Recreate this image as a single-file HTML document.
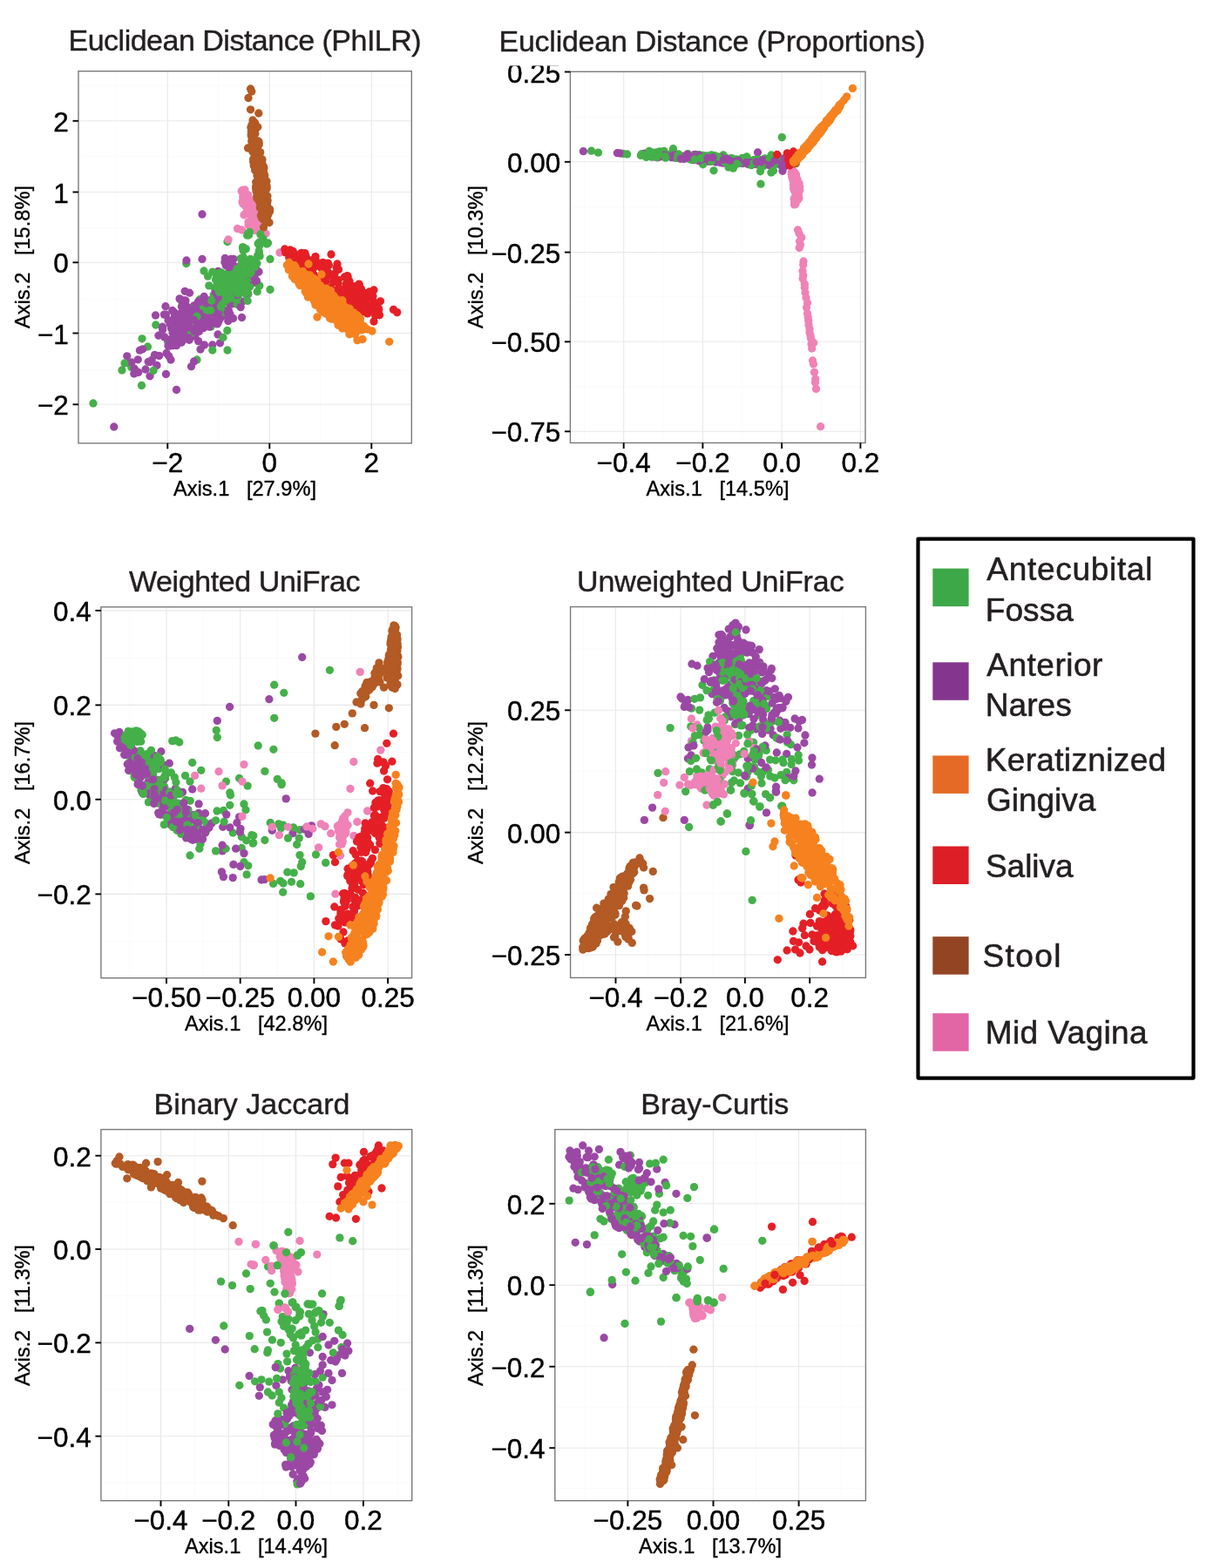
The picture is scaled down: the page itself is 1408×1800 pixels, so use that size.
<!DOCTYPE html>
<html lang="en"><head><meta charset="utf-8"><title>Ordination of beta-diversity distances</title>
<style>
html,body{margin:0;padding:0;background:#fff}
body{width:1408px;height:1800px;overflow:hidden}
svg{display:block;font-family:'Liberation Sans', sans-serif}
.tk{font-size:31.5px;fill:#000;stroke:#000;stroke-width:0.45px}
.ax{font-size:23.6px;fill:#000;stroke:#000;stroke-width:0.35px;white-space:pre}
.ti{font-size:34px;fill:#231f20;stroke:#231f20;stroke-width:0.4px}
.lg{font-size:37px;fill:#231f20;stroke:#231f20;stroke-width:0.55px}
</style></head><body>
<svg width="1408" height="1800" viewBox="0 0 1408 1800">
<rect width="1408" height="1800" fill="#fff"/>
<g class="panel">
<clipPath id="c0"><rect x="90" y="81.7" width="382.3" height="427.1"/></clipPath>
<g stroke="#fafafa" stroke-width="1" clip-path="url(#c0)">
<line x1="133.8" y1="81.7" x2="133.8" y2="508.8"/>
<line x1="250.8" y1="81.7" x2="250.8" y2="508.8"/>
<line x1="367.8" y1="81.7" x2="367.8" y2="508.8"/>
<line x1="90" y1="98" x2="472.3" y2="98"/>
<line x1="90" y1="179.7" x2="472.3" y2="179.7"/>
<line x1="90" y1="261.4" x2="472.3" y2="261.4"/>
<line x1="90" y1="343.1" x2="472.3" y2="343.1"/>
<line x1="90" y1="424.8" x2="472.3" y2="424.8"/>
<line x1="90" y1="506.4" x2="472.3" y2="506.4"/>
</g>
<g stroke="#e8e8e8" stroke-width="1.1" clip-path="url(#c0)">
<line x1="192.3" y1="81.7" x2="192.3" y2="508.8"/>
<line x1="309.3" y1="81.7" x2="309.3" y2="508.8"/>
<line x1="426.3" y1="81.7" x2="426.3" y2="508.8"/>
<line x1="90" y1="138.8" x2="472.3" y2="138.8"/>
<line x1="90" y1="220.5" x2="472.3" y2="220.5"/>
<line x1="90" y1="301.3" x2="472.3" y2="301.3"/>
<line x1="90" y1="382.5" x2="472.3" y2="382.5"/>
<line x1="90" y1="464.3" x2="472.3" y2="464.3"/>
</g>
<g clip-path="url(#c0)">
<g fill="#45B049"><circle cx="261" cy="277.5" r="4.65"/></g>
<g fill="#EF82B7"><circle cx="286.5" cy="231.7" r="4.65"/><circle cx="282.4" cy="244.2" r="4.65"/><circle cx="278.3" cy="218.4" r="4.65"/><circle cx="290" cy="232.6" r="4.65"/><circle cx="282.3" cy="224.3" r="4.65"/><circle cx="280.9" cy="221.8" r="4.65"/><circle cx="281.3" cy="221.8" r="4.65"/><circle cx="292.1" cy="242.8" r="4.65"/><circle cx="297.7" cy="262.3" r="4.65"/><circle cx="293.7" cy="261.2" r="4.65"/><circle cx="295" cy="263.5" r="4.65"/><circle cx="281.2" cy="225.2" r="4.65"/><circle cx="295.4" cy="260.4" r="4.65"/><circle cx="290.4" cy="247.6" r="4.65"/><circle cx="281.5" cy="236.5" r="4.65"/><circle cx="298" cy="257.6" r="4.65"/><circle cx="289.2" cy="251.9" r="4.65"/><circle cx="285.2" cy="258.5" r="4.65"/><circle cx="286" cy="243.1" r="4.65"/><circle cx="285" cy="254.8" r="4.65"/><circle cx="294.5" cy="258.3" r="4.65"/><circle cx="287.3" cy="231.9" r="4.65"/><circle cx="289.2" cy="242.4" r="4.65"/><circle cx="288.4" cy="245.4" r="4.65"/><circle cx="280.1" cy="222.1" r="4.65"/><circle cx="292.3" cy="264.5" r="4.65"/><circle cx="291.1" cy="234.1" r="4.65"/><circle cx="290" cy="256.2" r="4.65"/><circle cx="284" cy="236.3" r="4.65"/><circle cx="282.1" cy="225.7" r="4.65"/><circle cx="284.7" cy="223.8" r="4.65"/><circle cx="287.4" cy="232.4" r="4.65"/><circle cx="296.8" cy="246.1" r="4.65"/><circle cx="280.4" cy="230.8" r="4.65"/><circle cx="280" cy="246.8" r="4.65"/><circle cx="291.8" cy="259.7" r="4.65"/><circle cx="285.4" cy="245.5" r="4.65"/><circle cx="278.9" cy="234" r="4.65"/><circle cx="291" cy="250.5" r="4.65"/><circle cx="288.3" cy="233.3" r="4.65"/><circle cx="295.4" cy="257.6" r="4.65"/><circle cx="286.3" cy="228.6" r="4.65"/><circle cx="282.7" cy="229.3" r="4.65"/><circle cx="297.2" cy="247" r="4.65"/><circle cx="286.7" cy="230.5" r="4.65"/><circle cx="291.6" cy="248.3" r="4.65"/><circle cx="289.5" cy="263.8" r="4.65"/><circle cx="286.9" cy="229.4" r="4.65"/><circle cx="290.1" cy="255.5" r="4.65"/><circle cx="295.3" cy="255.3" r="4.65"/><circle cx="295.7" cy="263.8" r="4.65"/><circle cx="277.2" cy="219.4" r="4.65"/><circle cx="294.6" cy="263.4" r="4.65"/><circle cx="296.3" cy="255" r="4.65"/><circle cx="278.8" cy="226.5" r="4.65"/><circle cx="296.5" cy="248.7" r="4.65"/><circle cx="286.9" cy="232.3" r="4.65"/><circle cx="297.2" cy="255.2" r="4.65"/><circle cx="278" cy="231.8" r="4.65"/><circle cx="293.3" cy="250.3" r="4.65"/><circle cx="272.5" cy="262.5" r="4.65"/><circle cx="277.5" cy="264" r="4.65"/><circle cx="262" cy="275" r="4.65"/><circle cx="321" cy="290" r="4.65"/><circle cx="281" cy="218" r="4.65"/><circle cx="279" cy="224" r="4.65"/><circle cx="302" cy="270" r="4.65"/><circle cx="305" cy="268" r="4.65"/></g>
<g fill="#B35A25"><circle cx="287.5" cy="102" r="4.65"/><circle cx="288.8" cy="105" r="4.65"/><circle cx="285" cy="112.5" r="4.65"/><circle cx="287.5" cy="125.8" r="4.65"/><circle cx="296.8" cy="130" r="4.65"/><circle cx="290" cy="138" r="4.65"/><circle cx="295.8" cy="145.8" r="4.65"/><circle cx="309" cy="255.5" r="4.65"/><circle cx="302.5" cy="261" r="4.65"/><circle cx="284.5" cy="170" r="4.65"/><circle cx="294.1" cy="187.2" r="4.65"/><circle cx="290.7" cy="143" r="4.65"/><circle cx="302.8" cy="198.5" r="4.65"/><circle cx="291.3" cy="166.1" r="4.65"/><circle cx="299.2" cy="188.1" r="4.65"/><circle cx="291.3" cy="164.1" r="4.65"/><circle cx="306.6" cy="249.1" r="4.65"/><circle cx="299.9" cy="195.8" r="4.65"/><circle cx="295" cy="188.8" r="4.65"/><circle cx="298.7" cy="174.8" r="4.65"/><circle cx="296.5" cy="202" r="4.65"/><circle cx="292.7" cy="195.5" r="4.65"/><circle cx="296.7" cy="164.5" r="4.65"/><circle cx="299.4" cy="247.4" r="4.65"/><circle cx="302.3" cy="231.4" r="4.65"/><circle cx="307.1" cy="230.2" r="4.65"/><circle cx="296" cy="226.5" r="4.65"/><circle cx="301.3" cy="243.6" r="4.65"/><circle cx="303.1" cy="203.8" r="4.65"/><circle cx="306.2" cy="215.9" r="4.65"/><circle cx="305" cy="253.9" r="4.65"/><circle cx="304.9" cy="233.8" r="4.65"/><circle cx="295" cy="175.5" r="4.65"/><circle cx="302.9" cy="200.9" r="4.65"/><circle cx="291.5" cy="163.1" r="4.65"/><circle cx="294" cy="175.2" r="4.65"/><circle cx="296.5" cy="211.4" r="4.65"/><circle cx="299.2" cy="186.9" r="4.65"/><circle cx="291.2" cy="189.8" r="4.65"/><circle cx="301.8" cy="190.3" r="4.65"/><circle cx="297.4" cy="222.4" r="4.65"/><circle cx="297.8" cy="231.9" r="4.65"/><circle cx="295.6" cy="192.7" r="4.65"/><circle cx="306.4" cy="235.9" r="4.65"/><circle cx="297.2" cy="165.9" r="4.65"/><circle cx="300.3" cy="218" r="4.65"/><circle cx="288.5" cy="170.2" r="4.65"/><circle cx="298.2" cy="238.3" r="4.65"/><circle cx="300.8" cy="246.9" r="4.65"/><circle cx="294.7" cy="218.3" r="4.65"/><circle cx="305.5" cy="249.1" r="4.65"/><circle cx="288.7" cy="162" r="4.65"/><circle cx="305.7" cy="246.2" r="4.65"/><circle cx="290" cy="161.2" r="4.65"/><circle cx="292.6" cy="141" r="4.65"/><circle cx="304.1" cy="214.6" r="4.65"/><circle cx="295.1" cy="188.7" r="4.65"/><circle cx="293" cy="192.7" r="4.65"/><circle cx="302" cy="251.3" r="4.65"/><circle cx="306" cy="236" r="4.65"/><circle cx="291" cy="171.5" r="4.65"/><circle cx="294.8" cy="225" r="4.65"/><circle cx="294.5" cy="164.8" r="4.65"/><circle cx="305.9" cy="208" r="4.65"/><circle cx="297" cy="186" r="4.65"/><circle cx="301.7" cy="238.9" r="4.65"/><circle cx="297.3" cy="179.7" r="4.65"/><circle cx="300.9" cy="222.1" r="4.65"/><circle cx="300.3" cy="249.9" r="4.65"/><circle cx="294.3" cy="179.3" r="4.65"/><circle cx="294.8" cy="175" r="4.65"/><circle cx="294.5" cy="197" r="4.65"/><circle cx="300.7" cy="240.4" r="4.65"/><circle cx="301.5" cy="216" r="4.65"/><circle cx="296.4" cy="216.4" r="4.65"/><circle cx="302.5" cy="240.5" r="4.65"/><circle cx="290.8" cy="182.3" r="4.65"/><circle cx="298.7" cy="203.8" r="4.65"/><circle cx="295" cy="201.6" r="4.65"/><circle cx="301" cy="183" r="4.65"/><circle cx="302.7" cy="223.5" r="4.65"/><circle cx="304.1" cy="214.6" r="4.65"/><circle cx="297.9" cy="231" r="4.65"/><circle cx="296.2" cy="209.6" r="4.65"/><circle cx="290" cy="168.5" r="4.65"/><circle cx="295.7" cy="190.4" r="4.65"/><circle cx="295.2" cy="170.6" r="4.65"/><circle cx="290.2" cy="174.7" r="4.65"/><circle cx="292.7" cy="153.2" r="4.65"/><circle cx="300.9" cy="193.4" r="4.65"/><circle cx="296.5" cy="211.5" r="4.65"/><circle cx="303.7" cy="205.9" r="4.65"/><circle cx="290.8" cy="169.6" r="4.65"/><circle cx="299.3" cy="192.6" r="4.65"/><circle cx="296.1" cy="162.5" r="4.65"/><circle cx="288.5" cy="156.5" r="4.65"/><circle cx="289.1" cy="156" r="4.65"/><circle cx="302.3" cy="252" r="4.65"/><circle cx="294.2" cy="168.7" r="4.65"/><circle cx="302.9" cy="208.9" r="4.65"/><circle cx="306.6" cy="233.7" r="4.65"/><circle cx="293.7" cy="209" r="4.65"/><circle cx="300.4" cy="245.9" r="4.65"/><circle cx="290.7" cy="185.4" r="4.65"/><circle cx="301.9" cy="196.3" r="4.65"/><circle cx="299.3" cy="225.6" r="4.65"/><circle cx="290.8" cy="144.4" r="4.65"/><circle cx="309.5" cy="242.3" r="4.65"/><circle cx="306.9" cy="225.1" r="4.65"/><circle cx="289.6" cy="155.8" r="4.65"/><circle cx="302.5" cy="220.9" r="4.65"/><circle cx="304.9" cy="223.7" r="4.65"/><circle cx="292.6" cy="153.8" r="4.65"/><circle cx="305.9" cy="213.2" r="4.65"/><circle cx="291.2" cy="186" r="4.65"/><circle cx="293.7" cy="192" r="4.65"/><circle cx="294.1" cy="219.7" r="4.65"/><circle cx="290" cy="173.8" r="4.65"/><circle cx="287.9" cy="146.2" r="4.65"/><circle cx="293.1" cy="146.8" r="4.65"/><circle cx="302.7" cy="191.8" r="4.65"/><circle cx="303.7" cy="201.5" r="4.65"/><circle cx="288.9" cy="143.5" r="4.65"/><circle cx="305" cy="242" r="4.65"/><circle cx="298.2" cy="188.6" r="4.65"/><circle cx="309.1" cy="243.4" r="4.65"/><circle cx="297.8" cy="218.4" r="4.65"/><circle cx="304" cy="222" r="4.65"/><circle cx="296.1" cy="162" r="4.65"/><circle cx="292.5" cy="190" r="4.65"/><circle cx="301" cy="207.6" r="4.65"/><circle cx="296.7" cy="193.8" r="4.65"/><circle cx="295.6" cy="173.1" r="4.65"/><circle cx="288.2" cy="154.9" r="4.65"/><circle cx="305.1" cy="253.8" r="4.65"/><circle cx="298.7" cy="225.2" r="4.65"/><circle cx="300.7" cy="232.5" r="4.65"/><circle cx="300.3" cy="187.6" r="4.65"/><circle cx="304.2" cy="213.5" r="4.65"/><circle cx="301.8" cy="192.4" r="4.65"/><circle cx="302.1" cy="206.2" r="4.65"/><circle cx="305.6" cy="212.4" r="4.65"/><circle cx="298.9" cy="238.5" r="4.65"/><circle cx="288.4" cy="150.3" r="4.65"/><circle cx="302.1" cy="221.5" r="4.65"/><circle cx="295.9" cy="214.2" r="4.65"/><circle cx="299" cy="230.6" r="4.65"/><circle cx="304.3" cy="235.1" r="4.65"/><circle cx="309.5" cy="240.1" r="4.65"/><circle cx="305.5" cy="233.8" r="4.65"/><circle cx="300.6" cy="199.8" r="4.65"/><circle cx="302.5" cy="236" r="4.65"/><circle cx="293.8" cy="214.4" r="4.65"/><circle cx="298.9" cy="190.4" r="4.65"/><circle cx="293.6" cy="215.6" r="4.65"/><circle cx="294.7" cy="169.6" r="4.65"/><circle cx="295.6" cy="198.8" r="4.65"/><circle cx="305.7" cy="243.3" r="4.65"/><circle cx="297.4" cy="220.4" r="4.65"/><circle cx="304.2" cy="207.7" r="4.65"/><circle cx="299.5" cy="184.8" r="4.65"/><circle cx="300.1" cy="196" r="4.65"/><circle cx="302.3" cy="248.1" r="4.65"/><circle cx="299.7" cy="210.8" r="4.65"/><circle cx="305.5" cy="217.2" r="4.65"/><circle cx="307.3" cy="247.3" r="4.65"/><circle cx="298.2" cy="224.2" r="4.65"/><circle cx="295" cy="227.8" r="4.65"/><circle cx="293.9" cy="214.2" r="4.65"/><circle cx="305.5" cy="246.1" r="4.65"/><circle cx="301.3" cy="202.6" r="4.65"/><circle cx="296.9" cy="220.4" r="4.65"/><circle cx="296.1" cy="202.5" r="4.65"/><circle cx="300.6" cy="187" r="4.65"/><circle cx="296.3" cy="227.9" r="4.65"/><circle cx="289.1" cy="165.9" r="4.65"/><circle cx="300.7" cy="248.5" r="4.65"/><circle cx="300.9" cy="205.1" r="4.65"/><circle cx="294" cy="217.3" r="4.65"/><circle cx="293.1" cy="189" r="4.65"/><circle cx="299.4" cy="230" r="4.65"/><circle cx="293.8" cy="178.4" r="4.65"/><circle cx="299.9" cy="224.2" r="4.65"/><circle cx="290.7" cy="163.5" r="4.65"/><circle cx="295.2" cy="180.3" r="4.65"/><circle cx="291.8" cy="190.9" r="4.65"/><circle cx="302.2" cy="213" r="4.65"/><circle cx="295" cy="216.9" r="4.65"/><circle cx="300.4" cy="186.6" r="4.65"/><circle cx="291.8" cy="160.2" r="4.65"/><circle cx="303.6" cy="213.6" r="4.65"/><circle cx="297" cy="162.9" r="4.65"/><circle cx="299.8" cy="189.9" r="4.65"/><circle cx="300" cy="224.8" r="4.65"/><circle cx="302.7" cy="199.9" r="4.65"/><circle cx="302.8" cy="193.3" r="4.65"/><circle cx="292.3" cy="150.2" r="4.65"/><circle cx="298.2" cy="175.6" r="4.65"/><circle cx="301" cy="197.8" r="4.65"/><circle cx="301.3" cy="206.5" r="4.65"/><circle cx="303.5" cy="249" r="4.65"/><circle cx="304.5" cy="236.9" r="4.65"/><circle cx="299.3" cy="215.6" r="4.65"/><circle cx="297.6" cy="210.1" r="4.65"/><circle cx="302.4" cy="200.8" r="4.65"/><circle cx="294.9" cy="163.4" r="4.65"/><circle cx="297.3" cy="188.1" r="4.65"/><circle cx="292" cy="162.5" r="4.65"/><circle cx="298.4" cy="221.4" r="4.65"/><circle cx="288.4" cy="152.7" r="4.65"/></g>
<g fill="#45B049"><circle cx="290.3" cy="305.8" r="4.65"/></g>
<g fill="#9B48A4"><circle cx="279.9" cy="312" r="4.65"/><circle cx="235.1" cy="374.5" r="4.65"/><circle cx="217.5" cy="336.2" r="4.65"/></g>
<g fill="#45B049"><circle cx="267.4" cy="325.4" r="4.65"/></g>
<g fill="#9B48A4"><circle cx="198.6" cy="396.6" r="4.65"/></g>
<g fill="#45B049"><circle cx="287.1" cy="307.5" r="4.65"/><circle cx="261.4" cy="335.8" r="4.65"/></g>
<g fill="#9B48A4"><circle cx="234.9" cy="351.7" r="4.65"/></g>
<g fill="#45B049"><circle cx="248.6" cy="334" r="4.65"/><circle cx="209.5" cy="377.4" r="4.65"/><circle cx="269.1" cy="321" r="4.65"/></g>
<g fill="#9B48A4"><circle cx="267.7" cy="304.7" r="4.65"/><circle cx="241.4" cy="344.6" r="4.65"/><circle cx="225.7" cy="364.6" r="4.65"/></g>
<g fill="#45B049"><circle cx="238.3" cy="350.6" r="4.65"/></g>
<g fill="#9B48A4"><circle cx="263" cy="327.2" r="4.65"/><circle cx="208.7" cy="359.7" r="4.65"/></g>
<g fill="#45B049"><circle cx="267.6" cy="339.5" r="4.65"/></g>
<g fill="#9B48A4"><circle cx="238.9" cy="352" r="4.65"/></g>
<g fill="#45B049"><circle cx="268.7" cy="316.3" r="4.65"/></g>
<g fill="#9B48A4"><circle cx="186.6" cy="378.5" r="4.65"/><circle cx="229.4" cy="376.2" r="4.65"/></g>
<g fill="#45B049"><circle cx="233" cy="346.9" r="4.65"/><circle cx="272.9" cy="323.2" r="4.65"/></g>
<g fill="#9B48A4"><circle cx="229" cy="366.3" r="4.65"/></g>
<g fill="#45B049"><circle cx="216" cy="373.8" r="4.65"/><circle cx="264.7" cy="319.8" r="4.65"/></g>
<g fill="#9B48A4"><circle cx="251.7" cy="346.2" r="4.65"/><circle cx="234.5" cy="396" r="4.65"/><circle cx="229.5" cy="362.5" r="4.65"/></g>
<g fill="#45B049"><circle cx="260.8" cy="379.5" r="4.65"/><circle cx="290.6" cy="310.9" r="4.65"/></g>
<g fill="#9B48A4"><circle cx="266.2" cy="302.7" r="4.65"/><circle cx="236.9" cy="345.1" r="4.65"/></g>
<g fill="#45B049"><circle cx="268.6" cy="327.6" r="4.65"/></g>
<g fill="#9B48A4"><circle cx="147.9" cy="416.9" r="4.65"/></g>
<g fill="#45B049"><circle cx="293" cy="324.1" r="4.65"/></g>
<g fill="#9B48A4"><circle cx="224.1" cy="364.4" r="4.65"/></g>
<g fill="#45B049"><circle cx="247.3" cy="341.6" r="4.65"/><circle cx="275.2" cy="323.7" r="4.65"/><circle cx="291.9" cy="307" r="4.65"/><circle cx="277.2" cy="304.5" r="4.65"/><circle cx="277.7" cy="327.8" r="4.65"/><circle cx="202.2" cy="366.1" r="4.65"/></g>
<g fill="#9B48A4"><circle cx="263.1" cy="348.4" r="4.65"/><circle cx="190.4" cy="361.1" r="4.65"/><circle cx="188.4" cy="361.1" r="4.65"/></g>
<g fill="#45B049"><circle cx="192.5" cy="392" r="4.65"/></g>
<g fill="#9B48A4"><circle cx="233.6" cy="364.2" r="4.65"/></g>
<g fill="#45B049"><circle cx="255.6" cy="344" r="4.65"/></g>
<g fill="#9B48A4"><circle cx="212.3" cy="384.9" r="4.65"/><circle cx="280.3" cy="327.9" r="4.65"/><circle cx="208" cy="383.4" r="4.65"/></g>
<g fill="#45B049"><circle cx="281.6" cy="329.9" r="4.65"/><circle cx="269.4" cy="314.8" r="4.65"/><circle cx="275.2" cy="324.5" r="4.65"/></g>
<g fill="#9B48A4"><circle cx="252.5" cy="393.8" r="4.65"/><circle cx="239.3" cy="352.7" r="4.65"/><circle cx="153.8" cy="429" r="4.65"/><circle cx="249.4" cy="330.2" r="4.65"/></g>
<g fill="#45B049"><circle cx="200.5" cy="386.7" r="4.65"/></g>
<g fill="#9B48A4"><circle cx="256.1" cy="335.8" r="4.65"/></g>
<g fill="#45B049"><circle cx="258.8" cy="335.7" r="4.65"/><circle cx="255.1" cy="346.6" r="4.65"/><circle cx="272.4" cy="335.5" r="4.65"/><circle cx="270.5" cy="332.5" r="4.65"/></g>
<g fill="#9B48A4"><circle cx="209.8" cy="380.6" r="4.65"/><circle cx="247" cy="345.6" r="4.65"/></g>
<g fill="#45B049"><circle cx="248.6" cy="328.1" r="4.65"/></g>
<g fill="#9B48A4"><circle cx="223.9" cy="386.1" r="4.65"/><circle cx="268.3" cy="327.4" r="4.65"/><circle cx="223" cy="379.4" r="4.65"/></g>
<g fill="#45B049"><circle cx="290.3" cy="300.8" r="4.65"/><circle cx="281.2" cy="305.3" r="4.65"/></g>
<g fill="#9B48A4"><circle cx="267.5" cy="365.5" r="4.65"/></g>
<g fill="#45B049"><circle cx="275" cy="315.2" r="4.65"/></g>
<g fill="#9B48A4"><circle cx="238.2" cy="364.4" r="4.65"/><circle cx="210.8" cy="351.8" r="4.65"/></g>
<g fill="#45B049"><circle cx="286.6" cy="316.5" r="4.65"/><circle cx="229.3" cy="343.7" r="4.65"/></g>
<g fill="#9B48A4"><circle cx="196.4" cy="392.9" r="4.65"/><circle cx="243.8" cy="396" r="4.65"/></g>
<g fill="#45B049"><circle cx="265.4" cy="324.1" r="4.65"/><circle cx="230.9" cy="354.3" r="4.65"/><circle cx="279.8" cy="318.4" r="4.65"/><circle cx="283" cy="327.5" r="4.65"/></g>
<g fill="#9B48A4"><circle cx="235.1" cy="369.9" r="4.65"/><circle cx="217.2" cy="390.3" r="4.65"/><circle cx="232.2" cy="358.2" r="4.65"/><circle cx="269.6" cy="340.7" r="4.65"/><circle cx="212.7" cy="382.1" r="4.65"/><circle cx="249.2" cy="371.9" r="4.65"/><circle cx="210.3" cy="366.7" r="4.65"/><circle cx="206.4" cy="372.3" r="4.65"/><circle cx="236.8" cy="362.7" r="4.65"/><circle cx="226.9" cy="371.9" r="4.65"/><circle cx="208.8" cy="376.7" r="4.65"/></g>
<g fill="#45B049"><circle cx="218.6" cy="375.4" r="4.65"/><circle cx="259.8" cy="322.5" r="4.65"/></g>
<g fill="#9B48A4"><circle cx="209.1" cy="372.9" r="4.65"/><circle cx="222.5" cy="351" r="4.65"/><circle cx="227.3" cy="361.6" r="4.65"/></g>
<g fill="#45B049"><circle cx="284.4" cy="299.5" r="4.65"/></g>
<g fill="#9B48A4"><circle cx="232" cy="297.5" r="4.65"/></g>
<g fill="#45B049"><circle cx="279.1" cy="319.8" r="4.65"/></g>
<g fill="#9B48A4"><circle cx="196.7" cy="373.2" r="4.65"/><circle cx="268.9" cy="312.3" r="4.65"/><circle cx="250.8" cy="340.5" r="4.65"/><circle cx="210.8" cy="357.1" r="4.65"/><circle cx="232.3" cy="348.2" r="4.65"/></g>
<g fill="#45B049"><circle cx="284.4" cy="322.3" r="4.65"/><circle cx="213.8" cy="302.5" r="4.65"/></g>
<g fill="#9B48A4"><circle cx="262.3" cy="356.1" r="4.65"/><circle cx="221.1" cy="385.5" r="4.65"/></g>
<g fill="#45B049"><circle cx="273.2" cy="309.1" r="4.65"/></g>
<g fill="#9B48A4"><circle cx="233.4" cy="376.6" r="4.65"/></g>
<g fill="#45B049"><circle cx="278.5" cy="310.5" r="4.65"/><circle cx="284.2" cy="308.5" r="4.65"/></g>
<g fill="#9B48A4"><circle cx="239.4" cy="347.1" r="4.65"/></g>
<g fill="#45B049"><circle cx="307.5" cy="279" r="4.65"/><circle cx="278.2" cy="310.5" r="4.65"/></g>
<g fill="#9B48A4"><circle cx="258.8" cy="326.6" r="4.65"/></g>
<g fill="#45B049"><circle cx="169.5" cy="398" r="4.65"/><circle cx="261.9" cy="334.5" r="4.65"/><circle cx="270.8" cy="317.7" r="4.65"/></g>
<g fill="#9B48A4"><circle cx="209.3" cy="358.1" r="4.65"/><circle cx="232" cy="246" r="4.65"/><circle cx="158.8" cy="427.5" r="4.65"/></g>
<g fill="#45B049"><circle cx="211.7" cy="374.3" r="4.65"/><circle cx="246.8" cy="332.3" r="4.65"/><circle cx="250.2" cy="347.1" r="4.65"/></g>
<g fill="#9B48A4"><circle cx="230" cy="401" r="4.65"/><circle cx="229.2" cy="370.4" r="4.65"/><circle cx="235.2" cy="373.7" r="4.65"/></g>
<g fill="#45B049"><circle cx="259.3" cy="340.6" r="4.65"/><circle cx="273.1" cy="343.2" r="4.65"/></g>
<g fill="#9B48A4"><circle cx="211.3" cy="377.1" r="4.65"/><circle cx="268" cy="297.3" r="4.65"/></g>
<g fill="#45B049"><circle cx="279.1" cy="305" r="4.65"/><circle cx="178.8" cy="373" r="4.65"/></g>
<g fill="#9B48A4"><circle cx="277.3" cy="333.8" r="4.65"/><circle cx="257.8" cy="356.6" r="4.65"/></g>
<g fill="#45B049"><circle cx="212.9" cy="385.3" r="4.65"/></g>
<g fill="#9B48A4"><circle cx="233.7" cy="356.4" r="4.65"/><circle cx="213.4" cy="350.8" r="4.65"/><circle cx="202.8" cy="375.7" r="4.65"/></g>
<g fill="#45B049"><circle cx="259.7" cy="315" r="4.65"/><circle cx="234" cy="311" r="4.65"/></g>
<g fill="#9B48A4"><circle cx="177.5" cy="407.5" r="4.65"/></g>
<g fill="#45B049"><circle cx="237.6" cy="348.6" r="4.65"/></g>
<g fill="#9B48A4"><circle cx="227.7" cy="370.3" r="4.65"/><circle cx="216.5" cy="366.7" r="4.65"/></g>
<g fill="#45B049"><circle cx="245.2" cy="338.3" r="4.65"/></g>
<g fill="#9B48A4"><circle cx="249.1" cy="351.6" r="4.65"/><circle cx="271.9" cy="306.8" r="4.65"/><circle cx="263.1" cy="307.9" r="4.65"/></g>
<g fill="#45B049"><circle cx="107" cy="463" r="4.65"/></g>
<g fill="#9B48A4"><circle cx="224.8" cy="350.7" r="4.65"/></g>
<g fill="#45B049"><circle cx="276.2" cy="304.8" r="4.65"/><circle cx="270.2" cy="333.2" r="4.65"/></g>
<g fill="#9B48A4"><circle cx="158.3" cy="412.8" r="4.65"/><circle cx="284.7" cy="337.7" r="4.65"/><circle cx="290.9" cy="323.4" r="4.65"/><circle cx="247.1" cy="335.7" r="4.65"/><circle cx="197.8" cy="372" r="4.65"/></g>
<g fill="#45B049"><circle cx="287.4" cy="297.5" r="4.65"/></g>
<g fill="#9B48A4"><circle cx="216.2" cy="380.9" r="4.65"/></g>
<g fill="#45B049"><circle cx="258" cy="334.2" r="4.65"/></g>
<g fill="#9B48A4"><circle cx="174.2" cy="413.3" r="4.65"/><circle cx="212.9" cy="345.1" r="4.65"/><circle cx="251" cy="368.2" r="4.65"/><circle cx="194.7" cy="397.2" r="4.65"/></g>
<g fill="#45B049"><circle cx="297.8" cy="328" r="4.65"/></g>
<g fill="#9B48A4"><circle cx="250.4" cy="311.4" r="4.65"/></g>
<g fill="#45B049"><circle cx="295.2" cy="334.8" r="4.65"/><circle cx="310" cy="297.5" r="4.65"/><circle cx="284.6" cy="337.3" r="4.65"/></g>
<g fill="#9B48A4"><circle cx="251.5" cy="340.8" r="4.65"/></g>
<g fill="#45B049"><circle cx="219.6" cy="382.1" r="4.65"/></g>
<g fill="#9B48A4"><circle cx="226.8" cy="365" r="4.65"/></g>
<g fill="#45B049"><circle cx="271.6" cy="338" r="4.65"/><circle cx="260.9" cy="320" r="4.65"/><circle cx="279.6" cy="324.4" r="4.65"/></g>
<g fill="#9B48A4"><circle cx="203.4" cy="383.8" r="4.65"/></g>
<g fill="#45B049"><circle cx="285.7" cy="316.1" r="4.65"/></g>
<g fill="#9B48A4"><circle cx="246.4" cy="369.9" r="4.65"/></g>
<g fill="#45B049"><circle cx="250.2" cy="357.1" r="4.65"/></g>
<g fill="#9B48A4"><circle cx="223.3" cy="358.2" r="4.65"/><circle cx="223" cy="380.2" r="4.65"/></g>
<g fill="#45B049"><circle cx="274.1" cy="317.9" r="4.65"/></g>
<g fill="#9B48A4"><circle cx="180" cy="419.5" r="4.65"/></g>
<g fill="#45B049"><circle cx="271.7" cy="329.2" r="4.65"/></g>
<g fill="#9B48A4"><circle cx="211.4" cy="359.4" r="4.65"/></g>
<g fill="#45B049"><circle cx="282.4" cy="326.4" r="4.65"/><circle cx="276.4" cy="335.7" r="4.65"/></g>
<g fill="#9B48A4"><circle cx="228.8" cy="349.3" r="4.65"/></g>
<g fill="#45B049"><circle cx="140" cy="425" r="4.65"/><circle cx="276.6" cy="325.9" r="4.65"/></g>
<g fill="#9B48A4"><circle cx="238.4" cy="345.8" r="4.65"/><circle cx="256.1" cy="362.2" r="4.65"/></g>
<g fill="#45B049"><circle cx="250.7" cy="324.2" r="4.65"/><circle cx="279.2" cy="326.7" r="4.65"/><circle cx="228.3" cy="357.9" r="4.65"/><circle cx="280.4" cy="310.4" r="4.65"/></g>
<g fill="#9B48A4"><circle cx="182.6" cy="408.4" r="4.65"/></g>
<g fill="#45B049"><circle cx="150.8" cy="421.8" r="4.65"/></g>
<g fill="#9B48A4"><circle cx="130.8" cy="490" r="4.65"/><circle cx="163.8" cy="400.8" r="4.65"/><circle cx="292.5" cy="324.3" r="4.65"/></g>
<g fill="#45B049"><circle cx="268.7" cy="320.4" r="4.65"/></g>
<g fill="#9B48A4"><circle cx="170.2" cy="415.3" r="4.65"/><circle cx="244.3" cy="358.4" r="4.65"/><circle cx="216.6" cy="375.5" r="4.65"/><circle cx="278.9" cy="303.9" r="4.65"/><circle cx="252.1" cy="350.8" r="4.65"/><circle cx="226.4" cy="349.2" r="4.65"/><circle cx="242.7" cy="368.2" r="4.65"/></g>
<g fill="#45B049"><circle cx="287.7" cy="309.2" r="4.65"/></g>
<g fill="#9B48A4"><circle cx="279.4" cy="330.7" r="4.65"/><circle cx="151" cy="416" r="4.65"/><circle cx="275.5" cy="331.7" r="4.65"/></g>
<g fill="#45B049"><circle cx="270.4" cy="334.8" r="4.65"/></g>
<g fill="#9B48A4"><circle cx="193.1" cy="367.7" r="4.65"/><circle cx="245.2" cy="359" r="4.65"/><circle cx="210.8" cy="352.4" r="4.65"/><circle cx="234" cy="348.3" r="4.65"/></g>
<g fill="#45B049"><circle cx="275.5" cy="308.3" r="4.65"/></g>
<g fill="#9B48A4"><circle cx="172" cy="431.8" r="4.65"/><circle cx="200.5" cy="361.9" r="4.65"/><circle cx="209.1" cy="379.5" r="4.65"/><circle cx="227.8" cy="346.3" r="4.65"/></g>
<g fill="#45B049"><circle cx="275.2" cy="316.6" r="4.65"/></g>
<g fill="#9B48A4"><circle cx="287.1" cy="304.4" r="4.65"/><circle cx="268.6" cy="343.4" r="4.65"/><circle cx="267.1" cy="348.8" r="4.65"/></g>
<g fill="#45B049"><circle cx="275.3" cy="328.1" r="4.65"/></g>
<g fill="#9B48A4"><circle cx="208.2" cy="393.1" r="4.65"/></g>
<g fill="#45B049"><circle cx="265.2" cy="325.1" r="4.65"/><circle cx="255.3" cy="349.2" r="4.65"/><circle cx="288.9" cy="300.1" r="4.65"/></g>
<g fill="#9B48A4"><circle cx="214.3" cy="356.8" r="4.65"/></g>
<g fill="#45B049"><circle cx="257.8" cy="341.6" r="4.65"/><circle cx="264.2" cy="311.7" r="4.65"/><circle cx="268.3" cy="315.8" r="4.65"/></g>
<g fill="#9B48A4"><circle cx="212.3" cy="354.4" r="4.65"/></g>
<g fill="#45B049"><circle cx="266.5" cy="312.9" r="4.65"/></g>
<g fill="#9B48A4"><circle cx="206.1" cy="342.9" r="4.65"/></g>
<g fill="#45B049"><circle cx="275.9" cy="329.3" r="4.65"/><circle cx="275.6" cy="319.1" r="4.65"/></g>
<g fill="#9B48A4"><circle cx="212.2" cy="334.3" r="4.65"/></g>
<g fill="#45B049"><circle cx="273.1" cy="334.1" r="4.65"/></g>
<g fill="#9B48A4"><circle cx="259.3" cy="304.8" r="4.65"/></g>
<g fill="#45B049"><circle cx="273.2" cy="337" r="4.65"/></g>
<g fill="#9B48A4"><circle cx="199" cy="389.7" r="4.65"/></g>
<g fill="#45B049"><circle cx="279.9" cy="323.9" r="4.65"/></g>
<g fill="#9B48A4"><circle cx="235.7" cy="362.8" r="4.65"/><circle cx="225.3" cy="350.6" r="4.65"/><circle cx="257.9" cy="301" r="4.65"/></g>
<g fill="#45B049"><circle cx="203.2" cy="390.2" r="4.65"/><circle cx="279.2" cy="295.1" r="4.65"/><circle cx="297.4" cy="328.3" r="4.65"/><circle cx="278" cy="317.2" r="4.65"/><circle cx="263.1" cy="319.2" r="4.65"/><circle cx="262.8" cy="326.9" r="4.65"/><circle cx="253" cy="329.9" r="4.65"/><circle cx="211" cy="369.5" r="4.65"/></g>
<g fill="#9B48A4"><circle cx="213.7" cy="376.5" r="4.65"/><circle cx="258.3" cy="296.5" r="4.65"/></g>
<g fill="#45B049"><circle cx="257" cy="347.2" r="4.65"/><circle cx="274.5" cy="317.1" r="4.65"/></g>
<g fill="#9B48A4"><circle cx="196" cy="413" r="4.65"/></g>
<g fill="#45B049"><circle cx="264.7" cy="338.2" r="4.65"/><circle cx="268.9" cy="328.1" r="4.65"/></g>
<g fill="#9B48A4"><circle cx="186.5" cy="375.2" r="4.65"/><circle cx="207" cy="343.8" r="4.65"/><circle cx="204.8" cy="391.7" r="4.65"/></g>
<g fill="#45B049"><circle cx="270.6" cy="343.2" r="4.65"/></g>
<g fill="#9B48A4"><circle cx="265" cy="297.5" r="4.65"/><circle cx="254.2" cy="363.2" r="4.65"/><circle cx="214" cy="299" r="4.65"/><circle cx="211.8" cy="344.8" r="4.65"/><circle cx="201.6" cy="380.1" r="4.65"/></g>
<g fill="#45B049"><circle cx="294.9" cy="302.2" r="4.65"/></g>
<g fill="#9B48A4"><circle cx="228.5" cy="380.4" r="4.65"/></g>
<g fill="#45B049"><circle cx="251.7" cy="328.4" r="4.65"/></g>
<g fill="#9B48A4"><circle cx="190.5" cy="429.5" r="4.65"/><circle cx="277.7" cy="346.4" r="4.65"/></g>
<g fill="#45B049"><circle cx="162.5" cy="442.5" r="4.65"/></g>
<g fill="#9B48A4"><circle cx="260.5" cy="341.8" r="4.65"/></g>
<g fill="#45B049"><circle cx="254.5" cy="331.5" r="4.65"/></g>
<g fill="#9B48A4"><circle cx="277.5" cy="364.5" r="4.65"/><circle cx="202.5" cy="396.7" r="4.65"/></g>
<g fill="#45B049"><circle cx="278.4" cy="330" r="4.65"/></g>
<g fill="#9B48A4"><circle cx="248.7" cy="357.7" r="4.65"/></g>
<g fill="#45B049"><circle cx="259.9" cy="321.6" r="4.65"/></g>
<g fill="#9B48A4"><circle cx="200.1" cy="359" r="4.65"/></g>
<g fill="#45B049"><circle cx="248.3" cy="329.7" r="4.65"/></g>
<g fill="#9B48A4"><circle cx="220" cy="362.9" r="4.65"/></g>
<g fill="#45B049"><circle cx="272.2" cy="349.5" r="4.65"/></g>
<g fill="#9B48A4"><circle cx="245.2" cy="349.2" r="4.65"/><circle cx="209" cy="350.4" r="4.65"/><circle cx="200.3" cy="366.4" r="4.65"/></g>
<g fill="#45B049"><circle cx="226" cy="413" r="4.65"/></g>
<g fill="#9B48A4"><circle cx="222.5" cy="415" r="4.65"/></g>
<g fill="#45B049"><circle cx="242" cy="375" r="4.65"/></g>
<g fill="#9B48A4"><circle cx="193" cy="396.9" r="4.65"/><circle cx="263.9" cy="360.4" r="4.65"/><circle cx="225.7" cy="362.3" r="4.65"/></g>
<g fill="#45B049"><circle cx="284.9" cy="317.2" r="4.65"/><circle cx="286.6" cy="329.3" r="4.65"/></g>
<g fill="#9B48A4"><circle cx="212.6" cy="369.8" r="4.65"/></g>
<g fill="#45B049"><circle cx="256" cy="358.8" r="4.65"/><circle cx="268.6" cy="335.2" r="4.65"/></g>
<g fill="#9B48A4"><circle cx="203" cy="381.2" r="4.65"/><circle cx="260" cy="300.4" r="4.65"/></g>
<g fill="#45B049"><circle cx="266.4" cy="330.5" r="4.65"/><circle cx="248.4" cy="318.2" r="4.65"/><circle cx="289.4" cy="306.3" r="4.65"/><circle cx="278.1" cy="308.5" r="4.65"/><circle cx="259.5" cy="336" r="4.65"/><circle cx="273.5" cy="320.2" r="4.65"/></g>
<g fill="#9B48A4"><circle cx="231.5" cy="349.1" r="4.65"/></g>
<g fill="#45B049"><circle cx="256.4" cy="344.4" r="4.65"/><circle cx="238.8" cy="365.5" r="4.65"/></g>
<g fill="#9B48A4"><circle cx="219.4" cy="365.3" r="4.65"/></g>
<g fill="#45B049"><circle cx="293.7" cy="308.4" r="4.65"/></g>
<g fill="#9B48A4"><circle cx="240.2" cy="375.2" r="4.65"/><circle cx="145.8" cy="408.8" r="4.65"/><circle cx="250.1" cy="341.8" r="4.65"/></g>
<g fill="#45B049"><circle cx="277.2" cy="330" r="4.65"/></g>
<g fill="#9B48A4"><circle cx="211.1" cy="369.3" r="4.65"/><circle cx="232.3" cy="344.9" r="4.65"/><circle cx="275.9" cy="329.2" r="4.65"/><circle cx="225.4" cy="357.3" r="4.65"/></g>
<g fill="#45B049"><circle cx="284.3" cy="336.2" r="4.65"/><circle cx="239.9" cy="327.9" r="4.65"/><circle cx="260" cy="335.7" r="4.65"/></g>
<g fill="#9B48A4"><circle cx="294.4" cy="322.3" r="4.65"/></g>
<g fill="#45B049"><circle cx="277" cy="329.2" r="4.65"/></g>
<g fill="#9B48A4"><circle cx="276.2" cy="352.6" r="4.65"/></g>
<g fill="#45B049"><circle cx="275" cy="307.9" r="4.65"/><circle cx="281" cy="324.5" r="4.65"/><circle cx="280.4" cy="322.7" r="4.65"/><circle cx="288.8" cy="318.1" r="4.65"/><circle cx="265.3" cy="321.4" r="4.65"/></g>
<g fill="#9B48A4"><circle cx="287" cy="314.3" r="4.65"/></g>
<g fill="#45B049"><circle cx="268.3" cy="335.9" r="4.65"/><circle cx="255" cy="333" r="4.65"/></g>
<g fill="#9B48A4"><circle cx="202.5" cy="447.5" r="4.65"/></g>
<g fill="#45B049"><circle cx="256.1" cy="334.9" r="4.65"/><circle cx="257.2" cy="330.9" r="4.65"/></g>
<g fill="#9B48A4"><circle cx="198.1" cy="382" r="4.65"/></g>
<g fill="#45B049"><circle cx="276.1" cy="296.8" r="4.65"/><circle cx="255.4" cy="332.3" r="4.65"/></g>
<g fill="#9B48A4"><circle cx="268.8" cy="306.4" r="4.65"/></g>
<g fill="#45B049"><circle cx="238.5" cy="317.1" r="4.65"/><circle cx="220" cy="354.3" r="4.65"/><circle cx="277.2" cy="312.8" r="4.65"/><circle cx="262.1" cy="327.6" r="4.65"/><circle cx="255" cy="317.6" r="4.65"/></g>
<g fill="#9B48A4"><circle cx="202.5" cy="366" r="4.65"/></g>
<g fill="#45B049"><circle cx="310" cy="332.5" r="4.65"/><circle cx="265.7" cy="336.4" r="4.65"/><circle cx="271.4" cy="309" r="4.65"/></g>
<g fill="#9B48A4"><circle cx="197.8" cy="356.4" r="4.65"/></g>
<g fill="#45B049"><circle cx="261.1" cy="343.9" r="4.65"/></g>
<g fill="#9B48A4"><circle cx="233.1" cy="357.6" r="4.65"/></g>
<g fill="#45B049"><circle cx="273.2" cy="322.3" r="4.65"/></g>
<g fill="#9B48A4"><circle cx="154.3" cy="423.2" r="4.65"/></g>
<g fill="#45B049"><circle cx="251.4" cy="335.3" r="4.65"/><circle cx="286.6" cy="309.8" r="4.65"/><circle cx="295.4" cy="312.4" r="4.65"/></g>
<g fill="#9B48A4"><circle cx="238.7" cy="362" r="4.65"/></g>
<g fill="#45B049"><circle cx="251.1" cy="322" r="4.65"/><circle cx="253.2" cy="333.2" r="4.65"/></g>
<g fill="#9B48A4"><circle cx="199.7" cy="365.2" r="4.65"/><circle cx="244.3" cy="357" r="4.65"/><circle cx="193.8" cy="408.8" r="4.65"/></g>
<g fill="#45B049"><circle cx="273.1" cy="341.1" r="4.65"/></g>
<g fill="#9B48A4"><circle cx="182" cy="385.2" r="4.65"/><circle cx="210.6" cy="347.8" r="4.65"/></g>
<g fill="#45B049"><circle cx="282.3" cy="338.1" r="4.65"/></g>
<g fill="#9B48A4"><circle cx="241" cy="368.3" r="4.65"/></g>
<g fill="#45B049"><circle cx="273.8" cy="319.4" r="4.65"/><circle cx="269.1" cy="334.4" r="4.65"/></g>
<g fill="#9B48A4"><circle cx="297" cy="312" r="4.65"/></g>
<g fill="#45B049"><circle cx="279.3" cy="307.3" r="4.65"/></g>
<g fill="#9B48A4"><circle cx="230.5" cy="356.2" r="4.65"/><circle cx="291.7" cy="319.4" r="4.65"/></g>
<g fill="#45B049"><circle cx="266.6" cy="326.6" r="4.65"/><circle cx="281" cy="327" r="4.65"/><circle cx="237.4" cy="356.5" r="4.65"/></g>
<g fill="#9B48A4"><circle cx="210.7" cy="374.2" r="4.65"/><circle cx="234.1" cy="364.2" r="4.65"/><circle cx="216.7" cy="387.8" r="4.65"/></g>
<g fill="#45B049"><circle cx="233.1" cy="351.4" r="4.65"/></g>
<g fill="#9B48A4"><circle cx="261" cy="359" r="4.65"/><circle cx="252.5" cy="365.8" r="4.65"/></g>
<g fill="#45B049"><circle cx="277.9" cy="299.9" r="4.65"/></g>
<g fill="#9B48A4"><circle cx="271.9" cy="338.5" r="4.65"/><circle cx="201.1" cy="359.6" r="4.65"/><circle cx="247.4" cy="361.5" r="4.65"/><circle cx="205.5" cy="366.8" r="4.65"/></g>
<g fill="#45B049"><circle cx="271.3" cy="319.2" r="4.65"/></g>
<g fill="#9B48A4"><circle cx="206.1" cy="371.7" r="4.65"/><circle cx="204.4" cy="384.1" r="4.65"/></g>
<g fill="#45B049"><circle cx="285.9" cy="318.9" r="4.65"/><circle cx="275.7" cy="307" r="4.65"/></g>
<g fill="#9B48A4"><circle cx="277.7" cy="319.3" r="4.65"/><circle cx="261.8" cy="368.4" r="4.65"/><circle cx="250.4" cy="359.2" r="4.65"/></g>
<g fill="#45B049"><circle cx="267.8" cy="319.6" r="4.65"/></g>
<g fill="#9B48A4"><circle cx="250" cy="384" r="4.65"/><circle cx="227.6" cy="391.6" r="4.65"/><circle cx="167" cy="424" r="4.65"/></g>
<g fill="#45B049"><circle cx="243.9" cy="312.1" r="4.65"/></g>
<g fill="#9B48A4"><circle cx="195.2" cy="372.2" r="4.65"/><circle cx="211.6" cy="375" r="4.65"/><circle cx="203.9" cy="376.4" r="4.65"/></g>
<g fill="#45B049"><circle cx="256" cy="387.5" r="4.65"/></g>
<g fill="#9B48A4"><circle cx="282.4" cy="336.5" r="4.65"/><circle cx="292.1" cy="319.1" r="4.65"/></g>
<g fill="#45B049"><circle cx="268.7" cy="327.6" r="4.65"/></g>
<g fill="#9B48A4"><circle cx="193.9" cy="389.8" r="4.65"/><circle cx="191" cy="405.5" r="4.65"/><circle cx="286.5" cy="314.6" r="4.65"/></g>
<g fill="#45B049"><circle cx="163" cy="388.8" r="4.65"/></g>
<g fill="#9B48A4"><circle cx="215.6" cy="353.1" r="4.65"/><circle cx="219.6" cy="360" r="4.65"/></g>
<g fill="#45B049"><circle cx="268.5" cy="330.7" r="4.65"/></g>
<g fill="#9B48A4"><circle cx="190" cy="351.7" r="4.65"/><circle cx="188.7" cy="386.9" r="4.65"/></g>
<g fill="#45B049"><circle cx="287" cy="298.1" r="4.65"/><circle cx="248.1" cy="314.3" r="4.65"/></g>
<g fill="#9B48A4"><circle cx="222.5" cy="354.9" r="4.65"/><circle cx="227.6" cy="380.1" r="4.65"/></g>
<g fill="#45B049"><circle cx="284.1" cy="345.4" r="4.65"/><circle cx="176" cy="425.5" r="4.65"/></g>
<g fill="#9B48A4"><circle cx="244.2" cy="370.5" r="4.65"/></g>
<g fill="#45B049"><circle cx="255.4" cy="333.8" r="4.65"/><circle cx="284.4" cy="300.9" r="4.65"/><circle cx="272.9" cy="323.2" r="4.65"/></g>
<g fill="#9B48A4"><circle cx="241.2" cy="346.5" r="4.65"/></g>
<g fill="#45B049"><circle cx="274.4" cy="326.9" r="4.65"/></g>
<g fill="#9B48A4"><circle cx="196.5" cy="376.7" r="4.65"/><circle cx="244.5" cy="352.7" r="4.65"/></g>
<g fill="#45B049"><circle cx="253.5" cy="352.1" r="4.65"/></g>
<g fill="#9B48A4"><circle cx="227.7" cy="372.2" r="4.65"/><circle cx="236.7" cy="348" r="4.65"/></g>
<g fill="#45B049"><circle cx="259.9" cy="333.9" r="4.65"/></g>
<g fill="#9B48A4"><circle cx="213.8" cy="373.6" r="4.65"/><circle cx="178.5" cy="362" r="4.65"/></g>
<g fill="#45B049"><circle cx="261" cy="402" r="4.65"/><circle cx="264.6" cy="342" r="4.65"/></g>
<g fill="#9B48A4"><circle cx="216.1" cy="372.8" r="4.65"/><circle cx="172.5" cy="415.5" r="4.65"/></g>
<g fill="#45B049"><circle cx="254.8" cy="322.5" r="4.65"/></g>
<g fill="#9B48A4"><circle cx="214.4" cy="375.5" r="4.65"/><circle cx="225.4" cy="375.7" r="4.65"/></g>
<g fill="#45B049"><circle cx="292.3" cy="306.2" r="4.65"/></g>
<g fill="#9B48A4"><circle cx="227.7" cy="346" r="4.65"/></g>
<g fill="#45B049"><circle cx="269.8" cy="330.8" r="4.65"/></g>
<g fill="#9B48A4"><circle cx="211.6" cy="377.2" r="4.65"/><circle cx="226.5" cy="365.8" r="4.65"/><circle cx="214.9" cy="362.4" r="4.65"/><circle cx="213.9" cy="373.8" r="4.65"/></g>
<g fill="#45B049"><circle cx="260.8" cy="316.1" r="4.65"/><circle cx="241.8" cy="356.2" r="4.65"/><circle cx="254" cy="312.8" r="4.65"/></g>
<g fill="#9B48A4"><circle cx="250.2" cy="370.6" r="4.65"/></g>
<g fill="#45B049"><circle cx="282" cy="311.9" r="4.65"/><circle cx="276.9" cy="321" r="4.65"/><circle cx="242.7" cy="345.3" r="4.65"/></g>
<g fill="#9B48A4"><circle cx="234.2" cy="340.5" r="4.65"/><circle cx="199.6" cy="391.5" r="4.65"/></g>
<g fill="#45B049"><circle cx="226" cy="363.2" r="4.65"/></g>
<g fill="#9B48A4"><circle cx="219.5" cy="420.8" r="4.65"/></g>
<g fill="#45B049"><circle cx="267" cy="322.1" r="4.65"/><circle cx="270.1" cy="318.7" r="4.65"/><circle cx="280.8" cy="314.8" r="4.65"/><circle cx="256.5" cy="325.5" r="4.65"/><circle cx="272.6" cy="336.8" r="4.65"/><circle cx="267.8" cy="325.2" r="4.65"/></g>
<g fill="#9B48A4"><circle cx="263" cy="306.7" r="4.65"/></g>
<g fill="#45B049"><circle cx="283.8" cy="334.9" r="4.65"/></g>
<g fill="#9B48A4"><circle cx="208.5" cy="352.2" r="4.65"/><circle cx="215.3" cy="367.4" r="4.65"/><circle cx="246.3" cy="370" r="4.65"/></g>
<g fill="#45B049"><circle cx="271" cy="312.6" r="4.65"/></g>
<g fill="#9B48A4"><circle cx="205" cy="384.5" r="4.65"/></g>
<g fill="#45B049"><circle cx="279.7" cy="325" r="4.65"/><circle cx="265.9" cy="319.7" r="4.65"/><circle cx="143" cy="417" r="4.65"/><circle cx="281.1" cy="336.5" r="4.65"/></g>
<g fill="#9B48A4"><circle cx="212.5" cy="365.2" r="4.65"/></g>
<g fill="#45B049"><circle cx="280" cy="327.4" r="4.65"/></g>
<g fill="#9B48A4"><circle cx="228.8" cy="346.7" r="4.65"/><circle cx="222.7" cy="367.5" r="4.65"/><circle cx="160.4" cy="402.2" r="4.65"/></g>
<g fill="#45B049"><circle cx="279.7" cy="324" r="4.65"/></g>
<g fill="#9B48A4"><circle cx="233.5" cy="369.2" r="4.65"/></g>
<g fill="#45B049"><circle cx="287" cy="314.3" r="4.65"/><circle cx="262.7" cy="336.3" r="4.65"/></g>
<g fill="#9B48A4"><circle cx="206.1" cy="380.5" r="4.65"/></g>
<g fill="#45B049"><circle cx="273.6" cy="316.6" r="4.65"/></g>
<g fill="#9B48A4"><circle cx="209.3" cy="391.2" r="4.65"/></g>
<g fill="#45B049"><circle cx="247.5" cy="321" r="4.65"/></g>
<g fill="#9B48A4"><circle cx="208.8" cy="383.4" r="4.65"/></g>
<g fill="#45B049"><circle cx="243.8" cy="402" r="4.65"/><circle cx="284.8" cy="267.8" r="4.65"/><circle cx="278.7" cy="283.6" r="4.65"/><circle cx="285.6" cy="269.8" r="4.65"/><circle cx="279.2" cy="285.8" r="4.65"/><circle cx="283.7" cy="270.2" r="4.65"/><circle cx="279.1" cy="287.6" r="4.65"/><circle cx="278.6" cy="284.5" r="4.65"/><circle cx="286.3" cy="266.4" r="4.65"/><circle cx="282.3" cy="285.8" r="4.65"/><circle cx="297.3" cy="290.6" r="4.65"/><circle cx="298.1" cy="293.9" r="4.65"/><circle cx="298.8" cy="269" r="4.65"/><circle cx="296.1" cy="279.7" r="4.65"/><circle cx="295.5" cy="293.7" r="4.65"/><circle cx="297.3" cy="290.6" r="4.65"/><circle cx="297.7" cy="278.8" r="4.65"/><circle cx="297.2" cy="288.1" r="4.65"/><circle cx="297.7" cy="282" r="4.65"/><circle cx="297.4" cy="278.2" r="4.65"/><circle cx="302" cy="274" r="4.65"/><circle cx="306" cy="280" r="4.65"/></g>
<g fill="#E51F26"><circle cx="354.8" cy="312.5" r="4.65"/><circle cx="402" cy="338.7" r="4.65"/><circle cx="365.8" cy="323.2" r="4.65"/><circle cx="400" cy="342.3" r="4.65"/><circle cx="332.9" cy="287" r="4.65"/><circle cx="338.1" cy="298.2" r="4.65"/><circle cx="343.5" cy="298.3" r="4.65"/><circle cx="343.8" cy="306" r="4.65"/><circle cx="378" cy="314.3" r="4.65"/><circle cx="358.2" cy="310.5" r="4.65"/><circle cx="388.5" cy="309.4" r="4.65"/><circle cx="430.7" cy="362.3" r="4.65"/><circle cx="416.4" cy="354.6" r="4.65"/><circle cx="345.6" cy="303.5" r="4.65"/><circle cx="372.5" cy="309.7" r="4.65"/><circle cx="399.1" cy="317.7" r="4.65"/><circle cx="361.9" cy="304.8" r="4.65"/><circle cx="397.2" cy="338.9" r="4.65"/><circle cx="430.7" cy="352.3" r="4.65"/><circle cx="327.7" cy="289.9" r="4.65"/><circle cx="381.4" cy="333.7" r="4.65"/><circle cx="429" cy="346.7" r="4.65"/><circle cx="383.9" cy="314.4" r="4.65"/><circle cx="398.3" cy="335.2" r="4.65"/><circle cx="364.4" cy="319.5" r="4.65"/><circle cx="404.8" cy="344" r="4.65"/><circle cx="369.7" cy="316.7" r="4.65"/><circle cx="401.9" cy="331.7" r="4.65"/><circle cx="409.6" cy="346.7" r="4.65"/><circle cx="414.2" cy="355" r="4.65"/><circle cx="414.2" cy="338.7" r="4.65"/><circle cx="371.3" cy="321.2" r="4.65"/><circle cx="395.4" cy="318" r="4.65"/><circle cx="385.8" cy="337.1" r="4.65"/><circle cx="368.3" cy="307.2" r="4.65"/><circle cx="429.4" cy="349.9" r="4.65"/><circle cx="393.6" cy="340.2" r="4.65"/><circle cx="408.5" cy="342" r="4.65"/><circle cx="421.6" cy="356.2" r="4.65"/><circle cx="412.9" cy="346.2" r="4.65"/><circle cx="362" cy="294.6" r="4.65"/><circle cx="345.8" cy="290.5" r="4.65"/><circle cx="431.6" cy="349.3" r="4.65"/><circle cx="349.9" cy="290.6" r="4.65"/><circle cx="371.3" cy="321.4" r="4.65"/><circle cx="346.4" cy="305.3" r="4.65"/><circle cx="360.2" cy="315.5" r="4.65"/><circle cx="370.6" cy="311.9" r="4.65"/><circle cx="408.2" cy="349.2" r="4.65"/><circle cx="434.8" cy="354.9" r="4.65"/><circle cx="371.8" cy="323.6" r="4.65"/><circle cx="331.8" cy="295.7" r="4.65"/><circle cx="433.5" cy="355.5" r="4.65"/><circle cx="418.5" cy="354.7" r="4.65"/><circle cx="399.2" cy="327.1" r="4.65"/><circle cx="399.1" cy="337" r="4.65"/><circle cx="362.5" cy="299.6" r="4.65"/><circle cx="419.9" cy="351.5" r="4.65"/><circle cx="375.6" cy="303.6" r="4.65"/><circle cx="414.4" cy="331.5" r="4.65"/><circle cx="336.2" cy="288.5" r="4.65"/><circle cx="372.8" cy="308.4" r="4.65"/><circle cx="424.9" cy="341.8" r="4.65"/><circle cx="405.4" cy="329" r="4.65"/><circle cx="358.8" cy="309.3" r="4.65"/><circle cx="418.3" cy="336.5" r="4.65"/><circle cx="367.9" cy="317.1" r="4.65"/><circle cx="372.3" cy="325.6" r="4.65"/><circle cx="433" cy="351.3" r="4.65"/><circle cx="417.8" cy="351.6" r="4.65"/><circle cx="388.3" cy="338.4" r="4.65"/><circle cx="419.9" cy="356.3" r="4.65"/><circle cx="359.6" cy="317.4" r="4.65"/><circle cx="412.1" cy="328.2" r="4.65"/><circle cx="417.3" cy="345" r="4.65"/><circle cx="356.1" cy="305.8" r="4.65"/><circle cx="417.8" cy="354" r="4.65"/><circle cx="394.4" cy="331.8" r="4.65"/><circle cx="342.8" cy="305" r="4.65"/><circle cx="378.9" cy="330.3" r="4.65"/><circle cx="430.2" cy="355.3" r="4.65"/><circle cx="371.5" cy="320.7" r="4.65"/><circle cx="370.5" cy="301.4" r="4.65"/><circle cx="360.1" cy="300.9" r="4.65"/><circle cx="429.8" cy="353.6" r="4.65"/><circle cx="374.2" cy="303.6" r="4.65"/><circle cx="386.8" cy="333.1" r="4.65"/><circle cx="386.2" cy="307.3" r="4.65"/><circle cx="398.9" cy="332" r="4.65"/><circle cx="359.1" cy="308.1" r="4.65"/><circle cx="406.7" cy="328.9" r="4.65"/><circle cx="360.6" cy="306.5" r="4.65"/><circle cx="343.5" cy="298.7" r="4.65"/><circle cx="373.9" cy="303.9" r="4.65"/><circle cx="344" cy="294.5" r="4.65"/><circle cx="400.3" cy="326.9" r="4.65"/><circle cx="387" cy="323" r="4.65"/><circle cx="344.2" cy="299.9" r="4.65"/><circle cx="397.1" cy="345.3" r="4.65"/><circle cx="374.1" cy="319.1" r="4.65"/><circle cx="372.3" cy="305.7" r="4.65"/><circle cx="340.2" cy="298.1" r="4.65"/><circle cx="360.9" cy="298" r="4.65"/><circle cx="356.3" cy="301.1" r="4.65"/><circle cx="339.9" cy="292.6" r="4.65"/><circle cx="342.7" cy="296.6" r="4.65"/><circle cx="412" cy="326.1" r="4.65"/><circle cx="334.3" cy="298.3" r="4.65"/><circle cx="402.7" cy="330.8" r="4.65"/><circle cx="379.7" cy="315.9" r="4.65"/><circle cx="401" cy="322.8" r="4.65"/><circle cx="398.7" cy="324.4" r="4.65"/><circle cx="372.6" cy="316.6" r="4.65"/><circle cx="371.5" cy="304.2" r="4.65"/><circle cx="414.9" cy="335.4" r="4.65"/><circle cx="356.5" cy="307.3" r="4.65"/><circle cx="382.6" cy="323.8" r="4.65"/><circle cx="390.9" cy="332.5" r="4.65"/><circle cx="425" cy="351.1" r="4.65"/><circle cx="415.6" cy="337.8" r="4.65"/><circle cx="408.5" cy="341.2" r="4.65"/><circle cx="348.8" cy="305.7" r="4.65"/><circle cx="373.6" cy="308.5" r="4.65"/><circle cx="340.9" cy="300.3" r="4.65"/><circle cx="420" cy="344.2" r="4.65"/><circle cx="388.2" cy="321.3" r="4.65"/><circle cx="393.8" cy="334.8" r="4.65"/><circle cx="415.4" cy="350.2" r="4.65"/><circle cx="346.3" cy="300.2" r="4.65"/><circle cx="333.6" cy="289.2" r="4.65"/><circle cx="397.1" cy="326" r="4.65"/><circle cx="426.7" cy="355.9" r="4.65"/><circle cx="408.5" cy="352.7" r="4.65"/><circle cx="370.1" cy="321.1" r="4.65"/><circle cx="338.7" cy="299.2" r="4.65"/><circle cx="342" cy="293.8" r="4.65"/><circle cx="403.5" cy="334.7" r="4.65"/><circle cx="370.7" cy="303" r="4.65"/><circle cx="391.9" cy="341.1" r="4.65"/><circle cx="430.4" cy="357.3" r="4.65"/><circle cx="339.2" cy="295.2" r="4.65"/><circle cx="388" cy="325.3" r="4.65"/><circle cx="421.8" cy="359.9" r="4.65"/><circle cx="406.4" cy="339.1" r="4.65"/><circle cx="398.5" cy="316.6" r="4.65"/><circle cx="426" cy="354.1" r="4.65"/><circle cx="379.3" cy="316.3" r="4.65"/><circle cx="357.5" cy="298.9" r="4.65"/><circle cx="403" cy="331.9" r="4.65"/><circle cx="376.3" cy="302.1" r="4.65"/><circle cx="369.8" cy="305.5" r="4.65"/><circle cx="352" cy="297.1" r="4.65"/><circle cx="350.2" cy="305.8" r="4.65"/><circle cx="431.2" cy="361" r="4.65"/><circle cx="382.2" cy="332.9" r="4.65"/><circle cx="385.6" cy="322.2" r="4.65"/><circle cx="339.8" cy="300.5" r="4.65"/><circle cx="343.7" cy="303.6" r="4.65"/><circle cx="353.6" cy="302.1" r="4.65"/><circle cx="403.6" cy="348.6" r="4.65"/><circle cx="408.7" cy="336.1" r="4.65"/><circle cx="434.3" cy="358.9" r="4.65"/><circle cx="418" cy="357.9" r="4.65"/><circle cx="411.7" cy="350.3" r="4.65"/><circle cx="377.3" cy="304.3" r="4.65"/><circle cx="418.1" cy="350" r="4.65"/><circle cx="339.3" cy="294.9" r="4.65"/><circle cx="374.1" cy="322.7" r="4.65"/><circle cx="395.9" cy="342.8" r="4.65"/><circle cx="375.7" cy="311.4" r="4.65"/><circle cx="326.8" cy="286" r="4.65"/><circle cx="336" cy="290" r="4.65"/><circle cx="351" cy="294" r="4.65"/><circle cx="380" cy="292" r="4.65"/><circle cx="387" cy="303" r="4.65"/><circle cx="412" cy="326.7" r="4.65"/><circle cx="429" cy="333" r="4.65"/><circle cx="436.5" cy="345.8" r="4.65"/><circle cx="435.5" cy="361.8" r="4.65"/><circle cx="429" cy="369" r="4.65"/><circle cx="451.5" cy="355.4" r="4.65"/><circle cx="455.7" cy="358.6" r="4.65"/><circle cx="428" cy="340" r="4.65"/><circle cx="431" cy="352" r="4.65"/><circle cx="424" cy="335" r="4.65"/></g>
<g fill="#F6821F"><circle cx="392.8" cy="344.7" r="4.65"/><circle cx="351.8" cy="332.7" r="4.65"/><circle cx="385" cy="362.5" r="4.65"/><circle cx="407.2" cy="369" r="4.65"/><circle cx="407.9" cy="364.3" r="4.65"/><circle cx="377.1" cy="358.1" r="4.65"/><circle cx="377" cy="355.1" r="4.65"/><circle cx="353.4" cy="341" r="4.65"/><circle cx="368.1" cy="339.5" r="4.65"/><circle cx="372.8" cy="335.7" r="4.65"/><circle cx="379.5" cy="333.6" r="4.65"/><circle cx="352.4" cy="337.5" r="4.65"/><circle cx="363.5" cy="330.8" r="4.65"/><circle cx="409.6" cy="365.1" r="4.65"/><circle cx="406.9" cy="361.7" r="4.65"/><circle cx="417.6" cy="374.5" r="4.65"/><circle cx="354.1" cy="317.9" r="4.65"/><circle cx="380.6" cy="358.3" r="4.65"/><circle cx="390.1" cy="356.5" r="4.65"/><circle cx="372.1" cy="342.3" r="4.65"/><circle cx="396.2" cy="375" r="4.65"/><circle cx="370.2" cy="358.2" r="4.65"/><circle cx="339.7" cy="316.9" r="4.65"/><circle cx="385.3" cy="358.9" r="4.65"/><circle cx="344" cy="326.7" r="4.65"/><circle cx="364.7" cy="346.3" r="4.65"/><circle cx="366.1" cy="338.9" r="4.65"/><circle cx="398.7" cy="361.6" r="4.65"/><circle cx="398.5" cy="376.8" r="4.65"/><circle cx="392.8" cy="377" r="4.65"/><circle cx="367.7" cy="331.4" r="4.65"/><circle cx="369.8" cy="341.6" r="4.65"/><circle cx="386.9" cy="351.1" r="4.65"/><circle cx="392.4" cy="355.2" r="4.65"/><circle cx="348.1" cy="325.4" r="4.65"/><circle cx="362.2" cy="324.5" r="4.65"/><circle cx="367.3" cy="331.5" r="4.65"/><circle cx="380.7" cy="353" r="4.65"/><circle cx="374.7" cy="331.2" r="4.65"/><circle cx="378.1" cy="357.1" r="4.65"/><circle cx="402.4" cy="382.1" r="4.65"/><circle cx="367.6" cy="346.4" r="4.65"/><circle cx="389.8" cy="365.4" r="4.65"/><circle cx="350.7" cy="324.1" r="4.65"/><circle cx="397.9" cy="356.9" r="4.65"/><circle cx="362.3" cy="322.7" r="4.65"/><circle cx="339.5" cy="309.8" r="4.65"/><circle cx="386.2" cy="352.8" r="4.65"/><circle cx="380.9" cy="357.1" r="4.65"/><circle cx="341.3" cy="310.8" r="4.65"/><circle cx="413.6" cy="378.1" r="4.65"/><circle cx="357.5" cy="327.6" r="4.65"/><circle cx="350.2" cy="334.5" r="4.65"/><circle cx="415.7" cy="378.6" r="4.65"/><circle cx="404.7" cy="377.5" r="4.65"/><circle cx="359.3" cy="319.1" r="4.65"/><circle cx="414.2" cy="374.2" r="4.65"/><circle cx="351.6" cy="336.5" r="4.65"/><circle cx="331.3" cy="309.7" r="4.65"/><circle cx="362.1" cy="339.5" r="4.65"/><circle cx="358.2" cy="328.2" r="4.65"/><circle cx="411.9" cy="375.9" r="4.65"/><circle cx="350" cy="315" r="4.65"/><circle cx="360.5" cy="345.4" r="4.65"/><circle cx="387.8" cy="344.6" r="4.65"/><circle cx="390" cy="361.5" r="4.65"/><circle cx="362" cy="350" r="4.65"/><circle cx="350.8" cy="333.7" r="4.65"/><circle cx="342.2" cy="319.1" r="4.65"/><circle cx="407.5" cy="383.6" r="4.65"/><circle cx="343.9" cy="324.6" r="4.65"/><circle cx="367.4" cy="330.4" r="4.65"/><circle cx="336.2" cy="304.9" r="4.65"/><circle cx="385.3" cy="361.2" r="4.65"/><circle cx="382.8" cy="339.3" r="4.65"/><circle cx="399.1" cy="353.9" r="4.65"/><circle cx="335.4" cy="317" r="4.65"/><circle cx="370.8" cy="343.9" r="4.65"/><circle cx="355.3" cy="340.8" r="4.65"/><circle cx="400.3" cy="378.8" r="4.65"/><circle cx="346.4" cy="315.8" r="4.65"/><circle cx="378.4" cy="364.9" r="4.65"/><circle cx="340.3" cy="311.9" r="4.65"/><circle cx="396.7" cy="368.3" r="4.65"/><circle cx="389.2" cy="360.7" r="4.65"/><circle cx="337.7" cy="306.8" r="4.65"/><circle cx="378.7" cy="350.6" r="4.65"/><circle cx="347.9" cy="315.2" r="4.65"/><circle cx="384.6" cy="354.9" r="4.65"/><circle cx="389.8" cy="347" r="4.65"/><circle cx="414.5" cy="378.7" r="4.65"/><circle cx="363.3" cy="347.2" r="4.65"/><circle cx="347.7" cy="326.7" r="4.65"/><circle cx="354.3" cy="328.6" r="4.65"/><circle cx="387.1" cy="365.3" r="4.65"/><circle cx="369.3" cy="346.5" r="4.65"/><circle cx="380.5" cy="356" r="4.65"/><circle cx="363.9" cy="328.1" r="4.65"/><circle cx="371.1" cy="345.9" r="4.65"/><circle cx="390.4" cy="365.2" r="4.65"/><circle cx="365.6" cy="342.6" r="4.65"/><circle cx="377.1" cy="357.6" r="4.65"/><circle cx="363.7" cy="339.6" r="4.65"/><circle cx="395.2" cy="351.9" r="4.65"/><circle cx="376.6" cy="346.9" r="4.65"/><circle cx="375" cy="353.5" r="4.65"/><circle cx="340.6" cy="317.1" r="4.65"/><circle cx="331.8" cy="301.2" r="4.65"/><circle cx="347.5" cy="311.4" r="4.65"/><circle cx="404.9" cy="376.4" r="4.65"/><circle cx="381" cy="348.1" r="4.65"/><circle cx="371.1" cy="342.4" r="4.65"/><circle cx="349.1" cy="314.1" r="4.65"/><circle cx="401.3" cy="354.4" r="4.65"/><circle cx="385.8" cy="355.8" r="4.65"/><circle cx="376.3" cy="352.4" r="4.65"/><circle cx="397.1" cy="353.7" r="4.65"/><circle cx="413.9" cy="372.1" r="4.65"/><circle cx="344.3" cy="327.8" r="4.65"/><circle cx="378.8" cy="337" r="4.65"/><circle cx="406.4" cy="380" r="4.65"/><circle cx="360.8" cy="322" r="4.65"/><circle cx="402.2" cy="373.5" r="4.65"/><circle cx="348.1" cy="318.1" r="4.65"/><circle cx="399.1" cy="354.8" r="4.65"/><circle cx="384.4" cy="362.9" r="4.65"/><circle cx="367.9" cy="354.9" r="4.65"/><circle cx="385.9" cy="348.4" r="4.65"/><circle cx="362.3" cy="349.9" r="4.65"/><circle cx="376.8" cy="357.3" r="4.65"/><circle cx="381.5" cy="360.1" r="4.65"/><circle cx="387" cy="367.2" r="4.65"/><circle cx="403.9" cy="368.7" r="4.65"/><circle cx="385.4" cy="367.5" r="4.65"/><circle cx="396.8" cy="360.4" r="4.65"/><circle cx="355.9" cy="338.3" r="4.65"/><circle cx="371.2" cy="355.4" r="4.65"/><circle cx="383.2" cy="365.4" r="4.65"/><circle cx="401.3" cy="362.1" r="4.65"/><circle cx="389.1" cy="371.2" r="4.65"/><circle cx="405.4" cy="380" r="4.65"/><circle cx="392.9" cy="375.2" r="4.65"/><circle cx="398" cy="364.2" r="4.65"/><circle cx="398.5" cy="357.7" r="4.65"/><circle cx="346.4" cy="321.4" r="4.65"/><circle cx="402.2" cy="370.8" r="4.65"/><circle cx="395.6" cy="370" r="4.65"/><circle cx="383" cy="365.7" r="4.65"/><circle cx="338.1" cy="320.5" r="4.65"/><circle cx="344.9" cy="313.4" r="4.65"/><circle cx="380.4" cy="349.1" r="4.65"/><circle cx="412" cy="379.2" r="4.65"/><circle cx="372.6" cy="331.3" r="4.65"/><circle cx="349.5" cy="328.1" r="4.65"/><circle cx="335.9" cy="314.2" r="4.65"/><circle cx="335.1" cy="307" r="4.65"/><circle cx="374.4" cy="359.1" r="4.65"/><circle cx="397.4" cy="374.7" r="4.65"/><circle cx="354.1" cy="324.6" r="4.65"/><circle cx="409.7" cy="362" r="4.65"/><circle cx="361.6" cy="335" r="4.65"/><circle cx="354.4" cy="334" r="4.65"/><circle cx="381.8" cy="352.8" r="4.65"/><circle cx="402.6" cy="380.9" r="4.65"/><circle cx="400.6" cy="362.3" r="4.65"/><circle cx="367.8" cy="328" r="4.65"/><circle cx="396.7" cy="360.2" r="4.65"/><circle cx="374.8" cy="352.5" r="4.65"/><circle cx="359.7" cy="339.5" r="4.65"/><circle cx="398.1" cy="361.5" r="4.65"/><circle cx="373.5" cy="338.8" r="4.65"/><circle cx="414.8" cy="373" r="4.65"/><circle cx="376.8" cy="344.9" r="4.65"/><circle cx="369.8" cy="351.3" r="4.65"/><circle cx="362.9" cy="339.5" r="4.65"/><circle cx="384.4" cy="345.1" r="4.65"/><circle cx="388.1" cy="373.3" r="4.65"/><circle cx="355.3" cy="321.8" r="4.65"/><circle cx="405.8" cy="358.9" r="4.65"/><circle cx="364.1" cy="322.9" r="4.65"/><circle cx="358.3" cy="322.5" r="4.65"/><circle cx="367.6" cy="333.5" r="4.65"/><circle cx="366.2" cy="351.8" r="4.65"/><circle cx="359.5" cy="319.9" r="4.65"/><circle cx="389.5" cy="358.1" r="4.65"/><circle cx="330.8" cy="304.6" r="4.65"/><circle cx="369.6" cy="338.7" r="4.65"/><circle cx="412.5" cy="376.5" r="4.65"/><circle cx="393.3" cy="348.6" r="4.65"/><circle cx="380.3" cy="366.2" r="4.65"/><circle cx="364.1" cy="329.3" r="4.65"/><circle cx="346.6" cy="318.3" r="4.65"/><circle cx="386" cy="343.2" r="4.65"/><circle cx="356.4" cy="322.9" r="4.65"/><circle cx="362.8" cy="326.1" r="4.65"/><circle cx="410.4" cy="376.7" r="4.65"/><circle cx="375.9" cy="333.8" r="4.65"/><circle cx="380" cy="344.6" r="4.65"/><circle cx="396.5" cy="376.2" r="4.65"/><circle cx="370.5" cy="344.9" r="4.65"/><circle cx="397.8" cy="367.7" r="4.65"/><circle cx="405.5" cy="360.7" r="4.65"/><circle cx="403.3" cy="376.9" r="4.65"/><circle cx="346.2" cy="321.9" r="4.65"/><circle cx="409.3" cy="364.1" r="4.65"/><circle cx="377.5" cy="344.5" r="4.65"/><circle cx="380.2" cy="348.8" r="4.65"/><circle cx="389.3" cy="362.3" r="4.65"/><circle cx="385.8" cy="367.3" r="4.65"/><circle cx="367.4" cy="354.9" r="4.65"/><circle cx="340.2" cy="316.3" r="4.65"/><circle cx="335.4" cy="307.4" r="4.65"/><circle cx="385" cy="351.3" r="4.65"/><circle cx="410.4" cy="370.1" r="4.65"/><circle cx="410.4" cy="372.3" r="4.65"/><circle cx="351.6" cy="315.9" r="4.65"/><circle cx="342.9" cy="325.3" r="4.65"/><circle cx="359.8" cy="329.9" r="4.65"/><circle cx="337.2" cy="308.4" r="4.65"/><circle cx="390.5" cy="368" r="4.65"/><circle cx="379.7" cy="361.1" r="4.65"/><circle cx="404.4" cy="359.2" r="4.65"/><circle cx="376.3" cy="342.6" r="4.65"/><circle cx="404" cy="369.1" r="4.65"/><circle cx="378.4" cy="344.7" r="4.65"/><circle cx="338" cy="304.7" r="4.65"/><circle cx="334.2" cy="304.2" r="4.65"/><circle cx="375.5" cy="350.6" r="4.65"/><circle cx="384.1" cy="358.9" r="4.65"/><circle cx="375.5" cy="357.4" r="4.65"/><circle cx="339.5" cy="307.6" r="4.65"/><circle cx="340.9" cy="320.4" r="4.65"/><circle cx="394.1" cy="370.9" r="4.65"/><circle cx="374.8" cy="359.4" r="4.65"/><circle cx="413.5" cy="366.1" r="4.65"/><circle cx="392.8" cy="365.2" r="4.65"/><circle cx="413.3" cy="365.8" r="4.65"/><circle cx="355.5" cy="315.9" r="4.65"/><circle cx="399.2" cy="378.6" r="4.65"/><circle cx="349.7" cy="315.7" r="4.65"/><circle cx="346.2" cy="317.8" r="4.65"/><circle cx="368.3" cy="346.5" r="4.65"/><circle cx="375.5" cy="360.1" r="4.65"/><circle cx="367.6" cy="338.9" r="4.65"/><circle cx="374.2" cy="360.2" r="4.65"/><circle cx="363" cy="321.4" r="4.65"/><circle cx="336.7" cy="307.4" r="4.65"/><circle cx="329.4" cy="304.4" r="4.65"/><circle cx="377.3" cy="347.8" r="4.65"/><circle cx="362.7" cy="342.5" r="4.65"/><circle cx="386.4" cy="354.6" r="4.65"/><circle cx="379.3" cy="341.2" r="4.65"/><circle cx="332" cy="303.7" r="4.65"/><circle cx="363.3" cy="327.7" r="4.65"/><circle cx="355.8" cy="337.6" r="4.65"/><circle cx="348.4" cy="320.3" r="4.65"/><circle cx="353.5" cy="315.8" r="4.65"/><circle cx="348" cy="323.3" r="4.65"/><circle cx="410.3" cy="374.4" r="4.65"/><circle cx="354.3" cy="331.3" r="4.65"/><circle cx="372.4" cy="332.3" r="4.65"/><circle cx="360.1" cy="335.3" r="4.65"/><circle cx="412.4" cy="368.3" r="4.65"/><circle cx="364" cy="330.4" r="4.65"/><circle cx="340.7" cy="313.6" r="4.65"/><circle cx="402.1" cy="361.3" r="4.65"/><circle cx="348.9" cy="318" r="4.65"/><circle cx="348" cy="319" r="4.65"/><circle cx="361" cy="329.8" r="4.65"/><circle cx="370.3" cy="342.1" r="4.65"/><circle cx="364" cy="364" r="4.65"/><circle cx="446.7" cy="392.3" r="4.65"/><circle cx="427" cy="380" r="4.65"/><circle cx="421.6" cy="378" r="4.65"/><circle cx="416" cy="389.5" r="4.65"/><circle cx="410" cy="390.6" r="4.65"/><circle cx="401" cy="383.8" r="4.65"/><circle cx="369" cy="315" r="4.65"/><circle cx="354" cy="303" r="4.65"/></g>
</g>
<rect x="90" y="81.7" width="382.3" height="427.1" fill="none" stroke="#7a7a7a" stroke-width="1.4"/>
<g stroke="#000" stroke-width="1.9">
<line x1="192.3" y1="508.8" x2="192.3" y2="515.3"/>
<line x1="309.3" y1="508.8" x2="309.3" y2="515.3"/>
<line x1="426.3" y1="508.8" x2="426.3" y2="515.3"/>
<line x1="83.5" y1="138.8" x2="90" y2="138.8"/>
<line x1="83.5" y1="220.5" x2="90" y2="220.5"/>
<line x1="83.5" y1="301.3" x2="90" y2="301.3"/>
<line x1="83.5" y1="382.5" x2="90" y2="382.5"/>
<line x1="83.5" y1="464.3" x2="90" y2="464.3"/>
</g>
<g class="tk" text-anchor="middle">
<text x="192.3" y="542.2">−2</text>
<text x="309.3" y="542.2">0</text>
<text x="426.3" y="542.2">2</text>
</g>
<g class="tk" text-anchor="end">
<text x="78.8" y="150.8">2</text>
<text x="78.8" y="232.5">1</text>
<text x="78.8" y="313.3">0</text>
<text x="78.8" y="394.5">−1</text>
<text x="78.8" y="476.3">−2</text>
</g>
<text class="ax" text-anchor="middle" x="281" y="569.3" xml:space="preserve">Axis.1   [27.9%]</text>
<text class="ax" text-anchor="middle" transform="translate(34 295) rotate(-90)" xml:space="preserve">Axis.2   [15.8%]</text>
<text class="ti" x="78.5" y="58.4" style="letter-spacing:-0.5px">Euclidean Distance (PhILR)</text>
</g>
<g class="panel">
<clipPath id="ytc"><rect x="540" y="75.6" width="120" height="460"/></clipPath>
<clipPath id="c1"><rect x="654.4" y="82.3" width="338.6" height="426.1"/></clipPath>
<g stroke="#fafafa" stroke-width="1" clip-path="url(#c1)">
<line x1="670.4" y1="82.3" x2="670.4" y2="508.4"/>
<line x1="761.1" y1="82.3" x2="761.1" y2="508.4"/>
<line x1="851.8" y1="82.3" x2="851.8" y2="508.4"/>
<line x1="942.4" y1="82.3" x2="942.4" y2="508.4"/>
<line x1="654.4" y1="134.2" x2="993" y2="134.2"/>
<line x1="654.4" y1="237.5" x2="993" y2="237.5"/>
<line x1="654.4" y1="340.8" x2="993" y2="340.8"/>
<line x1="654.4" y1="444.1" x2="993" y2="444.1"/>
</g>
<g stroke="#e8e8e8" stroke-width="1.1" clip-path="url(#c1)">
<line x1="715.7" y1="82.3" x2="715.7" y2="508.4"/>
<line x1="806.4" y1="82.3" x2="806.4" y2="508.4"/>
<line x1="897.1" y1="82.3" x2="897.1" y2="508.4"/>
<line x1="987.4" y1="82.3" x2="987.4" y2="508.4"/>
<line x1="654.4" y1="82.5" x2="993" y2="82.5"/>
<line x1="654.4" y1="185.8" x2="993" y2="185.8"/>
<line x1="654.4" y1="289.6" x2="993" y2="289.6"/>
<line x1="654.4" y1="392.3" x2="993" y2="392.3"/>
<line x1="654.4" y1="495.3" x2="993" y2="495.3"/>
</g>
<g clip-path="url(#c1)">
<g fill="#B35A25"><circle cx="913.2" cy="187.7" r="4.65"/><circle cx="909.3" cy="189.3" r="4.65"/><circle cx="910.2" cy="186.2" r="4.65"/><circle cx="907.7" cy="187.5" r="4.65"/><circle cx="906.4" cy="187.3" r="4.65"/><circle cx="907.5" cy="188.4" r="4.65"/><circle cx="906.7" cy="189.8" r="4.65"/><circle cx="907.4" cy="183.8" r="4.65"/><circle cx="910.9" cy="188.2" r="4.65"/><circle cx="907" cy="189.5" r="4.65"/><circle cx="909" cy="189.1" r="4.65"/><circle cx="906.8" cy="189.4" r="4.65"/></g>
<g fill="#EF82B7"><circle cx="913.8" cy="215" r="4.65"/><circle cx="915" cy="205.7" r="4.65"/><circle cx="917" cy="215.5" r="4.65"/><circle cx="911.5" cy="234.9" r="4.65"/><circle cx="912.6" cy="229.3" r="4.65"/><circle cx="910.4" cy="211.9" r="4.65"/><circle cx="911.2" cy="214.9" r="4.65"/><circle cx="911.6" cy="231.9" r="4.65"/><circle cx="915.5" cy="221.9" r="4.65"/><circle cx="916.2" cy="218.1" r="4.65"/><circle cx="912.9" cy="234.3" r="4.65"/><circle cx="916.2" cy="223.1" r="4.65"/><circle cx="917.7" cy="214.7" r="4.65"/><circle cx="917.8" cy="218.4" r="4.65"/><circle cx="911.6" cy="219.2" r="4.65"/><circle cx="908.5" cy="199" r="4.65"/><circle cx="915" cy="213" r="4.65"/><circle cx="908.9" cy="203.5" r="4.65"/><circle cx="913.1" cy="202.9" r="4.65"/><circle cx="913" cy="217.8" r="4.65"/><circle cx="913.9" cy="207.3" r="4.65"/><circle cx="915.2" cy="225" r="4.65"/><circle cx="910.5" cy="203.9" r="4.65"/><circle cx="914.3" cy="208" r="4.65"/><circle cx="910.3" cy="197.1" r="4.65"/><circle cx="913.6" cy="208.5" r="4.65"/><circle cx="913.6" cy="200.9" r="4.65"/><circle cx="909.4" cy="197.8" r="4.65"/><circle cx="910.6" cy="216.6" r="4.65"/><circle cx="912.7" cy="210.6" r="4.65"/><circle cx="915.7" cy="225.7" r="4.65"/><circle cx="917" cy="210.6" r="4.65"/><circle cx="914.5" cy="206.8" r="4.65"/><circle cx="911.3" cy="197.4" r="4.65"/><circle cx="912.4" cy="210.9" r="4.65"/><circle cx="911.6" cy="203.3" r="4.65"/><circle cx="914.3" cy="216.6" r="4.65"/><circle cx="908.5" cy="200.3" r="4.65"/><circle cx="913" cy="220.4" r="4.65"/><circle cx="911.8" cy="202.6" r="4.65"/><circle cx="912.8" cy="211" r="4.65"/><circle cx="908.3" cy="199.5" r="4.65"/><circle cx="911.3" cy="203.7" r="4.65"/><circle cx="914.2" cy="210.5" r="4.65"/><circle cx="908.4" cy="197.7" r="4.65"/><circle cx="916.9" cy="227.6" r="4.65"/><circle cx="914.1" cy="225.3" r="4.65"/><circle cx="915.1" cy="210.2" r="4.65"/><circle cx="915.8" cy="226.1" r="4.65"/><circle cx="911.7" cy="208.8" r="4.65"/><circle cx="911.1" cy="228.4" r="4.65"/><circle cx="912.8" cy="199.5" r="4.65"/><circle cx="915.3" cy="229.4" r="4.65"/><circle cx="914" cy="224.2" r="4.65"/><circle cx="911.7" cy="203.6" r="4.65"/><circle cx="914.7" cy="219.1" r="4.65"/><circle cx="916.4" cy="225.5" r="4.65"/><circle cx="909.9" cy="206.8" r="4.65"/><circle cx="911.5" cy="201" r="4.65"/><circle cx="914.2" cy="227.2" r="4.65"/><circle cx="912.8" cy="230.9" r="4.65"/><circle cx="913.3" cy="226.2" r="4.65"/><circle cx="914" cy="212.3" r="4.65"/><circle cx="912.1" cy="226.5" r="4.65"/><circle cx="911.6" cy="205.6" r="4.65"/><circle cx="915.5" cy="264" r="4.65"/><circle cx="917" cy="268" r="4.65"/><circle cx="919.7" cy="272.6" r="4.65"/><circle cx="917.5" cy="277" r="4.65"/><circle cx="918.5" cy="281" r="4.65"/><circle cx="917.2" cy="284.5" r="4.65"/><circle cx="922" cy="300" r="4.65"/><circle cx="921.7" cy="304" r="4.65"/><circle cx="921" cy="311" r="4.65"/><circle cx="921.7" cy="316" r="4.65"/><circle cx="921.2" cy="320" r="4.65"/><circle cx="923.3" cy="326" r="4.65"/><circle cx="923.3" cy="330" r="4.65"/><circle cx="924" cy="336" r="4.65"/><circle cx="925" cy="341.8" r="4.65"/><circle cx="926.5" cy="347.7" r="4.65"/><circle cx="925.5" cy="353" r="4.65"/><circle cx="926.5" cy="359.7" r="4.65"/><circle cx="927.2" cy="364" r="4.65"/><circle cx="927.7" cy="368" r="4.65"/><circle cx="928" cy="373" r="4.65"/><circle cx="929" cy="377.5" r="4.65"/><circle cx="929" cy="381.5" r="4.65"/><circle cx="930" cy="385" r="4.65"/><circle cx="930.5" cy="388.5" r="4.65"/><circle cx="933.7" cy="393.5" r="4.65"/><circle cx="931" cy="395" r="4.65"/><circle cx="931.7" cy="400" r="4.65"/><circle cx="932.5" cy="414" r="4.65"/><circle cx="933.5" cy="418" r="4.65"/><circle cx="934.5" cy="427.3" r="4.65"/><circle cx="935.7" cy="435" r="4.65"/><circle cx="935.5" cy="439" r="4.65"/><circle cx="936.5" cy="446.4" r="4.65"/><circle cx="941.6" cy="489.7" r="4.65"/></g>
<g fill="#45B049"><circle cx="859.3" cy="185.2" r="4.65"/></g>
<g fill="#9B48A4"><circle cx="819.8" cy="182" r="4.65"/><circle cx="742.7" cy="176.4" r="4.65"/></g>
<g fill="#45B049"><circle cx="817.4" cy="183.9" r="4.65"/></g>
<g fill="#9B48A4"><circle cx="807.2" cy="178.6" r="4.65"/><circle cx="761.4" cy="177.6" r="4.65"/></g>
<g fill="#45B049"><circle cx="771.1" cy="175.5" r="4.65"/></g>
<g fill="#9B48A4"><circle cx="798" cy="177.4" r="4.65"/><circle cx="749.5" cy="180" r="4.65"/><circle cx="819.3" cy="185.2" r="4.65"/><circle cx="832.1" cy="182.7" r="4.65"/></g>
<g fill="#45B049"><circle cx="856.8" cy="183" r="4.65"/><circle cx="857" cy="180" r="4.65"/><circle cx="686.5" cy="175.2" r="4.65"/><circle cx="889.3" cy="182.7" r="4.65"/></g>
<g fill="#9B48A4"><circle cx="838.6" cy="182" r="4.65"/><circle cx="871.4" cy="183.9" r="4.65"/><circle cx="845.8" cy="184.6" r="4.65"/><circle cx="669.4" cy="173.7" r="4.65"/></g>
<g fill="#45B049"><circle cx="873" cy="211.2" r="4.65"/></g>
<g fill="#9B48A4"><circle cx="851.1" cy="183" r="4.65"/></g>
<g fill="#45B049"><circle cx="875.4" cy="189.9" r="4.65"/><circle cx="830" cy="178" r="4.65"/><circle cx="820.2" cy="181.9" r="4.65"/></g>
<g fill="#9B48A4"><circle cx="833.1" cy="184.2" r="4.65"/><circle cx="801.2" cy="182.9" r="4.65"/><circle cx="871.5" cy="184" r="4.65"/><circle cx="789.4" cy="181.6" r="4.65"/></g>
<g fill="#45B049"><circle cx="902.6" cy="187.3" r="4.65"/><circle cx="754.4" cy="180.6" r="4.65"/><circle cx="898.7" cy="190" r="4.65"/><circle cx="884.6" cy="189.1" r="4.65"/></g>
<g fill="#9B48A4"><circle cx="894.6" cy="187.4" r="4.65"/></g>
<g fill="#45B049"><circle cx="890.2" cy="186.7" r="4.65"/></g>
<g fill="#9B48A4"><circle cx="775.4" cy="179.3" r="4.65"/></g>
<g fill="#45B049"><circle cx="789.4" cy="176.7" r="4.65"/><circle cx="886.9" cy="184.9" r="4.65"/><circle cx="898.7" cy="182.4" r="4.65"/></g>
<g fill="#9B48A4"><circle cx="765.6" cy="178" r="4.65"/></g>
<g fill="#45B049"><circle cx="820.5" cy="180.2" r="4.65"/></g>
<g fill="#9B48A4"><circle cx="796.6" cy="177.7" r="4.65"/></g>
<g fill="#45B049"><circle cx="819.5" cy="184.2" r="4.65"/></g>
<g fill="#9B48A4"><circle cx="757.9" cy="176.7" r="4.65"/><circle cx="842.1" cy="186.7" r="4.65"/></g>
<g fill="#45B049"><circle cx="815.9" cy="180.1" r="4.65"/></g>
<g fill="#9B48A4"><circle cx="883.4" cy="185.5" r="4.65"/></g>
<g fill="#45B049"><circle cx="876.8" cy="187.5" r="4.65"/></g>
<g fill="#9B48A4"><circle cx="899" cy="189.7" r="4.65"/></g>
<g fill="#45B049"><circle cx="751.2" cy="177.8" r="4.65"/></g>
<g fill="#9B48A4"><circle cx="858.6" cy="186.6" r="4.65"/><circle cx="810.6" cy="180.5" r="4.65"/></g>
<g fill="#45B049"><circle cx="898" cy="190.7" r="4.65"/><circle cx="746.9" cy="179.8" r="4.65"/><circle cx="887.2" cy="180.3" r="4.65"/></g>
<g fill="#9B48A4"><circle cx="758.9" cy="178.1" r="4.65"/><circle cx="774.6" cy="176.9" r="4.65"/><circle cx="823.4" cy="181.5" r="4.65"/></g>
<g fill="#45B049"><circle cx="876.2" cy="190.4" r="4.65"/><circle cx="823.9" cy="180.1" r="4.65"/></g>
<g fill="#9B48A4"><circle cx="749" cy="178.9" r="4.65"/></g>
<g fill="#45B049"><circle cx="792.9" cy="179.5" r="4.65"/><circle cx="879.8" cy="183.1" r="4.65"/></g>
<g fill="#9B48A4"><circle cx="806.6" cy="180.3" r="4.65"/><circle cx="788.3" cy="179.5" r="4.65"/><circle cx="881.3" cy="187.4" r="4.65"/><circle cx="812.7" cy="182" r="4.65"/></g>
<g fill="#45B049"><circle cx="832.8" cy="181.1" r="4.65"/></g>
<g fill="#9B48A4"><circle cx="757.7" cy="179.9" r="4.65"/></g>
<g fill="#45B049"><circle cx="775.6" cy="178.9" r="4.65"/></g>
<g fill="#9B48A4"><circle cx="902.2" cy="189.9" r="4.65"/><circle cx="883.9" cy="185.7" r="4.65"/></g>
<g fill="#45B049"><circle cx="815.9" cy="179.8" r="4.65"/></g>
<g fill="#9B48A4"><circle cx="819.9" cy="179.9" r="4.65"/><circle cx="775.5" cy="178.9" r="4.65"/><circle cx="898" cy="196.3" r="4.65"/></g>
<g fill="#45B049"><circle cx="852.9" cy="186.3" r="4.65"/><circle cx="904.8" cy="188.2" r="4.65"/></g>
<g fill="#9B48A4"><circle cx="770.5" cy="180.6" r="4.65"/><circle cx="897.9" cy="188.3" r="4.65"/></g>
<g fill="#45B049"><circle cx="845" cy="183" r="4.65"/><circle cx="744.1" cy="179" r="4.65"/></g>
<g fill="#9B48A4"><circle cx="747.6" cy="179" r="4.65"/><circle cx="827.2" cy="180.5" r="4.65"/><circle cx="891.9" cy="185.3" r="4.65"/></g>
<g fill="#45B049"><circle cx="889.1" cy="186.8" r="4.65"/><circle cx="772.5" cy="170.7" r="4.65"/><circle cx="792" cy="180.6" r="4.65"/><circle cx="902.4" cy="188.5" r="4.65"/><circle cx="809.1" cy="182.6" r="4.65"/></g>
<g fill="#9B48A4"><circle cx="844.8" cy="186.1" r="4.65"/><circle cx="830.8" cy="186.1" r="4.65"/></g>
<g fill="#45B049"><circle cx="771.2" cy="177" r="4.65"/><circle cx="787.9" cy="179.3" r="4.65"/><circle cx="746.7" cy="179.6" r="4.65"/></g>
<g fill="#9B48A4"><circle cx="759.9" cy="177.7" r="4.65"/></g>
<g fill="#45B049"><circle cx="882.1" cy="188.3" r="4.65"/><circle cx="892.2" cy="186.7" r="4.65"/></g>
<g fill="#9B48A4"><circle cx="852" cy="187.6" r="4.65"/></g>
<g fill="#45B049"><circle cx="773.3" cy="176.9" r="4.65"/><circle cx="889.2" cy="183.1" r="4.65"/></g>
<g fill="#9B48A4"><circle cx="872.9" cy="184.2" r="4.65"/></g>
<g fill="#45B049"><circle cx="833.9" cy="185.1" r="4.65"/><circle cx="894.4" cy="186.6" r="4.65"/><circle cx="775.1" cy="181.4" r="4.65"/></g>
<g fill="#9B48A4"><circle cx="896.8" cy="187.7" r="4.65"/><circle cx="812.7" cy="181.9" r="4.65"/></g>
<g fill="#45B049"><circle cx="839.8" cy="181.7" r="4.65"/></g>
<g fill="#9B48A4"><circle cx="821.2" cy="185" r="4.65"/></g>
<g fill="#45B049"><circle cx="778.6" cy="177" r="4.65"/><circle cx="850" cy="187.2" r="4.65"/><circle cx="816.4" cy="178" r="4.65"/></g>
<g fill="#9B48A4"><circle cx="754.3" cy="180.6" r="4.65"/></g>
<g fill="#45B049"><circle cx="858.3" cy="188.5" r="4.65"/><circle cx="900.6" cy="182.5" r="4.65"/></g>
<g fill="#9B48A4"><circle cx="803.6" cy="179.1" r="4.65"/><circle cx="832.8" cy="185.2" r="4.65"/></g>
<g fill="#45B049"><circle cx="882.8" cy="185.3" r="4.65"/></g>
<g fill="#9B48A4"><circle cx="858.5" cy="188.2" r="4.65"/><circle cx="896.4" cy="188.1" r="4.65"/></g>
<g fill="#45B049"><circle cx="881.6" cy="183.4" r="4.65"/></g>
<g fill="#9B48A4"><circle cx="818.6" cy="183.2" r="4.65"/></g>
<g fill="#45B049"><circle cx="899.3" cy="183.5" r="4.65"/></g>
<g fill="#9B48A4"><circle cx="847.2" cy="187.4" r="4.65"/><circle cx="708.4" cy="175.7" r="4.65"/></g>
<g fill="#45B049"><circle cx="762" cy="173.5" r="4.65"/></g>
<g fill="#9B48A4"><circle cx="879.9" cy="185.7" r="4.65"/></g>
<g fill="#45B049"><circle cx="894.2" cy="184.5" r="4.65"/></g>
<g fill="#9B48A4"><circle cx="821.7" cy="186.1" r="4.65"/><circle cx="855.2" cy="183.7" r="4.65"/></g>
<g fill="#45B049"><circle cx="891" cy="188" r="4.65"/><circle cx="890.9" cy="187.1" r="4.65"/></g>
<g fill="#9B48A4"><circle cx="811.3" cy="185.2" r="4.65"/></g>
<g fill="#45B049"><circle cx="865.7" cy="183.4" r="4.65"/><circle cx="890.1" cy="185.1" r="4.65"/><circle cx="800.2" cy="182" r="4.65"/><circle cx="779.5" cy="178.8" r="4.65"/></g>
<g fill="#9B48A4"><circle cx="882" cy="189.3" r="4.65"/></g>
<g fill="#45B049"><circle cx="744.9" cy="176.3" r="4.65"/></g>
<g fill="#9B48A4"><circle cx="788.6" cy="178.9" r="4.65"/><circle cx="776.5" cy="178.6" r="4.65"/><circle cx="741" cy="179" r="4.65"/></g>
<g fill="#45B049"><circle cx="757" cy="174" r="4.65"/></g>
<g fill="#9B48A4"><circle cx="808.8" cy="180.8" r="4.65"/></g>
<g fill="#45B049"><circle cx="856.7" cy="181.4" r="4.65"/><circle cx="877.7" cy="181.8" r="4.65"/></g>
<g fill="#9B48A4"><circle cx="792.1" cy="180.6" r="4.65"/></g>
<g fill="#45B049"><circle cx="852.7" cy="181.3" r="4.65"/><circle cx="744.8" cy="174.8" r="4.65"/></g>
<g fill="#9B48A4"><circle cx="736.9" cy="176.9" r="4.65"/></g>
<g fill="#45B049"><circle cx="735.4" cy="178.4" r="4.65"/><circle cx="741.6" cy="180.4" r="4.65"/></g>
<g fill="#9B48A4"><circle cx="755" cy="175.8" r="4.65"/></g>
<g fill="#45B049"><circle cx="813.9" cy="182.3" r="4.65"/></g>
<g fill="#9B48A4"><circle cx="880.2" cy="186.6" r="4.65"/></g>
<g fill="#45B049"><circle cx="880" cy="186.8" r="4.65"/></g>
<g fill="#9B48A4"><circle cx="795.8" cy="183.6" r="4.65"/></g>
<g fill="#45B049"><circle cx="820.3" cy="178.7" r="4.65"/><circle cx="858.8" cy="185.5" r="4.65"/></g>
<g fill="#9B48A4"><circle cx="854.8" cy="186.8" r="4.65"/></g>
<g fill="#45B049"><circle cx="884" cy="187.8" r="4.65"/></g>
<g fill="#9B48A4"><circle cx="864.5" cy="184.3" r="4.65"/></g>
<g fill="#45B049"><circle cx="898.8" cy="190.1" r="4.65"/><circle cx="777.9" cy="180.8" r="4.65"/><circle cx="888.9" cy="185.9" r="4.65"/></g>
<g fill="#9B48A4"><circle cx="897.7" cy="186.7" r="4.65"/></g>
<g fill="#45B049"><circle cx="896.3" cy="183.5" r="4.65"/></g>
<g fill="#9B48A4"><circle cx="825.9" cy="183.9" r="4.65"/></g>
<g fill="#45B049"><circle cx="831.2" cy="185.3" r="4.65"/><circle cx="833" cy="182.3" r="4.65"/><circle cx="892.1" cy="185.6" r="4.65"/><circle cx="751.6" cy="178.5" r="4.65"/><circle cx="793.2" cy="182.8" r="4.65"/></g>
<g fill="#9B48A4"><circle cx="884.9" cy="187.8" r="4.65"/></g>
<g fill="#45B049"><circle cx="777.4" cy="179.1" r="4.65"/></g>
<g fill="#9B48A4"><circle cx="774.4" cy="177.9" r="4.65"/></g>
<g fill="#45B049"><circle cx="882.8" cy="183.6" r="4.65"/><circle cx="742.4" cy="179.2" r="4.65"/><circle cx="780.5" cy="179" r="4.65"/></g>
<g fill="#9B48A4"><circle cx="770" cy="179.5" r="4.65"/></g>
<g fill="#45B049"><circle cx="678.6" cy="173.2" r="4.65"/><circle cx="749" cy="175.1" r="4.65"/><circle cx="857" cy="181.8" r="4.65"/></g>
<g fill="#9B48A4"><circle cx="829.1" cy="187" r="4.65"/></g>
<g fill="#45B049"><circle cx="890.9" cy="184.6" r="4.65"/><circle cx="892.5" cy="179.1" r="4.65"/><circle cx="806.3" cy="178.5" r="4.65"/><circle cx="887.9" cy="184.2" r="4.65"/></g>
<g fill="#9B48A4"><circle cx="888.1" cy="184.7" r="4.65"/></g>
<g fill="#45B049"><circle cx="757.1" cy="175.9" r="4.65"/></g>
<g fill="#9B48A4"><circle cx="870.8" cy="185.8" r="4.65"/></g>
<g fill="#45B049"><circle cx="802.3" cy="177.6" r="4.65"/><circle cx="884.9" cy="198" r="4.65"/><circle cx="889.5" cy="183.6" r="4.65"/></g>
<g fill="#9B48A4"><circle cx="841.7" cy="186.5" r="4.65"/></g>
<g fill="#45B049"><circle cx="855.9" cy="183.5" r="4.65"/></g>
<g fill="#9B48A4"><circle cx="826.9" cy="186.6" r="4.65"/></g>
<g fill="#45B049"><circle cx="865.9" cy="183.6" r="4.65"/></g>
<g fill="#9B48A4"><circle cx="802.6" cy="181.4" r="4.65"/><circle cx="847.3" cy="184.1" r="4.65"/><circle cx="877.2" cy="183.7" r="4.65"/></g>
<g fill="#45B049"><circle cx="751.7" cy="178" r="4.65"/><circle cx="841.6" cy="184.9" r="4.65"/><circle cx="894.8" cy="183.2" r="4.65"/><circle cx="836" cy="192" r="4.65"/><circle cx="892.5" cy="187.9" r="4.65"/></g>
<g fill="#9B48A4"><circle cx="788.6" cy="177.2" r="4.65"/><circle cx="771.2" cy="180.5" r="4.65"/><circle cx="755.4" cy="177.2" r="4.65"/></g>
<g fill="#45B049"><circle cx="806.6" cy="188.8" r="4.65"/></g>
<g fill="#9B48A4"><circle cx="750.7" cy="177.4" r="4.65"/></g>
<g fill="#45B049"><circle cx="862.1" cy="189.7" r="4.65"/></g>
<g fill="#9B48A4"><circle cx="740.1" cy="176.1" r="4.65"/><circle cx="806.9" cy="182.7" r="4.65"/><circle cx="814.3" cy="185.3" r="4.65"/><circle cx="830.5" cy="186.9" r="4.65"/></g>
<g fill="#45B049"><circle cx="763.7" cy="181.2" r="4.65"/><circle cx="777.9" cy="178.6" r="4.65"/></g>
<g fill="#9B48A4"><circle cx="884.3" cy="188.1" r="4.65"/></g>
<g fill="#45B049"><circle cx="904.2" cy="188.4" r="4.65"/><circle cx="780.4" cy="182" r="4.65"/><circle cx="902.3" cy="182.8" r="4.65"/><circle cx="860.4" cy="186.8" r="4.65"/><circle cx="779.8" cy="181.3" r="4.65"/><circle cx="788.9" cy="181.6" r="4.65"/><circle cx="886.8" cy="189.9" r="4.65"/><circle cx="832" cy="186.1" r="4.65"/><circle cx="889" cy="188.7" r="4.65"/><circle cx="792.6" cy="183.2" r="4.65"/><circle cx="753.1" cy="176.3" r="4.65"/><circle cx="736.2" cy="177" r="4.65"/><circle cx="838.4" cy="182.9" r="4.65"/><circle cx="891.5" cy="186.5" r="4.65"/></g>
<g fill="#9B48A4"><circle cx="802.2" cy="178.4" r="4.65"/><circle cx="837.1" cy="184.2" r="4.65"/><circle cx="762.4" cy="178.1" r="4.65"/></g>
<g fill="#45B049"><circle cx="869.9" cy="189.2" r="4.65"/><circle cx="871.5" cy="188.1" r="4.65"/></g>
<g fill="#9B48A4"><circle cx="802" cy="184.7" r="4.65"/><circle cx="869.5" cy="175" r="4.65"/></g>
<g fill="#45B049"><circle cx="715" cy="176.5" r="4.65"/><circle cx="804.4" cy="181.5" r="4.65"/></g>
<g fill="#9B48A4"><circle cx="898.6" cy="186.8" r="4.65"/><circle cx="899.4" cy="191.7" r="4.65"/><circle cx="843.4" cy="186" r="4.65"/><circle cx="845.7" cy="185.1" r="4.65"/></g>
<g fill="#45B049"><circle cx="824.2" cy="180.2" r="4.65"/><circle cx="816" cy="185.3" r="4.65"/></g>
<g fill="#9B48A4"><circle cx="860.6" cy="187.5" r="4.65"/><circle cx="748.8" cy="179.1" r="4.65"/></g>
<g fill="#45B049"><circle cx="892.5" cy="184.6" r="4.65"/><circle cx="895.6" cy="185.9" r="4.65"/><circle cx="851.4" cy="181.7" r="4.65"/></g>
<g fill="#9B48A4"><circle cx="750.4" cy="179.3" r="4.65"/></g>
<g fill="#45B049"><circle cx="777.6" cy="181.4" r="4.65"/><circle cx="874.3" cy="183.9" r="4.65"/><circle cx="753.6" cy="180.5" r="4.65"/></g>
<g fill="#9B48A4"><circle cx="893.9" cy="186.5" r="4.65"/></g>
<g fill="#45B049"><circle cx="856.7" cy="185.6" r="4.65"/><circle cx="883.3" cy="181.8" r="4.65"/></g>
<g fill="#9B48A4"><circle cx="783.8" cy="179.5" r="4.65"/><circle cx="866" cy="188.5" r="4.65"/></g>
<g fill="#45B049"><circle cx="848.2" cy="184" r="4.65"/></g>
<g fill="#9B48A4"><circle cx="787.2" cy="181.1" r="4.65"/><circle cx="711.5" cy="176" r="4.65"/></g>
<g fill="#45B049"><circle cx="811.4" cy="178.8" r="4.65"/><circle cx="815.4" cy="182.6" r="4.65"/><circle cx="899.4" cy="182.1" r="4.65"/><circle cx="869.8" cy="183.2" r="4.65"/><circle cx="756" cy="176.3" r="4.65"/></g>
<g fill="#9B48A4"><circle cx="793.4" cy="180.5" r="4.65"/><circle cx="896.8" cy="190.4" r="4.65"/><circle cx="860.5" cy="186.7" r="4.65"/></g>
<g fill="#45B049"><circle cx="779.1" cy="177.9" r="4.65"/><circle cx="819" cy="195.8" r="4.65"/><circle cx="742.3" cy="177.8" r="4.65"/><circle cx="851.5" cy="184.9" r="4.65"/><circle cx="862.1" cy="188.6" r="4.65"/><circle cx="888.3" cy="187.9" r="4.65"/></g>
<g fill="#9B48A4"><circle cx="856.2" cy="186.7" r="4.65"/></g>
<g fill="#45B049"><circle cx="867.1" cy="186.9" r="4.65"/></g>
<g fill="#9B48A4"><circle cx="794.7" cy="180.9" r="4.65"/><circle cx="781.2" cy="182.2" r="4.65"/></g>
<g fill="#45B049"><circle cx="887.8" cy="188.2" r="4.65"/><circle cx="892.5" cy="178.7" r="4.65"/></g>
<g fill="#9B48A4"><circle cx="868.2" cy="186" r="4.65"/></g>
<g fill="#45B049"><circle cx="872.5" cy="196.8" r="4.65"/><circle cx="897.3" cy="157.6" r="4.65"/><circle cx="902.6" cy="187.8" r="4.65"/></g>
<g fill="#9B48A4"><circle cx="818" cy="180.7" r="4.65"/><circle cx="873.8" cy="185.8" r="4.65"/></g>
<g fill="#45B049"><circle cx="885" cy="178" r="4.65"/><circle cx="747.5" cy="179.9" r="4.65"/></g>
<g fill="#9B48A4"><circle cx="833.9" cy="182.4" r="4.65"/><circle cx="844.4" cy="188.2" r="4.65"/></g>
<g fill="#45B049"><circle cx="797.2" cy="183" r="4.65"/></g>
<g fill="#9B48A4"><circle cx="889.1" cy="184.4" r="4.65"/><circle cx="883.4" cy="189.7" r="4.65"/><circle cx="830.5" cy="183.2" r="4.65"/><circle cx="900.2" cy="190.1" r="4.65"/></g>
<g fill="#45B049"><circle cx="742.6" cy="179.1" r="4.65"/><circle cx="763.4" cy="179.6" r="4.65"/><circle cx="841.4" cy="193.1" r="4.65"/></g>
<g fill="#9B48A4"><circle cx="874.3" cy="184.2" r="4.65"/><circle cx="847.7" cy="184.7" r="4.65"/><circle cx="900" cy="182" r="4.65"/><circle cx="811.9" cy="181.3" r="4.65"/><circle cx="785.1" cy="182.4" r="4.65"/></g>
<g fill="#45B049"><circle cx="719.6" cy="177" r="4.65"/><circle cx="887.5" cy="196" r="4.65"/><circle cx="745" cy="173.5" r="4.65"/><circle cx="845.7" cy="188.2" r="4.65"/><circle cx="753.2" cy="174.9" r="4.65"/></g>
<g fill="#E51F26"><circle cx="907.5" cy="179.7" r="4.65"/><circle cx="904.9" cy="184.1" r="4.65"/><circle cx="912" cy="183.6" r="4.65"/><circle cx="909.1" cy="184.5" r="4.65"/><circle cx="907.5" cy="180.3" r="4.65"/><circle cx="908.1" cy="183.9" r="4.65"/><circle cx="910" cy="183.7" r="4.65"/><circle cx="911" cy="185.4" r="4.65"/><circle cx="909.1" cy="185.6" r="4.65"/><circle cx="905.8" cy="185" r="4.65"/><circle cx="909.6" cy="179.4" r="4.65"/><circle cx="908.7" cy="184.5" r="4.65"/><circle cx="906.7" cy="182" r="4.65"/><circle cx="908.3" cy="181.1" r="4.65"/><circle cx="907.8" cy="180.6" r="4.65"/><circle cx="908.3" cy="184.7" r="4.65"/><circle cx="908.6" cy="179.7" r="4.65"/><circle cx="904.9" cy="181.6" r="4.65"/><circle cx="911" cy="183.6" r="4.65"/><circle cx="907.8" cy="184.8" r="4.65"/><circle cx="909.2" cy="181.2" r="4.65"/><circle cx="906.7" cy="184.6" r="4.65"/><circle cx="909.6" cy="184.8" r="4.65"/><circle cx="910.9" cy="183.1" r="4.65"/><circle cx="903.3" cy="175.8" r="4.65"/><circle cx="910.5" cy="174" r="4.65"/><circle cx="891.7" cy="177.5" r="4.65"/><circle cx="906" cy="190" r="4.65"/><circle cx="915" cy="177" r="4.65"/></g>
<g fill="#F6821F"><circle cx="954.9" cy="133" r="4.65"/><circle cx="948.8" cy="139.9" r="4.65"/><circle cx="936" cy="157.9" r="4.65"/><circle cx="915.7" cy="182.3" r="4.65"/><circle cx="953.1" cy="134.6" r="4.65"/><circle cx="949.5" cy="140" r="4.65"/><circle cx="951" cy="139.1" r="4.65"/><circle cx="939.4" cy="152.1" r="4.65"/><circle cx="917.9" cy="176.7" r="4.65"/><circle cx="915.4" cy="182.8" r="4.65"/><circle cx="922.3" cy="170.2" r="4.65"/><circle cx="932" cy="160.3" r="4.65"/><circle cx="912.4" cy="185.4" r="4.65"/><circle cx="910.3" cy="184.7" r="4.65"/><circle cx="950.5" cy="137.5" r="4.65"/><circle cx="917.2" cy="179.4" r="4.65"/><circle cx="956.2" cy="130.9" r="4.65"/><circle cx="935.6" cy="157.1" r="4.65"/><circle cx="917.5" cy="177.9" r="4.65"/><circle cx="936.5" cy="153.3" r="4.65"/><circle cx="925.8" cy="167.5" r="4.65"/><circle cx="953.3" cy="135.1" r="4.65"/><circle cx="924.4" cy="169.6" r="4.65"/><circle cx="936.4" cy="156.6" r="4.65"/><circle cx="929.4" cy="163.6" r="4.65"/><circle cx="913.4" cy="181" r="4.65"/><circle cx="944.2" cy="145.1" r="4.65"/><circle cx="933.8" cy="157" r="4.65"/><circle cx="921.1" cy="175.1" r="4.65"/><circle cx="953.2" cy="134" r="4.65"/><circle cx="918.6" cy="175.1" r="4.65"/><circle cx="937.3" cy="157.1" r="4.65"/><circle cx="940.2" cy="152.3" r="4.65"/><circle cx="952.1" cy="138.5" r="4.65"/><circle cx="931.2" cy="161.3" r="4.65"/><circle cx="956" cy="131.5" r="4.65"/><circle cx="938.2" cy="152.7" r="4.65"/><circle cx="948.3" cy="141.3" r="4.65"/><circle cx="925" cy="168.5" r="4.65"/><circle cx="926.8" cy="167.4" r="4.65"/><circle cx="940.9" cy="150.1" r="4.65"/><circle cx="944.7" cy="144.3" r="4.65"/><circle cx="920.8" cy="176" r="4.65"/><circle cx="948.1" cy="142" r="4.65"/><circle cx="960" cy="126.3" r="4.65"/><circle cx="963.4" cy="122.8" r="4.65"/><circle cx="912.1" cy="184.6" r="4.65"/><circle cx="931.2" cy="162.9" r="4.65"/><circle cx="953.8" cy="135.4" r="4.65"/><circle cx="937.7" cy="155.9" r="4.65"/><circle cx="928.8" cy="165.7" r="4.65"/><circle cx="956.1" cy="131.3" r="4.65"/><circle cx="943.3" cy="145.6" r="4.65"/><circle cx="941.1" cy="149.8" r="4.65"/><circle cx="926.3" cy="170.7" r="4.65"/><circle cx="926.4" cy="166.8" r="4.65"/><circle cx="914.5" cy="182.2" r="4.65"/><circle cx="940.2" cy="152" r="4.65"/><circle cx="941.6" cy="148.8" r="4.65"/><circle cx="945.2" cy="143.8" r="4.65"/><circle cx="925.1" cy="168.7" r="4.65"/><circle cx="931.5" cy="163.6" r="4.65"/><circle cx="936.2" cy="154.1" r="4.65"/><circle cx="949.8" cy="138.7" r="4.65"/><circle cx="933.2" cy="163.2" r="4.65"/><circle cx="947.7" cy="141.9" r="4.65"/><circle cx="938.2" cy="152.2" r="4.65"/><circle cx="920.4" cy="177.9" r="4.65"/><circle cx="941.8" cy="150.2" r="4.65"/><circle cx="943.1" cy="149.9" r="4.65"/><circle cx="933.1" cy="159.8" r="4.65"/><circle cx="940.1" cy="153.9" r="4.65"/><circle cx="931.5" cy="163.3" r="4.65"/><circle cx="929.2" cy="167.5" r="4.65"/><circle cx="942.4" cy="149.4" r="4.65"/><circle cx="928.5" cy="163.7" r="4.65"/><circle cx="933.9" cy="161.5" r="4.65"/><circle cx="962.6" cy="123.4" r="4.65"/><circle cx="912.5" cy="185.5" r="4.65"/><circle cx="919.1" cy="176" r="4.65"/><circle cx="931" cy="165.3" r="4.65"/><circle cx="949.5" cy="138" r="4.65"/><circle cx="948.9" cy="140.2" r="4.65"/><circle cx="939.6" cy="149.8" r="4.65"/><circle cx="960.3" cy="127" r="4.65"/><circle cx="958.1" cy="127.8" r="4.65"/><circle cx="926.1" cy="169.7" r="4.65"/><circle cx="944.4" cy="145.4" r="4.65"/><circle cx="933.6" cy="160.7" r="4.65"/><circle cx="951.7" cy="137" r="4.65"/><circle cx="936" cy="157.8" r="4.65"/><circle cx="953.9" cy="133.6" r="4.65"/><circle cx="934.1" cy="157" r="4.65"/><circle cx="923.9" cy="170.8" r="4.65"/><circle cx="958.7" cy="126.4" r="4.65"/><circle cx="940.9" cy="152.8" r="4.65"/><circle cx="936.6" cy="158.6" r="4.65"/><circle cx="954.1" cy="132.2" r="4.65"/><circle cx="928.6" cy="166.3" r="4.65"/><circle cx="924.3" cy="169.4" r="4.65"/><circle cx="929.4" cy="162.9" r="4.65"/><circle cx="961.7" cy="123.2" r="4.65"/><circle cx="941.5" cy="151.9" r="4.65"/><circle cx="913.6" cy="182.7" r="4.65"/><circle cx="961.7" cy="125.3" r="4.65"/><circle cx="925.6" cy="167.2" r="4.65"/><circle cx="935" cy="157.5" r="4.65"/><circle cx="914.3" cy="182.6" r="4.65"/><circle cx="916.6" cy="177.1" r="4.65"/><circle cx="937.3" cy="152.1" r="4.65"/><circle cx="915.8" cy="178" r="4.65"/><circle cx="932.5" cy="162.3" r="4.65"/><circle cx="923.4" cy="170.5" r="4.65"/><circle cx="930.7" cy="161.5" r="4.65"/><circle cx="941.3" cy="147.6" r="4.65"/><circle cx="946.2" cy="142.3" r="4.65"/><circle cx="929.8" cy="162.4" r="4.65"/><circle cx="942.4" cy="145.9" r="4.65"/><circle cx="919.8" cy="177.2" r="4.65"/><circle cx="915" cy="183.3" r="4.65"/><circle cx="918.1" cy="176.4" r="4.65"/><circle cx="921.5" cy="174.1" r="4.65"/><circle cx="940" cy="149.2" r="4.65"/><circle cx="932.4" cy="160.4" r="4.65"/><circle cx="944.2" cy="147.9" r="4.65"/><circle cx="960.9" cy="126.1" r="4.65"/><circle cx="915.5" cy="181.2" r="4.65"/><circle cx="943.4" cy="145" r="4.65"/><circle cx="925.1" cy="167.6" r="4.65"/><circle cx="928" cy="165.8" r="4.65"/><circle cx="930.4" cy="162.8" r="4.65"/><circle cx="963" cy="120.9" r="4.65"/><circle cx="948.3" cy="138.5" r="4.65"/><circle cx="930.6" cy="164.4" r="4.65"/><circle cx="945.3" cy="144.4" r="4.65"/><circle cx="961.3" cy="126.1" r="4.65"/><circle cx="957.8" cy="128.1" r="4.65"/><circle cx="928.9" cy="163.8" r="4.65"/><circle cx="915.3" cy="182.6" r="4.65"/><circle cx="958" cy="128.3" r="4.65"/><circle cx="937.9" cy="152.8" r="4.65"/><circle cx="961.2" cy="126" r="4.65"/><circle cx="926.8" cy="170" r="4.65"/><circle cx="960.2" cy="127.1" r="4.65"/><circle cx="930.5" cy="163.4" r="4.65"/><circle cx="941" cy="148.5" r="4.65"/><circle cx="953.7" cy="133.4" r="4.65"/><circle cx="919.7" cy="175.6" r="4.65"/><circle cx="950.7" cy="136.4" r="4.65"/><circle cx="942" cy="149.7" r="4.65"/><circle cx="924" cy="173.3" r="4.65"/><circle cx="931.7" cy="159.1" r="4.65"/><circle cx="948.9" cy="140.8" r="4.65"/><circle cx="926" cy="170.7" r="4.65"/><circle cx="929.5" cy="162.7" r="4.65"/><circle cx="956" cy="130.1" r="4.65"/><circle cx="963.8" cy="122" r="4.65"/><circle cx="950.2" cy="140" r="4.65"/><circle cx="958.1" cy="129.5" r="4.65"/><circle cx="927.6" cy="165.1" r="4.65"/><circle cx="939.6" cy="148.9" r="4.65"/><circle cx="945.5" cy="146.6" r="4.65"/><circle cx="950.1" cy="137.5" r="4.65"/><circle cx="918.3" cy="175.9" r="4.65"/><circle cx="951.2" cy="137.6" r="4.65"/><circle cx="961.1" cy="126.2" r="4.65"/><circle cx="919.8" cy="177" r="4.65"/><circle cx="929.6" cy="165.1" r="4.65"/><circle cx="917" cy="180" r="4.65"/><circle cx="949.6" cy="141.1" r="4.65"/><circle cx="924.7" cy="171.9" r="4.65"/><circle cx="962.2" cy="124" r="4.65"/><circle cx="927.5" cy="165.4" r="4.65"/><circle cx="923.1" cy="169.6" r="4.65"/><circle cx="918.6" cy="177.1" r="4.65"/><circle cx="920.7" cy="177.5" r="4.65"/><circle cx="919.1" cy="178.8" r="4.65"/><circle cx="927.6" cy="167.1" r="4.65"/><circle cx="926.6" cy="171.1" r="4.65"/><circle cx="937.2" cy="154.4" r="4.65"/><circle cx="952.8" cy="133.5" r="4.65"/><circle cx="943.1" cy="145.5" r="4.65"/><circle cx="922.4" cy="171.5" r="4.65"/><circle cx="928.7" cy="166.2" r="4.65"/><circle cx="938.2" cy="151.9" r="4.65"/><circle cx="917.4" cy="177.5" r="4.65"/><circle cx="941.2" cy="148.6" r="4.65"/><circle cx="924.9" cy="170.6" r="4.65"/><circle cx="934.3" cy="158.2" r="4.65"/><circle cx="951.8" cy="135.3" r="4.65"/><circle cx="957" cy="130" r="4.65"/><circle cx="914.6" cy="182.3" r="4.65"/><circle cx="913.3" cy="182.4" r="4.65"/><circle cx="946.1" cy="144.8" r="4.65"/><circle cx="935" cy="155.3" r="4.65"/><circle cx="933.6" cy="157" r="4.65"/><circle cx="914.4" cy="183.4" r="4.65"/><circle cx="934.3" cy="159.6" r="4.65"/><circle cx="918.8" cy="179.6" r="4.65"/><circle cx="935" cy="155.3" r="4.65"/><circle cx="978.4" cy="101.4" r="4.65"/><circle cx="971.6" cy="110.9" r="4.65"/><circle cx="968.5" cy="115" r="4.65"/><circle cx="965" cy="119" r="4.65"/><circle cx="913" cy="184" r="4.65"/><circle cx="911" cy="186.5" r="4.65"/></g>
</g>
<rect x="654.4" y="82.3" width="338.6" height="426.1" fill="none" stroke="#7a7a7a" stroke-width="1.4"/>
<g stroke="#000" stroke-width="1.9">
<line x1="715.7" y1="508.4" x2="715.7" y2="514.9"/>
<line x1="806.4" y1="508.4" x2="806.4" y2="514.9"/>
<line x1="897.1" y1="508.4" x2="897.1" y2="514.9"/>
<line x1="987.4" y1="508.4" x2="987.4" y2="514.9"/>
<line x1="647.9" y1="82.5" x2="654.4" y2="82.5"/>
<line x1="647.9" y1="185.8" x2="654.4" y2="185.8"/>
<line x1="647.9" y1="289.6" x2="654.4" y2="289.6"/>
<line x1="647.9" y1="392.3" x2="654.4" y2="392.3"/>
<line x1="647.9" y1="495.3" x2="654.4" y2="495.3"/>
</g>
<g class="tk" text-anchor="middle">
<text x="715.7" y="541.8">−0.4</text>
<text x="806.4" y="541.8">−0.2</text>
<text x="897.1" y="541.8">0.0</text>
<text x="987.4" y="541.8">0.2</text>
</g>
<g class="tk" text-anchor="end" clip-path="url(#ytc)">
<text x="643.2" y="94.5">0.25</text>
<text x="643.2" y="197.8">0.00</text>
<text x="643.2" y="301.6">−0.25</text>
<text x="643.2" y="404.3">−0.50</text>
<text x="643.2" y="507.3">−0.75</text>
</g>
<text class="ax" text-anchor="middle" x="823.5" y="568.9" xml:space="preserve">Axis.1   [14.5%]</text>
<text class="ax" text-anchor="middle" transform="translate(554 295) rotate(-90)" xml:space="preserve">Axis.2   [10.3%]</text>
<text class="ti" x="572.5" y="58.5" style="letter-spacing:-0.25px">Euclidean Distance (Proportions)</text>
</g>
<g class="panel">
<clipPath id="c2"><rect x="115.9" y="696.8" width="356.7" height="425.9"/></clipPath>
<g stroke="#fafafa" stroke-width="1" clip-path="url(#c2)">
<line x1="148.7" y1="696.8" x2="148.7" y2="1122.7"/>
<line x1="233.3" y1="696.8" x2="233.3" y2="1122.7"/>
<line x1="318" y1="696.8" x2="318" y2="1122.7"/>
<line x1="402.7" y1="696.8" x2="402.7" y2="1122.7"/>
<line x1="115.9" y1="755.1" x2="472.6" y2="755.1"/>
<line x1="115.9" y1="863.6" x2="472.6" y2="863.6"/>
<line x1="115.9" y1="972.1" x2="472.6" y2="972.1"/>
<line x1="115.9" y1="1080.7" x2="472.6" y2="1080.7"/>
</g>
<g stroke="#e8e8e8" stroke-width="1.1" clip-path="url(#c2)">
<line x1="191" y1="696.8" x2="191" y2="1122.7"/>
<line x1="275.7" y1="696.8" x2="275.7" y2="1122.7"/>
<line x1="360.4" y1="696.8" x2="360.4" y2="1122.7"/>
<line x1="445.1" y1="696.8" x2="445.1" y2="1122.7"/>
<line x1="115.9" y1="700.9" x2="472.6" y2="700.9"/>
<line x1="115.9" y1="809.4" x2="472.6" y2="809.4"/>
<line x1="115.9" y1="917.7" x2="472.6" y2="917.7"/>
<line x1="115.9" y1="1026.4" x2="472.6" y2="1026.4"/>
</g>
<g clip-path="url(#c2)">
<g fill="#9B48A4"><circle cx="357.5" cy="947.9" r="4.65"/><circle cx="190.9" cy="913.1" r="4.65"/><circle cx="188.4" cy="918.4" r="4.65"/><circle cx="197.9" cy="916.7" r="4.65"/></g>
<g fill="#45B049"><circle cx="202.7" cy="952.1" r="4.65"/><circle cx="362.5" cy="981" r="4.65"/></g>
<g fill="#9B48A4"><circle cx="193.3" cy="917.9" r="4.65"/><circle cx="184" cy="934.8" r="4.65"/><circle cx="137" cy="840.5" r="4.65"/><circle cx="155.4" cy="866.5" r="4.65"/></g>
<g fill="#45B049"><circle cx="161.9" cy="906.9" r="4.65"/></g>
<g fill="#9B48A4"><circle cx="255.1" cy="976.9" r="4.65"/></g>
<g fill="#45B049"><circle cx="188.8" cy="903.6" r="4.65"/><circle cx="154.4" cy="892.4" r="4.65"/><circle cx="201.7" cy="942.3" r="4.65"/></g>
<g fill="#9B48A4"><circle cx="155.5" cy="883.3" r="4.65"/><circle cx="212.1" cy="930.1" r="4.65"/></g>
<g fill="#45B049"><circle cx="212.6" cy="890.4" r="4.65"/><circle cx="321.7" cy="1011.3" r="4.65"/><circle cx="205.1" cy="940.6" r="4.65"/></g>
<g fill="#9B48A4"><circle cx="156.7" cy="885.6" r="4.65"/></g>
<g fill="#45B049"><circle cx="206.2" cy="925.7" r="4.65"/><circle cx="284.8" cy="993.8" r="4.65"/><circle cx="218" cy="897.1" r="4.65"/><circle cx="310.2" cy="944.5" r="4.65"/><circle cx="196.5" cy="927" r="4.65"/><circle cx="280" cy="989.7" r="4.65"/></g>
<g fill="#9B48A4"><circle cx="225.6" cy="945.8" r="4.65"/><circle cx="201.9" cy="948.3" r="4.65"/><circle cx="204.7" cy="941.4" r="4.65"/></g>
<g fill="#45B049"><circle cx="249" cy="931" r="4.65"/></g>
<g fill="#9B48A4"><circle cx="161.9" cy="890.2" r="4.65"/></g>
<g fill="#45B049"><circle cx="200.8" cy="929.1" r="4.65"/></g>
<g fill="#9B48A4"><circle cx="254.4" cy="1000.9" r="4.65"/></g>
<g fill="#45B049"><circle cx="344.7" cy="1014.7" r="4.65"/></g>
<g fill="#9B48A4"><circle cx="147.1" cy="857" r="4.65"/><circle cx="212.8" cy="936.4" r="4.65"/><circle cx="174.7" cy="868.6" r="4.65"/></g>
<g fill="#45B049"><circle cx="329.8" cy="1001.2" r="4.65"/></g>
<g fill="#9B48A4"><circle cx="217.7" cy="936" r="4.65"/><circle cx="210.4" cy="944" r="4.65"/><circle cx="159" cy="877.1" r="4.65"/><circle cx="196.8" cy="931.5" r="4.65"/><circle cx="197.2" cy="945.9" r="4.65"/></g>
<g fill="#45B049"><circle cx="196.6" cy="925.1" r="4.65"/></g>
<g fill="#9B48A4"><circle cx="147.9" cy="856.4" r="4.65"/></g>
<g fill="#45B049"><circle cx="208.8" cy="923.2" r="4.65"/><circle cx="216" cy="929.6" r="4.65"/></g>
<g fill="#9B48A4"><circle cx="186.5" cy="920.5" r="4.65"/><circle cx="220.7" cy="906" r="4.65"/></g>
<g fill="#45B049"><circle cx="157.1" cy="889.4" r="4.65"/><circle cx="177.3" cy="908.1" r="4.65"/></g>
<g fill="#9B48A4"><circle cx="201" cy="944" r="4.65"/><circle cx="167.6" cy="910.5" r="4.65"/><circle cx="158.5" cy="898.4" r="4.65"/><circle cx="199.6" cy="935.5" r="4.65"/><circle cx="215.4" cy="933.5" r="4.65"/><circle cx="225.3" cy="958.3" r="4.65"/><circle cx="187.7" cy="906.4" r="4.65"/></g>
<g fill="#45B049"><circle cx="161" cy="861.9" r="4.65"/><circle cx="323.1" cy="898.9" r="4.65"/><circle cx="264.5" cy="912.8" r="4.65"/><circle cx="183" cy="882.4" r="4.65"/></g>
<g fill="#9B48A4"><circle cx="152.6" cy="880.2" r="4.65"/></g>
<g fill="#45B049"><circle cx="324.7" cy="1024.2" r="4.65"/></g>
<g fill="#9B48A4"><circle cx="227" cy="946.4" r="4.65"/><circle cx="187.5" cy="912.1" r="4.65"/><circle cx="224.1" cy="952.5" r="4.65"/><circle cx="213.7" cy="961.9" r="4.65"/></g>
<g fill="#45B049"><circle cx="171.6" cy="873.7" r="4.65"/><circle cx="194" cy="923.8" r="4.65"/><circle cx="277.3" cy="960.7" r="4.65"/><circle cx="157.2" cy="867.4" r="4.65"/></g>
<g fill="#9B48A4"><circle cx="151.2" cy="864.8" r="4.65"/></g>
<g fill="#45B049"><circle cx="343.3" cy="962.1" r="4.65"/></g>
<g fill="#9B48A4"><circle cx="156.4" cy="869.6" r="4.65"/><circle cx="143.8" cy="856.6" r="4.65"/></g>
<g fill="#45B049"><circle cx="222.7" cy="950.3" r="4.65"/><circle cx="194.9" cy="908.9" r="4.65"/><circle cx="346.7" cy="989.7" r="4.65"/><circle cx="172.7" cy="919.6" r="4.65"/></g>
<g fill="#9B48A4"><circle cx="201.2" cy="905.6" r="4.65"/><circle cx="183.5" cy="917.2" r="4.65"/><circle cx="145.4" cy="866.7" r="4.65"/><circle cx="169.9" cy="897.8" r="4.65"/><circle cx="218.7" cy="936.4" r="4.65"/><circle cx="215.1" cy="948.8" r="4.65"/></g>
<g fill="#45B049"><circle cx="249.3" cy="846.5" r="4.65"/></g>
<g fill="#9B48A4"><circle cx="312.3" cy="953.3" r="4.65"/></g>
<g fill="#45B049"><circle cx="288.8" cy="958.7" r="4.65"/><circle cx="204.4" cy="922.1" r="4.65"/></g>
<g fill="#9B48A4"><circle cx="187.2" cy="925.1" r="4.65"/></g>
<g fill="#45B049"><circle cx="230.8" cy="884.3" r="4.65"/></g>
<g fill="#9B48A4"><circle cx="219.9" cy="958.1" r="4.65"/><circle cx="177" cy="913" r="4.65"/><circle cx="198.3" cy="922.6" r="4.65"/><circle cx="192.8" cy="911" r="4.65"/><circle cx="160.9" cy="885.1" r="4.65"/><circle cx="147.7" cy="884.5" r="4.65"/><circle cx="156.5" cy="890.5" r="4.65"/><circle cx="212.4" cy="944" r="4.65"/></g>
<g fill="#45B049"><circle cx="215.4" cy="948.2" r="4.65"/></g>
<g fill="#9B48A4"><circle cx="219.7" cy="957.4" r="4.65"/><circle cx="164.6" cy="911" r="4.65"/></g>
<g fill="#45B049"><circle cx="220.7" cy="875.5" r="4.65"/><circle cx="168.9" cy="874.6" r="4.65"/><circle cx="185.4" cy="935.2" r="4.65"/></g>
<g fill="#9B48A4"><circle cx="194.3" cy="876.2" r="4.65"/></g>
<g fill="#45B049"><circle cx="189.6" cy="889.7" r="4.65"/><circle cx="192.5" cy="912.7" r="4.65"/><circle cx="203.7" cy="907.5" r="4.65"/></g>
<g fill="#9B48A4"><circle cx="335.9" cy="956.7" r="4.65"/></g>
<g fill="#45B049"><circle cx="207.8" cy="957.4" r="4.65"/></g>
<g fill="#9B48A4"><circle cx="144.3" cy="861.8" r="4.65"/><circle cx="354.1" cy="957.4" r="4.65"/><circle cx="275.7" cy="994.5" r="4.65"/></g>
<g fill="#45B049"><circle cx="303.9" cy="964.5" r="4.65"/></g>
<g fill="#9B48A4"><circle cx="200.3" cy="942.5" r="4.65"/><circle cx="177" cy="916.9" r="4.65"/><circle cx="163.2" cy="874.6" r="4.65"/><circle cx="189" cy="922" r="4.65"/><circle cx="198.4" cy="946.5" r="4.65"/></g>
<g fill="#45B049"><circle cx="211" cy="947.6" r="4.65"/></g>
<g fill="#9B48A4"><circle cx="168.4" cy="881.9" r="4.65"/></g>
<g fill="#45B049"><circle cx="166.7" cy="889.7" r="4.65"/></g>
<g fill="#9B48A4"><circle cx="172.4" cy="912.4" r="4.65"/></g>
<g fill="#45B049"><circle cx="256.4" cy="930.4" r="4.65"/><circle cx="218.2" cy="919.3" r="4.65"/></g>
<g fill="#9B48A4"><circle cx="161.9" cy="900.6" r="4.65"/></g>
<g fill="#45B049"><circle cx="178.9" cy="878.9" r="4.65"/></g>
<g fill="#9B48A4"><circle cx="194.5" cy="925.2" r="4.65"/></g>
<g fill="#45B049"><circle cx="203" cy="934.6" r="4.65"/><circle cx="192.3" cy="919.7" r="4.65"/></g>
<g fill="#9B48A4"><circle cx="204.9" cy="952.4" r="4.65"/></g>
<g fill="#45B049"><circle cx="318.3" cy="894.4" r="4.65"/><circle cx="203.1" cy="953.3" r="4.65"/><circle cx="224.2" cy="962.9" r="4.65"/><circle cx="193.9" cy="925.3" r="4.65"/></g>
<g fill="#9B48A4"><circle cx="214" cy="938.6" r="4.65"/></g>
<g fill="#45B049"><circle cx="206.7" cy="954.4" r="4.65"/></g>
<g fill="#9B48A4"><circle cx="157.3" cy="888.3" r="4.65"/></g>
<g fill="#45B049"><circle cx="195.1" cy="941.9" r="4.65"/></g>
<g fill="#9B48A4"><circle cx="181.9" cy="895.5" r="4.65"/><circle cx="193.2" cy="917.8" r="4.65"/><circle cx="194.3" cy="921.7" r="4.65"/><circle cx="145.1" cy="857.3" r="4.65"/></g>
<g fill="#45B049"><circle cx="164.1" cy="866.1" r="4.65"/></g>
<g fill="#9B48A4"><circle cx="206.6" cy="911.1" r="4.65"/></g>
<g fill="#45B049"><circle cx="169.4" cy="869.5" r="4.65"/></g>
<g fill="#9B48A4"><circle cx="205.6" cy="938.3" r="4.65"/></g>
<g fill="#45B049"><circle cx="154.1" cy="891.2" r="4.65"/></g>
<g fill="#9B48A4"><circle cx="171.3" cy="884.8" r="4.65"/><circle cx="225.5" cy="951.1" r="4.65"/></g>
<g fill="#45B049"><circle cx="218.7" cy="939.2" r="4.65"/></g>
<g fill="#9B48A4"><circle cx="158.9" cy="885.3" r="4.65"/><circle cx="255.7" cy="949.3" r="4.65"/></g>
<g fill="#45B049"><circle cx="207" cy="938.8" r="4.65"/></g>
<g fill="#9B48A4"><circle cx="146.3" cy="863.2" r="4.65"/></g>
<g fill="#45B049"><circle cx="296.2" cy="856" r="4.65"/></g>
<g fill="#9B48A4"><circle cx="232.1" cy="962.1" r="4.65"/></g>
<g fill="#45B049"><circle cx="154.1" cy="888.2" r="4.65"/></g>
<g fill="#9B48A4"><circle cx="155.5" cy="883" r="4.65"/></g>
<g fill="#45B049"><circle cx="259.5" cy="897.1" r="4.65"/></g>
<g fill="#9B48A4"><circle cx="181.9" cy="922" r="4.65"/></g>
<g fill="#45B049"><circle cx="232.5" cy="940.2" r="4.65"/></g>
<g fill="#9B48A4"><circle cx="187.6" cy="878.2" r="4.65"/><circle cx="158.1" cy="900.5" r="4.65"/></g>
<g fill="#45B049"><circle cx="228" cy="943.3" r="4.65"/><circle cx="283.1" cy="1003.9" r="4.65"/><circle cx="197.7" cy="850.6" r="4.65"/><circle cx="185.6" cy="881" r="4.65"/></g>
<g fill="#9B48A4"><circle cx="256.4" cy="1006.6" r="4.65"/></g>
<g fill="#45B049"><circle cx="149.5" cy="873.6" r="4.65"/><circle cx="190.2" cy="918.7" r="4.65"/></g>
<g fill="#9B48A4"><circle cx="141.3" cy="853.9" r="4.65"/></g>
<g fill="#45B049"><circle cx="201.3" cy="912" r="4.65"/><circle cx="277.3" cy="973.5" r="4.65"/></g>
<g fill="#9B48A4"><circle cx="224.8" cy="961.8" r="4.65"/></g>
<g fill="#45B049"><circle cx="314.7" cy="824.3" r="4.65"/></g>
<g fill="#9B48A4"><circle cx="197.9" cy="928.4" r="4.65"/><circle cx="158.9" cy="899.5" r="4.65"/><circle cx="214.6" cy="929.2" r="4.65"/><circle cx="136.7" cy="847.1" r="4.65"/></g>
<g fill="#45B049"><circle cx="174.4" cy="876.9" r="4.65"/><circle cx="267.2" cy="956" r="4.65"/></g>
<g fill="#9B48A4"><circle cx="176.1" cy="903.9" r="4.65"/><circle cx="195.1" cy="926.1" r="4.65"/><circle cx="177.1" cy="867.4" r="4.65"/><circle cx="207" cy="942.9" r="4.65"/></g>
<g fill="#45B049"><circle cx="180.5" cy="882.8" r="4.65"/><circle cx="323.1" cy="900.7" r="4.65"/><circle cx="213.2" cy="918.4" r="4.65"/><circle cx="226.5" cy="958.7" r="4.65"/></g>
<g fill="#9B48A4"><circle cx="222.6" cy="935.4" r="4.65"/></g>
<g fill="#45B049"><circle cx="225.3" cy="952.2" r="4.65"/></g>
<g fill="#9B48A4"><circle cx="263.8" cy="949.9" r="4.65"/><circle cx="193" cy="920.4" r="4.65"/></g>
<g fill="#45B049"><circle cx="230" cy="968.9" r="4.65"/><circle cx="178.4" cy="895.8" r="4.65"/></g>
<g fill="#9B48A4"><circle cx="192.7" cy="920.6" r="4.65"/></g>
<g fill="#45B049"><circle cx="204.1" cy="941.8" r="4.65"/><circle cx="189.7" cy="890.8" r="4.65"/><circle cx="173.4" cy="861.4" r="4.65"/></g>
<g fill="#9B48A4"><circle cx="172.2" cy="913.2" r="4.65"/></g>
<g fill="#45B049"><circle cx="215.2" cy="931.2" r="4.65"/></g>
<g fill="#9B48A4"><circle cx="235.5" cy="933.7" r="4.65"/></g>
<g fill="#45B049"><circle cx="214.5" cy="930.7" r="4.65"/></g>
<g fill="#9B48A4"><circle cx="186.3" cy="914.5" r="4.65"/><circle cx="174.5" cy="907" r="4.65"/><circle cx="218" cy="957.9" r="4.65"/><circle cx="184.3" cy="911.8" r="4.65"/></g>
<g fill="#45B049"><circle cx="325.1" cy="1014" r="4.65"/><circle cx="290.2" cy="968.1" r="4.65"/></g>
<g fill="#9B48A4"><circle cx="215.8" cy="957.1" r="4.65"/><circle cx="191.8" cy="916.4" r="4.65"/></g>
<g fill="#45B049"><circle cx="168" cy="901.9" r="4.65"/></g>
<g fill="#9B48A4"><circle cx="188.2" cy="918.3" r="4.65"/></g>
<g fill="#45B049"><circle cx="325.8" cy="795.3" r="4.65"/><circle cx="202.7" cy="907.7" r="4.65"/></g>
<g fill="#9B48A4"><circle cx="280" cy="979.6" r="4.65"/><circle cx="212.2" cy="933.7" r="4.65"/><circle cx="151.5" cy="872.8" r="4.65"/><circle cx="180.1" cy="880.1" r="4.65"/><circle cx="187.2" cy="878.7" r="4.65"/></g>
<g fill="#45B049"><circle cx="199.2" cy="915.1" r="4.65"/><circle cx="181.8" cy="921.1" r="4.65"/></g>
<g fill="#9B48A4"><circle cx="209.2" cy="949.8" r="4.65"/><circle cx="184.9" cy="862.7" r="4.65"/><circle cx="152.8" cy="878.4" r="4.65"/><circle cx="175" cy="891" r="4.65"/></g>
<g fill="#45B049"><circle cx="228.8" cy="974.2" r="4.65"/><circle cx="205.8" cy="852" r="4.65"/><circle cx="201.9" cy="898.1" r="4.65"/><circle cx="211" cy="928.9" r="4.65"/><circle cx="322.4" cy="950.6" r="4.65"/></g>
<g fill="#9B48A4"><circle cx="199" cy="949.4" r="4.65"/></g>
<g fill="#45B049"><circle cx="165.3" cy="879" r="4.65"/><circle cx="182.7" cy="909.5" r="4.65"/><circle cx="263.8" cy="924.3" r="4.65"/><circle cx="345.3" cy="994.5" r="4.65"/><circle cx="290.7" cy="959.4" r="4.65"/></g>
<g fill="#9B48A4"><circle cx="134.6" cy="851.1" r="4.65"/><circle cx="228" cy="933.4" r="4.65"/><circle cx="199.4" cy="929.5" r="4.65"/><circle cx="186.2" cy="903.3" r="4.65"/></g>
<g fill="#45B049"><circle cx="259.1" cy="974.2" r="4.65"/></g>
<g fill="#9B48A4"><circle cx="131.6" cy="841.8" r="4.65"/></g>
<g fill="#45B049"><circle cx="336.6" cy="949.9" r="4.65"/><circle cx="257.1" cy="943.2" r="4.65"/></g>
<g fill="#9B48A4"><circle cx="166.9" cy="883.8" r="4.65"/></g>
<g fill="#45B049"><circle cx="313.9" cy="860.3" r="4.65"/></g>
<g fill="#9B48A4"><circle cx="259.8" cy="935.1" r="4.65"/><circle cx="209.5" cy="909.4" r="4.65"/></g>
<g fill="#45B049"><circle cx="187.1" cy="898.7" r="4.65"/><circle cx="215.7" cy="938.7" r="4.65"/><circle cx="174.8" cy="903.2" r="4.65"/></g>
<g fill="#9B48A4"><circle cx="263.6" cy="811.5" r="4.65"/><circle cx="218.8" cy="960.3" r="4.65"/><circle cx="216.5" cy="959" r="4.65"/></g>
<g fill="#45B049"><circle cx="340.6" cy="969.5" r="4.65"/><circle cx="189.7" cy="893.8" r="4.65"/></g>
<g fill="#9B48A4"><circle cx="163.3" cy="909.9" r="4.65"/></g>
<g fill="#45B049"><circle cx="230.6" cy="960.7" r="4.65"/><circle cx="181.3" cy="868.6" r="4.65"/></g>
<g fill="#9B48A4"><circle cx="221.2" cy="964.3" r="4.65"/></g>
<g fill="#45B049"><circle cx="206" cy="911.1" r="4.65"/></g>
<g fill="#9B48A4"><circle cx="267.2" cy="1007.6" r="4.65"/><circle cx="195" cy="935.6" r="4.65"/><circle cx="206.5" cy="952.9" r="4.65"/><circle cx="275.3" cy="955.3" r="4.65"/></g>
<g fill="#45B049"><circle cx="201.4" cy="931.3" r="4.65"/></g>
<g fill="#9B48A4"><circle cx="188.6" cy="934.9" r="4.65"/><circle cx="300" cy="1010" r="4.65"/></g>
<g fill="#45B049"><circle cx="220.6" cy="959.7" r="4.65"/></g>
<g fill="#9B48A4"><circle cx="195.8" cy="946.8" r="4.65"/><circle cx="303.5" cy="1009.6" r="4.65"/><circle cx="174.8" cy="912" r="4.65"/><circle cx="267.9" cy="992.4" r="4.65"/><circle cx="207.3" cy="933.5" r="4.65"/></g>
<g fill="#45B049"><circle cx="179.5" cy="881" r="4.65"/></g>
<g fill="#9B48A4"><circle cx="162.4" cy="880.3" r="4.65"/></g>
<g fill="#45B049"><circle cx="217.3" cy="938" r="4.65"/><circle cx="378.4" cy="769.3" r="4.65"/></g>
<g fill="#9B48A4"><circle cx="151.5" cy="867.8" r="4.65"/><circle cx="215.9" cy="940.4" r="4.65"/></g>
<g fill="#45B049"><circle cx="182.5" cy="903.8" r="4.65"/></g>
<g fill="#9B48A4"><circle cx="222.8" cy="941.4" r="4.65"/><circle cx="216.3" cy="942.7" r="4.65"/><circle cx="186.3" cy="915.4" r="4.65"/><circle cx="276" cy="951.3" r="4.65"/></g>
<g fill="#45B049"><circle cx="184.4" cy="874.9" r="4.65"/></g>
<g fill="#9B48A4"><circle cx="209.1" cy="946.2" r="4.65"/></g>
<g fill="#45B049"><circle cx="184.2" cy="872.2" r="4.65"/><circle cx="180.4" cy="921.9" r="4.65"/></g>
<g fill="#9B48A4"><circle cx="147.4" cy="877.4" r="4.65"/><circle cx="134.2" cy="843.7" r="4.65"/><circle cx="188.1" cy="921.4" r="4.65"/></g>
<g fill="#45B049"><circle cx="169" cy="865.5" r="4.65"/><circle cx="182.3" cy="902.7" r="4.65"/></g>
<g fill="#9B48A4"><circle cx="228.1" cy="922.9" r="4.65"/><circle cx="155.8" cy="889.5" r="4.65"/><circle cx="182.1" cy="914.1" r="4.65"/><circle cx="220.4" cy="954.2" r="4.65"/></g>
<g fill="#45B049"><circle cx="170.4" cy="920.9" r="4.65"/><circle cx="178" cy="874.9" r="4.65"/><circle cx="236.8" cy="945.2" r="4.65"/></g>
<g fill="#9B48A4"><circle cx="196.8" cy="941.5" r="4.65"/><circle cx="188.3" cy="894.3" r="4.65"/></g>
<g fill="#45B049"><circle cx="175.8" cy="889.7" r="4.65"/></g>
<g fill="#9B48A4"><circle cx="219" cy="963.1" r="4.65"/></g>
<g fill="#45B049"><circle cx="237.4" cy="952.4" r="4.65"/><circle cx="215.2" cy="938.6" r="4.65"/><circle cx="164.4" cy="911.4" r="4.65"/></g>
<g fill="#9B48A4"><circle cx="200.3" cy="946.9" r="4.65"/><circle cx="308.9" cy="802.7" r="4.65"/><circle cx="189.1" cy="911.8" r="4.65"/></g>
<g fill="#45B049"><circle cx="198.5" cy="913.2" r="4.65"/></g>
<g fill="#9B48A4"><circle cx="220.3" cy="952.8" r="4.65"/></g>
<g fill="#45B049"><circle cx="189.1" cy="919.1" r="4.65"/></g>
<g fill="#9B48A4"><circle cx="227.2" cy="944.8" r="4.65"/></g>
<g fill="#45B049"><circle cx="344" cy="952.6" r="4.65"/></g>
<g fill="#9B48A4"><circle cx="147.9" cy="853.8" r="4.65"/><circle cx="198.4" cy="947.5" r="4.65"/></g>
<g fill="#45B049"><circle cx="227.9" cy="953.2" r="4.65"/><circle cx="236" cy="952.7" r="4.65"/></g>
<g fill="#9B48A4"><circle cx="150.6" cy="857.1" r="4.65"/></g>
<g fill="#45B049"><circle cx="210.5" cy="927.3" r="4.65"/></g>
<g fill="#9B48A4"><circle cx="216.4" cy="942.9" r="4.65"/></g>
<g fill="#45B049"><circle cx="176.2" cy="911.4" r="4.65"/></g>
<g fill="#9B48A4"><circle cx="225.4" cy="963" r="4.65"/></g>
<g fill="#45B049"><circle cx="330.5" cy="962.1" r="4.65"/><circle cx="248.3" cy="838.4" r="4.65"/></g>
<g fill="#9B48A4"><circle cx="213.1" cy="941.5" r="4.65"/><circle cx="177.2" cy="905.9" r="4.65"/><circle cx="187" cy="930.3" r="4.65"/><circle cx="197.4" cy="910.2" r="4.65"/><circle cx="162.5" cy="888.9" r="4.65"/><circle cx="176.6" cy="922.5" r="4.65"/></g>
<g fill="#45B049"><circle cx="206.2" cy="941.3" r="4.65"/><circle cx="198.5" cy="949.4" r="4.65"/></g>
<g fill="#9B48A4"><circle cx="153.9" cy="884.3" r="4.65"/></g>
<g fill="#45B049"><circle cx="319.7" cy="945.9" r="4.65"/><circle cx="180" cy="869.5" r="4.65"/></g>
<g fill="#9B48A4"><circle cx="328.2" cy="916.9" r="4.65"/></g>
<g fill="#45B049"><circle cx="164.2" cy="909.6" r="4.65"/><circle cx="194.6" cy="909.8" r="4.65"/></g>
<g fill="#9B48A4"><circle cx="222.5" cy="936.4" r="4.65"/></g>
<g fill="#45B049"><circle cx="334.5" cy="1012.3" r="4.65"/><circle cx="373.7" cy="990.4" r="4.65"/><circle cx="325.1" cy="947.2" r="4.65"/></g>
<g fill="#9B48A4"><circle cx="163.4" cy="902" r="4.65"/><circle cx="184.3" cy="912.9" r="4.65"/><circle cx="213.1" cy="928.8" r="4.65"/></g>
<g fill="#45B049"><circle cx="344" cy="981.6" r="4.65"/><circle cx="218" cy="982" r="4.65"/><circle cx="313.6" cy="1014.4" r="4.65"/><circle cx="188.3" cy="946.6" r="4.65"/><circle cx="337.2" cy="1001.9" r="4.65"/><circle cx="179" cy="911.8" r="4.65"/><circle cx="280" cy="923" r="4.65"/></g>
<g fill="#9B48A4"><circle cx="243" cy="945" r="4.65"/><circle cx="162.7" cy="878.3" r="4.65"/><circle cx="168.3" cy="883.8" r="4.65"/><circle cx="181.7" cy="933.1" r="4.65"/></g>
<g fill="#45B049"><circle cx="200.4" cy="892.4" r="4.65"/></g>
<g fill="#9B48A4"><circle cx="156.7" cy="877" r="4.65"/><circle cx="186.6" cy="929" r="4.65"/></g>
<g fill="#45B049"><circle cx="155.4" cy="869.3" r="4.65"/><circle cx="224" cy="936" r="4.65"/></g>
<g fill="#9B48A4"><circle cx="346.7" cy="754.5" r="4.65"/></g>
<g fill="#45B049"><circle cx="187.9" cy="892.9" r="4.65"/><circle cx="167.4" cy="882.8" r="4.65"/><circle cx="201.8" cy="850" r="4.65"/><circle cx="191.4" cy="938.5" r="4.65"/><circle cx="200.2" cy="922.3" r="4.65"/></g>
<g fill="#9B48A4"><circle cx="271.9" cy="944.5" r="4.65"/><circle cx="210.6" cy="940.3" r="4.65"/></g>
<g fill="#45B049"><circle cx="290.7" cy="967.5" r="4.65"/></g>
<g fill="#9B48A4"><circle cx="182.8" cy="934.9" r="4.65"/><circle cx="202" cy="943.3" r="4.65"/></g>
<g fill="#45B049"><circle cx="282.7" cy="964.8" r="4.65"/></g>
<g fill="#9B48A4"><circle cx="240" cy="950" r="4.65"/><circle cx="156.7" cy="886" r="4.65"/><circle cx="249.3" cy="827.4" r="4.65"/><circle cx="214.6" cy="961" r="4.65"/><circle cx="146.3" cy="877.2" r="4.65"/><circle cx="153.5" cy="861.6" r="4.65"/><circle cx="232.5" cy="952.5" r="4.65"/></g>
<g fill="#45B049"><circle cx="263.8" cy="910" r="4.65"/><circle cx="206.7" cy="934.4" r="4.65"/></g>
<g fill="#9B48A4"><circle cx="349.4" cy="952" r="4.65"/><circle cx="196.2" cy="913.1" r="4.65"/></g>
<g fill="#45B049"><circle cx="356.4" cy="1028.9" r="4.65"/></g>
<g fill="#9B48A4"><circle cx="232.4" cy="963.5" r="4.65"/><circle cx="222.2" cy="952.6" r="4.65"/><circle cx="188.1" cy="923.5" r="4.65"/></g>
<g fill="#45B049"><circle cx="314.7" cy="786.2" r="4.65"/><circle cx="195.6" cy="922.1" r="4.65"/><circle cx="182.7" cy="896" r="4.65"/></g>
<g fill="#9B48A4"><circle cx="204.9" cy="944" r="4.65"/></g>
<g fill="#45B049"><circle cx="282" cy="929.7" r="4.65"/></g>
<g fill="#9B48A4"><circle cx="175.7" cy="894.8" r="4.65"/><circle cx="176.9" cy="911.6" r="4.65"/><circle cx="157.2" cy="887" r="4.65"/><circle cx="167.2" cy="882.9" r="4.65"/><circle cx="210.8" cy="921.9" r="4.65"/></g>
<g fill="#45B049"><circle cx="247.6" cy="941.8" r="4.65"/><circle cx="197.6" cy="929.3" r="4.65"/><circle cx="215" cy="946.9" r="4.65"/></g>
<g fill="#9B48A4"><circle cx="274.6" cy="937.8" r="4.65"/><circle cx="137.5" cy="858.8" r="4.65"/><circle cx="221.4" cy="955.8" r="4.65"/><circle cx="203.1" cy="929.5" r="4.65"/><circle cx="270.6" cy="974.2" r="4.65"/></g>
<g fill="#45B049"><circle cx="274.6" cy="893.5" r="4.65"/><circle cx="196.4" cy="887" r="4.65"/></g>
<g fill="#9B48A4"><circle cx="214.9" cy="952.3" r="4.65"/></g>
<g fill="#45B049"><circle cx="284.1" cy="902.1" r="4.65"/><circle cx="202.2" cy="911" r="4.65"/></g>
<g fill="#9B48A4"><circle cx="199.9" cy="932.6" r="4.65"/></g>
<g fill="#45B049"><circle cx="247.6" cy="976.9" r="4.65"/><circle cx="303.9" cy="885.4" r="4.65"/></g>
<g fill="#9B48A4"><circle cx="235.7" cy="956" r="4.65"/><circle cx="161.5" cy="892.1" r="4.65"/><circle cx="255.1" cy="970.2" r="4.65"/></g>
<g fill="#45B049"><circle cx="189.3" cy="918.9" r="4.65"/></g>
<g fill="#9B48A4"><circle cx="168.6" cy="888.8" r="4.65"/><circle cx="157.9" cy="870.7" r="4.65"/><circle cx="226.3" cy="957.3" r="4.65"/><circle cx="142.7" cy="866.5" r="4.65"/><circle cx="213.4" cy="932.7" r="4.65"/></g>
<g fill="#45B049"><circle cx="175.4" cy="881.8" r="4.65"/></g>
<g fill="#9B48A4"><circle cx="181.1" cy="916.5" r="4.65"/></g>
<g fill="#45B049"><circle cx="189.3" cy="883" r="4.65"/><circle cx="160.8" cy="841.3" r="4.65"/><circle cx="152.7" cy="846.5" r="4.65"/><circle cx="157.6" cy="851.4" r="4.65"/><circle cx="162.6" cy="843.8" r="4.65"/><circle cx="154.9" cy="847.7" r="4.65"/><circle cx="149.4" cy="841.9" r="4.65"/><circle cx="154.2" cy="850" r="4.65"/><circle cx="146.6" cy="851.5" r="4.65"/><circle cx="163.2" cy="843.5" r="4.65"/><circle cx="147.6" cy="843.8" r="4.65"/><circle cx="143.3" cy="849.1" r="4.65"/><circle cx="156.5" cy="847" r="4.65"/><circle cx="150.3" cy="846.7" r="4.65"/><circle cx="143.2" cy="846.2" r="4.65"/><circle cx="152.1" cy="849.9" r="4.65"/><circle cx="158.6" cy="839.6" r="4.65"/><circle cx="159" cy="850.1" r="4.65"/><circle cx="147.2" cy="839.5" r="4.65"/><circle cx="144.7" cy="843.8" r="4.65"/><circle cx="152.2" cy="839.8" r="4.65"/><circle cx="161.7" cy="851.2" r="4.65"/><circle cx="149.9" cy="846" r="4.65"/><circle cx="149.8" cy="855.6" r="4.65"/><circle cx="161.1" cy="850.8" r="4.65"/><circle cx="158.8" cy="845.8" r="4.65"/><circle cx="157.7" cy="844.1" r="4.65"/><circle cx="153.9" cy="845.3" r="4.65"/><circle cx="152.9" cy="849.3" r="4.65"/><circle cx="162.2" cy="843.3" r="4.65"/><circle cx="156.2" cy="839" r="4.65"/></g>
<g fill="#EF82B7"><circle cx="393" cy="942.2" r="4.65"/><circle cx="390.1" cy="962" r="4.65"/><circle cx="393.2" cy="966.3" r="4.65"/><circle cx="390.4" cy="949.7" r="4.65"/><circle cx="390" cy="960.7" r="4.65"/><circle cx="394.2" cy="957" r="4.65"/><circle cx="394" cy="957.3" r="4.65"/><circle cx="391.7" cy="958.3" r="4.65"/><circle cx="396.3" cy="949.2" r="4.65"/><circle cx="395.7" cy="936.8" r="4.65"/><circle cx="392.5" cy="950.4" r="4.65"/><circle cx="392.5" cy="943.5" r="4.65"/><circle cx="396.8" cy="954.4" r="4.65"/><circle cx="387.3" cy="948.6" r="4.65"/><circle cx="392.7" cy="965.7" r="4.65"/><circle cx="388" cy="948.5" r="4.65"/><circle cx="393.6" cy="939.6" r="4.65"/><circle cx="399" cy="932.8" r="4.65"/><circle cx="396.7" cy="956.6" r="4.65"/><circle cx="394.8" cy="939.7" r="4.65"/><circle cx="391.4" cy="953.6" r="4.65"/><circle cx="395.7" cy="942.2" r="4.65"/><circle cx="399.1" cy="947.2" r="4.65"/><circle cx="392.1" cy="969.2" r="4.65"/><circle cx="396.7" cy="947.2" r="4.65"/><circle cx="393.1" cy="961.5" r="4.65"/><circle cx="394.9" cy="955.5" r="4.65"/><circle cx="394.1" cy="958.9" r="4.65"/><circle cx="394.9" cy="954.7" r="4.65"/><circle cx="391.5" cy="960" r="4.65"/><circle cx="396.4" cy="945.8" r="4.65"/><circle cx="393.2" cy="946.7" r="4.65"/><circle cx="389.1" cy="953.3" r="4.65"/><circle cx="389.6" cy="969.2" r="4.65"/><circle cx="390.6" cy="951.8" r="4.65"/><circle cx="393" cy="952.8" r="4.65"/><circle cx="393.7" cy="949.1" r="4.65"/><circle cx="393.6" cy="947" r="4.65"/><circle cx="390.2" cy="952" r="4.65"/><circle cx="394.2" cy="956.9" r="4.65"/><circle cx="394.3" cy="943.9" r="4.65"/><circle cx="389.1" cy="950.5" r="4.65"/><circle cx="396.6" cy="951.6" r="4.65"/><circle cx="391.7" cy="945.5" r="4.65"/><circle cx="389.3" cy="947.1" r="4.65"/><circle cx="389.7" cy="960.9" r="4.65"/><circle cx="391.1" cy="956.5" r="4.65"/><circle cx="388.5" cy="954" r="4.65"/><circle cx="390" cy="955.4" r="4.65"/><circle cx="392.3" cy="951.9" r="4.65"/><circle cx="280" cy="877.6" r="4.65"/><circle cx="251" cy="885.7" r="4.65"/><circle cx="223.6" cy="890.4" r="4.65"/><circle cx="230.8" cy="905.2" r="4.65"/><circle cx="255.1" cy="901.9" r="4.65"/><circle cx="278" cy="897.1" r="4.65"/><circle cx="413.2" cy="771.4" r="4.65"/><circle cx="436.8" cy="861.1" r="4.65"/><circle cx="405.8" cy="874.5" r="4.65"/><circle cx="402" cy="905.5" r="4.65"/><circle cx="409.8" cy="943.5" r="4.65"/><circle cx="368.3" cy="945.9" r="4.65"/><circle cx="373" cy="948.6" r="4.65"/><circle cx="379.7" cy="956.7" r="4.65"/><circle cx="406" cy="959.4" r="4.65"/><circle cx="365.6" cy="972.9" r="4.65"/><circle cx="390.5" cy="982.3" r="4.65"/><circle cx="384.9" cy="1026.2" r="4.65"/><circle cx="358.8" cy="951.3" r="4.65"/><circle cx="330.5" cy="949.3" r="4.65"/><circle cx="320.4" cy="958.7" r="4.65"/><circle cx="312.3" cy="949.3" r="4.65"/><circle cx="421.6" cy="931" r="4.65"/><circle cx="278" cy="937.1" r="4.65"/><circle cx="352" cy="949" r="4.65"/></g>
<g fill="#B35A25"><circle cx="445.8" cy="778.3" r="4.65"/><circle cx="446.4" cy="751.9" r="4.65"/><circle cx="448.3" cy="772" r="4.65"/><circle cx="452.3" cy="750.1" r="4.65"/><circle cx="450.4" cy="789.3" r="4.65"/><circle cx="454.3" cy="753.5" r="4.65"/><circle cx="444.8" cy="763.9" r="4.65"/><circle cx="455" cy="759.2" r="4.65"/><circle cx="455" cy="760" r="4.65"/><circle cx="451.7" cy="744.6" r="4.65"/><circle cx="447.6" cy="772.6" r="4.65"/><circle cx="450.9" cy="750.1" r="4.65"/><circle cx="449.7" cy="732.4" r="4.65"/><circle cx="453.7" cy="771.1" r="4.65"/><circle cx="449.1" cy="776.9" r="4.65"/><circle cx="456" cy="767.5" r="4.65"/><circle cx="448.8" cy="785.1" r="4.65"/><circle cx="451.9" cy="768.2" r="4.65"/><circle cx="454.1" cy="776" r="4.65"/><circle cx="445.5" cy="769.6" r="4.65"/><circle cx="448.2" cy="739.7" r="4.65"/><circle cx="450.6" cy="724.1" r="4.65"/><circle cx="449.7" cy="788.6" r="4.65"/><circle cx="455.4" cy="752.4" r="4.65"/><circle cx="449.8" cy="784.3" r="4.65"/><circle cx="454.6" cy="760.9" r="4.65"/><circle cx="445.7" cy="764.4" r="4.65"/><circle cx="452.5" cy="753.7" r="4.65"/><circle cx="450.6" cy="751" r="4.65"/><circle cx="448.5" cy="773" r="4.65"/><circle cx="456.1" cy="760" r="4.65"/><circle cx="451.2" cy="735.8" r="4.65"/><circle cx="456" cy="742.4" r="4.65"/><circle cx="450.2" cy="747.8" r="4.65"/><circle cx="455.6" cy="732.2" r="4.65"/><circle cx="455.7" cy="755.4" r="4.65"/><circle cx="455.9" cy="761" r="4.65"/><circle cx="449.2" cy="739.3" r="4.65"/><circle cx="455.6" cy="728.8" r="4.65"/><circle cx="454.3" cy="758.4" r="4.65"/><circle cx="447.2" cy="752.8" r="4.65"/><circle cx="449.8" cy="730.9" r="4.65"/><circle cx="451.2" cy="767.7" r="4.65"/><circle cx="454.8" cy="768.9" r="4.65"/><circle cx="454.8" cy="744.2" r="4.65"/><circle cx="451.7" cy="780.9" r="4.65"/><circle cx="448" cy="749.5" r="4.65"/><circle cx="448.8" cy="775.4" r="4.65"/><circle cx="451.2" cy="774" r="4.65"/><circle cx="446.2" cy="765.6" r="4.65"/><circle cx="456" cy="762.7" r="4.65"/><circle cx="453" cy="761.4" r="4.65"/><circle cx="445.4" cy="762.8" r="4.65"/><circle cx="449.9" cy="760.9" r="4.65"/><circle cx="453.3" cy="718.7" r="4.65"/><circle cx="451" cy="742.2" r="4.65"/><circle cx="448.6" cy="745.8" r="4.65"/><circle cx="447.7" cy="757.7" r="4.65"/><circle cx="452.2" cy="760" r="4.65"/><circle cx="452.3" cy="736.7" r="4.65"/><circle cx="449.8" cy="731" r="4.65"/><circle cx="453.9" cy="774.2" r="4.65"/><circle cx="448.3" cy="739.3" r="4.65"/><circle cx="444.9" cy="770.1" r="4.65"/><circle cx="451.7" cy="738.7" r="4.65"/><circle cx="450.5" cy="735" r="4.65"/><circle cx="450.6" cy="761.1" r="4.65"/><circle cx="446.4" cy="752.7" r="4.65"/><circle cx="453.8" cy="741.5" r="4.65"/><circle cx="452.8" cy="743.4" r="4.65"/><circle cx="449.3" cy="772.8" r="4.65"/><circle cx="448" cy="762.1" r="4.65"/><circle cx="449.5" cy="733.6" r="4.65"/><circle cx="455.1" cy="786" r="4.65"/><circle cx="452" cy="777.3" r="4.65"/><circle cx="451.7" cy="761.1" r="4.65"/><circle cx="450.4" cy="722.9" r="4.65"/><circle cx="455.6" cy="759" r="4.65"/><circle cx="445.3" cy="762.8" r="4.65"/><circle cx="452.4" cy="770.9" r="4.65"/><circle cx="453.6" cy="723.4" r="4.65"/><circle cx="450" cy="724.4" r="4.65"/><circle cx="451.9" cy="717.9" r="4.65"/><circle cx="456.7" cy="753.4" r="4.65"/><circle cx="448.4" cy="764.2" r="4.65"/><circle cx="455.8" cy="733.8" r="4.65"/><circle cx="448.2" cy="769.3" r="4.65"/><circle cx="454.2" cy="761" r="4.65"/><circle cx="451.3" cy="727.2" r="4.65"/><circle cx="454.8" cy="762" r="4.65"/><circle cx="447.9" cy="785.6" r="4.65"/><circle cx="446.3" cy="768.2" r="4.65"/><circle cx="451.7" cy="754.4" r="4.65"/><circle cx="455.8" cy="747.3" r="4.65"/><circle cx="453.8" cy="742.5" r="4.65"/><circle cx="447.6" cy="768" r="4.65"/><circle cx="446.2" cy="774.1" r="4.65"/><circle cx="448.7" cy="737.6" r="4.65"/><circle cx="450.4" cy="738.3" r="4.65"/><circle cx="453.5" cy="730.7" r="4.65"/><circle cx="453.3" cy="784.2" r="4.65"/><circle cx="449.7" cy="746.8" r="4.65"/><circle cx="454.1" cy="769.3" r="4.65"/><circle cx="445.3" cy="758.8" r="4.65"/><circle cx="450.8" cy="773.1" r="4.65"/><circle cx="456" cy="738.4" r="4.65"/><circle cx="452.2" cy="765" r="4.65"/><circle cx="448.2" cy="736.9" r="4.65"/><circle cx="450.3" cy="764.7" r="4.65"/><circle cx="448.4" cy="780" r="4.65"/><circle cx="455.4" cy="768.8" r="4.65"/><circle cx="450.6" cy="760.6" r="4.65"/><circle cx="454.7" cy="750.4" r="4.65"/><circle cx="455.5" cy="760.1" r="4.65"/><circle cx="450.8" cy="759.4" r="4.65"/><circle cx="449.1" cy="731.4" r="4.65"/><circle cx="446" cy="755.7" r="4.65"/><circle cx="450" cy="741.6" r="4.65"/><circle cx="456" cy="740.9" r="4.65"/><circle cx="454.1" cy="720.2" r="4.65"/><circle cx="456.7" cy="775.7" r="4.65"/><circle cx="450.1" cy="756.1" r="4.65"/><circle cx="448" cy="757.7" r="4.65"/><circle cx="454.9" cy="773.3" r="4.65"/><circle cx="453.6" cy="750.2" r="4.65"/><circle cx="455.4" cy="745.8" r="4.65"/><circle cx="453.5" cy="782" r="4.65"/><circle cx="452.8" cy="755.4" r="4.65"/><circle cx="455.9" cy="734.7" r="4.65"/><circle cx="453.3" cy="720.6" r="4.65"/><circle cx="452.4" cy="759.5" r="4.65"/><circle cx="446.9" cy="758.9" r="4.65"/><circle cx="455.3" cy="747.2" r="4.65"/><circle cx="454" cy="755.2" r="4.65"/><circle cx="456" cy="785.9" r="4.65"/><circle cx="448" cy="751.1" r="4.65"/><circle cx="455.6" cy="747.5" r="4.65"/><circle cx="449.1" cy="768" r="4.65"/><circle cx="454.7" cy="774.8" r="4.65"/><circle cx="453.3" cy="758.5" r="4.65"/><circle cx="450" cy="778.4" r="4.65"/><circle cx="452.6" cy="777.7" r="4.65"/><circle cx="449.9" cy="743.1" r="4.65"/><circle cx="456.7" cy="754.6" r="4.65"/><circle cx="450.4" cy="772.7" r="4.65"/><circle cx="447.5" cy="763.3" r="4.65"/><circle cx="456.3" cy="743.4" r="4.65"/><circle cx="449.2" cy="733.9" r="4.65"/><circle cx="445.8" cy="765.2" r="4.65"/><circle cx="448.9" cy="736.5" r="4.65"/><circle cx="448" cy="752.7" r="4.65"/><circle cx="446.3" cy="773.6" r="4.65"/><circle cx="444.7" cy="760.3" r="4.65"/><circle cx="452.6" cy="739.3" r="4.65"/><circle cx="445.5" cy="767.4" r="4.65"/><circle cx="454.3" cy="752.8" r="4.65"/><circle cx="453.9" cy="763.1" r="4.65"/><circle cx="448.8" cy="745.2" r="4.65"/><circle cx="451.1" cy="782.3" r="4.65"/><circle cx="449.9" cy="757.5" r="4.65"/><circle cx="453.5" cy="737.2" r="4.65"/><circle cx="449.6" cy="787.6" r="4.65"/><circle cx="451.2" cy="779.8" r="4.65"/><circle cx="452.1" cy="752.6" r="4.65"/><circle cx="453.7" cy="744.4" r="4.65"/><circle cx="455.2" cy="770.2" r="4.65"/><circle cx="450.8" cy="757.2" r="4.65"/><circle cx="454.4" cy="735.3" r="4.65"/><circle cx="452.4" cy="766.4" r="4.65"/><circle cx="454.9" cy="739.8" r="4.65"/><circle cx="432.2" cy="772.2" r="4.65"/><circle cx="416" cy="797.4" r="4.65"/><circle cx="421.1" cy="790.5" r="4.65"/><circle cx="429" cy="780.7" r="4.65"/><circle cx="413.8" cy="796.1" r="4.65"/><circle cx="430.2" cy="776.5" r="4.65"/><circle cx="416.3" cy="793.7" r="4.65"/><circle cx="418.6" cy="794.7" r="4.65"/><circle cx="430.5" cy="778.2" r="4.65"/><circle cx="419.1" cy="787.7" r="4.65"/><circle cx="424.3" cy="790.5" r="4.65"/><circle cx="415.6" cy="793.7" r="4.65"/><circle cx="439.5" cy="767.6" r="4.65"/><circle cx="435.3" cy="772.2" r="4.65"/><circle cx="427.1" cy="788.7" r="4.65"/><circle cx="422" cy="785.4" r="4.65"/><circle cx="415.9" cy="796.1" r="4.65"/><circle cx="420.3" cy="786" r="4.65"/><circle cx="431.4" cy="771.6" r="4.65"/><circle cx="427.9" cy="783.8" r="4.65"/><circle cx="434.2" cy="778.8" r="4.65"/><circle cx="423" cy="786.3" r="4.65"/><circle cx="421.6" cy="785.2" r="4.65"/><circle cx="429.9" cy="772.7" r="4.65"/><circle cx="438.1" cy="771.2" r="4.65"/><circle cx="429.7" cy="784.8" r="4.65"/><circle cx="420.9" cy="783.5" r="4.65"/><circle cx="422.7" cy="792.6" r="4.65"/><circle cx="415.5" cy="802.8" r="4.65"/><circle cx="426.1" cy="784.2" r="4.65"/><circle cx="435" cy="760.9" r="4.65"/><circle cx="424" cy="787.5" r="4.65"/><circle cx="419.2" cy="795.6" r="4.65"/><circle cx="425.8" cy="782.4" r="4.65"/><circle cx="424" cy="791.8" r="4.65"/><circle cx="435.7" cy="773.7" r="4.65"/><circle cx="421.3" cy="789.2" r="4.65"/><circle cx="432.3" cy="766.9" r="4.65"/><circle cx="425.3" cy="788.1" r="4.65"/><circle cx="419.7" cy="799.6" r="4.65"/><circle cx="440.5" cy="789.2" r="4.65"/><circle cx="453.3" cy="790.5" r="4.65"/><circle cx="429" cy="809.4" r="4.65"/><circle cx="446.3" cy="812.8" r="4.65"/><circle cx="404.3" cy="818.9" r="4.65"/><circle cx="395.3" cy="831.3" r="4.65"/><circle cx="385.8" cy="834.4" r="4.65"/><circle cx="418.5" cy="835.7" r="4.65"/><circle cx="361.9" cy="842.1" r="4.65"/><circle cx="384.2" cy="855.7" r="4.65"/><circle cx="409" cy="806" r="4.65"/><circle cx="414" cy="808" r="4.65"/><circle cx="436" cy="783" r="4.65"/><circle cx="444" cy="778" r="4.65"/></g>
<g fill="#E51F26"><circle cx="399.1" cy="997.2" r="4.65"/><circle cx="429.9" cy="948.9" r="4.65"/><circle cx="407" cy="995.4" r="4.65"/><circle cx="419.1" cy="971.5" r="4.65"/><circle cx="401.8" cy="1026.1" r="4.65"/><circle cx="445.1" cy="936.4" r="4.65"/><circle cx="412" cy="961.4" r="4.65"/><circle cx="390.9" cy="1048.4" r="4.65"/><circle cx="400.8" cy="1006.7" r="4.65"/><circle cx="406.5" cy="1002.8" r="4.65"/><circle cx="429.3" cy="927.2" r="4.65"/><circle cx="441.1" cy="911.2" r="4.65"/><circle cx="441" cy="939" r="4.65"/><circle cx="405.4" cy="1053.1" r="4.65"/><circle cx="418.3" cy="964.3" r="4.65"/><circle cx="434.8" cy="958.7" r="4.65"/><circle cx="401.8" cy="1011.3" r="4.65"/><circle cx="442.3" cy="936" r="4.65"/><circle cx="419.6" cy="978.5" r="4.65"/><circle cx="414" cy="972.7" r="4.65"/><circle cx="412.5" cy="961.2" r="4.65"/><circle cx="430.7" cy="956.7" r="4.65"/><circle cx="438.8" cy="950.8" r="4.65"/><circle cx="406.7" cy="1015.8" r="4.65"/><circle cx="406.8" cy="1033.4" r="4.65"/><circle cx="433.2" cy="953.5" r="4.65"/><circle cx="418.1" cy="999.8" r="4.65"/><circle cx="413.8" cy="960.6" r="4.65"/><circle cx="430.8" cy="939" r="4.65"/><circle cx="421.6" cy="961.6" r="4.65"/><circle cx="439.1" cy="966.3" r="4.65"/><circle cx="414.1" cy="964.8" r="4.65"/><circle cx="419.1" cy="945" r="4.65"/><circle cx="425.6" cy="988.6" r="4.65"/><circle cx="432.6" cy="938.1" r="4.65"/><circle cx="412.6" cy="1004.4" r="4.65"/><circle cx="400.6" cy="1001.2" r="4.65"/><circle cx="430.3" cy="935.2" r="4.65"/><circle cx="429.4" cy="936.4" r="4.65"/><circle cx="407.1" cy="991.4" r="4.65"/><circle cx="392.9" cy="1051.6" r="4.65"/><circle cx="437.6" cy="947" r="4.65"/><circle cx="405.1" cy="993.3" r="4.65"/><circle cx="393.6" cy="1025.8" r="4.65"/><circle cx="394.4" cy="1035" r="4.65"/><circle cx="391.2" cy="1044.8" r="4.65"/><circle cx="436.1" cy="908.6" r="4.65"/><circle cx="397.5" cy="1054.6" r="4.65"/><circle cx="393.5" cy="1056.9" r="4.65"/><circle cx="427.7" cy="953" r="4.65"/><circle cx="406.6" cy="1045.8" r="4.65"/><circle cx="391.2" cy="1053.7" r="4.65"/><circle cx="420.9" cy="1004.6" r="4.65"/><circle cx="433.9" cy="940.6" r="4.65"/><circle cx="405.1" cy="976.7" r="4.65"/><circle cx="420.5" cy="956.1" r="4.65"/><circle cx="419.9" cy="998.5" r="4.65"/><circle cx="438" cy="962.7" r="4.65"/><circle cx="445.5" cy="908.5" r="4.65"/><circle cx="437.5" cy="938.1" r="4.65"/><circle cx="430.4" cy="975.6" r="4.65"/><circle cx="415.8" cy="996.4" r="4.65"/><circle cx="418.3" cy="1011.3" r="4.65"/><circle cx="428.6" cy="951.8" r="4.65"/><circle cx="395.6" cy="1053" r="4.65"/><circle cx="446.2" cy="930.2" r="4.65"/><circle cx="435.7" cy="968.1" r="4.65"/><circle cx="389.9" cy="1054.6" r="4.65"/><circle cx="410.6" cy="988.3" r="4.65"/><circle cx="404.3" cy="1014.3" r="4.65"/><circle cx="432.3" cy="921.8" r="4.65"/><circle cx="421.4" cy="949.9" r="4.65"/><circle cx="408.4" cy="1009" r="4.65"/><circle cx="437" cy="921.5" r="4.65"/><circle cx="410.9" cy="1021.3" r="4.65"/><circle cx="418.8" cy="1006.3" r="4.65"/><circle cx="396.1" cy="1058.9" r="4.65"/><circle cx="422.3" cy="967.1" r="4.65"/><circle cx="421.7" cy="1000.7" r="4.65"/><circle cx="404" cy="994.5" r="4.65"/><circle cx="410.8" cy="988.3" r="4.65"/><circle cx="395.4" cy="1025.3" r="4.65"/><circle cx="409.3" cy="1036.4" r="4.65"/><circle cx="398.9" cy="1004.5" r="4.65"/><circle cx="415.4" cy="997.1" r="4.65"/><circle cx="420.7" cy="974.9" r="4.65"/><circle cx="411.1" cy="990.4" r="4.65"/><circle cx="446.4" cy="914" r="4.65"/><circle cx="437" cy="921.8" r="4.65"/><circle cx="433.4" cy="919.8" r="4.65"/><circle cx="446.4" cy="908.7" r="4.65"/><circle cx="433.9" cy="918.9" r="4.65"/><circle cx="435.6" cy="918.7" r="4.65"/><circle cx="428.7" cy="954.4" r="4.65"/><circle cx="424.1" cy="992.3" r="4.65"/><circle cx="444.1" cy="921.7" r="4.65"/><circle cx="418.7" cy="951.5" r="4.65"/><circle cx="420.1" cy="993.8" r="4.65"/><circle cx="420.8" cy="993" r="4.65"/><circle cx="424.6" cy="969.9" r="4.65"/><circle cx="446.7" cy="918.6" r="4.65"/><circle cx="436.4" cy="947.5" r="4.65"/><circle cx="414.1" cy="988.1" r="4.65"/><circle cx="438.3" cy="968.9" r="4.65"/><circle cx="440.6" cy="929.6" r="4.65"/><circle cx="404" cy="1019.9" r="4.65"/><circle cx="418.2" cy="996.5" r="4.65"/><circle cx="417.9" cy="998.4" r="4.65"/><circle cx="418.7" cy="1014.7" r="4.65"/><circle cx="435.9" cy="960.8" r="4.65"/><circle cx="435.1" cy="961.4" r="4.65"/><circle cx="408.2" cy="981.2" r="4.65"/><circle cx="395" cy="1031.4" r="4.65"/><circle cx="398.8" cy="1005.8" r="4.65"/><circle cx="417.9" cy="1005.8" r="4.65"/><circle cx="426.8" cy="943.8" r="4.65"/><circle cx="388.8" cy="1054.4" r="4.65"/><circle cx="437.3" cy="942.3" r="4.65"/><circle cx="404.9" cy="1040.9" r="4.65"/><circle cx="425.4" cy="990.4" r="4.65"/><circle cx="411.4" cy="1039.5" r="4.65"/><circle cx="422.4" cy="1009.1" r="4.65"/><circle cx="421.2" cy="1009.9" r="4.65"/><circle cx="427.4" cy="985.3" r="4.65"/><circle cx="414.8" cy="978.3" r="4.65"/><circle cx="421.3" cy="952.3" r="4.65"/><circle cx="402.2" cy="1027.2" r="4.65"/><circle cx="441.3" cy="950" r="4.65"/><circle cx="418.1" cy="956.4" r="4.65"/><circle cx="442" cy="932.6" r="4.65"/><circle cx="392.7" cy="1048.7" r="4.65"/><circle cx="421.5" cy="995.9" r="4.65"/><circle cx="412" cy="1000.6" r="4.65"/><circle cx="439.7" cy="923.7" r="4.65"/><circle cx="443.6" cy="905.6" r="4.65"/><circle cx="430.9" cy="921.4" r="4.65"/><circle cx="433.6" cy="952.6" r="4.65"/><circle cx="414.5" cy="966.3" r="4.65"/><circle cx="396.7" cy="1027.7" r="4.65"/><circle cx="420.8" cy="999.3" r="4.65"/><circle cx="407.6" cy="1030.1" r="4.65"/><circle cx="423.9" cy="951.8" r="4.65"/><circle cx="404.2" cy="1053.7" r="4.65"/><circle cx="413.3" cy="1033.5" r="4.65"/><circle cx="402.9" cy="996.9" r="4.65"/><circle cx="417.4" cy="1015.5" r="4.65"/><circle cx="438.5" cy="919.7" r="4.65"/><circle cx="396.3" cy="1037.5" r="4.65"/><circle cx="432.5" cy="926.2" r="4.65"/><circle cx="417.5" cy="998.5" r="4.65"/><circle cx="416.4" cy="1025.1" r="4.65"/><circle cx="422.4" cy="1005.1" r="4.65"/><circle cx="415.6" cy="988.8" r="4.65"/><circle cx="414" cy="1010.7" r="4.65"/><circle cx="446.4" cy="922.2" r="4.65"/><circle cx="443.8" cy="915.9" r="4.65"/><circle cx="395.9" cy="1040.4" r="4.65"/><circle cx="444.4" cy="925.5" r="4.65"/><circle cx="409.5" cy="966" r="4.65"/><circle cx="390.8" cy="1044.5" r="4.65"/><circle cx="419" cy="1007.9" r="4.65"/><circle cx="398" cy="1033.4" r="4.65"/><circle cx="399.3" cy="1049.1" r="4.65"/><circle cx="445.4" cy="937.4" r="4.65"/><circle cx="440.6" cy="954" r="4.65"/><circle cx="451.5" cy="842.2" r="4.65"/><circle cx="443.8" cy="853.3" r="4.65"/><circle cx="433.7" cy="871.5" r="4.65"/><circle cx="433" cy="876.2" r="4.65"/><circle cx="439.8" cy="874.9" r="4.65"/><circle cx="449.9" cy="874.2" r="4.65"/><circle cx="442.5" cy="878.9" r="4.65"/><circle cx="440.5" cy="885" r="4.65"/><circle cx="444.5" cy="894.8" r="4.65"/><circle cx="424.7" cy="899.2" r="4.65"/><circle cx="427.6" cy="908" r="4.65"/><circle cx="439.8" cy="904.6" r="4.65"/><circle cx="382.4" cy="981.6" r="4.65"/><circle cx="384.5" cy="989.7" r="4.65"/><circle cx="383.8" cy="1041" r="4.65"/><circle cx="373.9" cy="1057.6" r="4.65"/><circle cx="384.5" cy="1061.9" r="4.65"/><circle cx="395.9" cy="1082.9" r="4.65"/><circle cx="391" cy="1078" r="4.65"/><circle cx="399" cy="1080" r="4.65"/><circle cx="394" cy="1070" r="4.65"/><circle cx="388" cy="1063" r="4.65"/></g>
<g fill="#F6821F"><circle cx="444.8" cy="969.3" r="4.65"/><circle cx="447" cy="988" r="4.65"/><circle cx="456.1" cy="915.5" r="4.65"/><circle cx="416.5" cy="1087.2" r="4.65"/><circle cx="439.8" cy="980.9" r="4.65"/><circle cx="441.3" cy="1001.8" r="4.65"/><circle cx="443.5" cy="1010.7" r="4.65"/><circle cx="419.7" cy="1071.9" r="4.65"/><circle cx="441.9" cy="1001.5" r="4.65"/><circle cx="405.1" cy="1080.8" r="4.65"/><circle cx="430.1" cy="1051.1" r="4.65"/><circle cx="447.1" cy="966.5" r="4.65"/><circle cx="425.2" cy="1030.6" r="4.65"/><circle cx="407.1" cy="1081.3" r="4.65"/><circle cx="437.9" cy="1005.9" r="4.65"/><circle cx="440.7" cy="996.9" r="4.65"/><circle cx="426.8" cy="1056" r="4.65"/><circle cx="416.6" cy="1053.6" r="4.65"/><circle cx="430.5" cy="1043.5" r="4.65"/><circle cx="420.6" cy="1061.6" r="4.65"/><circle cx="412.5" cy="1064.3" r="4.65"/><circle cx="408.9" cy="1095" r="4.65"/><circle cx="413.7" cy="1088.4" r="4.65"/><circle cx="451.6" cy="946.2" r="4.65"/><circle cx="410" cy="1089.6" r="4.65"/><circle cx="429.5" cy="1048.5" r="4.65"/><circle cx="423.5" cy="1028.4" r="4.65"/><circle cx="433.7" cy="1035.9" r="4.65"/><circle cx="412.2" cy="1059.5" r="4.65"/><circle cx="444.3" cy="996" r="4.65"/><circle cx="415.7" cy="1063" r="4.65"/><circle cx="438" cy="984.8" r="4.65"/><circle cx="456.2" cy="905.3" r="4.65"/><circle cx="444" cy="997" r="4.65"/><circle cx="431.5" cy="1039.5" r="4.65"/><circle cx="415.1" cy="1067.7" r="4.65"/><circle cx="419.7" cy="1045.4" r="4.65"/><circle cx="444.1" cy="963.4" r="4.65"/><circle cx="432.4" cy="1037.1" r="4.65"/><circle cx="438.2" cy="981.6" r="4.65"/><circle cx="448.9" cy="955" r="4.65"/><circle cx="420.7" cy="1031.3" r="4.65"/><circle cx="431.9" cy="1051.9" r="4.65"/><circle cx="427.7" cy="1045.4" r="4.65"/><circle cx="451.3" cy="962.9" r="4.65"/><circle cx="414.4" cy="1085.4" r="4.65"/><circle cx="452" cy="971" r="4.65"/><circle cx="450.3" cy="972.7" r="4.65"/><circle cx="418.2" cy="1073.7" r="4.65"/><circle cx="416.4" cy="1084.3" r="4.65"/><circle cx="423.4" cy="1054.9" r="4.65"/><circle cx="412.5" cy="1061.4" r="4.65"/><circle cx="457.6" cy="912" r="4.65"/><circle cx="438.4" cy="1028.9" r="4.65"/><circle cx="432.7" cy="1036.6" r="4.65"/><circle cx="410.3" cy="1066.6" r="4.65"/><circle cx="410" cy="1085.9" r="4.65"/><circle cx="413.3" cy="1057.8" r="4.65"/><circle cx="444.7" cy="975.5" r="4.65"/><circle cx="418.7" cy="1037.9" r="4.65"/><circle cx="421.4" cy="1072.3" r="4.65"/><circle cx="438.1" cy="1000.3" r="4.65"/><circle cx="436.2" cy="1029.6" r="4.65"/><circle cx="439.9" cy="991" r="4.65"/><circle cx="422.3" cy="1064.6" r="4.65"/><circle cx="423.3" cy="1054.5" r="4.65"/><circle cx="426.8" cy="1047.6" r="4.65"/><circle cx="404.8" cy="1091.1" r="4.65"/><circle cx="453.7" cy="915.4" r="4.65"/><circle cx="415.2" cy="1079.6" r="4.65"/><circle cx="446.9" cy="970.6" r="4.65"/><circle cx="403.4" cy="1076.2" r="4.65"/><circle cx="437" cy="1016.1" r="4.65"/><circle cx="417" cy="1071.2" r="4.65"/><circle cx="433.9" cy="1018.3" r="4.65"/><circle cx="408.8" cy="1062.6" r="4.65"/><circle cx="418.4" cy="1066.5" r="4.65"/><circle cx="428.7" cy="1010.8" r="4.65"/><circle cx="419.5" cy="1043.3" r="4.65"/><circle cx="447.5" cy="985.3" r="4.65"/><circle cx="443.6" cy="990.8" r="4.65"/><circle cx="397.5" cy="1097.6" r="4.65"/><circle cx="401.6" cy="1092.3" r="4.65"/><circle cx="443.8" cy="990.5" r="4.65"/><circle cx="427.9" cy="1022.5" r="4.65"/><circle cx="411.1" cy="1088" r="4.65"/><circle cx="449.8" cy="968.8" r="4.65"/><circle cx="428.2" cy="1052.9" r="4.65"/><circle cx="447.8" cy="953.4" r="4.65"/><circle cx="418.8" cy="1066" r="4.65"/><circle cx="402.2" cy="1104.2" r="4.65"/><circle cx="444.8" cy="976.1" r="4.65"/><circle cx="420.4" cy="1044.9" r="4.65"/><circle cx="453.1" cy="917.4" r="4.65"/><circle cx="451.4" cy="973.7" r="4.65"/><circle cx="449.5" cy="945.8" r="4.65"/><circle cx="438.2" cy="987.8" r="4.65"/><circle cx="425" cy="1019.7" r="4.65"/><circle cx="429.9" cy="1054.2" r="4.65"/><circle cx="411.7" cy="1096.3" r="4.65"/><circle cx="436.9" cy="1010.4" r="4.65"/><circle cx="454.5" cy="904.6" r="4.65"/><circle cx="432.6" cy="1001.3" r="4.65"/><circle cx="440.9" cy="1009.2" r="4.65"/><circle cx="418.2" cy="1065.9" r="4.65"/><circle cx="424" cy="1053.8" r="4.65"/><circle cx="451" cy="978.5" r="4.65"/><circle cx="454.4" cy="912.7" r="4.65"/><circle cx="439.3" cy="992.4" r="4.65"/><circle cx="406.9" cy="1084.4" r="4.65"/><circle cx="453.9" cy="935.7" r="4.65"/><circle cx="411.9" cy="1084.7" r="4.65"/><circle cx="441.9" cy="976.2" r="4.65"/><circle cx="442.4" cy="988.6" r="4.65"/><circle cx="457.5" cy="920.6" r="4.65"/><circle cx="432.9" cy="1031.5" r="4.65"/><circle cx="419.6" cy="1067.2" r="4.65"/><circle cx="428.5" cy="1046.3" r="4.65"/><circle cx="422.7" cy="1035.3" r="4.65"/><circle cx="456.2" cy="900.7" r="4.65"/><circle cx="455.7" cy="902.8" r="4.65"/><circle cx="434.7" cy="1037" r="4.65"/><circle cx="403.8" cy="1078.2" r="4.65"/><circle cx="455.8" cy="918.9" r="4.65"/><circle cx="405.9" cy="1087.4" r="4.65"/><circle cx="442.9" cy="964.2" r="4.65"/><circle cx="457.6" cy="911.9" r="4.65"/><circle cx="431.8" cy="1037.4" r="4.65"/><circle cx="444.6" cy="957.3" r="4.65"/><circle cx="402.1" cy="1084.7" r="4.65"/><circle cx="447.4" cy="989" r="4.65"/><circle cx="405.3" cy="1091" r="4.65"/><circle cx="402.7" cy="1094.8" r="4.65"/><circle cx="437.2" cy="1003" r="4.65"/><circle cx="443" cy="967.1" r="4.65"/><circle cx="421.2" cy="1031.1" r="4.65"/><circle cx="430.9" cy="1041.5" r="4.65"/><circle cx="439.5" cy="1026.8" r="4.65"/><circle cx="409" cy="1077.7" r="4.65"/><circle cx="439.5" cy="1021.6" r="4.65"/><circle cx="400" cy="1101.2" r="4.65"/><circle cx="443.8" cy="985.2" r="4.65"/><circle cx="454.2" cy="920.3" r="4.65"/><circle cx="433.3" cy="995" r="4.65"/><circle cx="422.2" cy="1032.4" r="4.65"/><circle cx="414.3" cy="1090.5" r="4.65"/><circle cx="442.6" cy="1001.5" r="4.65"/><circle cx="411.8" cy="1052.8" r="4.65"/><circle cx="426" cy="1055.3" r="4.65"/><circle cx="417.5" cy="1040.3" r="4.65"/><circle cx="432" cy="1017.4" r="4.65"/><circle cx="433" cy="1033.6" r="4.65"/><circle cx="431.8" cy="1037.6" r="4.65"/><circle cx="448.3" cy="976.2" r="4.65"/><circle cx="439.8" cy="1019.2" r="4.65"/><circle cx="428.6" cy="1018.5" r="4.65"/><circle cx="442.8" cy="974.9" r="4.65"/><circle cx="449.8" cy="954.4" r="4.65"/><circle cx="441.9" cy="985.3" r="4.65"/><circle cx="408.6" cy="1073.1" r="4.65"/><circle cx="417.8" cy="1040.6" r="4.65"/><circle cx="435" cy="1035.1" r="4.65"/><circle cx="414.1" cy="1054.1" r="4.65"/><circle cx="404" cy="1076.5" r="4.65"/><circle cx="424.5" cy="1044.6" r="4.65"/><circle cx="419.8" cy="1042.8" r="4.65"/><circle cx="421" cy="1072.1" r="4.65"/><circle cx="442.2" cy="974.2" r="4.65"/><circle cx="440.5" cy="1007.7" r="4.65"/><circle cx="404.4" cy="1086.2" r="4.65"/><circle cx="406.3" cy="1085.4" r="4.65"/><circle cx="420.3" cy="1033.7" r="4.65"/><circle cx="424" cy="1069.9" r="4.65"/><circle cx="454.6" cy="944.7" r="4.65"/><circle cx="453.2" cy="929" r="4.65"/><circle cx="426.5" cy="1034.7" r="4.65"/><circle cx="424.8" cy="1054.1" r="4.65"/><circle cx="426.4" cy="1015.6" r="4.65"/><circle cx="423.3" cy="1046.5" r="4.65"/><circle cx="427.4" cy="1057.7" r="4.65"/><circle cx="450.6" cy="932.8" r="4.65"/><circle cx="426.9" cy="1020.1" r="4.65"/><circle cx="409.5" cy="1087.8" r="4.65"/><circle cx="452.3" cy="920.6" r="4.65"/><circle cx="409.8" cy="1058.8" r="4.65"/><circle cx="420.3" cy="1060" r="4.65"/><circle cx="428.5" cy="1042.6" r="4.65"/><circle cx="451" cy="934.6" r="4.65"/><circle cx="441.2" cy="982.5" r="4.65"/><circle cx="438.2" cy="992.5" r="4.65"/><circle cx="407.9" cy="1067" r="4.65"/><circle cx="434.7" cy="1009.2" r="4.65"/><circle cx="442.9" cy="978" r="4.65"/><circle cx="421.4" cy="1054.2" r="4.65"/><circle cx="427.1" cy="1039.5" r="4.65"/><circle cx="406.9" cy="1085" r="4.65"/><circle cx="423.3" cy="1067.2" r="4.65"/><circle cx="441.9" cy="974" r="4.65"/><circle cx="433.1" cy="1027.4" r="4.65"/><circle cx="429.3" cy="1054.5" r="4.65"/><circle cx="406.2" cy="1090" r="4.65"/><circle cx="448.7" cy="956.9" r="4.65"/><circle cx="435.8" cy="1004.4" r="4.65"/><circle cx="413.9" cy="1066" r="4.65"/><circle cx="434.4" cy="1014.5" r="4.65"/><circle cx="432" cy="1033.4" r="4.65"/><circle cx="441" cy="990.2" r="4.65"/><circle cx="432.7" cy="1044.9" r="4.65"/><circle cx="400.3" cy="1093.5" r="4.65"/><circle cx="430.6" cy="1050.6" r="4.65"/><circle cx="442.1" cy="983.4" r="4.65"/><circle cx="448.3" cy="950" r="4.65"/><circle cx="438.1" cy="995.6" r="4.65"/><circle cx="449.2" cy="941" r="4.65"/><circle cx="429.1" cy="1060.2" r="4.65"/><circle cx="426.3" cy="1028.8" r="4.65"/><circle cx="407.9" cy="1094.6" r="4.65"/><circle cx="438.5" cy="990.5" r="4.65"/><circle cx="437.8" cy="1016" r="4.65"/><circle cx="406.7" cy="1071.2" r="4.65"/><circle cx="435.1" cy="1013.8" r="4.65"/><circle cx="418.8" cy="1045.3" r="4.65"/><circle cx="435.4" cy="1019.1" r="4.65"/><circle cx="396.6" cy="1093.2" r="4.65"/><circle cx="399.4" cy="1094.7" r="4.65"/><circle cx="452.8" cy="958.8" r="4.65"/><circle cx="451.7" cy="945.4" r="4.65"/><circle cx="453.7" cy="953.8" r="4.65"/><circle cx="443" cy="991.1" r="4.65"/><circle cx="419.5" cy="1069.7" r="4.65"/><circle cx="446.6" cy="983.6" r="4.65"/><circle cx="416.5" cy="1081.3" r="4.65"/><circle cx="433.9" cy="1036.6" r="4.65"/><circle cx="418.7" cy="1047" r="4.65"/><circle cx="435" cy="992.6" r="4.65"/><circle cx="408" cy="1087.9" r="4.65"/><circle cx="425.6" cy="1061.7" r="4.65"/><circle cx="445.9" cy="973.2" r="4.65"/><circle cx="412.1" cy="1079.7" r="4.65"/><circle cx="439.7" cy="1017.9" r="4.65"/><circle cx="427.8" cy="1066.3" r="4.65"/><circle cx="403.1" cy="1088" r="4.65"/><circle cx="450.8" cy="944.3" r="4.65"/><circle cx="455" cy="929.8" r="4.65"/><circle cx="408.4" cy="1099.3" r="4.65"/><circle cx="431.1" cy="1005.6" r="4.65"/><circle cx="437.3" cy="1016.7" r="4.65"/><circle cx="440.5" cy="1013" r="4.65"/><circle cx="436.9" cy="1027.6" r="4.65"/><circle cx="449.7" cy="937.8" r="4.65"/><circle cx="443.1" cy="982" r="4.65"/><circle cx="417" cy="1085.3" r="4.65"/><circle cx="416.6" cy="1049.4" r="4.65"/><circle cx="422.6" cy="1036.1" r="4.65"/><circle cx="423.9" cy="1057.1" r="4.65"/><circle cx="458.1" cy="904" r="4.65"/><circle cx="450.6" cy="941.1" r="4.65"/><circle cx="450.4" cy="950.8" r="4.65"/><circle cx="446.4" cy="963.1" r="4.65"/><circle cx="431.2" cy="1045.5" r="4.65"/><circle cx="437" cy="1003.5" r="4.65"/><circle cx="408.5" cy="1092.9" r="4.65"/><circle cx="433.4" cy="1043.8" r="4.65"/><circle cx="399.5" cy="1089.3" r="4.65"/><circle cx="407.3" cy="1096.7" r="4.65"/><circle cx="428" cy="1016.3" r="4.65"/><circle cx="442.3" cy="978.2" r="4.65"/><circle cx="445.3" cy="999.7" r="4.65"/><circle cx="447.8" cy="948.3" r="4.65"/><circle cx="455.8" cy="925.9" r="4.65"/><circle cx="454.2" cy="889.4" r="4.65"/><circle cx="454.2" cy="899.2" r="4.65"/><circle cx="377" cy="1074.8" r="4.65"/><circle cx="388.5" cy="1075.4" r="4.65"/><circle cx="369.6" cy="1093" r="4.65"/><circle cx="382.4" cy="1104" r="4.65"/><circle cx="310.2" cy="1008" r="4.65"/><circle cx="388.5" cy="978.3" r="4.65"/><circle cx="405.4" cy="993.1" r="4.65"/><circle cx="420.9" cy="1012" r="4.65"/><circle cx="402" cy="1062" r="4.65"/><circle cx="424" cy="1018" r="4.65"/><circle cx="419" cy="1006" r="4.65"/></g>
</g>
<rect x="115.9" y="696.8" width="356.7" height="425.9" fill="none" stroke="#7a7a7a" stroke-width="1.4"/>
<g stroke="#000" stroke-width="1.9">
<line x1="191" y1="1122.7" x2="191" y2="1129.2"/>
<line x1="275.7" y1="1122.7" x2="275.7" y2="1129.2"/>
<line x1="360.4" y1="1122.7" x2="360.4" y2="1129.2"/>
<line x1="445.1" y1="1122.7" x2="445.1" y2="1129.2"/>
<line x1="109.4" y1="700.9" x2="115.9" y2="700.9"/>
<line x1="109.4" y1="809.4" x2="115.9" y2="809.4"/>
<line x1="109.4" y1="917.7" x2="115.9" y2="917.7"/>
<line x1="109.4" y1="1026.4" x2="115.9" y2="1026.4"/>
</g>
<g class="tk" text-anchor="middle">
<text x="191" y="1156.1">−0.50</text>
<text x="275.7" y="1156.1">−0.25</text>
<text x="360.4" y="1156.1">0.00</text>
<text x="445.1" y="1156.1">0.25</text>
</g>
<g class="tk" text-anchor="end">
<text x="104.7" y="712.9">0.4</text>
<text x="104.7" y="821.4">0.2</text>
<text x="104.7" y="929.7">0.0</text>
<text x="104.7" y="1038.4">−0.2</text>
</g>
<text class="ax" text-anchor="middle" x="294" y="1183.2" xml:space="preserve">Axis.1   [42.8%]</text>
<text class="ax" text-anchor="middle" transform="translate(34 910) rotate(-90)" xml:space="preserve">Axis.2   [16.7%]</text>
<text class="ti" x="148" y="679" style="letter-spacing:-0.4px">Weighted UniFrac</text>
</g>
<g class="panel">
<clipPath id="c3"><rect x="654.6" y="696.6" width="338.8" height="425.8"/></clipPath>
<g stroke="#fafafa" stroke-width="1" clip-path="url(#c3)">
<line x1="669.2" y1="696.6" x2="669.2" y2="1122.4"/>
<line x1="743.8" y1="696.6" x2="743.8" y2="1122.4"/>
<line x1="818.4" y1="696.6" x2="818.4" y2="1122.4"/>
<line x1="893" y1="696.6" x2="893" y2="1122.4"/>
<line x1="967.6" y1="696.6" x2="967.6" y2="1122.4"/>
<line x1="654.6" y1="745.1" x2="993.4" y2="745.1"/>
<line x1="654.6" y1="885.4" x2="993.4" y2="885.4"/>
<line x1="654.6" y1="1025.8" x2="993.4" y2="1025.8"/>
</g>
<g stroke="#e8e8e8" stroke-width="1.1" clip-path="url(#c3)">
<line x1="706.5" y1="696.6" x2="706.5" y2="1122.4"/>
<line x1="781.1" y1="696.6" x2="781.1" y2="1122.4"/>
<line x1="854.9" y1="696.6" x2="854.9" y2="1122.4"/>
<line x1="929.2" y1="696.6" x2="929.2" y2="1122.4"/>
<line x1="654.6" y1="815.3" x2="993.4" y2="815.3"/>
<line x1="654.6" y1="955.6" x2="993.4" y2="955.6"/>
<line x1="654.6" y1="1096" x2="993.4" y2="1096"/>
</g>
<g clip-path="url(#c3)">
<g fill="#B35A25"><circle cx="671.7" cy="1076.9" r="4.65"/><circle cx="680" cy="1065.7" r="4.65"/><circle cx="683.3" cy="1055.6" r="4.65"/><circle cx="691.4" cy="1071.1" r="4.65"/><circle cx="716.4" cy="1017.9" r="4.65"/><circle cx="704" cy="1043.7" r="4.65"/><circle cx="681.7" cy="1057.6" r="4.65"/><circle cx="719.8" cy="1002.7" r="4.65"/><circle cx="720.7" cy="1003.6" r="4.65"/><circle cx="702.6" cy="1032.4" r="4.65"/><circle cx="715" cy="1020.9" r="4.65"/><circle cx="691.1" cy="1052.6" r="4.65"/><circle cx="722.1" cy="997.4" r="4.65"/><circle cx="707.5" cy="1039.9" r="4.65"/><circle cx="687.1" cy="1049.5" r="4.65"/><circle cx="679.4" cy="1079.5" r="4.65"/><circle cx="678.4" cy="1076.3" r="4.65"/><circle cx="680.5" cy="1086.6" r="4.65"/><circle cx="678.7" cy="1087.3" r="4.65"/><circle cx="706.6" cy="1022.9" r="4.65"/><circle cx="697.4" cy="1068.1" r="4.65"/><circle cx="680.9" cy="1062.1" r="4.65"/><circle cx="698.5" cy="1032.1" r="4.65"/><circle cx="723" cy="994.5" r="4.65"/><circle cx="670.3" cy="1088.3" r="4.65"/><circle cx="687.5" cy="1066.4" r="4.65"/><circle cx="704.9" cy="1032.3" r="4.65"/><circle cx="675" cy="1088.7" r="4.65"/><circle cx="715.3" cy="1009.7" r="4.65"/><circle cx="682.6" cy="1082.5" r="4.65"/><circle cx="686.7" cy="1074.5" r="4.65"/><circle cx="695.2" cy="1068.1" r="4.65"/><circle cx="723.7" cy="1003.2" r="4.65"/><circle cx="709.6" cy="1033.4" r="4.65"/><circle cx="696.7" cy="1069.5" r="4.65"/><circle cx="694.2" cy="1039.4" r="4.65"/><circle cx="725.8" cy="992.5" r="4.65"/><circle cx="713.6" cy="1034.4" r="4.65"/><circle cx="685.2" cy="1070.1" r="4.65"/><circle cx="713" cy="1016" r="4.65"/><circle cx="721" cy="1005.7" r="4.65"/><circle cx="671.5" cy="1084" r="4.65"/><circle cx="711.8" cy="1034.8" r="4.65"/><circle cx="712.4" cy="1018.6" r="4.65"/><circle cx="703.8" cy="1036.7" r="4.65"/><circle cx="724.6" cy="1000.6" r="4.65"/><circle cx="721.9" cy="1012.7" r="4.65"/><circle cx="695.7" cy="1039.5" r="4.65"/><circle cx="703.1" cy="1050.7" r="4.65"/><circle cx="679.5" cy="1063.5" r="4.65"/><circle cx="698.8" cy="1062.9" r="4.65"/><circle cx="700.9" cy="1044.3" r="4.65"/><circle cx="688.8" cy="1045.8" r="4.65"/><circle cx="689.7" cy="1071.8" r="4.65"/><circle cx="728" cy="994.5" r="4.65"/><circle cx="706" cy="1050.1" r="4.65"/><circle cx="700.2" cy="1048.1" r="4.65"/><circle cx="686.3" cy="1061.4" r="4.65"/><circle cx="695.8" cy="1037.6" r="4.65"/><circle cx="713.3" cy="1016.7" r="4.65"/><circle cx="698.2" cy="1032.4" r="4.65"/><circle cx="701.8" cy="1047" r="4.65"/><circle cx="682.1" cy="1054.2" r="4.65"/><circle cx="724.1" cy="999.2" r="4.65"/><circle cx="714.5" cy="1022.8" r="4.65"/><circle cx="714.2" cy="1029.4" r="4.65"/><circle cx="700.8" cy="1046.6" r="4.65"/><circle cx="717.3" cy="1005.6" r="4.65"/><circle cx="697" cy="1045.2" r="4.65"/><circle cx="710.2" cy="1012.5" r="4.65"/><circle cx="683.2" cy="1074.7" r="4.65"/><circle cx="693.4" cy="1041.6" r="4.65"/><circle cx="694" cy="1071.9" r="4.65"/><circle cx="700.2" cy="1034.7" r="4.65"/><circle cx="690.9" cy="1070.7" r="4.65"/><circle cx="684.1" cy="1082.9" r="4.65"/><circle cx="685.3" cy="1069.9" r="4.65"/><circle cx="722.3" cy="996.5" r="4.65"/><circle cx="670.5" cy="1077.8" r="4.65"/><circle cx="693.8" cy="1071.3" r="4.65"/><circle cx="715.7" cy="1030.7" r="4.65"/><circle cx="722.1" cy="1007.6" r="4.65"/><circle cx="702.2" cy="1028.5" r="4.65"/><circle cx="714.3" cy="1009.5" r="4.65"/><circle cx="717.7" cy="1016.9" r="4.65"/><circle cx="715.4" cy="1014" r="4.65"/><circle cx="679.8" cy="1086.9" r="4.65"/><circle cx="685.8" cy="1069.5" r="4.65"/><circle cx="702.1" cy="1053.6" r="4.65"/><circle cx="731.1" cy="991.7" r="4.65"/><circle cx="720.1" cy="1009.9" r="4.65"/><circle cx="720.6" cy="1017.2" r="4.65"/><circle cx="696.3" cy="1040.8" r="4.65"/><circle cx="723.6" cy="1009.8" r="4.65"/><circle cx="710.5" cy="1039.7" r="4.65"/><circle cx="723.7" cy="1004.3" r="4.65"/><circle cx="707.9" cy="1037.8" r="4.65"/><circle cx="689.6" cy="1051.3" r="4.65"/><circle cx="679.3" cy="1062.5" r="4.65"/><circle cx="726.3" cy="990.3" r="4.65"/><circle cx="714.3" cy="1006.1" r="4.65"/><circle cx="694.3" cy="1039.8" r="4.65"/><circle cx="704.1" cy="1049.7" r="4.65"/><circle cx="683.5" cy="1052.4" r="4.65"/><circle cx="705.9" cy="1048.3" r="4.65"/><circle cx="699.6" cy="1052.9" r="4.65"/><circle cx="696.5" cy="1066.4" r="4.65"/><circle cx="714.7" cy="1014.9" r="4.65"/><circle cx="712.5" cy="1025.5" r="4.65"/><circle cx="677.5" cy="1071.1" r="4.65"/><circle cx="703.4" cy="1048.5" r="4.65"/><circle cx="679.7" cy="1060.9" r="4.65"/><circle cx="692.9" cy="1072.1" r="4.65"/><circle cx="687.7" cy="1063" r="4.65"/><circle cx="726.8" cy="1000.9" r="4.65"/><circle cx="687.8" cy="1067.3" r="4.65"/><circle cx="716.2" cy="1025.6" r="4.65"/><circle cx="688" cy="1073.8" r="4.65"/><circle cx="675.1" cy="1076.9" r="4.65"/><circle cx="697.4" cy="1043" r="4.65"/><circle cx="727.7" cy="1001.3" r="4.65"/><circle cx="725.1" cy="1001.4" r="4.65"/><circle cx="707.1" cy="1022.4" r="4.65"/><circle cx="681.4" cy="1074.8" r="4.65"/><circle cx="701.2" cy="1052.3" r="4.65"/><circle cx="668.8" cy="1087.2" r="4.65"/><circle cx="700" cy="1038.1" r="4.65"/><circle cx="698.4" cy="1067.1" r="4.65"/><circle cx="679.5" cy="1084.7" r="4.65"/><circle cx="706.5" cy="1019.2" r="4.65"/><circle cx="690" cy="1046.4" r="4.65"/><circle cx="692.1" cy="1055.2" r="4.65"/><circle cx="677.5" cy="1065.6" r="4.65"/><circle cx="693.9" cy="1053.5" r="4.65"/><circle cx="727.4" cy="995.7" r="4.65"/><circle cx="701" cy="1026.4" r="4.65"/><circle cx="689.4" cy="1043.6" r="4.65"/><circle cx="675.8" cy="1075.5" r="4.65"/><circle cx="705.1" cy="1041.7" r="4.65"/><circle cx="691" cy="1060.7" r="4.65"/><circle cx="686.2" cy="1054.7" r="4.65"/><circle cx="690.3" cy="1064.4" r="4.65"/><circle cx="724.8" cy="999.9" r="4.65"/><circle cx="669.2" cy="1079.8" r="4.65"/><circle cx="721.3" cy="1005.5" r="4.65"/><circle cx="694.6" cy="1068.8" r="4.65"/><circle cx="683.5" cy="1076.6" r="4.65"/><circle cx="728.8" cy="991" r="4.65"/><circle cx="673.4" cy="1082.6" r="4.65"/><circle cx="681.3" cy="1062.8" r="4.65"/><circle cx="710.5" cy="1019.5" r="4.65"/><circle cx="695.1" cy="1058.2" r="4.65"/><circle cx="708.9" cy="1029.9" r="4.65"/><circle cx="694.6" cy="1039" r="4.65"/><circle cx="681.5" cy="1067.8" r="4.65"/><circle cx="697.2" cy="1054.6" r="4.65"/><circle cx="691.1" cy="1070.2" r="4.65"/><circle cx="690" cy="1055.1" r="4.65"/><circle cx="703.1" cy="1029.8" r="4.65"/><circle cx="704.7" cy="1041.5" r="4.65"/><circle cx="689.1" cy="1050" r="4.65"/><circle cx="728.9" cy="990" r="4.65"/><circle cx="687.7" cy="1057" r="4.65"/><circle cx="678.8" cy="1072.8" r="4.65"/><circle cx="708.8" cy="1039.4" r="4.65"/><circle cx="690.8" cy="1043.5" r="4.65"/><circle cx="726.3" cy="1002.6" r="4.65"/><circle cx="670.3" cy="1082.5" r="4.65"/><circle cx="682.1" cy="1063.1" r="4.65"/><circle cx="689.3" cy="1045.6" r="4.65"/><circle cx="692.9" cy="1037.1" r="4.65"/><circle cx="726.4" cy="996.5" r="4.65"/><circle cx="726.7" cy="998" r="4.65"/><circle cx="676.8" cy="1088.2" r="4.65"/><circle cx="689.2" cy="1045.6" r="4.65"/><circle cx="678" cy="1073.6" r="4.65"/><circle cx="681.3" cy="1083.5" r="4.65"/><circle cx="682.4" cy="1083.8" r="4.65"/><circle cx="689.3" cy="1068.9" r="4.65"/><circle cx="690.2" cy="1072.9" r="4.65"/><circle cx="675.2" cy="1087.7" r="4.65"/><circle cx="682.1" cy="1064.8" r="4.65"/><circle cx="687.5" cy="1063.4" r="4.65"/><circle cx="692.8" cy="1068" r="4.65"/><circle cx="675.3" cy="1081.8" r="4.65"/><circle cx="679.7" cy="1073.1" r="4.65"/><circle cx="677.2" cy="1083" r="4.65"/><circle cx="693.2" cy="1070.1" r="4.65"/><circle cx="687" cy="1066.5" r="4.65"/><circle cx="690.5" cy="1067.8" r="4.65"/><circle cx="677.3" cy="1072.1" r="4.65"/><circle cx="685.5" cy="1079.8" r="4.65"/><circle cx="685.5" cy="1076.5" r="4.65"/><circle cx="683.8" cy="1079.2" r="4.65"/><circle cx="676.1" cy="1070.7" r="4.65"/><circle cx="683.2" cy="1064.3" r="4.65"/><circle cx="675" cy="1075.3" r="4.65"/><circle cx="671.7" cy="1086.7" r="4.65"/><circle cx="687.5" cy="1071.1" r="4.65"/><circle cx="677.5" cy="1070" r="4.65"/><circle cx="674" cy="1077.8" r="4.65"/><circle cx="670.6" cy="1081.4" r="4.65"/><circle cx="690" cy="1071.2" r="4.65"/><circle cx="687" cy="1064.3" r="4.65"/><circle cx="684.4" cy="1060.1" r="4.65"/><circle cx="671.2" cy="1083.9" r="4.65"/><circle cx="680" cy="1073.6" r="4.65"/><circle cx="694.1" cy="1067.9" r="4.65"/><circle cx="685" cy="1079.9" r="4.65"/><circle cx="686.9" cy="1067.6" r="4.65"/><circle cx="690.1" cy="1072" r="4.65"/><circle cx="674" cy="1074.4" r="4.65"/><circle cx="676.6" cy="1075.6" r="4.65"/><circle cx="691.2" cy="1068.7" r="4.65"/><circle cx="679.2" cy="1079.7" r="4.65"/><circle cx="704.4" cy="1066.7" r="4.65"/><circle cx="704.5" cy="1076" r="4.65"/><circle cx="705.7" cy="1074.8" r="4.65"/><circle cx="712.6" cy="1068" r="4.65"/><circle cx="709.9" cy="1067.5" r="4.65"/><circle cx="722.2" cy="1065.3" r="4.65"/><circle cx="708.9" cy="1081.1" r="4.65"/><circle cx="718.6" cy="1075.7" r="4.65"/><circle cx="721.8" cy="1066.5" r="4.65"/><circle cx="717.8" cy="1075.5" r="4.65"/><circle cx="713.6" cy="1066.6" r="4.65"/><circle cx="710.1" cy="1068.5" r="4.65"/><circle cx="716.2" cy="1070.8" r="4.65"/><circle cx="704.3" cy="1067.3" r="4.65"/><circle cx="704.7" cy="1063.1" r="4.65"/><circle cx="704.8" cy="1060.9" r="4.65"/><circle cx="716.9" cy="1063.6" r="4.65"/><circle cx="704.5" cy="1065.9" r="4.65"/><circle cx="718.1" cy="1060.2" r="4.65"/><circle cx="707.3" cy="1064.8" r="4.65"/><circle cx="713.3" cy="1058.7" r="4.65"/><circle cx="721" cy="1076.2" r="4.65"/><circle cx="734" cy="985" r="4.65"/><circle cx="735.5" cy="989" r="4.65"/><circle cx="749.3" cy="1000.4" r="4.65"/><circle cx="738.6" cy="1019.1" r="4.65"/><circle cx="739.1" cy="1021.9" r="4.65"/><circle cx="745.6" cy="1031.6" r="4.65"/><circle cx="729.6" cy="1039.4" r="4.65"/><circle cx="724.8" cy="1069.4" r="4.65"/><circle cx="725.3" cy="1082.4" r="4.65"/><circle cx="721.1" cy="1078.2" r="4.65"/><circle cx="717.4" cy="1052.3" r="4.65"/><circle cx="718.3" cy="1045.9" r="4.65"/><circle cx="737.7" cy="991.4" r="4.65"/><circle cx="738.6" cy="996" r="4.65"/><circle cx="711.4" cy="1008" r="4.65"/><circle cx="704" cy="1018.6" r="4.65"/><circle cx="684.6" cy="1042.2" r="4.65"/><circle cx="681.9" cy="1054.2" r="4.65"/><circle cx="761" cy="938.7" r="4.65"/><circle cx="731" cy="1040" r="4.65"/><circle cx="668.9" cy="1090.2" r="4.65"/></g>
<g fill="#9B48A4"><circle cx="860.2" cy="947.7" r="4.65"/><circle cx="857.8" cy="815.7" r="4.65"/><circle cx="839.8" cy="800.9" r="4.65"/></g>
<g fill="#EF82B7"><circle cx="825.2" cy="903.1" r="4.65"/><circle cx="821" cy="906.1" r="4.65"/></g>
<g fill="#9B48A4"><circle cx="748.6" cy="927.1" r="4.65"/><circle cx="859.8" cy="741" r="4.65"/><circle cx="812.1" cy="766.9" r="4.65"/></g>
<g fill="#45B049"><circle cx="904.8" cy="852" r="4.65"/></g>
<g fill="#EF82B7"><circle cx="828.9" cy="865.6" r="4.65"/><circle cx="831" cy="845.2" r="4.65"/></g>
<g fill="#45B049"><circle cx="840" cy="767.3" r="4.65"/><circle cx="853.1" cy="805.9" r="4.65"/></g>
<g fill="#EF82B7"><circle cx="799.8" cy="890.7" r="4.65"/></g>
<g fill="#45B049"><circle cx="856.6" cy="891.4" r="4.65"/><circle cx="833.6" cy="764.7" r="4.65"/></g>
<g fill="#EF82B7"><circle cx="803.6" cy="897.2" r="4.65"/><circle cx="816.4" cy="903.8" r="4.65"/></g>
<g fill="#9B48A4"><circle cx="851.7" cy="818.4" r="4.65"/><circle cx="841.4" cy="759.4" r="4.65"/></g>
<g fill="#45B049"><circle cx="825.9" cy="850.3" r="4.65"/></g>
<g fill="#EF82B7"><circle cx="820.9" cy="907.1" r="4.65"/></g>
<g fill="#45B049"><circle cx="823.1" cy="839.2" r="4.65"/></g>
<g fill="#9B48A4"><circle cx="823.8" cy="799.3" r="4.65"/><circle cx="866.1" cy="759.8" r="4.65"/></g>
<g fill="#45B049"><circle cx="853.9" cy="910.4" r="4.65"/><circle cx="856.8" cy="763.4" r="4.65"/></g>
<g fill="#9B48A4"><circle cx="873.5" cy="793.2" r="4.65"/><circle cx="832.3" cy="797.9" r="4.65"/></g>
<g fill="#EF82B7"><circle cx="809.8" cy="862.6" r="4.65"/></g>
<g fill="#45B049"><circle cx="848.2" cy="820.1" r="4.65"/><circle cx="916.2" cy="866.7" r="4.65"/></g>
<g fill="#EF82B7"><circle cx="800" cy="832" r="4.65"/></g>
<g fill="#9B48A4"><circle cx="871.6" cy="760.3" r="4.65"/></g>
<g fill="#45B049"><circle cx="872.1" cy="925.9" r="4.65"/></g>
<g fill="#9B48A4"><circle cx="813.5" cy="771.7" r="4.65"/></g>
<g fill="#45B049"><circle cx="864.8" cy="804.4" r="4.65"/><circle cx="852.4" cy="804.5" r="4.65"/><circle cx="844.1" cy="776.9" r="4.65"/></g>
<g fill="#EF82B7"><circle cx="824.2" cy="911.1" r="4.65"/></g>
<g fill="#45B049"><circle cx="792.8" cy="833.9" r="4.65"/></g>
<g fill="#9B48A4"><circle cx="827.7" cy="795.4" r="4.65"/><circle cx="839.6" cy="723.5" r="4.65"/><circle cx="898" cy="812.6" r="4.65"/><circle cx="822.8" cy="744.2" r="4.65"/><circle cx="856" cy="790" r="4.65"/></g>
<g fill="#45B049"><circle cx="865" cy="920" r="4.65"/><circle cx="793.5" cy="813.1" r="4.65"/><circle cx="805.3" cy="886.9" r="4.65"/></g>
<g fill="#9B48A4"><circle cx="848.6" cy="759" r="4.65"/><circle cx="825.4" cy="760.5" r="4.65"/><circle cx="789.4" cy="870.8" r="4.65"/><circle cx="839.3" cy="791.7" r="4.65"/></g>
<g fill="#45B049"><circle cx="820.2" cy="780.9" r="4.65"/></g>
<g fill="#EF82B7"><circle cx="809.2" cy="898.4" r="4.65"/><circle cx="810.2" cy="897" r="4.65"/></g>
<g fill="#45B049"><circle cx="845" cy="789.8" r="4.65"/></g>
<g fill="#EF82B7"><circle cx="809.9" cy="895.4" r="4.65"/></g>
<g fill="#45B049"><circle cx="839" cy="762.3" r="4.65"/><circle cx="851.6" cy="809" r="4.65"/></g>
<g fill="#9B48A4"><circle cx="848.7" cy="739" r="4.65"/></g>
<g fill="#45B049"><circle cx="883.6" cy="915.7" r="4.65"/></g>
<g fill="#9B48A4"><circle cx="891.3" cy="864" r="4.65"/><circle cx="794" cy="762.2" r="4.65"/></g>
<g fill="#EF82B7"><circle cx="821.7" cy="873.2" r="4.65"/></g>
<g fill="#45B049"><circle cx="829.5" cy="835.6" r="4.65"/></g>
<g fill="#EF82B7"><circle cx="830.3" cy="862.6" r="4.65"/><circle cx="822.4" cy="898.1" r="4.65"/></g>
<g fill="#9B48A4"><circle cx="895.9" cy="836.3" r="4.65"/></g>
<g fill="#EF82B7"><circle cx="808.8" cy="898" r="4.65"/></g>
<g fill="#45B049"><circle cx="840.7" cy="885.6" r="4.65"/><circle cx="836.9" cy="757.5" r="4.65"/><circle cx="840.9" cy="806.4" r="4.65"/></g>
<g fill="#EF82B7"><circle cx="793.4" cy="850.6" r="4.65"/></g>
<g fill="#45B049"><circle cx="823.5" cy="920.5" r="4.65"/><circle cx="874" cy="899.1" r="4.65"/></g>
<g fill="#9B48A4"><circle cx="838.8" cy="822.8" r="4.65"/></g>
<g fill="#EF82B7"><circle cx="816.8" cy="909.8" r="4.65"/></g>
<g fill="#45B049"><circle cx="862.9" cy="911.3" r="4.65"/><circle cx="902.7" cy="886.3" r="4.65"/></g>
<g fill="#EF82B7"><circle cx="833.3" cy="847.4" r="4.65"/></g>
<g fill="#45B049"><circle cx="827.1" cy="943" r="4.65"/></g>
<g fill="#EF82B7"><circle cx="763.7" cy="885.7" r="4.65"/><circle cx="827.5" cy="845.8" r="4.65"/></g>
<g fill="#9B48A4"><circle cx="893.4" cy="814.3" r="4.65"/></g>
<g fill="#45B049"><circle cx="849.4" cy="898.9" r="4.65"/></g>
<g fill="#EF82B7"><circle cx="813" cy="892.7" r="4.65"/></g>
<g fill="#45B049"><circle cx="859.5" cy="764" r="4.65"/></g>
<g fill="#9B48A4"><circle cx="881.9" cy="773.7" r="4.65"/></g>
<g fill="#45B049"><circle cx="865.6" cy="880.6" r="4.65"/></g>
<g fill="#EF82B7"><circle cx="821.7" cy="848.5" r="4.65"/></g>
<g fill="#45B049"><circle cx="843.9" cy="767.6" r="4.65"/><circle cx="791.4" cy="885.6" r="4.65"/><circle cx="806" cy="786.5" r="4.65"/></g>
<g fill="#EF82B7"><circle cx="780" cy="901.2" r="4.65"/></g>
<g fill="#45B049"><circle cx="818" cy="924" r="4.65"/></g>
<g fill="#EF82B7"><circle cx="817.9" cy="847.5" r="4.65"/><circle cx="819.4" cy="901.9" r="4.65"/></g>
<g fill="#45B049"><circle cx="843.5" cy="831.7" r="4.65"/></g>
<g fill="#9B48A4"><circle cx="842.5" cy="752.8" r="4.65"/></g>
<g fill="#45B049"><circle cx="819.9" cy="818.2" r="4.65"/></g>
<g fill="#EF82B7"><circle cx="836.8" cy="874.2" r="4.65"/><circle cx="821.1" cy="858.2" r="4.65"/></g>
<g fill="#9B48A4"><circle cx="850.7" cy="760.8" r="4.65"/><circle cx="844.3" cy="807.1" r="4.65"/></g>
<g fill="#45B049"><circle cx="907.5" cy="854.8" r="4.65"/></g>
<g fill="#9B48A4"><circle cx="824.9" cy="728.8" r="4.65"/></g>
<g fill="#EF82B7"><circle cx="813.3" cy="903.9" r="4.65"/></g>
<g fill="#45B049"><circle cx="802.7" cy="815.1" r="4.65"/><circle cx="845.3" cy="767.8" r="4.65"/></g>
<g fill="#EF82B7"><circle cx="835.7" cy="878.1" r="4.65"/><circle cx="829.7" cy="862.7" r="4.65"/></g>
<g fill="#9B48A4"><circle cx="912.1" cy="825" r="4.65"/></g>
<g fill="#EF82B7"><circle cx="761.7" cy="898.5" r="4.65"/></g>
<g fill="#45B049"><circle cx="842.3" cy="809.3" r="4.65"/></g>
<g fill="#9B48A4"><circle cx="739.4" cy="941.4" r="4.65"/></g>
<g fill="#45B049"><circle cx="847.4" cy="887" r="4.65"/></g>
<g fill="#9B48A4"><circle cx="940.3" cy="894.2" r="4.65"/></g>
<g fill="#45B049"><circle cx="853.7" cy="862.3" r="4.65"/></g>
<g fill="#9B48A4"><circle cx="873.5" cy="798.4" r="4.65"/><circle cx="853.2" cy="738.2" r="4.65"/></g>
<g fill="#45B049"><circle cx="849" cy="805.6" r="4.65"/><circle cx="769.1" cy="835.6" r="4.65"/></g>
<g fill="#9B48A4"><circle cx="857.2" cy="819.3" r="4.65"/></g>
<g fill="#EF82B7"><circle cx="803.2" cy="896.6" r="4.65"/></g>
<g fill="#9B48A4"><circle cx="845.7" cy="789" r="4.65"/></g>
<g fill="#EF82B7"><circle cx="829.3" cy="860.2" r="4.65"/></g>
<g fill="#9B48A4"><circle cx="816.1" cy="782.9" r="4.65"/></g>
<g fill="#EF82B7"><circle cx="828.5" cy="859.7" r="4.65"/></g>
<g fill="#45B049"><circle cx="818.3" cy="862.9" r="4.65"/><circle cx="857" cy="788.5" r="4.65"/><circle cx="851.6" cy="810.6" r="4.65"/></g>
<g fill="#9B48A4"><circle cx="847.4" cy="719.5" r="4.65"/></g>
<g fill="#EF82B7"><circle cx="824.7" cy="900.1" r="4.65"/></g>
<g fill="#9B48A4"><circle cx="815.4" cy="783.4" r="4.65"/><circle cx="826.2" cy="778.2" r="4.65"/></g>
<g fill="#45B049"><circle cx="889" cy="893" r="4.65"/></g>
<g fill="#EF82B7"><circle cx="754.7" cy="912.6" r="4.65"/></g>
<g fill="#9B48A4"><circle cx="812" cy="835" r="4.65"/><circle cx="839" cy="767.1" r="4.65"/><circle cx="901.2" cy="833.7" r="4.65"/><circle cx="786.7" cy="806" r="4.65"/><circle cx="847.2" cy="735.2" r="4.65"/></g>
<g fill="#EF82B7"><circle cx="825.7" cy="858.2" r="4.65"/></g>
<g fill="#9B48A4"><circle cx="867.3" cy="792.8" r="4.65"/></g>
<g fill="#45B049"><circle cx="808" cy="850.5" r="4.65"/></g>
<g fill="#9B48A4"><circle cx="824.1" cy="750.2" r="4.65"/><circle cx="846.7" cy="735.6" r="4.65"/></g>
<g fill="#45B049"><circle cx="850.2" cy="769.5" r="4.65"/></g>
<g fill="#9B48A4"><circle cx="789.4" cy="803.4" r="4.65"/></g>
<g fill="#45B049"><circle cx="799.5" cy="883" r="4.65"/></g>
<g fill="#9B48A4"><circle cx="845.3" cy="724.2" r="4.65"/></g>
<g fill="#EF82B7"><circle cx="810.5" cy="896.1" r="4.65"/></g>
<g fill="#9B48A4"><circle cx="791" cy="812" r="4.65"/><circle cx="844" cy="715.6" r="4.65"/><circle cx="916" cy="836" r="4.65"/><circle cx="808.3" cy="779.7" r="4.65"/></g>
<g fill="#45B049"><circle cx="866" cy="872.1" r="4.65"/><circle cx="803.5" cy="800.9" r="4.65"/><circle cx="863.2" cy="1033.4" r="4.65"/></g>
<g fill="#EF82B7"><circle cx="824.9" cy="863.4" r="4.65"/><circle cx="813.6" cy="860.2" r="4.65"/></g>
<g fill="#9B48A4"><circle cx="875.6" cy="767.4" r="4.65"/></g>
<g fill="#45B049"><circle cx="841.9" cy="793.6" r="4.65"/></g>
<g fill="#EF82B7"><circle cx="844.3" cy="853.2" r="4.65"/></g>
<g fill="#9B48A4"><circle cx="832.1" cy="778.5" r="4.65"/></g>
<g fill="#45B049"><circle cx="871.7" cy="926.1" r="4.65"/></g>
<g fill="#9B48A4"><circle cx="869.3" cy="799.1" r="4.65"/><circle cx="852.7" cy="821" r="4.65"/></g>
<g fill="#45B049"><circle cx="841.5" cy="797.7" r="4.65"/><circle cx="860.6" cy="880.1" r="4.65"/></g>
<g fill="#EF82B7"><circle cx="816.5" cy="851.5" r="4.65"/></g>
<g fill="#45B049"><circle cx="839.5" cy="898.5" r="4.65"/></g>
<g fill="#9B48A4"><circle cx="904" cy="893" r="4.65"/></g>
<g fill="#45B049"><circle cx="899" cy="875.7" r="4.65"/></g>
<g fill="#EF82B7"><circle cx="825.2" cy="898.8" r="4.65"/></g>
<g fill="#45B049"><circle cx="855.1" cy="786.8" r="4.65"/><circle cx="870.2" cy="820.8" r="4.65"/></g>
<g fill="#9B48A4"><circle cx="886.6" cy="827.8" r="4.65"/><circle cx="876.7" cy="795.3" r="4.65"/><circle cx="832.4" cy="762.6" r="4.65"/></g>
<g fill="#45B049"><circle cx="828.6" cy="781.2" r="4.65"/></g>
<g fill="#9B48A4"><circle cx="847.8" cy="827.8" r="4.65"/></g>
<g fill="#45B049"><circle cx="851.4" cy="764.3" r="4.65"/></g>
<g fill="#EF82B7"><circle cx="811" cy="924.1" r="4.65"/><circle cx="836.1" cy="837" r="4.65"/></g>
<g fill="#45B049"><circle cx="879.5" cy="813.8" r="4.65"/></g>
<g fill="#9B48A4"><circle cx="875.7" cy="826.2" r="4.65"/></g>
<g fill="#45B049"><circle cx="869.8" cy="811" r="4.65"/></g>
<g fill="#EF82B7"><circle cx="816.9" cy="890.1" r="4.65"/></g>
<g fill="#9B48A4"><circle cx="849.8" cy="751.2" r="4.65"/><circle cx="835.2" cy="816.1" r="4.65"/><circle cx="821.9" cy="788.4" r="4.65"/><circle cx="817.9" cy="763.7" r="4.65"/></g>
<g fill="#45B049"><circle cx="786.7" cy="908.6" r="4.65"/></g>
<g fill="#9B48A4"><circle cx="841.8" cy="726" r="4.65"/></g>
<g fill="#EF82B7"><circle cx="817.8" cy="901.3" r="4.65"/><circle cx="830.4" cy="911.9" r="4.65"/></g>
<g fill="#9B48A4"><circle cx="844.4" cy="793.6" r="4.65"/></g>
<g fill="#45B049"><circle cx="864.6" cy="852.2" r="4.65"/><circle cx="867.3" cy="785.3" r="4.65"/></g>
<g fill="#9B48A4"><circle cx="860.2" cy="946.8" r="4.65"/><circle cx="891.2" cy="813.1" r="4.65"/></g>
<g fill="#EF82B7"><circle cx="809.9" cy="890.9" r="4.65"/></g>
<g fill="#45B049"><circle cx="847.4" cy="796.8" r="4.65"/></g>
<g fill="#9B48A4"><circle cx="827" cy="741.2" r="4.65"/><circle cx="867.3" cy="753.9" r="4.65"/></g>
<g fill="#45B049"><circle cx="830.6" cy="797.6" r="4.65"/><circle cx="842.4" cy="896" r="4.65"/></g>
<g fill="#EF82B7"><circle cx="823.7" cy="840.7" r="4.65"/></g>
<g fill="#9B48A4"><circle cx="932.1" cy="910" r="4.65"/></g>
<g fill="#45B049"><circle cx="871.1" cy="864.5" r="4.65"/></g>
<g fill="#9B48A4"><circle cx="897.8" cy="812.1" r="4.65"/><circle cx="855.6" cy="740" r="4.65"/></g>
<g fill="#EF82B7"><circle cx="842" cy="872" r="4.65"/><circle cx="829.1" cy="890.2" r="4.65"/></g>
<g fill="#45B049"><circle cx="834.6" cy="934.2" r="4.65"/></g>
<g fill="#9B48A4"><circle cx="818.1" cy="781.3" r="4.65"/><circle cx="825" cy="737.4" r="4.65"/><circle cx="889.3" cy="790.8" r="4.65"/><circle cx="840.8" cy="717.7" r="4.65"/><circle cx="818" cy="753.3" r="4.65"/></g>
<g fill="#EF82B7"><circle cx="825.8" cy="863" r="4.65"/></g>
<g fill="#45B049"><circle cx="811.2" cy="826.6" r="4.65"/></g>
<g fill="#9B48A4"><circle cx="826" cy="746.4" r="4.65"/></g>
<g fill="#EF82B7"><circle cx="819.4" cy="906.8" r="4.65"/></g>
<g fill="#9B48A4"><circle cx="859.4" cy="762.7" r="4.65"/><circle cx="931.5" cy="878" r="4.65"/></g>
<g fill="#EF82B7"><circle cx="827" cy="880.1" r="4.65"/></g>
<g fill="#45B049"><circle cx="858.1" cy="886.6" r="4.65"/></g>
<g fill="#EF82B7"><circle cx="805.5" cy="897.3" r="4.65"/></g>
<g fill="#45B049"><circle cx="841.5" cy="868" r="4.65"/></g>
<g fill="#9B48A4"><circle cx="867.5" cy="837" r="4.65"/><circle cx="924" cy="844" r="4.65"/></g>
<g fill="#45B049"><circle cx="879.6" cy="812.5" r="4.65"/><circle cx="815.4" cy="871.6" r="4.65"/></g>
<g fill="#9B48A4"><circle cx="827.6" cy="728.3" r="4.65"/></g>
<g fill="#45B049"><circle cx="843.7" cy="869" r="4.65"/><circle cx="910.8" cy="895.8" r="4.65"/><circle cx="792.8" cy="873.5" r="4.65"/><circle cx="814.3" cy="883" r="4.65"/></g>
<g fill="#EF82B7"><circle cx="792.4" cy="901.4" r="4.65"/></g>
<g fill="#9B48A4"><circle cx="838" cy="730.9" r="4.65"/></g>
<g fill="#EF82B7"><circle cx="830.7" cy="843.8" r="4.65"/></g>
<g fill="#9B48A4"><circle cx="827.5" cy="755.2" r="4.65"/></g>
<g fill="#EF82B7"><circle cx="814.2" cy="895.7" r="4.65"/></g>
<g fill="#45B049"><circle cx="814.6" cy="759.6" r="4.65"/><circle cx="859.4" cy="879.5" r="4.65"/></g>
<g fill="#9B48A4"><circle cx="832.4" cy="737" r="4.65"/></g>
<g fill="#EF82B7"><circle cx="807.1" cy="864.4" r="4.65"/><circle cx="839.4" cy="841.4" r="4.65"/></g>
<g fill="#45B049"><circle cx="802.7" cy="843.5" r="4.65"/><circle cx="869" cy="885.6" r="4.65"/></g>
<g fill="#EF82B7"><circle cx="817.4" cy="899.2" r="4.65"/></g>
<g fill="#45B049"><circle cx="849.3" cy="754.1" r="4.65"/><circle cx="867.7" cy="806.1" r="4.65"/></g>
<g fill="#9B48A4"><circle cx="856.6" cy="774.8" r="4.65"/></g>
<g fill="#EF82B7"><circle cx="804" cy="892.3" r="4.65"/></g>
<g fill="#45B049"><circle cx="851.7" cy="803.7" r="4.65"/></g>
<g fill="#9B48A4"><circle cx="920.5" cy="826.5" r="4.65"/></g>
<g fill="#45B049"><circle cx="790.7" cy="949.5" r="4.65"/><circle cx="866.4" cy="859.7" r="4.65"/><circle cx="847.1" cy="816.1" r="4.65"/></g>
<g fill="#9B48A4"><circle cx="846.3" cy="778.7" r="4.65"/><circle cx="833.6" cy="790.5" r="4.65"/><circle cx="922.9" cy="852.8" r="4.65"/><circle cx="825.2" cy="771.8" r="4.65"/></g>
<g fill="#45B049"><circle cx="825.9" cy="895.3" r="4.65"/></g>
<g fill="#9B48A4"><circle cx="837" cy="786.2" r="4.65"/></g>
<g fill="#EF82B7"><circle cx="814.2" cy="890.4" r="4.65"/></g>
<g fill="#9B48A4"><circle cx="874" cy="784.6" r="4.65"/><circle cx="853.7" cy="763.3" r="4.65"/></g>
<g fill="#EF82B7"><circle cx="839.4" cy="858.7" r="4.65"/></g>
<g fill="#45B049"><circle cx="797" cy="802.3" r="4.65"/></g>
<g fill="#9B48A4"><circle cx="839" cy="763.3" r="4.65"/></g>
<g fill="#EF82B7"><circle cx="826.1" cy="865.7" r="4.65"/></g>
<g fill="#9B48A4"><circle cx="859.8" cy="761" r="4.65"/></g>
<g fill="#45B049"><circle cx="855.9" cy="977.4" r="4.65"/></g>
<g fill="#EF82B7"><circle cx="789.5" cy="900.2" r="4.65"/></g>
<g fill="#9B48A4"><circle cx="884.1" cy="836.6" r="4.65"/></g>
<g fill="#45B049"><circle cx="861.5" cy="838.4" r="4.65"/></g>
<g fill="#EF82B7"><circle cx="809.4" cy="895.6" r="4.65"/></g>
<g fill="#9B48A4"><circle cx="866.6" cy="790.8" r="4.65"/><circle cx="867.3" cy="779.1" r="4.65"/><circle cx="910.8" cy="891" r="4.65"/></g>
<g fill="#45B049"><circle cx="818.6" cy="854.7" r="4.65"/></g>
<g fill="#EF82B7"><circle cx="831.5" cy="850.2" r="4.65"/></g>
<g fill="#45B049"><circle cx="831" cy="864.6" r="4.65"/></g>
<g fill="#EF82B7"><circle cx="816.1" cy="857.6" r="4.65"/></g>
<g fill="#9B48A4"><circle cx="840.9" cy="761.3" r="4.65"/></g>
<g fill="#45B049"><circle cx="839.6" cy="776.1" r="4.65"/><circle cx="841.1" cy="781.6" r="4.65"/><circle cx="813" cy="820.9" r="4.65"/></g>
<g fill="#EF82B7"><circle cx="828.7" cy="862.3" r="4.65"/><circle cx="835.5" cy="847.7" r="4.65"/></g>
<g fill="#45B049"><circle cx="846.8" cy="819.8" r="4.65"/><circle cx="825.8" cy="876.8" r="4.65"/></g>
<g fill="#9B48A4"><circle cx="845.1" cy="798.9" r="4.65"/></g>
<g fill="#45B049"><circle cx="879.2" cy="861.4" r="4.65"/><circle cx="841" cy="807.7" r="4.65"/></g>
<g fill="#EF82B7"><circle cx="803.8" cy="891.1" r="4.65"/></g>
<g fill="#9B48A4"><circle cx="864.3" cy="814.4" r="4.65"/></g>
<g fill="#45B049"><circle cx="831.3" cy="827.1" r="4.65"/></g>
<g fill="#9B48A4"><circle cx="812" cy="838" r="4.65"/></g>
<g fill="#45B049"><circle cx="831.8" cy="823.2" r="4.65"/></g>
<g fill="#EF82B7"><circle cx="804.6" cy="891.9" r="4.65"/></g>
<g fill="#9B48A4"><circle cx="895.6" cy="801.5" r="4.65"/><circle cx="885.9" cy="807.2" r="4.65"/></g>
<g fill="#45B049"><circle cx="818.4" cy="924.1" r="4.65"/></g>
<g fill="#9B48A4"><circle cx="857.3" cy="749.1" r="4.65"/></g>
<g fill="#EF82B7"><circle cx="808.3" cy="898.8" r="4.65"/></g>
<g fill="#45B049"><circle cx="903.2" cy="843.6" r="4.65"/></g>
<g fill="#EF82B7"><circle cx="838.2" cy="876.6" r="4.65"/></g>
<g fill="#9B48A4"><circle cx="834.4" cy="748.5" r="4.65"/><circle cx="863.9" cy="832.8" r="4.65"/><circle cx="831.1" cy="812.5" r="4.65"/></g>
<g fill="#EF82B7"><circle cx="821.8" cy="906.4" r="4.65"/></g>
<g fill="#45B049"><circle cx="802.2" cy="835.8" r="4.65"/><circle cx="838.6" cy="907" r="4.65"/><circle cx="844" cy="821.1" r="4.65"/></g>
<g fill="#EF82B7"><circle cx="825" cy="840.4" r="4.65"/><circle cx="819.1" cy="883.8" r="4.65"/><circle cx="832.1" cy="836.4" r="4.65"/></g>
<g fill="#9B48A4"><circle cx="843.6" cy="717.7" r="4.65"/></g>
<g fill="#45B049"><circle cx="837.4" cy="772.2" r="4.65"/></g>
<g fill="#9B48A4"><circle cx="832.9" cy="756.6" r="4.65"/><circle cx="846.5" cy="773.1" r="4.65"/><circle cx="828.7" cy="798.4" r="4.65"/></g>
<g fill="#EF82B7"><circle cx="829.1" cy="827.2" r="4.65"/></g>
<g fill="#45B049"><circle cx="871.7" cy="806.4" r="4.65"/><circle cx="831.2" cy="781.1" r="4.65"/></g>
<g fill="#9B48A4"><circle cx="841.3" cy="740.8" r="4.65"/></g>
<g fill="#45B049"><circle cx="825.4" cy="860.3" r="4.65"/></g>
<g fill="#9B48A4"><circle cx="874.3" cy="771.9" r="4.65"/><circle cx="793" cy="867" r="4.65"/><circle cx="917" cy="828" r="4.65"/></g>
<g fill="#45B049"><circle cx="795.2" cy="852.5" r="4.65"/></g>
<g fill="#EF82B7"><circle cx="813.4" cy="890.9" r="4.65"/><circle cx="818.7" cy="867.4" r="4.65"/></g>
<g fill="#45B049"><circle cx="849.2" cy="810.3" r="4.65"/></g>
<g fill="#EF82B7"><circle cx="809.7" cy="848.4" r="4.65"/><circle cx="833.8" cy="868.2" r="4.65"/><circle cx="821.5" cy="900.6" r="4.65"/><circle cx="824.6" cy="896.8" r="4.65"/><circle cx="813.2" cy="890.1" r="4.65"/></g>
<g fill="#9B48A4"><circle cx="890.3" cy="908.4" r="4.65"/></g>
<g fill="#45B049"><circle cx="896" cy="889.7" r="4.65"/><circle cx="831.4" cy="857.8" r="4.65"/></g>
<g fill="#EF82B7"><circle cx="817.7" cy="899.5" r="4.65"/></g>
<g fill="#9B48A4"><circle cx="785.3" cy="811.5" r="4.65"/></g>
<g fill="#45B049"><circle cx="852.6" cy="817.8" r="4.65"/></g>
<g fill="#EF82B7"><circle cx="831.4" cy="900.1" r="4.65"/></g>
<g fill="#45B049"><circle cx="823.8" cy="897.8" r="4.65"/></g>
<g fill="#EF82B7"><circle cx="840.7" cy="878.3" r="4.65"/><circle cx="832.9" cy="859.7" r="4.65"/></g>
<g fill="#45B049"><circle cx="852.5" cy="820.6" r="4.65"/><circle cx="841.1" cy="796.8" r="4.65"/><circle cx="916.5" cy="873" r="4.65"/></g>
<g fill="#9B48A4"><circle cx="796" cy="856" r="4.65"/></g>
<g fill="#45B049"><circle cx="851.9" cy="832.6" r="4.65"/></g>
<g fill="#EF82B7"><circle cx="817.9" cy="852.2" r="4.65"/></g>
<g fill="#45B049"><circle cx="841.1" cy="819.3" r="4.65"/></g>
<g fill="#9B48A4"><circle cx="855.9" cy="766.9" r="4.65"/><circle cx="894.8" cy="827.2" r="4.65"/></g>
<g fill="#EF82B7"><circle cx="835.8" cy="860.8" r="4.65"/></g>
<g fill="#9B48A4"><circle cx="890.3" cy="819.1" r="4.65"/></g>
<g fill="#45B049"><circle cx="873.4" cy="890.9" r="4.65"/></g>
<g fill="#EF82B7"><circle cx="833.4" cy="844.4" r="4.65"/></g>
<g fill="#9B48A4"><circle cx="885.8" cy="778.5" r="4.65"/></g>
<g fill="#45B049"><circle cx="847.6" cy="844.4" r="4.65"/><circle cx="881" cy="799.4" r="4.65"/></g>
<g fill="#EF82B7"><circle cx="820" cy="868.1" r="4.65"/></g>
<g fill="#9B48A4"><circle cx="881.5" cy="838.2" r="4.65"/><circle cx="822.5" cy="806.3" r="4.65"/></g>
<g fill="#45B049"><circle cx="875.7" cy="886" r="4.65"/><circle cx="874.4" cy="764.9" r="4.65"/></g>
<g fill="#9B48A4"><circle cx="858.2" cy="905.2" r="4.65"/></g>
<g fill="#45B049"><circle cx="883.8" cy="891" r="4.65"/></g>
<g fill="#9B48A4"><circle cx="840.3" cy="761" r="4.65"/><circle cx="887.2" cy="843.8" r="4.65"/></g>
<g fill="#45B049"><circle cx="846.2" cy="798.8" r="4.65"/></g>
<g fill="#EF82B7"><circle cx="812.3" cy="891.4" r="4.65"/></g>
<g fill="#9B48A4"><circle cx="838" cy="817.7" r="4.65"/><circle cx="846.9" cy="747.8" r="4.65"/><circle cx="865.3" cy="770.5" r="4.65"/><circle cx="834.7" cy="735.3" r="4.65"/><circle cx="859.7" cy="835.3" r="4.65"/><circle cx="836.7" cy="747.2" r="4.65"/></g>
<g fill="#45B049"><circle cx="841.5" cy="866.2" r="4.65"/></g>
<g fill="#EF82B7"><circle cx="865" cy="858.7" r="4.65"/></g>
<g fill="#45B049"><circle cx="829" cy="760.6" r="4.65"/></g>
<g fill="#9B48A4"><circle cx="832.4" cy="797.4" r="4.65"/></g>
<g fill="#45B049"><circle cx="862.6" cy="911.7" r="4.65"/></g>
<g fill="#9B48A4"><circle cx="816.4" cy="767" r="4.65"/></g>
<g fill="#45B049"><circle cx="826.8" cy="762.7" r="4.65"/></g>
<g fill="#EF82B7"><circle cx="810.6" cy="855.6" r="4.65"/><circle cx="821.6" cy="846.9" r="4.65"/></g>
<g fill="#9B48A4"><circle cx="894.1" cy="812.3" r="4.65"/><circle cx="817.2" cy="796.7" r="4.65"/><circle cx="843.1" cy="725.2" r="4.65"/></g>
<g fill="#EF82B7"><circle cx="823.1" cy="898.5" r="4.65"/><circle cx="828.8" cy="858.8" r="4.65"/><circle cx="825.5" cy="873.4" r="4.65"/></g>
<g fill="#9B48A4"><circle cx="893" cy="848" r="4.65"/></g>
<g fill="#45B049"><circle cx="850.9" cy="776.9" r="4.65"/></g>
<g fill="#9B48A4"><circle cx="890.6" cy="909.3" r="4.65"/></g>
<g fill="#EF82B7"><circle cx="832.4" cy="886.1" r="4.65"/><circle cx="837.9" cy="860.3" r="4.65"/></g>
<g fill="#9B48A4"><circle cx="879.5" cy="932.9" r="4.65"/></g>
<g fill="#EF82B7"><circle cx="800.5" cy="893.4" r="4.65"/></g>
<g fill="#45B049"><circle cx="903.5" cy="852.3" r="4.65"/></g>
<g fill="#9B48A4"><circle cx="824.4" cy="769" r="4.65"/></g>
<g fill="#EF82B7"><circle cx="834.3" cy="850.8" r="4.65"/></g>
<g fill="#9B48A4"><circle cx="846.5" cy="741.7" r="4.65"/></g>
<g fill="#EF82B7"><circle cx="839.3" cy="867" r="4.65"/><circle cx="859.6" cy="850.6" r="4.65"/></g>
<g fill="#45B049"><circle cx="877.5" cy="833.7" r="4.65"/></g>
<g fill="#9B48A4"><circle cx="836.7" cy="796.8" r="4.65"/></g>
<g fill="#45B049"><circle cx="826" cy="884.4" r="4.65"/><circle cx="836.5" cy="771.7" r="4.65"/></g>
<g fill="#9B48A4"><circle cx="873.5" cy="815" r="4.65"/></g>
<g fill="#EF82B7"><circle cx="804.6" cy="898.4" r="4.65"/></g>
<g fill="#9B48A4"><circle cx="821.1" cy="763" r="4.65"/><circle cx="845.3" cy="730.1" r="4.65"/></g>
<g fill="#EF82B7"><circle cx="828.8" cy="870.7" r="4.65"/></g>
<g fill="#9B48A4"><circle cx="839.9" cy="740.7" r="4.65"/><circle cx="873.3" cy="782.3" r="4.65"/></g>
<g fill="#EF82B7"><circle cx="785.3" cy="892.4" r="4.65"/></g>
<g fill="#9B48A4"><circle cx="869.9" cy="817.9" r="4.65"/><circle cx="858.2" cy="870.8" r="4.65"/></g>
<g fill="#45B049"><circle cx="828.8" cy="771.4" r="4.65"/></g>
<g fill="#9B48A4"><circle cx="902.7" cy="865.4" r="4.65"/><circle cx="810" cy="840" r="4.65"/></g>
<g fill="#EF82B7"><circle cx="822.9" cy="894" r="4.65"/><circle cx="809.7" cy="896.2" r="4.65"/></g>
<g fill="#45B049"><circle cx="837" cy="869.1" r="4.65"/></g>
<g fill="#9B48A4"><circle cx="849" cy="790" r="4.65"/></g>
<g fill="#EF82B7"><circle cx="836.3" cy="868.3" r="4.65"/></g>
<g fill="#9B48A4"><circle cx="827.2" cy="745.7" r="4.65"/><circle cx="878" cy="856" r="4.65"/></g>
<g fill="#45B049"><circle cx="849.8" cy="774.4" r="4.65"/></g>
<g fill="#EF82B7"><circle cx="837.9" cy="843.3" r="4.65"/></g>
<g fill="#45B049"><circle cx="841.5" cy="817.8" r="4.65"/><circle cx="811" cy="792.6" r="4.65"/><circle cx="809.9" cy="864.6" r="4.65"/></g>
<g fill="#9B48A4"><circle cx="864.6" cy="772.6" r="4.65"/></g>
<g fill="#45B049"><circle cx="901.1" cy="895.7" r="4.65"/><circle cx="845" cy="759.1" r="4.65"/></g>
<g fill="#9B48A4"><circle cx="785.3" cy="941.4" r="4.65"/></g>
<g fill="#45B049"><circle cx="875" cy="857.5" r="4.65"/><circle cx="854.2" cy="911" r="4.65"/></g>
<g fill="#9B48A4"><circle cx="854.8" cy="781.9" r="4.65"/><circle cx="859.3" cy="819.6" r="4.65"/><circle cx="851" cy="747" r="4.65"/></g>
<g fill="#45B049"><circle cx="857.6" cy="843.2" r="4.65"/><circle cx="755" cy="887.4" r="4.65"/></g>
<g fill="#9B48A4"><circle cx="877" cy="781.8" r="4.65"/></g>
<g fill="#EF82B7"><circle cx="763.3" cy="931.3" r="4.65"/><circle cx="828.2" cy="863.4" r="4.65"/></g>
<g fill="#9B48A4"><circle cx="884.7" cy="769.3" r="4.65"/><circle cx="901.9" cy="805.3" r="4.65"/></g>
<g fill="#45B049"><circle cx="797.4" cy="844.6" r="4.65"/></g>
<g fill="#9B48A4"><circle cx="781" cy="800" r="4.65"/></g>
<g fill="#45B049"><circle cx="824.5" cy="880.2" r="4.65"/></g>
<g fill="#EF82B7"><circle cx="829.1" cy="869.9" r="4.65"/></g>
<g fill="#9B48A4"><circle cx="844.1" cy="715.2" r="4.65"/><circle cx="831.1" cy="744.5" r="4.65"/><circle cx="844.2" cy="830.4" r="4.65"/></g>
<g fill="#EF82B7"><circle cx="826.8" cy="868.8" r="4.65"/></g>
<g fill="#9B48A4"><circle cx="824.2" cy="800.8" r="4.65"/><circle cx="855" cy="796.3" r="4.65"/><circle cx="865.1" cy="770.4" r="4.65"/><circle cx="888.4" cy="818.1" r="4.65"/><circle cx="894.1" cy="798.4" r="4.65"/></g>
<g fill="#45B049"><circle cx="827.2" cy="943" r="4.65"/><circle cx="826.5" cy="804.4" r="4.65"/></g>
<g fill="#EF82B7"><circle cx="823" cy="849.2" r="4.65"/></g>
<g fill="#9B48A4"><circle cx="841.5" cy="805.2" r="4.65"/></g>
<g fill="#EF82B7"><circle cx="826.5" cy="860.1" r="4.65"/></g>
<g fill="#9B48A4"><circle cx="836.9" cy="751.2" r="4.65"/></g>
<g fill="#45B049"><circle cx="798.7" cy="870.3" r="4.65"/></g>
<g fill="#9B48A4"><circle cx="915" cy="858" r="4.65"/><circle cx="862.2" cy="791.4" r="4.65"/></g>
<g fill="#EF82B7"><circle cx="822" cy="903.9" r="4.65"/></g>
<g fill="#45B049"><circle cx="838.5" cy="764.6" r="4.65"/></g>
<g fill="#9B48A4"><circle cx="932" cy="870" r="4.65"/></g>
<g fill="#EF82B7"><circle cx="829.2" cy="841.3" r="4.65"/><circle cx="825" cy="845.4" r="4.65"/></g>
<g fill="#45B049"><circle cx="819.2" cy="791.4" r="4.65"/></g>
<g fill="#9B48A4"><circle cx="903.4" cy="850" r="4.65"/></g>
<g fill="#EF82B7"><circle cx="825.2" cy="840.7" r="4.65"/><circle cx="819.9" cy="865.9" r="4.65"/></g>
<g fill="#9B48A4"><circle cx="876" cy="765.1" r="4.65"/></g>
<g fill="#EF82B7"><circle cx="829.5" cy="840.3" r="4.65"/></g>
<g fill="#9B48A4"><circle cx="875.4" cy="804.4" r="4.65"/><circle cx="843.4" cy="780.3" r="4.65"/></g>
<g fill="#45B049"><circle cx="859.9" cy="780.5" r="4.65"/></g>
<g fill="#EF82B7"><circle cx="804.7" cy="905.1" r="4.65"/><circle cx="819" cy="913.1" r="4.65"/></g>
<g fill="#45B049"><circle cx="891" cy="847" r="4.65"/><circle cx="850.5" cy="758.9" r="4.65"/><circle cx="898" cy="872" r="4.65"/><circle cx="879.2" cy="836.3" r="4.65"/></g>
<g fill="#9B48A4"><circle cx="836.2" cy="753.4" r="4.65"/></g>
<g fill="#45B049"><circle cx="834.3" cy="934" r="4.65"/></g>
<g fill="#9B48A4"><circle cx="871.2" cy="745.6" r="4.65"/></g>
<g fill="#EF82B7"><circle cx="804.1" cy="902.3" r="4.65"/><circle cx="803.1" cy="903" r="4.65"/></g>
<g fill="#9B48A4"><circle cx="879.5" cy="792.7" r="4.65"/></g>
<g fill="#45B049"><circle cx="855.9" cy="786.4" r="4.65"/></g>
<g fill="#EF82B7"><circle cx="829.5" cy="864.9" r="4.65"/><circle cx="819.1" cy="855.2" r="4.65"/></g>
<g fill="#9B48A4"><circle cx="860.7" cy="810.2" r="4.65"/></g>
<g fill="#45B049"><circle cx="862.3" cy="902" r="4.65"/></g>
<g fill="#9B48A4"><circle cx="860.1" cy="772.6" r="4.65"/><circle cx="904.5" cy="800.3" r="4.65"/><circle cx="852.6" cy="744.9" r="4.65"/></g>
<g fill="#45B049"><circle cx="823.8" cy="845.8" r="4.65"/></g>
<g fill="#9B48A4"><circle cx="865.3" cy="773.1" r="4.65"/><circle cx="900.7" cy="830.1" r="4.65"/></g>
<g fill="#45B049"><circle cx="889.9" cy="872.8" r="4.65"/><circle cx="854" cy="820.1" r="4.65"/></g>
<g fill="#9B48A4"><circle cx="895.3" cy="849" r="4.65"/></g>
<g fill="#45B049"><circle cx="851.9" cy="789.7" r="4.65"/></g>
<g fill="#9B48A4"><circle cx="890.6" cy="903.2" r="4.65"/></g>
<g fill="#45B049"><circle cx="823.2" cy="802.4" r="4.65"/><circle cx="870.4" cy="868" r="4.65"/></g>
<g fill="#EF82B7"><circle cx="828.3" cy="832" r="4.65"/></g>
<g fill="#45B049"><circle cx="848.8" cy="865.9" r="4.65"/><circle cx="848.7" cy="778.8" r="4.65"/></g>
<g fill="#9B48A4"><circle cx="843.9" cy="721.4" r="4.65"/></g>
<g fill="#EF82B7"><circle cx="825.2" cy="856.9" r="4.65"/></g>
<g fill="#9B48A4"><circle cx="859.3" cy="742.5" r="4.65"/><circle cx="868" cy="835.3" r="4.65"/><circle cx="800" cy="764.2" r="4.65"/><circle cx="862.5" cy="786.5" r="4.65"/></g>
<g fill="#45B049"><circle cx="839.3" cy="879.3" r="4.65"/><circle cx="881.5" cy="883.7" r="4.65"/></g>
<g fill="#EF82B7"><circle cx="798.7" cy="896.5" r="4.65"/><circle cx="839.1" cy="863.9" r="4.65"/></g>
<g fill="#9B48A4"><circle cx="837.3" cy="750.9" r="4.65"/></g>
<g fill="#EF82B7"><circle cx="826.7" cy="824.7" r="4.65"/></g>
<g fill="#9B48A4"><circle cx="829.2" cy="792.8" r="4.65"/><circle cx="863.6" cy="882.3" r="4.65"/></g>
<g fill="#EF82B7"><circle cx="828.9" cy="863.6" r="4.65"/></g>
<g fill="#9B48A4"><circle cx="851" cy="782.9" r="4.65"/></g>
<g fill="#45B049"><circle cx="858.2" cy="880.2" r="4.65"/><circle cx="883.6" cy="829.5" r="4.65"/><circle cx="839.3" cy="875.5" r="4.65"/></g>
<g fill="#9B48A4"><circle cx="866.6" cy="794.3" r="4.65"/><circle cx="816" cy="782" r="4.65"/><circle cx="888.6" cy="800.4" r="4.65"/></g>
<g fill="#45B049"><circle cx="848.6" cy="785.3" r="4.65"/></g>
<g fill="#EF82B7"><circle cx="795" cy="836" r="4.65"/><circle cx="835.3" cy="857.3" r="4.65"/></g>
<g fill="#45B049"><circle cx="816.4" cy="872.9" r="4.65"/></g>
<g fill="#EF82B7"><circle cx="821.1" cy="834.1" r="4.65"/></g>
<g fill="#9B48A4"><circle cx="822.4" cy="769.1" r="4.65"/><circle cx="869.7" cy="764.9" r="4.65"/></g>
<g fill="#EF82B7"><circle cx="800.9" cy="900.8" r="4.65"/></g>
<g fill="#9B48A4"><circle cx="835.3" cy="743.8" r="4.65"/></g>
<g fill="#45B049"><circle cx="850.4" cy="832.9" r="4.65"/><circle cx="872.7" cy="793" r="4.65"/><circle cx="823.1" cy="920.7" r="4.65"/><circle cx="878.6" cy="911.6" r="4.65"/></g>
<g fill="#9B48A4"><circle cx="883" cy="777.6" r="4.65"/></g>
<g fill="#45B049"><circle cx="809" cy="907.2" r="4.65"/></g>
<g fill="#EF82B7"><circle cx="827.6" cy="907.5" r="4.65"/></g>
<g fill="#9B48A4"><circle cx="878.6" cy="780.4" r="4.65"/><circle cx="885.3" cy="824.9" r="4.65"/></g>
<g fill="#45B049"><circle cx="864.7" cy="919.8" r="4.65"/></g>
<g fill="#EF82B7"><circle cx="793.4" cy="825" r="4.65"/><circle cx="805.2" cy="897.3" r="4.65"/></g>
<g fill="#45B049"><circle cx="871.8" cy="834" r="4.65"/></g>
<g fill="#9B48A4"><circle cx="854.8" cy="890.4" r="4.65"/><circle cx="906.8" cy="835.3" r="4.65"/><circle cx="782.6" cy="802" r="4.65"/></g>
<g fill="#45B049"><circle cx="838.6" cy="768" r="4.65"/></g>
<g fill="#9B48A4"><circle cx="875.2" cy="766.4" r="4.65"/></g>
<g fill="#45B049"><circle cx="896.7" cy="925.5" r="4.65"/></g>
<g fill="#EF82B7"><circle cx="834.7" cy="866.3" r="4.65"/></g>
<g fill="#9B48A4"><circle cx="816.7" cy="766.9" r="4.65"/><circle cx="890.6" cy="802.6" r="4.65"/><circle cx="855.8" cy="782.8" r="4.65"/></g>
<g fill="#45B049"><circle cx="855.9" cy="779" r="4.65"/></g>
<g fill="#9B48A4"><circle cx="853.3" cy="765.3" r="4.65"/></g>
<g fill="#EF82B7"><circle cx="808.5" cy="891.4" r="4.65"/><circle cx="827" cy="876.1" r="4.65"/></g>
<g fill="#9B48A4"><circle cx="843.7" cy="749.6" r="4.65"/></g>
<g fill="#EF82B7"><circle cx="817.7" cy="911.1" r="4.65"/><circle cx="815" cy="851.2" r="4.65"/></g>
<g fill="#9B48A4"><circle cx="861.9" cy="773.7" r="4.65"/><circle cx="901" cy="829.3" r="4.65"/></g>
<g fill="#EF82B7"><circle cx="807" cy="896.2" r="4.65"/></g>
<g fill="#45B049"><circle cx="849.3" cy="762.3" r="4.65"/></g>
<g fill="#9B48A4"><circle cx="824.6" cy="804.8" r="4.65"/><circle cx="821.4" cy="785" r="4.65"/></g>
<g fill="#45B049"><circle cx="813.4" cy="824.9" r="4.65"/></g>
<g fill="#EF82B7"><circle cx="830.3" cy="852.7" r="4.65"/></g>
<g fill="#45B049"><circle cx="868.1" cy="778.7" r="4.65"/></g>
<g fill="#EF82B7"><circle cx="816.9" cy="903.1" r="4.65"/></g>
<g fill="#45B049"><circle cx="908.4" cy="871.5" r="4.65"/></g>
<g fill="#EF82B7"><circle cx="803.3" cy="898.1" r="4.65"/><circle cx="814.2" cy="905.6" r="4.65"/></g>
<g fill="#9B48A4"><circle cx="900.4" cy="834.7" r="4.65"/><circle cx="873.7" cy="875.5" r="4.65"/></g>
<g fill="#45B049"><circle cx="876.8" cy="808" r="4.65"/></g>
<g fill="#9B48A4"><circle cx="863.5" cy="749.1" r="4.65"/></g>
<g fill="#EF82B7"><circle cx="854.2" cy="865.4" r="4.65"/></g>
<g fill="#9B48A4"><circle cx="875.1" cy="834.7" r="4.65"/></g>
<g fill="#EF82B7"><circle cx="796.3" cy="900.6" r="4.65"/><circle cx="824.5" cy="815.5" r="4.65"/></g>
<g fill="#9B48A4"><circle cx="829" cy="729.9" r="4.65"/><circle cx="862.5" cy="741.5" r="4.65"/></g>
<g fill="#EF82B7"><circle cx="840.6" cy="844.5" r="4.65"/></g>
<g fill="#45B049"><circle cx="846" cy="772.1" r="4.65"/><circle cx="856.8" cy="879.4" r="4.65"/></g>
<g fill="#9B48A4"><circle cx="848.3" cy="762.6" r="4.65"/></g>
<g fill="#45B049"><circle cx="858" cy="853.7" r="4.65"/></g>
<g fill="#EF82B7"><circle cx="837.2" cy="882.3" r="4.65"/><circle cx="796.8" cy="898.3" r="4.65"/></g>
<g fill="#45B049"><circle cx="897.7" cy="925.2" r="4.65"/><circle cx="844" cy="725.8" r="4.65"/></g>
<g fill="#9B48A4"><circle cx="790" cy="858" r="4.65"/></g>
<g fill="#45B049"><circle cx="838.3" cy="907" r="4.65"/></g>
<g fill="#9B48A4"><circle cx="827.4" cy="751.7" r="4.65"/><circle cx="868" cy="860" r="4.65"/><circle cx="856" cy="723" r="4.65"/></g>
<g fill="#45B049"><circle cx="822.3" cy="838.6" r="4.65"/><circle cx="865.1" cy="862.1" r="4.65"/></g>
<g fill="#EF82B7"><circle cx="822.6" cy="906" r="4.65"/><circle cx="818.2" cy="850" r="4.65"/></g>
<g fill="#9B48A4"><circle cx="869.4" cy="797.9" r="4.65"/><circle cx="912.9" cy="885" r="4.65"/></g>
<g fill="#45B049"><circle cx="908.1" cy="877.5" r="4.65"/><circle cx="861.6" cy="941.7" r="4.65"/><circle cx="883.5" cy="915.8" r="4.65"/></g>
<g fill="#9B48A4"><circle cx="836" cy="761.8" r="4.65"/><circle cx="821.3" cy="793.5" r="4.65"/></g>
<g fill="#45B049"><circle cx="863.6" cy="791" r="4.65"/></g>
<g fill="#9B48A4"><circle cx="856.4" cy="763.6" r="4.65"/><circle cx="882.8" cy="793.6" r="4.65"/><circle cx="885.4" cy="767.5" r="4.65"/><circle cx="841.5" cy="804" r="4.65"/><circle cx="875.6" cy="820.3" r="4.65"/><circle cx="861.4" cy="793.1" r="4.65"/></g>
<g fill="#45B049"><circle cx="863.6" cy="866.7" r="4.65"/><circle cx="841.3" cy="790.3" r="4.65"/></g>
<g fill="#9B48A4"><circle cx="836.2" cy="722.1" r="4.65"/><circle cx="879.1" cy="880.9" r="4.65"/></g>
<g fill="#45B049"><circle cx="893.4" cy="829" r="4.65"/></g>
<g fill="#9B48A4"><circle cx="862.3" cy="765.7" r="4.65"/></g>
<g fill="#45B049"><circle cx="883.5" cy="872.1" r="4.65"/></g>
<g fill="#9B48A4"><circle cx="885.9" cy="820.9" r="4.65"/><circle cx="865.1" cy="825.3" r="4.65"/></g>
<g fill="#EF82B7"><circle cx="819.1" cy="901.1" r="4.65"/></g>
<g fill="#9B48A4"><circle cx="874.6" cy="842.4" r="4.65"/></g>
<g fill="#E51F26"><circle cx="951.1" cy="1066.6" r="4.65"/><circle cx="967.4" cy="1084.7" r="4.65"/><circle cx="973.8" cy="1074.4" r="4.65"/><circle cx="954.6" cy="1079.6" r="4.65"/><circle cx="972.5" cy="1069.6" r="4.65"/><circle cx="947.7" cy="1071.6" r="4.65"/><circle cx="948.1" cy="1085.5" r="4.65"/><circle cx="948.9" cy="1075.1" r="4.65"/><circle cx="948.4" cy="1071.3" r="4.65"/><circle cx="946.2" cy="1076.1" r="4.65"/><circle cx="967" cy="1063.8" r="4.65"/><circle cx="946.8" cy="1070.9" r="4.65"/><circle cx="956.5" cy="1071.6" r="4.65"/><circle cx="948.8" cy="1079.1" r="4.65"/><circle cx="953.1" cy="1062.4" r="4.65"/><circle cx="960.3" cy="1076.9" r="4.65"/><circle cx="966.9" cy="1058.3" r="4.65"/><circle cx="950.9" cy="1079.2" r="4.65"/><circle cx="948.4" cy="1067.8" r="4.65"/><circle cx="969.7" cy="1076.2" r="4.65"/><circle cx="955.3" cy="1078.4" r="4.65"/><circle cx="950.3" cy="1059.9" r="4.65"/><circle cx="963.7" cy="1068.5" r="4.65"/><circle cx="956.3" cy="1061.5" r="4.65"/><circle cx="959.8" cy="1088.2" r="4.65"/><circle cx="951.3" cy="1077.6" r="4.65"/><circle cx="954.4" cy="1086.8" r="4.65"/><circle cx="957.8" cy="1081.3" r="4.65"/><circle cx="955.9" cy="1087.4" r="4.65"/><circle cx="954.4" cy="1074.3" r="4.65"/><circle cx="964.3" cy="1065.9" r="4.65"/><circle cx="948.7" cy="1084" r="4.65"/><circle cx="964.9" cy="1069.1" r="4.65"/><circle cx="943" cy="1067.9" r="4.65"/><circle cx="953.5" cy="1062.3" r="4.65"/><circle cx="966.2" cy="1068" r="4.65"/><circle cx="952.4" cy="1081" r="4.65"/><circle cx="966.9" cy="1078.6" r="4.65"/><circle cx="951.4" cy="1086.2" r="4.65"/><circle cx="964.3" cy="1086.2" r="4.65"/><circle cx="967.3" cy="1062" r="4.65"/><circle cx="952.9" cy="1066.4" r="4.65"/><circle cx="967.2" cy="1086.1" r="4.65"/><circle cx="948.7" cy="1058" r="4.65"/><circle cx="962.6" cy="1083.7" r="4.65"/><circle cx="964.5" cy="1056.9" r="4.65"/><circle cx="949.2" cy="1070.6" r="4.65"/><circle cx="958.6" cy="1073.2" r="4.65"/><circle cx="957.1" cy="1062.6" r="4.65"/><circle cx="967.1" cy="1073.5" r="4.65"/><circle cx="946" cy="1074.6" r="4.65"/><circle cx="947.7" cy="1070.6" r="4.65"/><circle cx="962" cy="1087.8" r="4.65"/><circle cx="966.7" cy="1074" r="4.65"/><circle cx="956.3" cy="1076.1" r="4.65"/><circle cx="948.3" cy="1080.7" r="4.65"/><circle cx="971" cy="1078.1" r="4.65"/><circle cx="960.9" cy="1083.4" r="4.65"/><circle cx="970.5" cy="1070.4" r="4.65"/><circle cx="952.2" cy="1081.4" r="4.65"/><circle cx="973.3" cy="1073.3" r="4.65"/><circle cx="954.4" cy="1059.3" r="4.65"/><circle cx="949.6" cy="1070.1" r="4.65"/><circle cx="973.2" cy="1069.2" r="4.65"/><circle cx="955" cy="1086.4" r="4.65"/><circle cx="952.4" cy="1054.7" r="4.65"/><circle cx="955" cy="1064.8" r="4.65"/><circle cx="945.3" cy="1071.8" r="4.65"/><circle cx="946.7" cy="1070.6" r="4.65"/><circle cx="944.9" cy="1064.8" r="4.65"/><circle cx="968.5" cy="1065.6" r="4.65"/><circle cx="966.5" cy="1056.7" r="4.65"/><circle cx="960.1" cy="1085.3" r="4.65"/><circle cx="949.2" cy="1067.5" r="4.65"/><circle cx="957.2" cy="1087.8" r="4.65"/><circle cx="960.4" cy="1059.1" r="4.65"/><circle cx="960" cy="1088.6" r="4.65"/><circle cx="955.1" cy="1074.6" r="4.65"/><circle cx="953.9" cy="1081.8" r="4.65"/><circle cx="959.9" cy="1066.9" r="4.65"/><circle cx="952.2" cy="1062.1" r="4.65"/><circle cx="958.9" cy="1086.6" r="4.65"/><circle cx="957" cy="1058.6" r="4.65"/><circle cx="958.8" cy="1078.9" r="4.65"/><circle cx="962.9" cy="1074.5" r="4.65"/><circle cx="952.3" cy="1065.5" r="4.65"/><circle cx="966.8" cy="1055.7" r="4.65"/><circle cx="967.9" cy="1083.2" r="4.65"/><circle cx="964.9" cy="1075.1" r="4.65"/><circle cx="966.1" cy="1073.6" r="4.65"/><circle cx="967.2" cy="1087.4" r="4.65"/><circle cx="953.7" cy="1066.7" r="4.65"/><circle cx="975.3" cy="1070.2" r="4.65"/><circle cx="963.7" cy="1059.5" r="4.65"/><circle cx="952.5" cy="1058.9" r="4.65"/><circle cx="954.9" cy="1068.3" r="4.65"/><circle cx="955.1" cy="1085" r="4.65"/><circle cx="947.4" cy="1079.1" r="4.65"/><circle cx="960.7" cy="1052.9" r="4.65"/><circle cx="975.6" cy="1067" r="4.65"/><circle cx="956.4" cy="1063.3" r="4.65"/><circle cx="962.2" cy="1078.4" r="4.65"/><circle cx="965.6" cy="1081.8" r="4.65"/><circle cx="952.7" cy="1057.3" r="4.65"/><circle cx="960.1" cy="1059.6" r="4.65"/><circle cx="964.7" cy="1062.7" r="4.65"/><circle cx="972.8" cy="1062.5" r="4.65"/><circle cx="962.8" cy="1062.5" r="4.65"/><circle cx="966.1" cy="1071.7" r="4.65"/><circle cx="946.7" cy="1058.7" r="4.65"/><circle cx="955.2" cy="1073.6" r="4.65"/><circle cx="972.1" cy="1065.8" r="4.65"/><circle cx="958.2" cy="1061" r="4.65"/><circle cx="961.1" cy="1074.9" r="4.65"/><circle cx="955.8" cy="1083.5" r="4.65"/><circle cx="953.2" cy="1072.3" r="4.65"/><circle cx="967.8" cy="1086.5" r="4.65"/><circle cx="959.2" cy="1058.3" r="4.65"/><circle cx="945.3" cy="1078.7" r="4.65"/><circle cx="956.2" cy="1057" r="4.65"/><circle cx="946.2" cy="1062" r="4.65"/><circle cx="960" cy="1054.7" r="4.65"/><circle cx="950.6" cy="1060.2" r="4.65"/><circle cx="965.1" cy="1066.6" r="4.65"/><circle cx="955.7" cy="1074" r="4.65"/><circle cx="947.1" cy="1084.1" r="4.65"/><circle cx="961.7" cy="1072.7" r="4.65"/><circle cx="952.6" cy="1071.8" r="4.65"/><circle cx="965.8" cy="1066.9" r="4.65"/><circle cx="962.8" cy="1056.4" r="4.65"/><circle cx="953.4" cy="1085.7" r="4.65"/><circle cx="947" cy="1073.9" r="4.65"/><circle cx="963.7" cy="1070.4" r="4.65"/><circle cx="972.2" cy="1072.9" r="4.65"/><circle cx="972.8" cy="1060.6" r="4.65"/><circle cx="953.7" cy="1075.3" r="4.65"/><circle cx="942.7" cy="1074.2" r="4.65"/><circle cx="956.9" cy="1068.3" r="4.65"/><circle cx="949.8" cy="1071.5" r="4.65"/><circle cx="962.1" cy="1053.9" r="4.65"/><circle cx="946.2" cy="1082.6" r="4.65"/><circle cx="949.2" cy="1075.2" r="4.65"/><circle cx="959.3" cy="1088.7" r="4.65"/><circle cx="957.7" cy="1066.9" r="4.65"/><circle cx="960" cy="1078.6" r="4.65"/><circle cx="974.5" cy="1068.6" r="4.65"/><circle cx="954.1" cy="1063.9" r="4.65"/><circle cx="965.9" cy="1068.3" r="4.65"/><circle cx="972.9" cy="1080.7" r="4.65"/><circle cx="942.9" cy="1076.3" r="4.65"/><circle cx="958.3" cy="1070.8" r="4.65"/><circle cx="967.5" cy="1087.3" r="4.65"/><circle cx="953.2" cy="1059.4" r="4.65"/><circle cx="961" cy="1066.6" r="4.65"/><circle cx="951.4" cy="1075.1" r="4.65"/><circle cx="960.5" cy="1070.7" r="4.65"/><circle cx="962.1" cy="1063.8" r="4.65"/><circle cx="963.3" cy="1063.3" r="4.65"/><circle cx="952.4" cy="1074.2" r="4.65"/><circle cx="956" cy="1078.6" r="4.65"/><circle cx="959.5" cy="1059.1" r="4.65"/><circle cx="954.3" cy="1075" r="4.65"/><circle cx="958.2" cy="1079.9" r="4.65"/><circle cx="951.5" cy="1056.4" r="4.65"/><circle cx="965.3" cy="1080.1" r="4.65"/><circle cx="955.2" cy="1061.6" r="4.65"/><circle cx="968.5" cy="1073.6" r="4.65"/><circle cx="953.9" cy="1067.1" r="4.65"/><circle cx="960.4" cy="1055" r="4.65"/><circle cx="958.2" cy="1065.9" r="4.65"/><circle cx="962.5" cy="1058.4" r="4.65"/><circle cx="947.1" cy="1084.5" r="4.65"/><circle cx="961.4" cy="1054.2" r="4.65"/><circle cx="964.5" cy="1078.1" r="4.65"/><circle cx="958" cy="1052.6" r="4.65"/><circle cx="950.6" cy="1081" r="4.65"/><circle cx="951.5" cy="1080.5" r="4.65"/><circle cx="959" cy="1068.1" r="4.65"/><circle cx="967.4" cy="1087.3" r="4.65"/><circle cx="956.9" cy="1089.8" r="4.65"/><circle cx="973" cy="1075.3" r="4.65"/><circle cx="967" cy="1086" r="4.65"/><circle cx="949.1" cy="1061.6" r="4.65"/><circle cx="966.5" cy="1084.9" r="4.65"/><circle cx="972.9" cy="1081.8" r="4.65"/><circle cx="951.5" cy="1072.5" r="4.65"/><circle cx="944.9" cy="1068.9" r="4.65"/><circle cx="957.2" cy="1074.7" r="4.65"/><circle cx="970.9" cy="1074.4" r="4.65"/><circle cx="950.4" cy="1057.7" r="4.65"/><circle cx="975.8" cy="1068.3" r="4.65"/><circle cx="956.8" cy="1087.1" r="4.65"/><circle cx="953" cy="1078.7" r="4.65"/><circle cx="965.6" cy="1072.3" r="4.65"/><circle cx="961" cy="1064.7" r="4.65"/><circle cx="949.5" cy="1065.8" r="4.65"/><circle cx="957.9" cy="1081.8" r="4.65"/><circle cx="965" cy="1082.5" r="4.65"/><circle cx="955.9" cy="1061.3" r="4.65"/><circle cx="946.1" cy="1075.7" r="4.65"/><circle cx="949.7" cy="1069" r="4.65"/><circle cx="958.6" cy="1039.7" r="4.65"/><circle cx="964.6" cy="1034.6" r="4.65"/><circle cx="972.3" cy="1089.8" r="4.65"/><circle cx="962.8" cy="1026.5" r="4.65"/><circle cx="958.2" cy="1063.8" r="4.65"/><circle cx="946.3" cy="1033.3" r="4.65"/><circle cx="964.2" cy="1027.6" r="4.65"/><circle cx="972.7" cy="1067.9" r="4.65"/><circle cx="948.1" cy="1067" r="4.65"/><circle cx="949.2" cy="1050.8" r="4.65"/><circle cx="946.7" cy="1087.9" r="4.65"/><circle cx="964.6" cy="1079.5" r="4.65"/><circle cx="963.6" cy="1042.7" r="4.65"/><circle cx="949" cy="1084.9" r="4.65"/><circle cx="955.5" cy="1026.4" r="4.65"/><circle cx="955.9" cy="1058.1" r="4.65"/><circle cx="951.1" cy="1029.4" r="4.65"/><circle cx="965" cy="1092.1" r="4.65"/><circle cx="961.8" cy="1090.3" r="4.65"/><circle cx="937.5" cy="1063.1" r="4.65"/><circle cx="974.1" cy="1066.3" r="4.65"/><circle cx="954" cy="1059.8" r="4.65"/><circle cx="948.9" cy="1059.4" r="4.65"/><circle cx="962.5" cy="1027.1" r="4.65"/><circle cx="959.1" cy="1049.8" r="4.65"/><circle cx="964.2" cy="1070.1" r="4.65"/><circle cx="949.2" cy="1082" r="4.65"/><circle cx="962.5" cy="1078.8" r="4.65"/><circle cx="968" cy="1049.8" r="4.65"/><circle cx="962" cy="1083.5" r="4.65"/><circle cx="963" cy="1071.8" r="4.65"/><circle cx="968.6" cy="1056.8" r="4.65"/><circle cx="941" cy="1084.4" r="4.65"/><circle cx="960" cy="1092.9" r="4.65"/><circle cx="970.4" cy="1039.9" r="4.65"/><circle cx="962.2" cy="1074.8" r="4.65"/><circle cx="938.1" cy="1079.8" r="4.65"/><circle cx="963.9" cy="1063.8" r="4.65"/><circle cx="968.9" cy="1034.7" r="4.65"/><circle cx="939.7" cy="1083.5" r="4.65"/><circle cx="959.5" cy="1029.3" r="4.65"/><circle cx="975.9" cy="1074.8" r="4.65"/><circle cx="965.2" cy="1079.7" r="4.65"/><circle cx="945.6" cy="1037.2" r="4.65"/><circle cx="958.4" cy="1087" r="4.65"/><circle cx="961.2" cy="1045.3" r="4.65"/><circle cx="959.6" cy="1083.3" r="4.65"/><circle cx="962.2" cy="1043.6" r="4.65"/><circle cx="943.1" cy="1040.4" r="4.65"/><circle cx="936.7" cy="1080.8" r="4.65"/><circle cx="956.1" cy="1090.7" r="4.65"/><circle cx="945.2" cy="1041.1" r="4.65"/><circle cx="953.7" cy="1026.3" r="4.65"/><circle cx="958.2" cy="1049.8" r="4.65"/><circle cx="953.6" cy="1087.7" r="4.65"/><circle cx="954.2" cy="1066.3" r="4.65"/><circle cx="950.5" cy="1052.2" r="4.65"/><circle cx="957.1" cy="1066.3" r="4.65"/><circle cx="953.3" cy="1075" r="4.65"/><circle cx="970.5" cy="1072.3" r="4.65"/><circle cx="955.3" cy="1037.2" r="4.65"/><circle cx="937.7" cy="1079.3" r="4.65"/><circle cx="940.5" cy="1045.2" r="4.65"/><circle cx="975.8" cy="1081.2" r="4.65"/><circle cx="950.7" cy="1029.4" r="4.65"/><circle cx="946.9" cy="1038.8" r="4.65"/><circle cx="937.6" cy="1073.8" r="4.65"/><circle cx="957.7" cy="1055.5" r="4.65"/><circle cx="946.6" cy="1060.6" r="4.65"/><circle cx="943.8" cy="1090.6" r="4.65"/><circle cx="943.6" cy="1060.9" r="4.65"/><circle cx="939.3" cy="1079.5" r="4.65"/><circle cx="974.7" cy="1056.2" r="4.65"/><circle cx="972.7" cy="1086.3" r="4.65"/><circle cx="973.7" cy="1078.9" r="4.65"/><circle cx="949.8" cy="1077.2" r="4.65"/><circle cx="945.2" cy="1073" r="4.65"/><circle cx="942.5" cy="1088.6" r="4.65"/><circle cx="958.3" cy="1092.1" r="4.65"/><circle cx="952.2" cy="1054.9" r="4.65"/><circle cx="940.2" cy="1087" r="4.65"/><circle cx="940.3" cy="1057.6" r="4.65"/><circle cx="971.7" cy="1044.5" r="4.65"/><circle cx="966.9" cy="1089.9" r="4.65"/><circle cx="943.9" cy="1058.3" r="4.65"/><circle cx="970.9" cy="1067.1" r="4.65"/><circle cx="942.6" cy="1085.5" r="4.65"/><circle cx="954.2" cy="1091.5" r="4.65"/><circle cx="962.5" cy="1050.9" r="4.65"/><circle cx="929.4" cy="1049.4" r="4.65"/><circle cx="935.5" cy="1042.7" r="4.65"/><circle cx="946" cy="1026" r="4.65"/><circle cx="952" cy="1031" r="4.65"/><circle cx="958" cy="1029" r="4.65"/><circle cx="922" cy="1060.2" r="4.65"/><circle cx="930" cy="1059.5" r="4.65"/><circle cx="909.9" cy="1069" r="4.65"/><circle cx="920.7" cy="1065.6" r="4.65"/><circle cx="923.4" cy="1073.7" r="4.65"/><circle cx="932" cy="1073" r="4.65"/><circle cx="934" cy="1080.4" r="4.65"/><circle cx="910.5" cy="1080.4" r="4.65"/><circle cx="916.6" cy="1081.8" r="4.65"/><circle cx="903.1" cy="1091" r="4.65"/><circle cx="912.6" cy="1090" r="4.65"/><circle cx="918" cy="1094" r="4.65"/><circle cx="892.3" cy="1101.8" r="4.65"/><circle cx="943.6" cy="1104" r="4.65"/><circle cx="978.7" cy="1085.8" r="4.65"/><circle cx="925" cy="1086" r="4.65"/><circle cx="929" cy="1090" r="4.65"/><circle cx="916" cy="1010" r="4.65"/><circle cx="919" cy="1013" r="4.65"/><circle cx="913" cy="982" r="4.65"/></g>
<g fill="#F6821F"><circle cx="968.1" cy="1045.3" r="4.65"/><circle cx="906.1" cy="966.6" r="4.65"/><circle cx="953" cy="1019.2" r="4.65"/><circle cx="916.9" cy="950.5" r="4.65"/><circle cx="934" cy="1001.9" r="4.65"/><circle cx="937.5" cy="988.3" r="4.65"/><circle cx="971.3" cy="1051.5" r="4.65"/><circle cx="918.8" cy="952.6" r="4.65"/><circle cx="931.5" cy="996.7" r="4.65"/><circle cx="923.8" cy="945.9" r="4.65"/><circle cx="960.8" cy="1013.8" r="4.65"/><circle cx="940.2" cy="982" r="4.65"/><circle cx="946.5" cy="999.6" r="4.65"/><circle cx="928.9" cy="988.2" r="4.65"/><circle cx="926" cy="976.1" r="4.65"/><circle cx="900.6" cy="942.8" r="4.65"/><circle cx="899.1" cy="935.5" r="4.65"/><circle cx="923.6" cy="976.8" r="4.65"/><circle cx="940" cy="1004.6" r="4.65"/><circle cx="936" cy="963.7" r="4.65"/><circle cx="941.4" cy="1017.6" r="4.65"/><circle cx="936.9" cy="979.2" r="4.65"/><circle cx="919" cy="970.7" r="4.65"/><circle cx="958" cy="1033.8" r="4.65"/><circle cx="919.3" cy="959.6" r="4.65"/><circle cx="955.5" cy="1002.6" r="4.65"/><circle cx="925.3" cy="992.5" r="4.65"/><circle cx="935.5" cy="986.8" r="4.65"/><circle cx="950.5" cy="986.9" r="4.65"/><circle cx="945.9" cy="1014.7" r="4.65"/><circle cx="934.9" cy="994.4" r="4.65"/><circle cx="914.2" cy="957.9" r="4.65"/><circle cx="925.9" cy="994.6" r="4.65"/><circle cx="943.5" cy="1010.8" r="4.65"/><circle cx="917.2" cy="951.2" r="4.65"/><circle cx="926.5" cy="958.9" r="4.65"/><circle cx="904" cy="946.6" r="4.65"/><circle cx="945.4" cy="1009" r="4.65"/><circle cx="934.6" cy="962.6" r="4.65"/><circle cx="964" cy="1015.9" r="4.65"/><circle cx="912.4" cy="942.2" r="4.65"/><circle cx="952" cy="986.4" r="4.65"/><circle cx="969.7" cy="1043.6" r="4.65"/><circle cx="941.6" cy="1005.2" r="4.65"/><circle cx="925.4" cy="979.7" r="4.65"/><circle cx="967.2" cy="1042" r="4.65"/><circle cx="942.3" cy="1010.6" r="4.65"/><circle cx="972.3" cy="1052" r="4.65"/><circle cx="928.5" cy="953.8" r="4.65"/><circle cx="934.7" cy="972" r="4.65"/><circle cx="923.9" cy="982.9" r="4.65"/><circle cx="916.3" cy="952.7" r="4.65"/><circle cx="951.2" cy="1012.3" r="4.65"/><circle cx="969.9" cy="1051.6" r="4.65"/><circle cx="923.8" cy="979.5" r="4.65"/><circle cx="933.9" cy="995.9" r="4.65"/><circle cx="961" cy="1021.3" r="4.65"/><circle cx="935.8" cy="983.1" r="4.65"/><circle cx="938.7" cy="982.3" r="4.65"/><circle cx="941.4" cy="995.1" r="4.65"/><circle cx="965" cy="1021.1" r="4.65"/><circle cx="923.3" cy="975.9" r="4.65"/><circle cx="903.2" cy="939.3" r="4.65"/><circle cx="924.3" cy="969.4" r="4.65"/><circle cx="942.8" cy="976.7" r="4.65"/><circle cx="931.9" cy="955.3" r="4.65"/><circle cx="907.6" cy="938.9" r="4.65"/><circle cx="914.8" cy="963.3" r="4.65"/><circle cx="916.8" cy="974.3" r="4.65"/><circle cx="945.3" cy="989.7" r="4.65"/><circle cx="921.6" cy="981.5" r="4.65"/><circle cx="908.6" cy="953.8" r="4.65"/><circle cx="926.9" cy="947.9" r="4.65"/><circle cx="918.4" cy="951.7" r="4.65"/><circle cx="963.3" cy="1023.4" r="4.65"/><circle cx="969.7" cy="1033.7" r="4.65"/><circle cx="955.2" cy="997" r="4.65"/><circle cx="908.7" cy="968.8" r="4.65"/><circle cx="946.7" cy="990.6" r="4.65"/><circle cx="916.6" cy="972.9" r="4.65"/><circle cx="926.8" cy="967.3" r="4.65"/><circle cx="927.3" cy="951.4" r="4.65"/><circle cx="966.7" cy="1039.1" r="4.65"/><circle cx="957.8" cy="1009" r="4.65"/><circle cx="952.9" cy="1028.3" r="4.65"/><circle cx="961" cy="1017.8" r="4.65"/><circle cx="972.4" cy="1055.8" r="4.65"/><circle cx="914.2" cy="978.9" r="4.65"/><circle cx="925.6" cy="953.6" r="4.65"/><circle cx="956.8" cy="1008.4" r="4.65"/><circle cx="942" cy="982.7" r="4.65"/><circle cx="929.6" cy="987.3" r="4.65"/><circle cx="940.7" cy="980.9" r="4.65"/><circle cx="899.5" cy="938.4" r="4.65"/><circle cx="953.5" cy="1002.3" r="4.65"/><circle cx="940.3" cy="973.6" r="4.65"/><circle cx="953.5" cy="1001.4" r="4.65"/><circle cx="950.1" cy="1006.9" r="4.65"/><circle cx="951.6" cy="1010.1" r="4.65"/><circle cx="966" cy="1029.8" r="4.65"/><circle cx="920.5" cy="990.3" r="4.65"/><circle cx="913" cy="939.2" r="4.65"/><circle cx="927.8" cy="1001.7" r="4.65"/><circle cx="921.8" cy="955.1" r="4.65"/><circle cx="936" cy="977" r="4.65"/><circle cx="906.1" cy="952.6" r="4.65"/><circle cx="949.6" cy="1003.5" r="4.65"/><circle cx="930.6" cy="1004.8" r="4.65"/><circle cx="916.8" cy="954" r="4.65"/><circle cx="969.2" cy="1031.9" r="4.65"/><circle cx="904.3" cy="937" r="4.65"/><circle cx="928.8" cy="971.7" r="4.65"/><circle cx="935.6" cy="1012" r="4.65"/><circle cx="932.1" cy="980.8" r="4.65"/><circle cx="939.3" cy="1003.3" r="4.65"/><circle cx="957.6" cy="1010.2" r="4.65"/><circle cx="955.7" cy="998.4" r="4.65"/><circle cx="907.3" cy="945.4" r="4.65"/><circle cx="930.8" cy="959.4" r="4.65"/><circle cx="902.7" cy="942.8" r="4.65"/><circle cx="953.5" cy="1030.4" r="4.65"/><circle cx="917.4" cy="985.4" r="4.65"/><circle cx="935.2" cy="996.4" r="4.65"/><circle cx="905" cy="940.1" r="4.65"/><circle cx="973.9" cy="1058" r="4.65"/><circle cx="923.7" cy="953" r="4.65"/><circle cx="929.2" cy="998.8" r="4.65"/><circle cx="922" cy="977.1" r="4.65"/><circle cx="961.2" cy="1033.8" r="4.65"/><circle cx="926.4" cy="991.5" r="4.65"/><circle cx="918.7" cy="946.1" r="4.65"/><circle cx="957" cy="1010.9" r="4.65"/><circle cx="942.2" cy="976.2" r="4.65"/><circle cx="931.6" cy="968.2" r="4.65"/><circle cx="970.6" cy="1048.1" r="4.65"/><circle cx="936.4" cy="993.7" r="4.65"/><circle cx="952.4" cy="1005.4" r="4.65"/><circle cx="920.9" cy="973.1" r="4.65"/><circle cx="938.2" cy="987.3" r="4.65"/><circle cx="922" cy="947.4" r="4.65"/><circle cx="912.7" cy="979.8" r="4.65"/><circle cx="911.7" cy="974.2" r="4.65"/><circle cx="928.5" cy="972.1" r="4.65"/><circle cx="903.6" cy="947" r="4.65"/><circle cx="912.3" cy="954.9" r="4.65"/><circle cx="912.9" cy="974.3" r="4.65"/><circle cx="956" cy="1030.2" r="4.65"/><circle cx="929.5" cy="981.4" r="4.65"/><circle cx="953.6" cy="1022.3" r="4.65"/><circle cx="940.8" cy="997.9" r="4.65"/><circle cx="906.1" cy="960.8" r="4.65"/><circle cx="907.4" cy="953.5" r="4.65"/><circle cx="912.8" cy="977.9" r="4.65"/><circle cx="933.3" cy="981" r="4.65"/><circle cx="923.2" cy="976.1" r="4.65"/><circle cx="951.9" cy="1009.2" r="4.65"/><circle cx="939.8" cy="986.7" r="4.65"/><circle cx="952.8" cy="999.2" r="4.65"/><circle cx="944.5" cy="983" r="4.65"/><circle cx="942.9" cy="990.7" r="4.65"/><circle cx="910.7" cy="972.6" r="4.65"/><circle cx="919" cy="980.4" r="4.65"/><circle cx="935.2" cy="1010.5" r="4.65"/><circle cx="951.3" cy="995.6" r="4.65"/><circle cx="928.1" cy="973.5" r="4.65"/><circle cx="909.3" cy="949" r="4.65"/><circle cx="928.8" cy="975.6" r="4.65"/><circle cx="924.6" cy="984.6" r="4.65"/><circle cx="929.2" cy="965.9" r="4.65"/><circle cx="956.5" cy="1029.8" r="4.65"/><circle cx="900.3" cy="945.2" r="4.65"/><circle cx="943.9" cy="1012.1" r="4.65"/><circle cx="929.5" cy="989.2" r="4.65"/><circle cx="935.4" cy="961.1" r="4.65"/><circle cx="929" cy="984.6" r="4.65"/><circle cx="919.4" cy="959.9" r="4.65"/><circle cx="917" cy="973.6" r="4.65"/><circle cx="957.2" cy="1008.7" r="4.65"/><circle cx="942.4" cy="1004.4" r="4.65"/><circle cx="908.4" cy="958.8" r="4.65"/><circle cx="939" cy="974.7" r="4.65"/><circle cx="968.5" cy="1041.6" r="4.65"/><circle cx="948.5" cy="983.5" r="4.65"/><circle cx="937.5" cy="995.6" r="4.65"/><circle cx="931.3" cy="956.9" r="4.65"/><circle cx="949" cy="986.3" r="4.65"/><circle cx="925.8" cy="987.7" r="4.65"/><circle cx="970.2" cy="1046.3" r="4.65"/><circle cx="903.9" cy="938.6" r="4.65"/><circle cx="927.2" cy="964.4" r="4.65"/><circle cx="971.9" cy="1043.4" r="4.65"/><circle cx="964.3" cy="1041.6" r="4.65"/><circle cx="900.4" cy="953.2" r="4.65"/><circle cx="910.6" cy="948.5" r="4.65"/><circle cx="945.9" cy="984.5" r="4.65"/><circle cx="950.7" cy="1027.3" r="4.65"/><circle cx="933.3" cy="992.3" r="4.65"/><circle cx="916.3" cy="949.3" r="4.65"/><circle cx="970.5" cy="1034.2" r="4.65"/><circle cx="910.6" cy="941" r="4.65"/><circle cx="920" cy="965.5" r="4.65"/><circle cx="919.5" cy="981.4" r="4.65"/><circle cx="972.1" cy="1055.5" r="4.65"/><circle cx="899.5" cy="933.3" r="4.65"/><circle cx="919.1" cy="947.5" r="4.65"/><circle cx="915.9" cy="973.1" r="4.65"/><circle cx="950.6" cy="1012.4" r="4.65"/><circle cx="929.9" cy="975" r="4.65"/><circle cx="940.3" cy="1012.8" r="4.65"/><circle cx="974.7" cy="1053" r="4.65"/><circle cx="901.8" cy="913.1" r="4.65"/><circle cx="899.7" cy="930" r="4.65"/><circle cx="884.9" cy="945.1" r="4.65"/><circle cx="893.9" cy="1054.4" r="4.65"/><circle cx="947.6" cy="1076.4" r="4.65"/><circle cx="937.5" cy="1030.5" r="4.65"/><circle cx="864" cy="898.2" r="4.65"/><circle cx="901.8" cy="912.9" r="4.65"/><circle cx="886.9" cy="971.8" r="4.65"/><circle cx="889" cy="966" r="4.65"/><circle cx="911.2" cy="994" r="4.65"/><circle cx="919.3" cy="1007.6" r="4.65"/><circle cx="927.4" cy="1015.7" r="4.65"/><circle cx="921" cy="1008" r="4.65"/><circle cx="945" cy="1048.7" r="4.65"/><circle cx="974" cy="1063" r="4.65"/></g>
</g>
<rect x="654.6" y="696.6" width="338.8" height="425.8" fill="none" stroke="#7a7a7a" stroke-width="1.4"/>
<g stroke="#000" stroke-width="1.9">
<line x1="706.5" y1="1122.4" x2="706.5" y2="1128.9"/>
<line x1="781.1" y1="1122.4" x2="781.1" y2="1128.9"/>
<line x1="854.9" y1="1122.4" x2="854.9" y2="1128.9"/>
<line x1="929.2" y1="1122.4" x2="929.2" y2="1128.9"/>
<line x1="648.1" y1="815.3" x2="654.6" y2="815.3"/>
<line x1="648.1" y1="955.6" x2="654.6" y2="955.6"/>
<line x1="648.1" y1="1096" x2="654.6" y2="1096"/>
</g>
<g class="tk" text-anchor="middle">
<text x="706.5" y="1155.8">−0.4</text>
<text x="781.1" y="1155.8">−0.2</text>
<text x="854.9" y="1155.8">0.0</text>
<text x="929.2" y="1155.8">0.2</text>
</g>
<g class="tk" text-anchor="end">
<text x="643.4" y="827.3">0.25</text>
<text x="643.4" y="967.6">0.00</text>
<text x="643.4" y="1108">−0.25</text>
</g>
<text class="ax" text-anchor="middle" x="823.5" y="1182.9" xml:space="preserve">Axis.1   [21.6%]</text>
<text class="ax" text-anchor="middle" transform="translate(554 910) rotate(-90)" xml:space="preserve">Axis.2   [12.2%]</text>
<text class="ti" x="662" y="679" style="letter-spacing:-0.08px">Unweighted UniFrac</text>
</g>
<g class="panel">
<clipPath id="c4"><rect x="115.9" y="1296.6" width="356.8" height="426.1"/></clipPath>
<g stroke="#fafafa" stroke-width="1" clip-path="url(#c4)">
<line x1="145.6" y1="1296.6" x2="145.6" y2="1722.7"/>
<line x1="223.4" y1="1296.6" x2="223.4" y2="1722.7"/>
<line x1="301.2" y1="1296.6" x2="301.2" y2="1722.7"/>
<line x1="379" y1="1296.6" x2="379" y2="1722.7"/>
<line x1="456.8" y1="1296.6" x2="456.8" y2="1722.7"/>
<line x1="115.9" y1="1380.4" x2="472.7" y2="1380.4"/>
<line x1="115.9" y1="1487.7" x2="472.7" y2="1487.7"/>
<line x1="115.9" y1="1595" x2="472.7" y2="1595"/>
<line x1="115.9" y1="1702.2" x2="472.7" y2="1702.2"/>
</g>
<g stroke="#e8e8e8" stroke-width="1.1" clip-path="url(#c4)">
<line x1="184.5" y1="1296.6" x2="184.5" y2="1722.7"/>
<line x1="262.3" y1="1296.6" x2="262.3" y2="1722.7"/>
<line x1="339.5" y1="1296.6" x2="339.5" y2="1722.7"/>
<line x1="416.9" y1="1296.6" x2="416.9" y2="1722.7"/>
<line x1="115.9" y1="1326.7" x2="472.7" y2="1326.7"/>
<line x1="115.9" y1="1434" x2="472.7" y2="1434"/>
<line x1="115.9" y1="1541.4" x2="472.7" y2="1541.4"/>
<line x1="115.9" y1="1648.7" x2="472.7" y2="1648.7"/>
</g>
<g clip-path="url(#c4)">
<g fill="#B35A25"><circle cx="202.9" cy="1375.7" r="4.65"/><circle cx="230.1" cy="1384.6" r="4.65"/><circle cx="234.4" cy="1384.7" r="4.65"/><circle cx="204.5" cy="1365.3" r="4.65"/><circle cx="191.2" cy="1357" r="4.65"/><circle cx="216.6" cy="1371.1" r="4.65"/><circle cx="149.3" cy="1337.9" r="4.65"/><circle cx="244.8" cy="1395.1" r="4.65"/><circle cx="201.6" cy="1374.8" r="4.65"/><circle cx="212" cy="1370.9" r="4.65"/><circle cx="176.4" cy="1348.1" r="4.65"/><circle cx="182" cy="1358.9" r="4.65"/><circle cx="177.1" cy="1353.7" r="4.65"/><circle cx="182.9" cy="1351.3" r="4.65"/><circle cx="230.3" cy="1389" r="4.65"/><circle cx="146.5" cy="1340.4" r="4.65"/><circle cx="133.1" cy="1336.1" r="4.65"/><circle cx="163.8" cy="1352.6" r="4.65"/><circle cx="176.4" cy="1357.2" r="4.65"/><circle cx="164" cy="1351.7" r="4.65"/><circle cx="150.1" cy="1339.5" r="4.65"/><circle cx="206.5" cy="1377.7" r="4.65"/><circle cx="199.4" cy="1361.8" r="4.65"/><circle cx="152.2" cy="1337.1" r="4.65"/><circle cx="240.9" cy="1389" r="4.65"/><circle cx="208.2" cy="1370.7" r="4.65"/><circle cx="149.1" cy="1340.6" r="4.65"/><circle cx="210.7" cy="1380.5" r="4.65"/><circle cx="207.4" cy="1370.4" r="4.65"/><circle cx="167.8" cy="1348.6" r="4.65"/><circle cx="238.1" cy="1391.2" r="4.65"/><circle cx="199.2" cy="1361.2" r="4.65"/><circle cx="190" cy="1362.7" r="4.65"/><circle cx="199.3" cy="1363.2" r="4.65"/><circle cx="227.3" cy="1386.8" r="4.65"/><circle cx="223.8" cy="1384.6" r="4.65"/><circle cx="185.1" cy="1358.1" r="4.65"/><circle cx="222.7" cy="1386.4" r="4.65"/><circle cx="202.4" cy="1369.1" r="4.65"/><circle cx="162.7" cy="1350.6" r="4.65"/><circle cx="206.1" cy="1372.9" r="4.65"/><circle cx="226.1" cy="1386.9" r="4.65"/><circle cx="230.5" cy="1385.5" r="4.65"/><circle cx="167.5" cy="1348.8" r="4.65"/><circle cx="207.8" cy="1366.5" r="4.65"/><circle cx="223.5" cy="1379.9" r="4.65"/><circle cx="205.1" cy="1373.5" r="4.65"/><circle cx="135.5" cy="1335.9" r="4.65"/><circle cx="166.4" cy="1343.2" r="4.65"/><circle cx="197.9" cy="1360.4" r="4.65"/><circle cx="176.9" cy="1347.9" r="4.65"/><circle cx="177.9" cy="1355.6" r="4.65"/><circle cx="169.2" cy="1348.7" r="4.65"/><circle cx="177.2" cy="1358.3" r="4.65"/><circle cx="173.6" cy="1347" r="4.65"/><circle cx="194.9" cy="1370.6" r="4.65"/><circle cx="218.8" cy="1380.3" r="4.65"/><circle cx="173.2" cy="1352.7" r="4.65"/><circle cx="231.2" cy="1386.4" r="4.65"/><circle cx="191.4" cy="1367.3" r="4.65"/><circle cx="180.6" cy="1353.2" r="4.65"/><circle cx="240.1" cy="1389.1" r="4.65"/><circle cx="239.5" cy="1390" r="4.65"/><circle cx="164" cy="1345" r="4.65"/><circle cx="227.8" cy="1384" r="4.65"/><circle cx="191.1" cy="1358.1" r="4.65"/><circle cx="156.5" cy="1343.8" r="4.65"/><circle cx="205.8" cy="1364.6" r="4.65"/><circle cx="218.4" cy="1375.5" r="4.65"/><circle cx="182.2" cy="1354.9" r="4.65"/><circle cx="224.7" cy="1378.4" r="4.65"/><circle cx="189" cy="1361.1" r="4.65"/><circle cx="146.4" cy="1340.3" r="4.65"/><circle cx="221.6" cy="1385.4" r="4.65"/><circle cx="180.3" cy="1351.8" r="4.65"/><circle cx="185.7" cy="1363.1" r="4.65"/><circle cx="197.9" cy="1369.9" r="4.65"/><circle cx="233.6" cy="1387.4" r="4.65"/><circle cx="197.1" cy="1366.5" r="4.65"/><circle cx="210.3" cy="1378.3" r="4.65"/><circle cx="223.4" cy="1383.9" r="4.65"/><circle cx="233.6" cy="1383.8" r="4.65"/><circle cx="212.9" cy="1368.8" r="4.65"/><circle cx="188.7" cy="1361.8" r="4.65"/><circle cx="176.4" cy="1347.8" r="4.65"/><circle cx="160.1" cy="1340.6" r="4.65"/><circle cx="208.5" cy="1366.3" r="4.65"/><circle cx="177.1" cy="1353.9" r="4.65"/><circle cx="236.9" cy="1390.4" r="4.65"/><circle cx="161.4" cy="1351.1" r="4.65"/><circle cx="203.2" cy="1369.7" r="4.65"/><circle cx="167.3" cy="1344.6" r="4.65"/><circle cx="159.4" cy="1341.7" r="4.65"/><circle cx="223.5" cy="1383.3" r="4.65"/><circle cx="140.6" cy="1339.4" r="4.65"/><circle cx="146.8" cy="1336.6" r="4.65"/><circle cx="243.5" cy="1390" r="4.65"/><circle cx="234.4" cy="1385.9" r="4.65"/><circle cx="157.9" cy="1342.9" r="4.65"/><circle cx="172.7" cy="1353.4" r="4.65"/><circle cx="219.9" cy="1379.1" r="4.65"/><circle cx="203.3" cy="1367.3" r="4.65"/><circle cx="134.3" cy="1332.5" r="4.65"/><circle cx="224.1" cy="1374.3" r="4.65"/><circle cx="189.2" cy="1359.5" r="4.65"/><circle cx="174.5" cy="1348.3" r="4.65"/><circle cx="180.4" cy="1351.3" r="4.65"/><circle cx="157" cy="1341.9" r="4.65"/><circle cx="158.4" cy="1349.8" r="4.65"/><circle cx="188.8" cy="1362.6" r="4.65"/><circle cx="208.9" cy="1375" r="4.65"/><circle cx="186.3" cy="1354.5" r="4.65"/><circle cx="152.8" cy="1337.7" r="4.65"/><circle cx="191.5" cy="1359.2" r="4.65"/><circle cx="175.3" cy="1355.8" r="4.65"/><circle cx="153.5" cy="1347.6" r="4.65"/><circle cx="189.4" cy="1364.4" r="4.65"/><circle cx="169" cy="1355.7" r="4.65"/><circle cx="200.9" cy="1361.1" r="4.65"/><circle cx="215.5" cy="1369" r="4.65"/><circle cx="172.4" cy="1350.3" r="4.65"/><circle cx="169.3" cy="1355.6" r="4.65"/><circle cx="160.6" cy="1346.3" r="4.65"/><circle cx="138.4" cy="1336.5" r="4.65"/><circle cx="234.8" cy="1388" r="4.65"/><circle cx="201.7" cy="1369.9" r="4.65"/><circle cx="230" cy="1384.3" r="4.65"/><circle cx="217" cy="1374.3" r="4.65"/><circle cx="147.1" cy="1338.1" r="4.65"/><circle cx="153.9" cy="1338.2" r="4.65"/><circle cx="184.8" cy="1352.4" r="4.65"/><circle cx="213.7" cy="1371.7" r="4.65"/><circle cx="173.7" cy="1349.8" r="4.65"/><circle cx="224" cy="1382.3" r="4.65"/><circle cx="184.7" cy="1364.2" r="4.65"/><circle cx="223.6" cy="1385.2" r="4.65"/><circle cx="175.1" cy="1348.7" r="4.65"/><circle cx="166.1" cy="1343.3" r="4.65"/><circle cx="225.2" cy="1375.9" r="4.65"/><circle cx="155.8" cy="1348.8" r="4.65"/><circle cx="196.6" cy="1362.9" r="4.65"/><circle cx="169.2" cy="1353.8" r="4.65"/><circle cx="215.4" cy="1371" r="4.65"/><circle cx="228.3" cy="1381.6" r="4.65"/><circle cx="239.2" cy="1389.5" r="4.65"/><circle cx="227.7" cy="1389.2" r="4.65"/><circle cx="193.6" cy="1361.9" r="4.65"/><circle cx="149.8" cy="1341.8" r="4.65"/><circle cx="210.8" cy="1368.9" r="4.65"/><circle cx="175.5" cy="1351.3" r="4.65"/><circle cx="217.8" cy="1373.8" r="4.65"/><circle cx="242.5" cy="1389.5" r="4.65"/><circle cx="223.2" cy="1376.2" r="4.65"/><circle cx="147" cy="1342.8" r="4.65"/><circle cx="170.5" cy="1351.4" r="4.65"/><circle cx="160.4" cy="1340.4" r="4.65"/><circle cx="177.4" cy="1356.7" r="4.65"/><circle cx="188.2" cy="1365.8" r="4.65"/><circle cx="202.5" cy="1373.1" r="4.65"/><circle cx="182.6" cy="1357.3" r="4.65"/><circle cx="173" cy="1350" r="4.65"/><circle cx="207.7" cy="1368.5" r="4.65"/><circle cx="237.6" cy="1385.2" r="4.65"/><circle cx="227.6" cy="1387.6" r="4.65"/><circle cx="223.5" cy="1381.3" r="4.65"/><circle cx="225.3" cy="1375.2" r="4.65"/><circle cx="172.2" cy="1356.4" r="4.65"/><circle cx="226" cy="1377.2" r="4.65"/><circle cx="203" cy="1366.8" r="4.65"/><circle cx="217.1" cy="1373.6" r="4.65"/><circle cx="132.3" cy="1335.2" r="4.65"/><circle cx="256.4" cy="1398.6" r="4.65"/><circle cx="267.2" cy="1406.7" r="4.65"/><circle cx="167.6" cy="1335.2" r="4.65"/><circle cx="181.1" cy="1333.6" r="4.65"/><circle cx="145.8" cy="1352.8" r="4.65"/><circle cx="231.9" cy="1356.1" r="4.65"/><circle cx="231" cy="1375" r="4.65"/><circle cx="232.1" cy="1377.7" r="4.65"/><circle cx="173.4" cy="1362.9" r="4.65"/><circle cx="204.5" cy="1357.5" r="4.65"/><circle cx="191.6" cy="1348.7" r="4.65"/><circle cx="137" cy="1328" r="4.65"/><circle cx="247.7" cy="1394.6" r="4.65"/><circle cx="243" cy="1391.5" r="4.65"/><circle cx="251" cy="1396" r="4.65"/></g>
<g fill="#9B48A4"><circle cx="355.2" cy="1636.1" r="4.65"/></g>
<g fill="#45B049"><circle cx="331" cy="1514.3" r="4.65"/><circle cx="370.2" cy="1581.1" r="4.65"/><circle cx="348" cy="1614.8" r="4.65"/></g>
<g fill="#9B48A4"><circle cx="334.6" cy="1612.7" r="4.65"/></g>
<g fill="#45B049"><circle cx="300.8" cy="1504.6" r="4.65"/><circle cx="320.3" cy="1610.1" r="4.65"/></g>
<g fill="#9B48A4"><circle cx="326.2" cy="1664.3" r="4.65"/></g>
<g fill="#45B049"><circle cx="378.3" cy="1518.3" r="4.65"/></g>
<g fill="#9B48A4"><circle cx="362.6" cy="1617.8" r="4.65"/><circle cx="354" cy="1668.2" r="4.65"/><circle cx="329.7" cy="1627.3" r="4.65"/></g>
<g fill="#45B049"><circle cx="349.3" cy="1636.2" r="4.65"/><circle cx="329" cy="1518.9" r="4.65"/></g>
<g fill="#9B48A4"><circle cx="340.9" cy="1664.1" r="4.65"/></g>
<g fill="#45B049"><circle cx="342.1" cy="1562" r="4.65"/><circle cx="287.2" cy="1479.6" r="4.65"/></g>
<g fill="#9B48A4"><circle cx="315.8" cy="1656.6" r="4.65"/><circle cx="341.1" cy="1676.1" r="4.65"/></g>
<g fill="#45B049"><circle cx="292.2" cy="1548.7" r="4.65"/></g>
<g fill="#9B48A4"><circle cx="338.8" cy="1570.5" r="4.65"/></g>
<g fill="#45B049"><circle cx="355.1" cy="1608.2" r="4.65"/></g>
<g fill="#9B48A4"><circle cx="332.4" cy="1580.4" r="4.65"/></g>
<g fill="#45B049"><circle cx="346.6" cy="1555.5" r="4.65"/><circle cx="341.8" cy="1550.3" r="4.65"/><circle cx="323" cy="1517" r="4.65"/></g>
<g fill="#9B48A4"><circle cx="361" cy="1655.9" r="4.65"/><circle cx="366" cy="1590" r="4.65"/><circle cx="341.8" cy="1591.2" r="4.65"/><circle cx="341.7" cy="1616.9" r="4.65"/><circle cx="318" cy="1629.8" r="4.65"/></g>
<g fill="#45B049"><circle cx="339.2" cy="1544" r="4.65"/><circle cx="346.2" cy="1578.7" r="4.65"/></g>
<g fill="#9B48A4"><circle cx="342.2" cy="1616.9" r="4.65"/><circle cx="324.2" cy="1653.8" r="4.65"/><circle cx="358.1" cy="1618.8" r="4.65"/></g>
<g fill="#45B049"><circle cx="339.2" cy="1500.8" r="4.65"/><circle cx="388.4" cy="1527.1" r="4.65"/></g>
<g fill="#9B48A4"><circle cx="381" cy="1612.8" r="4.65"/></g>
<g fill="#45B049"><circle cx="339.3" cy="1619.1" r="4.65"/></g>
<g fill="#9B48A4"><circle cx="364.5" cy="1654.8" r="4.65"/></g>
<g fill="#45B049"><circle cx="354.8" cy="1497.1" r="4.65"/></g>
<g fill="#9B48A4"><circle cx="352.2" cy="1679.1" r="4.65"/><circle cx="354.2" cy="1636" r="4.65"/></g>
<g fill="#45B049"><circle cx="354" cy="1542.6" r="4.65"/></g>
<g fill="#9B48A4"><circle cx="333.8" cy="1683.3" r="4.65"/><circle cx="332.7" cy="1619.3" r="4.65"/></g>
<g fill="#45B049"><circle cx="351" cy="1585.6" r="4.65"/></g>
<g fill="#9B48A4"><circle cx="370" cy="1598" r="4.65"/></g>
<g fill="#45B049"><circle cx="389.2" cy="1499.2" r="4.65"/></g>
<g fill="#9B48A4"><circle cx="350" cy="1602" r="4.65"/></g>
<g fill="#45B049"><circle cx="333.8" cy="1672.9" r="4.65"/><circle cx="325.7" cy="1616.2" r="4.65"/></g>
<g fill="#9B48A4"><circle cx="356.2" cy="1659.4" r="4.65"/></g>
<g fill="#45B049"><circle cx="302.7" cy="1510.2" r="4.65"/><circle cx="322" cy="1632" r="4.65"/></g>
<g fill="#9B48A4"><circle cx="316.5" cy="1647.1" r="4.65"/><circle cx="329.4" cy="1622.7" r="4.65"/></g>
<g fill="#45B049"><circle cx="312.4" cy="1538.2" r="4.65"/><circle cx="344" cy="1610.4" r="4.65"/><circle cx="341.3" cy="1441.1" r="4.65"/></g>
<g fill="#9B48A4"><circle cx="352.1" cy="1653.1" r="4.65"/><circle cx="314.4" cy="1647.5" r="4.65"/><circle cx="333.9" cy="1674.9" r="4.65"/></g>
<g fill="#45B049"><circle cx="354.1" cy="1610.1" r="4.65"/></g>
<g fill="#9B48A4"><circle cx="369.5" cy="1642.5" r="4.65"/></g>
<g fill="#45B049"><circle cx="382.3" cy="1552.8" r="4.65"/></g>
<g fill="#9B48A4"><circle cx="348.7" cy="1670.9" r="4.65"/></g>
<g fill="#45B049"><circle cx="347.7" cy="1558.9" r="4.65"/></g>
<g fill="#9B48A4"><circle cx="329.4" cy="1643" r="4.65"/></g>
<g fill="#45B049"><circle cx="328.4" cy="1656" r="4.65"/></g>
<g fill="#9B48A4"><circle cx="321" cy="1659.7" r="4.65"/></g>
<g fill="#45B049"><circle cx="335.1" cy="1525.1" r="4.65"/></g>
<g fill="#9B48A4"><circle cx="334.7" cy="1669.9" r="4.65"/></g>
<g fill="#45B049"><circle cx="346.1" cy="1563.2" r="4.65"/><circle cx="341.9" cy="1601" r="4.65"/><circle cx="350.6" cy="1527.1" r="4.65"/><circle cx="389.1" cy="1499.4" r="4.65"/></g>
<g fill="#9B48A4"><circle cx="364.2" cy="1658.6" r="4.65"/><circle cx="316.5" cy="1636.9" r="4.65"/><circle cx="315.1" cy="1650.7" r="4.65"/><circle cx="362.1" cy="1602" r="4.65"/></g>
<g fill="#45B049"><circle cx="340.5" cy="1561" r="4.65"/></g>
<g fill="#9B48A4"><circle cx="317.5" cy="1644.7" r="4.65"/><circle cx="347" cy="1696" r="4.65"/></g>
<g fill="#45B049"><circle cx="340.6" cy="1621" r="4.65"/><circle cx="330.8" cy="1414.4" r="4.65"/><circle cx="350.8" cy="1566.1" r="4.65"/></g>
<g fill="#9B48A4"><circle cx="372.9" cy="1615.5" r="4.65"/></g>
<g fill="#45B049"><circle cx="318.9" cy="1565.6" r="4.65"/><circle cx="393.1" cy="1532.5" r="4.65"/><circle cx="345.5" cy="1554.9" r="4.65"/><circle cx="343.8" cy="1510.5" r="4.65"/><circle cx="358.8" cy="1497.1" r="4.65"/></g>
<g fill="#9B48A4"><circle cx="316.9" cy="1590.5" r="4.65"/><circle cx="366.8" cy="1657.3" r="4.65"/><circle cx="356.9" cy="1642.9" r="4.65"/><circle cx="286.1" cy="1579.5" r="4.65"/><circle cx="315.5" cy="1658.1" r="4.65"/><circle cx="371" cy="1508.6" r="4.65"/><circle cx="336.5" cy="1608.8" r="4.65"/><circle cx="356" cy="1635.8" r="4.65"/><circle cx="336.2" cy="1692.4" r="4.65"/><circle cx="357.4" cy="1603.5" r="4.65"/><circle cx="326.5" cy="1636.2" r="4.65"/></g>
<g fill="#45B049"><circle cx="320.3" cy="1598" r="4.65"/></g>
<g fill="#9B48A4"><circle cx="360" cy="1657.5" r="4.65"/><circle cx="338.2" cy="1679.7" r="4.65"/></g>
<g fill="#45B049"><circle cx="327.1" cy="1485" r="4.65"/><circle cx="347.9" cy="1611.9" r="4.65"/><circle cx="298.9" cy="1505.2" r="4.65"/><circle cx="335.9" cy="1495" r="4.65"/></g>
<g fill="#9B48A4"><circle cx="335.3" cy="1584.5" r="4.65"/></g>
<g fill="#45B049"><circle cx="362.1" cy="1585.8" r="4.65"/><circle cx="344.5" cy="1506.2" r="4.65"/><circle cx="361.5" cy="1507.3" r="4.65"/><circle cx="334.5" cy="1472.9" r="4.65"/><circle cx="404.7" cy="1424.7" r="4.65"/></g>
<g fill="#9B48A4"><circle cx="349.5" cy="1646.5" r="4.65"/><circle cx="363.8" cy="1636.3" r="4.65"/></g>
<g fill="#45B049"><circle cx="320.4" cy="1496.5" r="4.65"/><circle cx="354.3" cy="1607.7" r="4.65"/></g>
<g fill="#9B48A4"><circle cx="348.5" cy="1589.7" r="4.65"/><circle cx="324.3" cy="1583.8" r="4.65"/><circle cx="342" cy="1698" r="4.65"/><circle cx="315.9" cy="1631" r="4.65"/><circle cx="350.5" cy="1612.4" r="4.65"/><circle cx="338.8" cy="1647.2" r="4.65"/><circle cx="339.2" cy="1614.2" r="4.65"/></g>
<g fill="#45B049"><circle cx="339.2" cy="1592.7" r="4.65"/></g>
<g fill="#9B48A4"><circle cx="342.1" cy="1573.7" r="4.65"/></g>
<g fill="#45B049"><circle cx="360.7" cy="1522.4" r="4.65"/></g>
<g fill="#9B48A4"><circle cx="381" cy="1584.5" r="4.65"/></g>
<g fill="#45B049"><circle cx="349.8" cy="1564.7" r="4.65"/></g>
<g fill="#9B48A4"><circle cx="317.8" cy="1655.9" r="4.65"/><circle cx="356.3" cy="1678.4" r="4.65"/><circle cx="337.9" cy="1655.4" r="4.65"/></g>
<g fill="#45B049"><circle cx="345.3" cy="1437.8" r="4.65"/></g>
<g fill="#9B48A4"><circle cx="363" cy="1652.4" r="4.65"/></g>
<g fill="#45B049"><circle cx="305.4" cy="1515" r="4.65"/><circle cx="306.8" cy="1552.8" r="4.65"/></g>
<g fill="#9B48A4"><circle cx="298.3" cy="1592.6" r="4.65"/><circle cx="338.8" cy="1609.6" r="4.65"/></g>
<g fill="#45B049"><circle cx="306.5" cy="1529.1" r="4.65"/><circle cx="320.3" cy="1496.1" r="4.65"/><circle cx="370.2" cy="1511.6" r="4.65"/></g>
<g fill="#9B48A4"><circle cx="341.8" cy="1593.3" r="4.65"/></g>
<g fill="#45B049"><circle cx="343.5" cy="1558.3" r="4.65"/></g>
<g fill="#9B48A4"><circle cx="344.6" cy="1608.2" r="4.65"/><circle cx="327.2" cy="1644.9" r="4.65"/><circle cx="331" cy="1573.7" r="4.65"/><circle cx="320.2" cy="1644.3" r="4.65"/><circle cx="375.6" cy="1595.3" r="4.65"/></g>
<g fill="#45B049"><circle cx="331.1" cy="1526.4" r="4.65"/></g>
<g fill="#9B48A4"><circle cx="354.6" cy="1624.3" r="4.65"/></g>
<g fill="#45B049"><circle cx="369.6" cy="1485" r="4.65"/></g>
<g fill="#9B48A4"><circle cx="396" cy="1556" r="4.65"/><circle cx="398.6" cy="1542" r="4.65"/><circle cx="377" cy="1544" r="4.65"/></g>
<g fill="#45B049"><circle cx="345.9" cy="1533.2" r="4.65"/></g>
<g fill="#9B48A4"><circle cx="321.2" cy="1631.9" r="4.65"/><circle cx="336.6" cy="1636.9" r="4.65"/><circle cx="340.3" cy="1584.5" r="4.65"/><circle cx="355.1" cy="1663.6" r="4.65"/><circle cx="333.7" cy="1660.8" r="4.65"/><circle cx="337" cy="1576.7" r="4.65"/><circle cx="327.7" cy="1681.4" r="4.65"/><circle cx="349.6" cy="1697.3" r="4.65"/></g>
<g fill="#45B049"><circle cx="350.1" cy="1634.7" r="4.65"/><circle cx="354.8" cy="1585.6" r="4.65"/></g>
<g fill="#9B48A4"><circle cx="217.7" cy="1525.4" r="4.65"/><circle cx="333.9" cy="1654.2" r="4.65"/></g>
<g fill="#45B049"><circle cx="336.5" cy="1535.9" r="4.65"/><circle cx="314" cy="1429.9" r="4.65"/></g>
<g fill="#9B48A4"><circle cx="367.5" cy="1573.7" r="4.65"/><circle cx="364.4" cy="1663.1" r="4.65"/><circle cx="317.2" cy="1637.7" r="4.65"/><circle cx="342.2" cy="1623.1" r="4.65"/></g>
<g fill="#45B049"><circle cx="364.8" cy="1537.2" r="4.65"/></g>
<g fill="#9B48A4"><circle cx="351.5" cy="1613.3" r="4.65"/><circle cx="317.1" cy="1649.1" r="4.65"/><circle cx="329.5" cy="1653.4" r="4.65"/></g>
<g fill="#45B049"><circle cx="300.7" cy="1504.8" r="4.65"/></g>
<g fill="#9B48A4"><circle cx="336.9" cy="1669.2" r="4.65"/></g>
<g fill="#45B049"><circle cx="340.2" cy="1610.2" r="4.65"/></g>
<g fill="#9B48A4"><circle cx="327.5" cy="1662.2" r="4.65"/></g>
<g fill="#45B049"><circle cx="345.7" cy="1557.1" r="4.65"/><circle cx="352.4" cy="1596.9" r="4.65"/><circle cx="391.2" cy="1492.4" r="4.65"/><circle cx="315" cy="1483.2" r="4.65"/><circle cx="323" cy="1604.7" r="4.65"/><circle cx="368.5" cy="1518.3" r="4.65"/><circle cx="337.6" cy="1577.7" r="4.65"/></g>
<g fill="#9B48A4"><circle cx="361.1" cy="1623.1" r="4.65"/></g>
<g fill="#45B049"><circle cx="282.5" cy="1462" r="4.65"/><circle cx="356.7" cy="1497.4" r="4.65"/><circle cx="347.6" cy="1601" r="4.65"/></g>
<g fill="#9B48A4"><circle cx="340.8" cy="1661.3" r="4.65"/></g>
<g fill="#45B049"><circle cx="325.7" cy="1522.4" r="4.65"/><circle cx="317.6" cy="1582.4" r="4.65"/></g>
<g fill="#9B48A4"><circle cx="297.3" cy="1602.3" r="4.65"/><circle cx="342.9" cy="1647.8" r="4.65"/></g>
<g fill="#45B049"><circle cx="354.3" cy="1508.4" r="4.65"/></g>
<g fill="#9B48A4"><circle cx="322.9" cy="1629.5" r="4.65"/></g>
<g fill="#45B049"><circle cx="292.6" cy="1585.8" r="4.65"/><circle cx="329" cy="1554.1" r="4.65"/></g>
<g fill="#9B48A4"><circle cx="350.9" cy="1623.3" r="4.65"/><circle cx="339.2" cy="1612.8" r="4.65"/></g>
<g fill="#45B049"><circle cx="327" cy="1634.4" r="4.65"/><circle cx="390.4" cy="1494" r="4.65"/></g>
<g fill="#9B48A4"><circle cx="358" cy="1665" r="4.65"/></g>
<g fill="#45B049"><circle cx="347.1" cy="1591.3" r="4.65"/><circle cx="346.4" cy="1575.1" r="4.65"/></g>
<g fill="#9B48A4"><circle cx="379.7" cy="1561.5" r="4.65"/></g>
<g fill="#45B049"><circle cx="329.7" cy="1562.9" r="4.65"/></g>
<g fill="#9B48A4"><circle cx="342.5" cy="1612.7" r="4.65"/></g>
<g fill="#45B049"><circle cx="365.6" cy="1504.6" r="4.65"/><circle cx="308.8" cy="1586.1" r="4.65"/></g>
<g fill="#9B48A4"><circle cx="313.2" cy="1635.1" r="4.65"/></g>
<g fill="#45B049"><circle cx="324.3" cy="1511.6" r="4.65"/></g>
<g fill="#9B48A4"><circle cx="355.4" cy="1552.8" r="4.65"/><circle cx="370.2" cy="1534.5" r="4.65"/><circle cx="336.7" cy="1619.5" r="4.65"/></g>
<g fill="#45B049"><circle cx="337.5" cy="1550.6" r="4.65"/></g>
<g fill="#9B48A4"><circle cx="354" cy="1596.8" r="4.65"/></g>
<g fill="#45B049"><circle cx="344" cy="1614.2" r="4.65"/></g>
<g fill="#9B48A4"><circle cx="344.2" cy="1688.3" r="4.65"/><circle cx="349.9" cy="1628.1" r="4.65"/><circle cx="360.3" cy="1669.6" r="4.65"/></g>
<g fill="#45B049"><circle cx="346.2" cy="1549.8" r="4.65"/></g>
<g fill="#9B48A4"><circle cx="377" cy="1576.4" r="4.65"/><circle cx="335" cy="1683.6" r="4.65"/></g>
<g fill="#45B049"><circle cx="358" cy="1515.6" r="4.65"/></g>
<g fill="#9B48A4"><circle cx="349.1" cy="1615.3" r="4.65"/><circle cx="353.2" cy="1611.7" r="4.65"/></g>
<g fill="#45B049"><circle cx="346.9" cy="1612.6" r="4.65"/></g>
<g fill="#9B48A4"><circle cx="328.2" cy="1684.1" r="4.65"/></g>
<g fill="#45B049"><circle cx="256.8" cy="1522" r="4.65"/><circle cx="340.5" cy="1581.7" r="4.65"/><circle cx="321.6" cy="1571" r="4.65"/><circle cx="362.1" cy="1506.2" r="4.65"/></g>
<g fill="#9B48A4"><circle cx="352.3" cy="1609.3" r="4.65"/><circle cx="347.7" cy="1632.4" r="4.65"/></g>
<g fill="#45B049"><circle cx="322.3" cy="1541.3" r="4.65"/></g>
<g fill="#9B48A4"><circle cx="335.1" cy="1595.3" r="4.65"/></g>
<g fill="#45B049"><circle cx="343.6" cy="1511" r="4.65"/></g>
<g fill="#9B48A4"><circle cx="334.4" cy="1638.7" r="4.65"/><circle cx="392.5" cy="1576.4" r="4.65"/></g>
<g fill="#45B049"><circle cx="253.5" cy="1471.1" r="4.65"/></g>
<g fill="#9B48A4"><circle cx="365" cy="1610" r="4.65"/><circle cx="345" cy="1638.7" r="4.65"/><circle cx="357.1" cy="1603.2" r="4.65"/><circle cx="322" cy="1654.1" r="4.65"/><circle cx="357.8" cy="1611.4" r="4.65"/><circle cx="340.9" cy="1700.6" r="4.65"/></g>
<g fill="#45B049"><circle cx="389.9" cy="1420.9" r="4.65"/><circle cx="318.9" cy="1622.9" r="4.65"/><circle cx="345.9" cy="1595.5" r="4.65"/><circle cx="344" cy="1506" r="4.65"/><circle cx="286.3" cy="1533.6" r="4.65"/></g>
<g fill="#9B48A4"><circle cx="340.1" cy="1676.9" r="4.65"/></g>
<g fill="#45B049"><circle cx="341.2" cy="1703.9" r="4.65"/><circle cx="364.8" cy="1546.7" r="4.65"/></g>
<g fill="#9B48A4"><circle cx="365.8" cy="1639.5" r="4.65"/></g>
<g fill="#45B049"><circle cx="300" cy="1583.8" r="4.65"/><circle cx="312.2" cy="1602" r="4.65"/><circle cx="307.4" cy="1598" r="4.65"/></g>
<g fill="#9B48A4"><circle cx="329.2" cy="1621.9" r="4.65"/><circle cx="355.3" cy="1602.5" r="4.65"/></g>
<g fill="#45B049"><circle cx="362.1" cy="1529.1" r="4.65"/></g>
<g fill="#9B48A4"><circle cx="339.5" cy="1638.4" r="4.65"/><circle cx="342.6" cy="1618" r="4.65"/><circle cx="354.4" cy="1650.4" r="4.65"/><circle cx="329.7" cy="1628.6" r="4.65"/><circle cx="320.6" cy="1636.6" r="4.65"/><circle cx="364.7" cy="1639.8" r="4.65"/><circle cx="368.3" cy="1636.2" r="4.65"/></g>
<g fill="#45B049"><circle cx="347.7" cy="1566.6" r="4.65"/></g>
<g fill="#9B48A4"><circle cx="346.6" cy="1602.6" r="4.65"/><circle cx="361.2" cy="1665.6" r="4.65"/><circle cx="338.8" cy="1603.5" r="4.65"/><circle cx="386.4" cy="1560.2" r="4.65"/><circle cx="258.2" cy="1549" r="4.65"/><circle cx="385" cy="1563" r="4.65"/></g>
<g fill="#45B049"><circle cx="339.2" cy="1515.6" r="4.65"/></g>
<g fill="#9B48A4"><circle cx="370.2" cy="1566.9" r="4.65"/><circle cx="348.3" cy="1694.5" r="4.65"/><circle cx="336.9" cy="1660.6" r="4.65"/></g>
<g fill="#45B049"><circle cx="341.4" cy="1638.6" r="4.65"/><circle cx="333.3" cy="1532" r="4.65"/><circle cx="340" cy="1500.5" r="4.65"/></g>
<g fill="#9B48A4"><circle cx="370.2" cy="1557.5" r="4.65"/></g>
<g fill="#45B049"><circle cx="307.5" cy="1454" r="4.65"/></g>
<g fill="#9B48A4"><circle cx="337.4" cy="1666.6" r="4.65"/></g>
<g fill="#45B049"><circle cx="310.2" cy="1473.3" r="4.65"/></g>
<g fill="#9B48A4"><circle cx="332" cy="1625.2" r="4.65"/></g>
<g fill="#45B049"><circle cx="340.1" cy="1611.5" r="4.65"/></g>
<g fill="#9B48A4"><circle cx="356.7" cy="1632.7" r="4.65"/><circle cx="337.7" cy="1581.4" r="4.65"/><circle cx="343.7" cy="1646.5" r="4.65"/></g>
<g fill="#45B049"><circle cx="339.9" cy="1572.5" r="4.65"/></g>
<g fill="#9B48A4"><circle cx="336.8" cy="1621.7" r="4.65"/><circle cx="346.9" cy="1624.5" r="4.65"/></g>
<g fill="#45B049"><circle cx="307.4" cy="1550" r="4.65"/></g>
<g fill="#9B48A4"><circle cx="344.5" cy="1703.2" r="4.65"/><circle cx="334.5" cy="1670.5" r="4.65"/></g>
<g fill="#45B049"><circle cx="391.8" cy="1546.7" r="4.65"/></g>
<g fill="#9B48A4"><circle cx="361.4" cy="1659.8" r="4.65"/><circle cx="318.2" cy="1650.3" r="4.65"/></g>
<g fill="#45B049"><circle cx="349.4" cy="1596.8" r="4.65"/><circle cx="348.6" cy="1662.1" r="4.65"/></g>
<g fill="#9B48A4"><circle cx="328.5" cy="1667.7" r="4.65"/></g>
<g fill="#45B049"><circle cx="335.1" cy="1495.4" r="4.65"/></g>
<g fill="#9B48A4"><circle cx="354.1" cy="1624" r="4.65"/><circle cx="338.9" cy="1671.7" r="4.65"/><circle cx="393" cy="1549" r="4.65"/></g>
<g fill="#45B049"><circle cx="318.3" cy="1452.6" r="4.65"/><circle cx="346" cy="1529.6" r="4.65"/></g>
<g fill="#9B48A4"><circle cx="341.2" cy="1608" r="4.65"/><circle cx="346.4" cy="1622.8" r="4.65"/></g>
<g fill="#45B049"><circle cx="339.5" cy="1594.8" r="4.65"/></g>
<g fill="#9B48A4"><circle cx="352.8" cy="1598.6" r="4.65"/></g>
<g fill="#45B049"><circle cx="342.7" cy="1531.7" r="4.65"/></g>
<g fill="#9B48A4"><circle cx="247.4" cy="1538.3" r="4.65"/></g>
<g fill="#45B049"><circle cx="274.8" cy="1590.3" r="4.65"/></g>
<g fill="#9B48A4"><circle cx="345.9" cy="1700.9" r="4.65"/></g>
<g fill="#45B049"><circle cx="328.5" cy="1437.8" r="4.65"/></g>
<g fill="#9B48A4"><circle cx="356.6" cy="1645.2" r="4.65"/><circle cx="334.2" cy="1585.3" r="4.65"/><circle cx="336.5" cy="1658.4" r="4.65"/><circle cx="399.9" cy="1550.7" r="4.65"/><circle cx="333.6" cy="1655.9" r="4.65"/><circle cx="320.3" cy="1657.2" r="4.65"/><circle cx="347.6" cy="1684.9" r="4.65"/></g>
<g fill="#45B049"><circle cx="266.5" cy="1475.6" r="4.65"/></g>
<g fill="#9B48A4"><circle cx="346.7" cy="1671.5" r="4.65"/></g>
<g fill="#45B049"><circle cx="351.8" cy="1627" r="4.65"/></g>
<g fill="#9B48A4"><circle cx="316.2" cy="1569.6" r="4.65"/><circle cx="335.9" cy="1642.3" r="4.65"/><circle cx="390.5" cy="1554.8" r="4.65"/><circle cx="361.4" cy="1577.7" r="4.65"/><circle cx="353.8" cy="1649.8" r="4.65"/></g>
<g fill="#45B049"><circle cx="358.9" cy="1538.8" r="4.65"/></g>
<g fill="#9B48A4"><circle cx="350.6" cy="1650.6" r="4.65"/></g>
<g fill="#45B049"><circle cx="366.1" cy="1504.8" r="4.65"/><circle cx="344.7" cy="1625.7" r="4.65"/></g>
<g fill="#9B48A4"><circle cx="347.8" cy="1594.5" r="4.65"/><circle cx="351.7" cy="1680.3" r="4.65"/></g>
<g fill="#45B049"><circle cx="353" cy="1497" r="4.65"/></g>
<g fill="#9B48A4"><circle cx="345.4" cy="1695.9" r="4.65"/><circle cx="340" cy="1644.6" r="4.65"/><circle cx="344.8" cy="1667.5" r="4.65"/><circle cx="364.2" cy="1628.3" r="4.65"/><circle cx="363.5" cy="1593.9" r="4.65"/></g>
<g fill="#45B049"><circle cx="367.5" cy="1614.8" r="4.65"/></g>
<g fill="#9B48A4"><circle cx="374.3" cy="1603.4" r="4.65"/><circle cx="368.9" cy="1607.4" r="4.65"/><circle cx="322.9" cy="1651.5" r="4.65"/><circle cx="383.7" cy="1539.3" r="4.65"/></g>
<g fill="#45B049"><circle cx="351.3" cy="1546.7" r="4.65"/><circle cx="352.3" cy="1603.3" r="4.65"/><circle cx="356.4" cy="1611" r="4.65"/><circle cx="345.5" cy="1580" r="4.65"/><circle cx="349.9" cy="1620.6" r="4.65"/><circle cx="345.2" cy="1552.7" r="4.65"/><circle cx="350.2" cy="1570.5" r="4.65"/><circle cx="339.3" cy="1592.9" r="4.65"/><circle cx="337.9" cy="1582.4" r="4.65"/><circle cx="356.4" cy="1586.5" r="4.65"/><circle cx="355.3" cy="1626.9" r="4.65"/><circle cx="354.3" cy="1600.4" r="4.65"/><circle cx="348.1" cy="1553.5" r="4.65"/><circle cx="348" cy="1602.4" r="4.65"/><circle cx="339.7" cy="1607.7" r="4.65"/><circle cx="336.9" cy="1603" r="4.65"/><circle cx="338" cy="1603.9" r="4.65"/><circle cx="344.4" cy="1606.5" r="4.65"/><circle cx="347.3" cy="1636.5" r="4.65"/><circle cx="346" cy="1584.3" r="4.65"/><circle cx="336.9" cy="1587.4" r="4.65"/><circle cx="358" cy="1598" r="4.65"/><circle cx="342.5" cy="1607" r="4.65"/><circle cx="343" cy="1618.9" r="4.65"/><circle cx="354.6" cy="1584.2" r="4.65"/><circle cx="349" cy="1578.4" r="4.65"/><circle cx="346.7" cy="1587" r="4.65"/><circle cx="354.8" cy="1576.1" r="4.65"/><circle cx="349.5" cy="1585.3" r="4.65"/><circle cx="346.5" cy="1587.6" r="4.65"/><circle cx="337.4" cy="1597.8" r="4.65"/><circle cx="344.8" cy="1600" r="4.65"/><circle cx="354.5" cy="1599.2" r="4.65"/><circle cx="342.3" cy="1584.2" r="4.65"/><circle cx="356.7" cy="1585.6" r="4.65"/><circle cx="343.9" cy="1613.1" r="4.65"/><circle cx="340.3" cy="1635.5" r="4.65"/><circle cx="348.8" cy="1568" r="4.65"/><circle cx="354.6" cy="1619.3" r="4.65"/><circle cx="342.6" cy="1611.4" r="4.65"/><circle cx="336.3" cy="1587.5" r="4.65"/><circle cx="344.3" cy="1615.7" r="4.65"/><circle cx="343.1" cy="1554.2" r="4.65"/><circle cx="339.9" cy="1605.1" r="4.65"/><circle cx="346.4" cy="1634" r="4.65"/><circle cx="356" cy="1598.3" r="4.65"/><circle cx="345" cy="1634.4" r="4.65"/></g>
<g fill="#9B48A4"><circle cx="351.5" cy="1659.4" r="4.65"/><circle cx="334.6" cy="1679.9" r="4.65"/><circle cx="351.9" cy="1677.6" r="4.65"/><circle cx="341.8" cy="1649.8" r="4.65"/><circle cx="352.3" cy="1653.5" r="4.65"/><circle cx="349.7" cy="1674.6" r="4.65"/><circle cx="347.5" cy="1678.8" r="4.65"/><circle cx="347.5" cy="1687.3" r="4.65"/><circle cx="337.4" cy="1676.2" r="4.65"/><circle cx="343.2" cy="1669.5" r="4.65"/><circle cx="339.5" cy="1654.1" r="4.65"/><circle cx="346.4" cy="1670.7" r="4.65"/><circle cx="356.5" cy="1670.6" r="4.65"/><circle cx="345" cy="1672.6" r="4.65"/><circle cx="348.6" cy="1661.9" r="4.65"/><circle cx="338.5" cy="1674" r="4.65"/><circle cx="341.8" cy="1645.6" r="4.65"/><circle cx="335.8" cy="1659.8" r="4.65"/><circle cx="350.2" cy="1672.9" r="4.65"/><circle cx="344.7" cy="1679.9" r="4.65"/><circle cx="340.1" cy="1659.4" r="4.65"/><circle cx="352" cy="1673.9" r="4.65"/><circle cx="342.9" cy="1683.1" r="4.65"/><circle cx="331.7" cy="1667.6" r="4.65"/><circle cx="336.4" cy="1679.5" r="4.65"/><circle cx="345.9" cy="1685.1" r="4.65"/><circle cx="340.2" cy="1673.2" r="4.65"/><circle cx="340.5" cy="1661.1" r="4.65"/><circle cx="334.5" cy="1674.1" r="4.65"/><circle cx="335.1" cy="1652.4" r="4.65"/><circle cx="357.6" cy="1665.9" r="4.65"/><circle cx="352.1" cy="1659.2" r="4.65"/><circle cx="337.8" cy="1660.2" r="4.65"/><circle cx="350.1" cy="1655.7" r="4.65"/><circle cx="351.5" cy="1683.8" r="4.65"/><circle cx="347.6" cy="1653.7" r="4.65"/><circle cx="348.1" cy="1686.1" r="4.65"/><circle cx="347.5" cy="1650.6" r="4.65"/><circle cx="336.7" cy="1671.7" r="4.65"/><circle cx="341.5" cy="1655.3" r="4.65"/><circle cx="344.8" cy="1647.2" r="4.65"/><circle cx="346.7" cy="1673.7" r="4.65"/><circle cx="339.9" cy="1669.6" r="4.65"/><circle cx="345.8" cy="1678.7" r="4.65"/><circle cx="347.1" cy="1672.1" r="4.65"/><circle cx="346.8" cy="1680.2" r="4.65"/><circle cx="355.2" cy="1680.7" r="4.65"/><circle cx="348.1" cy="1681.7" r="4.65"/><circle cx="350.6" cy="1660.6" r="4.65"/><circle cx="334.2" cy="1677.6" r="4.65"/><circle cx="350.9" cy="1664.7" r="4.65"/><circle cx="338.6" cy="1660" r="4.65"/><circle cx="357.2" cy="1664.4" r="4.65"/><circle cx="336.5" cy="1676.1" r="4.65"/><circle cx="341.8" cy="1664.9" r="4.65"/><circle cx="350.2" cy="1656" r="4.65"/><circle cx="347.6" cy="1653" r="4.65"/><circle cx="337.2" cy="1668" r="4.65"/><circle cx="343" cy="1683.4" r="4.65"/><circle cx="338.3" cy="1659.1" r="4.65"/></g>
<g fill="#45B049"><circle cx="328.4" cy="1656" r="4.65"/><circle cx="348.6" cy="1662.1" r="4.65"/><circle cx="333.8" cy="1672.9" r="4.65"/><circle cx="341" cy="1655" r="4.65"/><circle cx="344" cy="1647" r="4.65"/></g>
<g fill="#EF82B7"><circle cx="332.4" cy="1444.3" r="4.65"/><circle cx="331.8" cy="1448.7" r="4.65"/><circle cx="328.8" cy="1442.3" r="4.65"/><circle cx="330.3" cy="1448.7" r="4.65"/><circle cx="323.2" cy="1444" r="4.65"/><circle cx="325.7" cy="1459.5" r="4.65"/><circle cx="324.2" cy="1449.3" r="4.65"/><circle cx="327.1" cy="1454.8" r="4.65"/><circle cx="332.6" cy="1458.3" r="4.65"/><circle cx="324.9" cy="1439" r="4.65"/><circle cx="326.5" cy="1459.7" r="4.65"/><circle cx="332.6" cy="1484.3" r="4.65"/><circle cx="333.5" cy="1481" r="4.65"/><circle cx="335.4" cy="1473.6" r="4.65"/><circle cx="334.8" cy="1457" r="4.65"/><circle cx="326.5" cy="1437.6" r="4.65"/><circle cx="330.2" cy="1462.6" r="4.65"/><circle cx="323.8" cy="1448.1" r="4.65"/><circle cx="332.1" cy="1470.3" r="4.65"/><circle cx="331" cy="1451.9" r="4.65"/><circle cx="334.7" cy="1469.1" r="4.65"/><circle cx="333.9" cy="1471.2" r="4.65"/><circle cx="324.6" cy="1454.3" r="4.65"/><circle cx="331.6" cy="1463.9" r="4.65"/><circle cx="323.4" cy="1441.8" r="4.65"/><circle cx="331.3" cy="1479.1" r="4.65"/><circle cx="328.6" cy="1440.5" r="4.65"/><circle cx="333.8" cy="1457.3" r="4.65"/><circle cx="333.6" cy="1454.6" r="4.65"/><circle cx="325.1" cy="1453.5" r="4.65"/><circle cx="328.3" cy="1454.5" r="4.65"/><circle cx="334.6" cy="1449.1" r="4.65"/><circle cx="332.4" cy="1463.7" r="4.65"/><circle cx="335.8" cy="1447.8" r="4.65"/><circle cx="330.3" cy="1442.2" r="4.65"/><circle cx="328.9" cy="1473.6" r="4.65"/><circle cx="326.6" cy="1461.2" r="4.65"/><circle cx="329.1" cy="1461.6" r="4.65"/><circle cx="333.3" cy="1442.8" r="4.65"/><circle cx="329.8" cy="1469.9" r="4.65"/><circle cx="334.6" cy="1480.1" r="4.65"/><circle cx="329.6" cy="1476.2" r="4.65"/><circle cx="326.8" cy="1453.8" r="4.65"/><circle cx="331.4" cy="1470.2" r="4.65"/><circle cx="330.8" cy="1453" r="4.65"/><circle cx="331.6" cy="1484.6" r="4.65"/><circle cx="326.1" cy="1464.4" r="4.65"/><circle cx="326.7" cy="1443" r="4.65"/><circle cx="327" cy="1471.7" r="4.65"/><circle cx="335.7" cy="1456.4" r="4.65"/><circle cx="326.8" cy="1467.8" r="4.65"/><circle cx="333.4" cy="1455.2" r="4.65"/><circle cx="330.2" cy="1454.2" r="4.65"/><circle cx="331.2" cy="1483.2" r="4.65"/><circle cx="333.2" cy="1465.3" r="4.65"/><circle cx="334.1" cy="1465.6" r="4.65"/><circle cx="321.2" cy="1442.4" r="4.65"/><circle cx="328.8" cy="1479.9" r="4.65"/><circle cx="331.5" cy="1477.2" r="4.65"/><circle cx="326.4" cy="1437.1" r="4.65"/><circle cx="322.3" cy="1445.8" r="4.65"/><circle cx="330.6" cy="1483" r="4.65"/><circle cx="329" cy="1458.9" r="4.65"/><circle cx="333.1" cy="1470" r="4.65"/><circle cx="323.5" cy="1436.5" r="4.65"/><circle cx="337" cy="1457.1" r="4.65"/><circle cx="325.1" cy="1441.6" r="4.65"/><circle cx="324.1" cy="1453.7" r="4.65"/><circle cx="328.1" cy="1461.1" r="4.65"/><circle cx="336.1" cy="1455.6" r="4.65"/><circle cx="328.5" cy="1462.6" r="4.65"/><circle cx="328.7" cy="1464" r="4.65"/><circle cx="335.4" cy="1451.6" r="4.65"/><circle cx="332" cy="1477.1" r="4.65"/><circle cx="324.7" cy="1448.9" r="4.65"/><circle cx="335.6" cy="1452.3" r="4.65"/><circle cx="325" cy="1447.7" r="4.65"/><circle cx="331" cy="1484.3" r="4.65"/><circle cx="323.9" cy="1451.2" r="4.65"/><circle cx="322.4" cy="1449" r="4.65"/><circle cx="329.9" cy="1466.8" r="4.65"/><circle cx="334.6" cy="1470.4" r="4.65"/><circle cx="323.7" cy="1451.9" r="4.65"/><circle cx="332.7" cy="1457.3" r="4.65"/><circle cx="321.7" cy="1439.9" r="4.65"/><circle cx="274" cy="1425.4" r="4.65"/><circle cx="293.3" cy="1428.3" r="4.65"/><circle cx="288.1" cy="1451.3" r="4.65"/><circle cx="290.8" cy="1452.6" r="4.65"/><circle cx="293.4" cy="1428.3" r="4.65"/><circle cx="344" cy="1424.5" r="4.65"/><circle cx="363.8" cy="1440.1" r="4.65"/><circle cx="304.8" cy="1446.5" r="4.65"/><circle cx="291.3" cy="1451.9" r="4.65"/><circle cx="311.6" cy="1453.3" r="4.65"/><circle cx="311.6" cy="1458.7" r="4.65"/><circle cx="319" cy="1503.2" r="4.65"/><circle cx="327.8" cy="1501.9" r="4.65"/><circle cx="330.5" cy="1505.9" r="4.65"/><circle cx="318.9" cy="1503.5" r="4.65"/><circle cx="327" cy="1500.8" r="4.65"/><circle cx="317" cy="1435.7" r="4.65"/><circle cx="340" cy="1452" r="4.65"/><circle cx="342" cy="1460" r="4.65"/></g>
<g fill="#45B049"><circle cx="328.5" cy="1437.8" r="4.65"/><circle cx="345.3" cy="1437.8" r="4.65"/><circle cx="341.3" cy="1441.1" r="4.65"/><circle cx="318.3" cy="1452.6" r="4.65"/><circle cx="327.1" cy="1485" r="4.65"/><circle cx="314" cy="1429.9" r="4.65"/></g>
<g fill="#E51F26"><circle cx="419" cy="1338.4" r="4.65"/><circle cx="403.9" cy="1359.6" r="4.65"/><circle cx="441.9" cy="1323.7" r="4.65"/><circle cx="429.7" cy="1328.8" r="4.65"/><circle cx="404.6" cy="1362.5" r="4.65"/><circle cx="420.1" cy="1350.6" r="4.65"/><circle cx="393.7" cy="1371.6" r="4.65"/><circle cx="417.7" cy="1341.7" r="4.65"/><circle cx="428" cy="1326.1" r="4.65"/><circle cx="418.6" cy="1341.7" r="4.65"/><circle cx="428.4" cy="1342.8" r="4.65"/><circle cx="428.5" cy="1335.9" r="4.65"/><circle cx="437.1" cy="1323" r="4.65"/><circle cx="435.1" cy="1336.2" r="4.65"/><circle cx="423.5" cy="1345.8" r="4.65"/><circle cx="420.9" cy="1350.6" r="4.65"/><circle cx="414.8" cy="1342.8" r="4.65"/><circle cx="396" cy="1372.8" r="4.65"/><circle cx="416.8" cy="1332.8" r="4.65"/><circle cx="408.3" cy="1355.6" r="4.65"/><circle cx="423.7" cy="1344.7" r="4.65"/><circle cx="424.5" cy="1339.8" r="4.65"/><circle cx="397.4" cy="1371.5" r="4.65"/><circle cx="407.4" cy="1354.7" r="4.65"/><circle cx="417.1" cy="1339.2" r="4.65"/><circle cx="420.6" cy="1341" r="4.65"/><circle cx="430.2" cy="1330.7" r="4.65"/><circle cx="400.5" cy="1357.7" r="4.65"/><circle cx="404.4" cy="1369.9" r="4.65"/><circle cx="417.6" cy="1354.1" r="4.65"/><circle cx="398.8" cy="1366.1" r="4.65"/><circle cx="414.1" cy="1347.3" r="4.65"/><circle cx="404" cy="1352.4" r="4.65"/><circle cx="399" cy="1368.9" r="4.65"/><circle cx="431.4" cy="1323.1" r="4.65"/><circle cx="396.3" cy="1375.4" r="4.65"/><circle cx="401.8" cy="1354.1" r="4.65"/><circle cx="417.8" cy="1335.3" r="4.65"/><circle cx="418.6" cy="1342.4" r="4.65"/><circle cx="404.9" cy="1351.8" r="4.65"/><circle cx="402" cy="1364.8" r="4.65"/><circle cx="438.7" cy="1324.8" r="4.65"/><circle cx="411.5" cy="1360" r="4.65"/><circle cx="421.7" cy="1341.3" r="4.65"/><circle cx="418.3" cy="1331.4" r="4.65"/><circle cx="404.9" cy="1362.1" r="4.65"/><circle cx="418.8" cy="1345.3" r="4.65"/><circle cx="422.1" cy="1345.2" r="4.65"/><circle cx="414" cy="1336.7" r="4.65"/><circle cx="413.6" cy="1359" r="4.65"/><circle cx="406.6" cy="1367.2" r="4.65"/><circle cx="434" cy="1329.7" r="4.65"/><circle cx="429.1" cy="1337.2" r="4.65"/><circle cx="417.1" cy="1332.3" r="4.65"/><circle cx="439.6" cy="1322.2" r="4.65"/><circle cx="396.1" cy="1379.5" r="4.65"/><circle cx="422.3" cy="1344.5" r="4.65"/><circle cx="425.2" cy="1327.6" r="4.65"/><circle cx="420.3" cy="1335.5" r="4.65"/><circle cx="426.8" cy="1338.8" r="4.65"/><circle cx="438.7" cy="1329.3" r="4.65"/><circle cx="417.9" cy="1346.2" r="4.65"/><circle cx="434.1" cy="1317.6" r="4.65"/><circle cx="407.9" cy="1367.7" r="4.65"/><circle cx="429.8" cy="1340.9" r="4.65"/><circle cx="396.7" cy="1379.1" r="4.65"/><circle cx="403.7" cy="1368.7" r="4.65"/><circle cx="426.2" cy="1327.6" r="4.65"/><circle cx="432.7" cy="1321" r="4.65"/><circle cx="396.4" cy="1378.5" r="4.65"/><circle cx="416.9" cy="1350.4" r="4.65"/><circle cx="399.2" cy="1368" r="4.65"/><circle cx="427" cy="1342.2" r="4.65"/><circle cx="410.2" cy="1357.7" r="4.65"/><circle cx="416.1" cy="1353.2" r="4.65"/><circle cx="434.4" cy="1315" r="4.65"/><circle cx="417.5" cy="1322.4" r="4.65"/><circle cx="431.7" cy="1326.4" r="4.65"/><circle cx="439.8" cy="1321" r="4.65"/><circle cx="385.1" cy="1329.1" r="4.65"/><circle cx="381.8" cy="1336.6" r="4.65"/><circle cx="395.3" cy="1335.2" r="4.65"/><circle cx="400" cy="1335.2" r="4.65"/><circle cx="412.8" cy="1337.2" r="4.65"/><circle cx="391.2" cy="1351.4" r="4.65"/><circle cx="398" cy="1350" r="4.65"/><circle cx="407.4" cy="1349.4" r="4.65"/><circle cx="408.8" cy="1357.5" r="4.65"/><circle cx="387.8" cy="1361.9" r="4.65"/><circle cx="403.4" cy="1365.6" r="4.65"/><circle cx="395.3" cy="1373.7" r="4.65"/><circle cx="389.9" cy="1379.7" r="4.65"/><circle cx="438" cy="1364" r="4.65"/><circle cx="378.1" cy="1396.3" r="4.65"/><circle cx="385.5" cy="1398" r="4.65"/><circle cx="408.4" cy="1399.3" r="4.65"/><circle cx="453" cy="1316" r="4.65"/><circle cx="423" cy="1368" r="4.65"/></g>
<g fill="#F6821F"><circle cx="411.7" cy="1373.8" r="4.65"/><circle cx="433.6" cy="1345.2" r="4.65"/><circle cx="407.9" cy="1373.7" r="4.65"/><circle cx="401.1" cy="1379.8" r="4.65"/><circle cx="430.4" cy="1341.5" r="4.65"/><circle cx="398.2" cy="1381.9" r="4.65"/><circle cx="409.7" cy="1374.8" r="4.65"/><circle cx="401.4" cy="1373.7" r="4.65"/><circle cx="421.1" cy="1353.6" r="4.65"/><circle cx="414.6" cy="1367.3" r="4.65"/><circle cx="422.3" cy="1354.2" r="4.65"/><circle cx="449.8" cy="1320.6" r="4.65"/><circle cx="400.3" cy="1380.5" r="4.65"/><circle cx="404.3" cy="1371.2" r="4.65"/><circle cx="432.9" cy="1347" r="4.65"/><circle cx="414.7" cy="1365.1" r="4.65"/><circle cx="409.7" cy="1367.8" r="4.65"/><circle cx="403.3" cy="1373.5" r="4.65"/><circle cx="447.4" cy="1320.1" r="4.65"/><circle cx="445.6" cy="1328.4" r="4.65"/><circle cx="408.2" cy="1373.2" r="4.65"/><circle cx="441.3" cy="1336" r="4.65"/><circle cx="455.3" cy="1318.5" r="4.65"/><circle cx="409.9" cy="1373.9" r="4.65"/><circle cx="453.4" cy="1314.4" r="4.65"/><circle cx="434.1" cy="1337.7" r="4.65"/><circle cx="434.6" cy="1336.3" r="4.65"/><circle cx="430.4" cy="1343.2" r="4.65"/><circle cx="439" cy="1332.9" r="4.65"/><circle cx="432.5" cy="1340.4" r="4.65"/><circle cx="417.3" cy="1357.2" r="4.65"/><circle cx="448.9" cy="1325.7" r="4.65"/><circle cx="410.2" cy="1375.7" r="4.65"/><circle cx="407.7" cy="1377.8" r="4.65"/><circle cx="416.9" cy="1367.2" r="4.65"/><circle cx="430.9" cy="1349.3" r="4.65"/><circle cx="428.9" cy="1351.5" r="4.65"/><circle cx="399.2" cy="1380.1" r="4.65"/><circle cx="412" cy="1364.1" r="4.65"/><circle cx="401.5" cy="1381.2" r="4.65"/><circle cx="398.1" cy="1383.9" r="4.65"/><circle cx="402" cy="1384" r="4.65"/><circle cx="422.6" cy="1352.5" r="4.65"/><circle cx="413" cy="1359.5" r="4.65"/><circle cx="426.6" cy="1350.6" r="4.65"/><circle cx="409.6" cy="1366.3" r="4.65"/><circle cx="404.3" cy="1370.8" r="4.65"/><circle cx="452" cy="1316.4" r="4.65"/><circle cx="434.9" cy="1335.4" r="4.65"/><circle cx="414.7" cy="1356.6" r="4.65"/><circle cx="445.7" cy="1321.2" r="4.65"/><circle cx="418.5" cy="1356.4" r="4.65"/><circle cx="414" cy="1364.3" r="4.65"/><circle cx="430.6" cy="1349.2" r="4.65"/><circle cx="426.5" cy="1353" r="4.65"/><circle cx="434.2" cy="1338" r="4.65"/><circle cx="451.5" cy="1322.7" r="4.65"/><circle cx="436.9" cy="1332.2" r="4.65"/><circle cx="424.8" cy="1356.3" r="4.65"/><circle cx="417.7" cy="1363.9" r="4.65"/><circle cx="442.8" cy="1328.3" r="4.65"/><circle cx="421" cy="1348.5" r="4.65"/><circle cx="428.1" cy="1341.6" r="4.65"/><circle cx="450.8" cy="1320.8" r="4.65"/><circle cx="421.9" cy="1353.9" r="4.65"/><circle cx="425.5" cy="1344.1" r="4.65"/><circle cx="411" cy="1374.9" r="4.65"/><circle cx="395.4" cy="1381.1" r="4.65"/><circle cx="423.8" cy="1346" r="4.65"/><circle cx="428.6" cy="1340.2" r="4.65"/><circle cx="445.9" cy="1329.6" r="4.65"/><circle cx="435" cy="1339.8" r="4.65"/><circle cx="425.7" cy="1343.5" r="4.65"/><circle cx="406.7" cy="1371.2" r="4.65"/><circle cx="408.8" cy="1369.8" r="4.65"/><circle cx="424.6" cy="1348" r="4.65"/><circle cx="437" cy="1330.5" r="4.65"/><circle cx="435.9" cy="1335.4" r="4.65"/><circle cx="409.9" cy="1367.8" r="4.65"/><circle cx="436.5" cy="1336.8" r="4.65"/><circle cx="441.7" cy="1334.7" r="4.65"/><circle cx="413.4" cy="1358.5" r="4.65"/><circle cx="413" cy="1371.2" r="4.65"/><circle cx="423" cy="1351.3" r="4.65"/><circle cx="410.5" cy="1366.1" r="4.65"/><circle cx="420.9" cy="1362.8" r="4.65"/><circle cx="442.9" cy="1329.9" r="4.65"/><circle cx="404.2" cy="1372.7" r="4.65"/><circle cx="408.5" cy="1372.2" r="4.65"/><circle cx="425.6" cy="1353.4" r="4.65"/><circle cx="400.2" cy="1380" r="4.65"/><circle cx="432.2" cy="1344" r="4.65"/><circle cx="401.9" cy="1384.2" r="4.65"/><circle cx="404.8" cy="1374.7" r="4.65"/><circle cx="410.1" cy="1364.7" r="4.65"/><circle cx="437.3" cy="1335.6" r="4.65"/><circle cx="408.4" cy="1370.8" r="4.65"/><circle cx="418.4" cy="1365.1" r="4.65"/><circle cx="398.8" cy="1379.1" r="4.65"/><circle cx="453.8" cy="1319" r="4.65"/><circle cx="448.2" cy="1322.8" r="4.65"/><circle cx="410.4" cy="1372.1" r="4.65"/><circle cx="451.2" cy="1323.5" r="4.65"/><circle cx="437.2" cy="1332.8" r="4.65"/><circle cx="428.6" cy="1340.2" r="4.65"/><circle cx="436.8" cy="1332" r="4.65"/><circle cx="438.1" cy="1333.9" r="4.65"/><circle cx="415.4" cy="1355.8" r="4.65"/><circle cx="408.2" cy="1369.4" r="4.65"/><circle cx="442.1" cy="1334.8" r="4.65"/><circle cx="425.9" cy="1342.6" r="4.65"/><circle cx="428" cy="1348.7" r="4.65"/><circle cx="450.8" cy="1321" r="4.65"/><circle cx="451.1" cy="1323.9" r="4.65"/><circle cx="445.9" cy="1325.4" r="4.65"/><circle cx="397.4" cy="1380" r="4.65"/><circle cx="427.4" cy="1341.9" r="4.65"/><circle cx="426" cy="1351.4" r="4.65"/><circle cx="419.9" cy="1362.7" r="4.65"/><circle cx="406.4" cy="1369.6" r="4.65"/><circle cx="429.1" cy="1339.7" r="4.65"/><circle cx="414.4" cy="1361.2" r="4.65"/><circle cx="434.4" cy="1336" r="4.65"/><circle cx="401.7" cy="1374" r="4.65"/><circle cx="409.1" cy="1365.8" r="4.65"/><circle cx="419.6" cy="1362.5" r="4.65"/><circle cx="454" cy="1317.4" r="4.65"/><circle cx="400.7" cy="1379.1" r="4.65"/><circle cx="436.7" cy="1331.5" r="4.65"/><circle cx="425.1" cy="1354.8" r="4.65"/><circle cx="419.3" cy="1353.5" r="4.65"/><circle cx="398.6" cy="1381.6" r="4.65"/><circle cx="437.6" cy="1333.7" r="4.65"/><circle cx="454.1" cy="1317.1" r="4.65"/><circle cx="432.3" cy="1339.8" r="4.65"/><circle cx="435.8" cy="1335.4" r="4.65"/><circle cx="418.4" cy="1357.2" r="4.65"/><circle cx="419.3" cy="1359.8" r="4.65"/><circle cx="426.7" cy="1352.7" r="4.65"/><circle cx="447.3" cy="1319.7" r="4.65"/><circle cx="419.8" cy="1360.4" r="4.65"/><circle cx="404.5" cy="1382.4" r="4.65"/><circle cx="454.8" cy="1316" r="4.65"/><circle cx="425.3" cy="1349.6" r="4.65"/><circle cx="404.3" cy="1381.3" r="4.65"/><circle cx="449.9" cy="1320.1" r="4.65"/><circle cx="451" cy="1320.5" r="4.65"/><circle cx="400.9" cy="1383.6" r="4.65"/><circle cx="407.4" cy="1372.5" r="4.65"/><circle cx="442.9" cy="1325.9" r="4.65"/><circle cx="457.3" cy="1315.6" r="4.65"/><circle cx="398" cy="1343.3" r="4.65"/><circle cx="416.9" cy="1379.7" r="4.65"/><circle cx="427" cy="1383.1" r="4.65"/><circle cx="421.6" cy="1373" r="4.65"/><circle cx="391.2" cy="1387.2" r="4.65"/><circle cx="400" cy="1388" r="4.65"/><circle cx="448" cy="1315" r="4.65"/></g>
</g>
<rect x="115.9" y="1296.6" width="356.8" height="426.1" fill="none" stroke="#7a7a7a" stroke-width="1.4"/>
<g stroke="#000" stroke-width="1.9">
<line x1="184.5" y1="1722.7" x2="184.5" y2="1729.2"/>
<line x1="262.3" y1="1722.7" x2="262.3" y2="1729.2"/>
<line x1="339.5" y1="1722.7" x2="339.5" y2="1729.2"/>
<line x1="416.9" y1="1722.7" x2="416.9" y2="1729.2"/>
<line x1="109.4" y1="1326.7" x2="115.9" y2="1326.7"/>
<line x1="109.4" y1="1434" x2="115.9" y2="1434"/>
<line x1="109.4" y1="1541.4" x2="115.9" y2="1541.4"/>
<line x1="109.4" y1="1648.7" x2="115.9" y2="1648.7"/>
</g>
<g class="tk" text-anchor="middle">
<text x="184.5" y="1756.1">−0.4</text>
<text x="262.3" y="1756.1">−0.2</text>
<text x="339.5" y="1756.1">0.0</text>
<text x="416.9" y="1756.1">0.2</text>
</g>
<g class="tk" text-anchor="end">
<text x="104.7" y="1338.7">0.2</text>
<text x="104.7" y="1446">0.0</text>
<text x="104.7" y="1553.4">−0.2</text>
<text x="104.7" y="1660.7">−0.4</text>
</g>
<text class="ax" text-anchor="middle" x="294" y="1783.2" xml:space="preserve">Axis.1   [14.4%]</text>
<text class="ax" text-anchor="middle" transform="translate(34 1510) rotate(-90)" xml:space="preserve">Axis.2   [11.3%]</text>
<text class="ti" x="176.5" y="1279.3" style="letter-spacing:0px">Binary Jaccard</text>
</g>
<g class="panel">
<clipPath id="c5"><rect x="636.8" y="1296.6" width="356.6" height="426.1"/></clipPath>
<g stroke="#fafafa" stroke-width="1" clip-path="url(#c5)">
<line x1="671.3" y1="1296.6" x2="671.3" y2="1722.7"/>
<line x1="769.4" y1="1296.6" x2="769.4" y2="1722.7"/>
<line x1="867.5" y1="1296.6" x2="867.5" y2="1722.7"/>
<line x1="965.6" y1="1296.6" x2="965.6" y2="1722.7"/>
<line x1="636.8" y1="1335.1" x2="993.4" y2="1335.1"/>
<line x1="636.8" y1="1428.5" x2="993.4" y2="1428.5"/>
<line x1="636.8" y1="1521.9" x2="993.4" y2="1521.9"/>
<line x1="636.8" y1="1615.3" x2="993.4" y2="1615.3"/>
<line x1="636.8" y1="1708.7" x2="993.4" y2="1708.7"/>
</g>
<g stroke="#e8e8e8" stroke-width="1.1" clip-path="url(#c5)">
<line x1="720.4" y1="1296.6" x2="720.4" y2="1722.7"/>
<line x1="818.5" y1="1296.6" x2="818.5" y2="1722.7"/>
<line x1="916.6" y1="1296.6" x2="916.6" y2="1722.7"/>
<line x1="636.8" y1="1381.8" x2="993.4" y2="1381.8"/>
<line x1="636.8" y1="1475.2" x2="993.4" y2="1475.2"/>
<line x1="636.8" y1="1568.8" x2="993.4" y2="1568.8"/>
<line x1="636.8" y1="1662.2" x2="993.4" y2="1662.2"/>
</g>
<g clip-path="url(#c5)">
<g fill="#9B48A4"><circle cx="764.8" cy="1443.8" r="4.65"/><circle cx="774" cy="1405.7" r="4.65"/></g>
<g fill="#45B049"><circle cx="754" cy="1435.3" r="4.65"/><circle cx="727.1" cy="1386.5" r="4.65"/></g>
<g fill="#9B48A4"><circle cx="680.3" cy="1347.7" r="4.65"/><circle cx="669.3" cy="1344.5" r="4.65"/><circle cx="701.6" cy="1399.3" r="4.65"/><circle cx="660.2" cy="1426.3" r="4.65"/></g>
<g fill="#45B049"><circle cx="679.6" cy="1358.3" r="4.65"/><circle cx="697.2" cy="1354" r="4.65"/></g>
<g fill="#9B48A4"><circle cx="724.4" cy="1333.9" r="4.65"/></g>
<g fill="#45B049"><circle cx="721.8" cy="1395.1" r="4.65"/><circle cx="740.8" cy="1418.8" r="4.65"/><circle cx="731.9" cy="1423.2" r="4.65"/></g>
<g fill="#9B48A4"><circle cx="714.9" cy="1400.3" r="4.65"/></g>
<g fill="#45B049"><circle cx="758.8" cy="1442.4" r="4.65"/><circle cx="749.7" cy="1419.2" r="4.65"/></g>
<g fill="#9B48A4"><circle cx="693.1" cy="1535.7" r="4.65"/><circle cx="753.8" cy="1342" r="4.65"/></g>
<g fill="#45B049"><circle cx="782.1" cy="1462.7" r="4.65"/><circle cx="782" cy="1458" r="4.65"/></g>
<g fill="#9B48A4"><circle cx="693.9" cy="1382.4" r="4.65"/><circle cx="683.6" cy="1375.8" r="4.65"/><circle cx="691.2" cy="1374.4" r="4.65"/><circle cx="695" cy="1361.5" r="4.65"/><circle cx="710.9" cy="1405.8" r="4.65"/></g>
<g fill="#45B049"><circle cx="761.2" cy="1420.2" r="4.65"/><circle cx="683.3" cy="1356.3" r="4.65"/></g>
<g fill="#9B48A4"><circle cx="692" cy="1374.5" r="4.65"/></g>
<g fill="#45B049"><circle cx="719.4" cy="1396.8" r="4.65"/></g>
<g fill="#9B48A4"><circle cx="733.5" cy="1334.5" r="4.65"/></g>
<g fill="#45B049"><circle cx="714.2" cy="1384.1" r="4.65"/></g>
<g fill="#9B48A4"><circle cx="679.8" cy="1342.9" r="4.65"/><circle cx="720.6" cy="1383.7" r="4.65"/><circle cx="678.8" cy="1347.4" r="4.65"/></g>
<g fill="#45B049"><circle cx="788.2" cy="1473.5" r="4.65"/></g>
<g fill="#9B48A4"><circle cx="690.6" cy="1348.8" r="4.65"/><circle cx="731.9" cy="1406.8" r="4.65"/><circle cx="710.6" cy="1337.2" r="4.65"/><circle cx="692.4" cy="1347.8" r="4.65"/><circle cx="724.8" cy="1417.7" r="4.65"/></g>
<g fill="#45B049"><circle cx="728.2" cy="1408.2" r="4.65"/></g>
<g fill="#9B48A4"><circle cx="654" cy="1321" r="4.65"/></g>
<g fill="#45B049"><circle cx="761.2" cy="1391.9" r="4.65"/><circle cx="782.8" cy="1458.9" r="4.65"/><circle cx="706.3" cy="1375.1" r="4.65"/><circle cx="796.5" cy="1362.6" r="4.65"/><circle cx="735.8" cy="1395.7" r="4.65"/></g>
<g fill="#9B48A4"><circle cx="689.8" cy="1376.3" r="4.65"/><circle cx="811.1" cy="1420.9" r="4.65"/><circle cx="690.7" cy="1344.4" r="4.65"/><circle cx="706.4" cy="1385" r="4.65"/><circle cx="678.4" cy="1345.3" r="4.65"/><circle cx="699.7" cy="1355.1" r="4.65"/></g>
<g fill="#45B049"><circle cx="736.5" cy="1362.9" r="4.65"/><circle cx="745.7" cy="1335.9" r="4.65"/><circle cx="730.8" cy="1372" r="4.65"/></g>
<g fill="#9B48A4"><circle cx="663.3" cy="1339" r="4.65"/><circle cx="662.6" cy="1341.6" r="4.65"/></g>
<g fill="#45B049"><circle cx="803.3" cy="1446.5" r="4.65"/></g>
<g fill="#9B48A4"><circle cx="725.6" cy="1399" r="4.65"/><circle cx="713" cy="1369.2" r="4.65"/></g>
<g fill="#45B049"><circle cx="747" cy="1454" r="4.65"/><circle cx="713.7" cy="1439.8" r="4.65"/></g>
<g fill="#9B48A4"><circle cx="685" cy="1342.5" r="4.65"/><circle cx="734.1" cy="1425.1" r="4.65"/></g>
<g fill="#45B049"><circle cx="784.1" cy="1418.5" r="4.65"/><circle cx="779.3" cy="1452.5" r="4.65"/><circle cx="743.6" cy="1409.9" r="4.65"/><circle cx="723.9" cy="1368.5" r="4.65"/></g>
<g fill="#9B48A4"><circle cx="679.9" cy="1366.8" r="4.65"/></g>
<g fill="#45B049"><circle cx="698.1" cy="1376.9" r="4.65"/></g>
<g fill="#9B48A4"><circle cx="704" cy="1372" r="4.65"/></g>
<g fill="#45B049"><circle cx="691.1" cy="1352" r="4.65"/><circle cx="787.5" cy="1468.1" r="4.65"/><circle cx="733.7" cy="1360.2" r="4.65"/></g>
<g fill="#9B48A4"><circle cx="702.2" cy="1381.5" r="4.65"/><circle cx="663.3" cy="1365.6" r="4.65"/></g>
<g fill="#45B049"><circle cx="718.4" cy="1460.3" r="4.65"/><circle cx="709.8" cy="1389.7" r="4.65"/></g>
<g fill="#9B48A4"><circle cx="712.8" cy="1394.9" r="4.65"/></g>
<g fill="#45B049"><circle cx="709.8" cy="1403.5" r="4.65"/><circle cx="784.5" cy="1460.2" r="4.65"/></g>
<g fill="#9B48A4"><circle cx="712.4" cy="1400" r="4.65"/></g>
<g fill="#45B049"><circle cx="741.1" cy="1426.4" r="4.65"/><circle cx="812.7" cy="1492.8" r="4.65"/></g>
<g fill="#9B48A4"><circle cx="659" cy="1339.3" r="4.65"/></g>
<g fill="#45B049"><circle cx="677.5" cy="1483" r="4.65"/></g>
<g fill="#9B48A4"><circle cx="719.7" cy="1396.2" r="4.65"/></g>
<g fill="#45B049"><circle cx="682.9" cy="1351.9" r="4.65"/></g>
<g fill="#9B48A4"><circle cx="706.8" cy="1365.6" r="4.65"/></g>
<g fill="#45B049"><circle cx="768.6" cy="1404" r="4.65"/><circle cx="728.3" cy="1363.3" r="4.65"/></g>
<g fill="#9B48A4"><circle cx="740" cy="1352.4" r="4.65"/><circle cx="706.7" cy="1376.5" r="4.65"/><circle cx="671.3" cy="1362.5" r="4.65"/><circle cx="677.5" cy="1371.2" r="4.65"/><circle cx="664.8" cy="1336.7" r="4.65"/></g>
<g fill="#45B049"><circle cx="726.2" cy="1399.7" r="4.65"/><circle cx="731.1" cy="1402.7" r="4.65"/></g>
<g fill="#9B48A4"><circle cx="678.6" cy="1376.2" r="4.65"/><circle cx="720.9" cy="1408.4" r="4.65"/><circle cx="725" cy="1415.7" r="4.65"/></g>
<g fill="#45B049"><circle cx="758.5" cy="1517.1" r="4.65"/><circle cx="701.8" cy="1399.3" r="4.65"/><circle cx="745.7" cy="1422.9" r="4.65"/></g>
<g fill="#9B48A4"><circle cx="687.3" cy="1347.8" r="4.65"/></g>
<g fill="#45B049"><circle cx="723.6" cy="1408.3" r="4.65"/></g>
<g fill="#9B48A4"><circle cx="692.9" cy="1372.8" r="4.65"/></g>
<g fill="#45B049"><circle cx="697.6" cy="1356.2" r="4.65"/></g>
<g fill="#9B48A4"><circle cx="756.5" cy="1443.2" r="4.65"/><circle cx="675.5" cy="1321" r="4.65"/><circle cx="673.8" cy="1346.3" r="4.65"/><circle cx="660.8" cy="1335.6" r="4.65"/><circle cx="741.9" cy="1429.4" r="4.65"/></g>
<g fill="#45B049"><circle cx="776.1" cy="1489.7" r="4.65"/></g>
<g fill="#9B48A4"><circle cx="693.9" cy="1380.7" r="4.65"/></g>
<g fill="#45B049"><circle cx="705.6" cy="1366.3" r="4.65"/><circle cx="717.4" cy="1392.4" r="4.65"/><circle cx="698.4" cy="1331.2" r="4.65"/><circle cx="684.1" cy="1352.7" r="4.65"/><circle cx="719.3" cy="1382.7" r="4.65"/><circle cx="752.4" cy="1335.2" r="4.65"/><circle cx="731.5" cy="1412.6" r="4.65"/><circle cx="723.4" cy="1326.2" r="4.65"/></g>
<g fill="#9B48A4"><circle cx="682.8" cy="1352.5" r="4.65"/></g>
<g fill="#45B049"><circle cx="819.6" cy="1411.2" r="4.65"/><circle cx="696.6" cy="1353" r="4.65"/><circle cx="689.7" cy="1373.2" r="4.65"/><circle cx="710.3" cy="1399.9" r="4.65"/></g>
<g fill="#9B48A4"><circle cx="715.6" cy="1388.6" r="4.65"/></g>
<g fill="#45B049"><circle cx="709.9" cy="1364.1" r="4.65"/><circle cx="699.9" cy="1361.5" r="4.65"/><circle cx="719.2" cy="1412.3" r="4.65"/></g>
<g fill="#9B48A4"><circle cx="776.2" cy="1450.4" r="4.65"/></g>
<g fill="#45B049"><circle cx="705.4" cy="1368.4" r="4.65"/></g>
<g fill="#9B48A4"><circle cx="707.8" cy="1405.8" r="4.65"/></g>
<g fill="#45B049"><circle cx="691.6" cy="1373.9" r="4.65"/><circle cx="874.8" cy="1424.3" r="4.65"/></g>
<g fill="#9B48A4"><circle cx="663.1" cy="1351.1" r="4.65"/><circle cx="713.1" cy="1408.4" r="4.65"/><circle cx="682.3" cy="1377.7" r="4.65"/></g>
<g fill="#45B049"><circle cx="680.7" cy="1356.3" r="4.65"/></g>
<g fill="#9B48A4"><circle cx="732.2" cy="1423.3" r="4.65"/><circle cx="722.1" cy="1411.4" r="4.65"/><circle cx="681.6" cy="1353.2" r="4.65"/><circle cx="714.9" cy="1378.3" r="4.65"/></g>
<g fill="#45B049"><circle cx="693" cy="1402" r="4.65"/></g>
<g fill="#9B48A4"><circle cx="679.6" cy="1339.2" r="4.65"/><circle cx="683.5" cy="1352.4" r="4.65"/></g>
<g fill="#45B049"><circle cx="689.5" cy="1357.8" r="4.65"/><circle cx="720.1" cy="1383.3" r="4.65"/></g>
<g fill="#9B48A4"><circle cx="744.3" cy="1418.9" r="4.65"/><circle cx="659.7" cy="1326.5" r="4.65"/></g>
<g fill="#45B049"><circle cx="734.9" cy="1403.9" r="4.65"/></g>
<g fill="#9B48A4"><circle cx="739.9" cy="1431.5" r="4.65"/></g>
<g fill="#45B049"><circle cx="743" cy="1431.7" r="4.65"/><circle cx="736.6" cy="1396.2" r="4.65"/><circle cx="680.7" cy="1344.7" r="4.65"/></g>
<g fill="#9B48A4"><circle cx="665.3" cy="1333.6" r="4.65"/></g>
<g fill="#45B049"><circle cx="737.6" cy="1420.5" r="4.65"/></g>
<g fill="#9B48A4"><circle cx="724.1" cy="1337.9" r="4.65"/><circle cx="732.5" cy="1342.5" r="4.65"/><circle cx="699.9" cy="1378.8" r="4.65"/></g>
<g fill="#45B049"><circle cx="715" cy="1385.4" r="4.65"/></g>
<g fill="#9B48A4"><circle cx="722.4" cy="1336.6" r="4.65"/></g>
<g fill="#45B049"><circle cx="799.6" cy="1493.8" r="4.65"/></g>
<g fill="#9B48A4"><circle cx="695.4" cy="1374.3" r="4.65"/><circle cx="678.8" cy="1370.8" r="4.65"/></g>
<g fill="#45B049"><circle cx="747" cy="1407.4" r="4.65"/></g>
<g fill="#9B48A4"><circle cx="692.2" cy="1373.9" r="4.65"/></g>
<g fill="#45B049"><circle cx="743.6" cy="1372.3" r="4.65"/><circle cx="769.3" cy="1389.2" r="4.65"/><circle cx="812.5" cy="1493.1" r="4.65"/></g>
<g fill="#9B48A4"><circle cx="662.2" cy="1344" r="4.65"/><circle cx="717" cy="1380" r="4.65"/></g>
<g fill="#45B049"><circle cx="699.6" cy="1381.8" r="4.65"/><circle cx="726.8" cy="1352.5" r="4.65"/></g>
<g fill="#9B48A4"><circle cx="727.7" cy="1395.7" r="4.65"/><circle cx="749.8" cy="1429.4" r="4.65"/></g>
<g fill="#45B049"><circle cx="761.2" cy="1466.5" r="4.65"/><circle cx="819.4" cy="1411.2" r="4.65"/></g>
<g fill="#9B48A4"><circle cx="688.4" cy="1369.3" r="4.65"/><circle cx="704.8" cy="1364.4" r="4.65"/></g>
<g fill="#45B049"><circle cx="721.4" cy="1383.6" r="4.65"/><circle cx="699.6" cy="1349.4" r="4.65"/></g>
<g fill="#9B48A4"><circle cx="690.4" cy="1381.2" r="4.65"/><circle cx="671.8" cy="1358.3" r="4.65"/></g>
<g fill="#45B049"><circle cx="716.6" cy="1339.3" r="4.65"/></g>
<g fill="#9B48A4"><circle cx="712" cy="1322.4" r="4.65"/><circle cx="714.8" cy="1373.3" r="4.65"/><circle cx="658.6" cy="1323.8" r="4.65"/></g>
<g fill="#45B049"><circle cx="683.8" cy="1366.1" r="4.65"/><circle cx="686" cy="1339.7" r="4.65"/></g>
<g fill="#9B48A4"><circle cx="690.9" cy="1353.7" r="4.65"/></g>
<g fill="#45B049"><circle cx="742.3" cy="1437.8" r="4.65"/></g>
<g fill="#9B48A4"><circle cx="683" cy="1353.5" r="4.65"/><circle cx="677.3" cy="1374.5" r="4.65"/></g>
<g fill="#45B049"><circle cx="719.2" cy="1383.8" r="4.65"/><circle cx="713.4" cy="1368.8" r="4.65"/><circle cx="689.6" cy="1358.2" r="4.65"/></g>
<g fill="#9B48A4"><circle cx="763.2" cy="1357.5" r="4.65"/><circle cx="752.4" cy="1429.1" r="4.65"/><circle cx="669.2" cy="1341.9" r="4.65"/><circle cx="691.6" cy="1382.8" r="4.65"/></g>
<g fill="#45B049"><circle cx="735.2" cy="1367.1" r="4.65"/></g>
<g fill="#9B48A4"><circle cx="765.9" cy="1441.8" r="4.65"/></g>
<g fill="#45B049"><circle cx="724.9" cy="1354.4" r="4.65"/><circle cx="739" cy="1427.7" r="4.65"/></g>
<g fill="#9B48A4"><circle cx="751.1" cy="1437.1" r="4.65"/></g>
<g fill="#45B049"><circle cx="706.7" cy="1400.3" r="4.65"/><circle cx="732.8" cy="1398.4" r="4.65"/></g>
<g fill="#9B48A4"><circle cx="722.7" cy="1335.9" r="4.65"/><circle cx="728.1" cy="1417.2" r="4.65"/><circle cx="710.4" cy="1386.4" r="4.65"/><circle cx="722.4" cy="1399.3" r="4.65"/><circle cx="699.9" cy="1386.2" r="4.65"/><circle cx="716.5" cy="1378.4" r="4.65"/><circle cx="687.4" cy="1319.4" r="4.65"/><circle cx="730" cy="1416.9" r="4.65"/></g>
<g fill="#45B049"><circle cx="688.5" cy="1343.8" r="4.65"/></g>
<g fill="#9B48A4"><circle cx="742.3" cy="1346.7" r="4.65"/><circle cx="658" cy="1364.2" r="4.65"/></g>
<g fill="#45B049"><circle cx="744" cy="1461.4" r="4.65"/></g>
<g fill="#9B48A4"><circle cx="673.5" cy="1428.6" r="4.65"/><circle cx="721.9" cy="1389.8" r="4.65"/></g>
<g fill="#45B049"><circle cx="723.1" cy="1390.4" r="4.65"/></g>
<g fill="#9B48A4"><circle cx="701" cy="1361.8" r="4.65"/></g>
<g fill="#45B049"><circle cx="784.4" cy="1471.2" r="4.65"/></g>
<g fill="#9B48A4"><circle cx="705.2" cy="1385.7" r="4.65"/></g>
<g fill="#45B049"><circle cx="819.2" cy="1495.1" r="4.65"/><circle cx="747.5" cy="1433.3" r="4.65"/></g>
<g fill="#9B48A4"><circle cx="671.7" cy="1363.1" r="4.65"/></g>
<g fill="#45B049"><circle cx="725.6" cy="1356" r="4.65"/></g>
<g fill="#9B48A4"><circle cx="742.2" cy="1412.3" r="4.65"/><circle cx="749.5" cy="1427.8" r="4.65"/><circle cx="724.9" cy="1334.8" r="4.65"/></g>
<g fill="#45B049"><circle cx="677.3" cy="1483.4" r="4.65"/><circle cx="698.7" cy="1343.8" r="4.65"/><circle cx="727.1" cy="1385.3" r="4.65"/><circle cx="781.5" cy="1467.1" r="4.65"/></g>
<g fill="#9B48A4"><circle cx="776" cy="1370.3" r="4.65"/><circle cx="694.9" cy="1377.9" r="4.65"/><circle cx="675.7" cy="1368.3" r="4.65"/><circle cx="707.8" cy="1408.2" r="4.65"/><circle cx="761" cy="1447.4" r="4.65"/><circle cx="788.8" cy="1456.7" r="4.65"/><circle cx="668.7" cy="1315" r="4.65"/><circle cx="653" cy="1328" r="4.65"/><circle cx="683.2" cy="1343.9" r="4.65"/></g>
<g fill="#45B049"><circle cx="653.2" cy="1378.1" r="4.65"/><circle cx="687.8" cy="1354.1" r="4.65"/><circle cx="696.1" cy="1349" r="4.65"/></g>
<g fill="#9B48A4"><circle cx="692.6" cy="1350.6" r="4.65"/><circle cx="754.8" cy="1412.5" r="4.65"/></g>
<g fill="#45B049"><circle cx="724.1" cy="1413.8" r="4.65"/></g>
<g fill="#9B48A4"><circle cx="761.2" cy="1439.5" r="4.65"/></g>
<g fill="#45B049"><circle cx="731.1" cy="1408.9" r="4.65"/></g>
<g fill="#9B48A4"><circle cx="770.3" cy="1452.2" r="4.65"/><circle cx="733" cy="1398.8" r="4.65"/></g>
<g fill="#45B049"><circle cx="727.3" cy="1355.6" r="4.65"/><circle cx="696" cy="1343.1" r="4.65"/></g>
<g fill="#9B48A4"><circle cx="702.7" cy="1474.5" r="4.65"/></g>
<g fill="#45B049"><circle cx="682.9" cy="1347.1" r="4.65"/></g>
<g fill="#9B48A4"><circle cx="695.3" cy="1353" r="4.65"/></g>
<g fill="#45B049"><circle cx="770" cy="1449.9" r="4.65"/><circle cx="733.9" cy="1404.5" r="4.65"/><circle cx="745.9" cy="1427.3" r="4.65"/></g>
<g fill="#9B48A4"><circle cx="687.9" cy="1360" r="4.65"/></g>
<g fill="#45B049"><circle cx="742" cy="1411.2" r="4.65"/></g>
<g fill="#9B48A4"><circle cx="741.1" cy="1418.9" r="4.65"/></g>
<g fill="#45B049"><circle cx="751.7" cy="1389.2" r="4.65"/></g>
<g fill="#9B48A4"><circle cx="736.3" cy="1410.5" r="4.65"/><circle cx="722.8" cy="1333" r="4.65"/></g>
<g fill="#45B049"><circle cx="699" cy="1354.6" r="4.65"/></g>
<g fill="#9B48A4"><circle cx="761.9" cy="1404.7" r="4.65"/></g>
<g fill="#45B049"><circle cx="697.8" cy="1374.3" r="4.65"/><circle cx="750.5" cy="1440.4" r="4.65"/><circle cx="729.8" cy="1403" r="4.65"/><circle cx="717" cy="1519.5" r="4.65"/><circle cx="688.4" cy="1347.5" r="4.65"/><circle cx="818.8" cy="1495.5" r="4.65"/></g>
<g fill="#9B48A4"><circle cx="746.4" cy="1422" r="4.65"/></g>
<g fill="#45B049"><circle cx="687.3" cy="1345.6" r="4.65"/><circle cx="726" cy="1401.5" r="4.65"/><circle cx="772.4" cy="1453.1" r="4.65"/><circle cx="686.9" cy="1367.5" r="4.65"/></g>
<g fill="#9B48A4"><circle cx="677.5" cy="1363.3" r="4.65"/></g>
<g fill="#45B049"><circle cx="667.4" cy="1346" r="4.65"/></g>
<g fill="#9B48A4"><circle cx="721.4" cy="1326.9" r="4.65"/><circle cx="662.3" cy="1326.7" r="4.65"/></g>
<g fill="#45B049"><circle cx="700.6" cy="1377.6" r="4.65"/></g>
<g fill="#9B48A4"><circle cx="729.6" cy="1404.7" r="4.65"/></g>
<g fill="#45B049"><circle cx="713.7" cy="1404.8" r="4.65"/></g>
<g fill="#9B48A4"><circle cx="738.2" cy="1421.3" r="4.65"/><circle cx="735.8" cy="1407.4" r="4.65"/></g>
<g fill="#45B049"><circle cx="723.8" cy="1377.7" r="4.65"/></g>
<g fill="#9B48A4"><circle cx="690.2" cy="1379.3" r="4.65"/></g>
<g fill="#45B049"><circle cx="774" cy="1458.7" r="4.65"/></g>
<g fill="#9B48A4"><circle cx="696.5" cy="1372.9" r="4.65"/><circle cx="710.3" cy="1383.4" r="4.65"/><circle cx="720.1" cy="1394.5" r="4.65"/><circle cx="676.5" cy="1366.7" r="4.65"/></g>
<g fill="#45B049"><circle cx="740.9" cy="1357.5" r="4.65"/></g>
<g fill="#9B48A4"><circle cx="714.7" cy="1328.4" r="4.65"/><circle cx="777.5" cy="1455.4" r="4.65"/></g>
<g fill="#45B049"><circle cx="707.6" cy="1395.3" r="4.65"/></g>
<g fill="#9B48A4"><circle cx="745.4" cy="1432.9" r="4.65"/></g>
<g fill="#45B049"><circle cx="730.8" cy="1407" r="4.65"/></g>
<g fill="#9B48A4"><circle cx="764.6" cy="1459.4" r="4.65"/><circle cx="655" cy="1330.8" r="4.65"/></g>
<g fill="#45B049"><circle cx="715.1" cy="1394.3" r="4.65"/><circle cx="690.6" cy="1358" r="4.65"/></g>
<g fill="#9B48A4"><circle cx="706.5" cy="1406.9" r="4.65"/><circle cx="715.6" cy="1408.8" r="4.65"/><circle cx="673.1" cy="1328.5" r="4.65"/></g>
<g fill="#45B049"><circle cx="792.6" cy="1419.3" r="4.65"/><circle cx="711.1" cy="1402.6" r="4.65"/><circle cx="702.2" cy="1469.5" r="4.65"/></g>
<g fill="#9B48A4"><circle cx="720.6" cy="1332.9" r="4.65"/></g>
<g fill="#45B049"><circle cx="789.3" cy="1454" r="4.65"/></g>
<g fill="#9B48A4"><circle cx="715.6" cy="1329.9" r="4.65"/></g>
<g fill="#45B049"><circle cx="766" cy="1449.9" r="4.65"/></g>
<g fill="#9B48A4"><circle cx="704.8" cy="1379.9" r="4.65"/><circle cx="776.5" cy="1452.2" r="4.65"/></g>
<g fill="#45B049"><circle cx="756.5" cy="1439.8" r="4.65"/></g>
<g fill="#9B48A4"><circle cx="704.5" cy="1364.1" r="4.65"/><circle cx="723.1" cy="1396.7" r="4.65"/></g>
<g fill="#45B049"><circle cx="830.2" cy="1456.4" r="4.65"/><circle cx="749.7" cy="1402" r="4.65"/><circle cx="720.9" cy="1368.6" r="4.65"/></g>
<g fill="#9B48A4"><circle cx="739.3" cy="1352.6" r="4.65"/><circle cx="749" cy="1431.1" r="4.65"/><circle cx="686.5" cy="1352.4" r="4.65"/></g>
<g fill="#45B049"><circle cx="723.7" cy="1407.5" r="4.65"/><circle cx="706.9" cy="1385" r="4.65"/></g>
<g fill="#9B48A4"><circle cx="735" cy="1421.6" r="4.65"/></g>
<g fill="#45B049"><circle cx="682.8" cy="1342.4" r="4.65"/><circle cx="728.8" cy="1392.9" r="4.65"/><circle cx="761.2" cy="1331.2" r="4.65"/><circle cx="749.7" cy="1431" r="4.65"/></g>
<g fill="#9B48A4"><circle cx="681" cy="1336.8" r="4.65"/><circle cx="699.7" cy="1382.2" r="4.65"/><circle cx="692.9" cy="1360.8" r="4.65"/><circle cx="733.6" cy="1341.2" r="4.65"/></g>
<g fill="#45B049"><circle cx="699.1" cy="1358.5" r="4.65"/></g>
<g fill="#9B48A4"><circle cx="751.7" cy="1441.6" r="4.65"/></g>
<g fill="#45B049"><circle cx="717.6" cy="1398.8" r="4.65"/><circle cx="691.7" cy="1344.7" r="4.65"/><circle cx="722.8" cy="1389.7" r="4.65"/><circle cx="753.8" cy="1383.1" r="4.65"/><circle cx="743" cy="1426.9" r="4.65"/><circle cx="682.2" cy="1417.9" r="4.65"/></g>
<g fill="#9B48A4"><circle cx="731.9" cy="1421.7" r="4.65"/><circle cx="662" cy="1322.4" r="4.65"/></g>
<g fill="#45B049"><circle cx="753" cy="1440.9" r="4.65"/><circle cx="764.6" cy="1360.9" r="4.65"/><circle cx="756.5" cy="1370.3" r="4.65"/></g>
<g fill="#9B48A4"><circle cx="659.5" cy="1334.7" r="4.65"/></g>
<g fill="#45B049"><circle cx="729.2" cy="1396.2" r="4.65"/></g>
<g fill="#9B48A4"><circle cx="767.1" cy="1445.7" r="4.65"/><circle cx="672.4" cy="1340.9" r="4.65"/></g>
<g fill="#45B049"><circle cx="726" cy="1358.1" r="4.65"/><circle cx="727.2" cy="1391.2" r="4.65"/><circle cx="730.2" cy="1361.4" r="4.65"/><circle cx="700.7" cy="1351.2" r="4.65"/><circle cx="767.8" cy="1441.7" r="4.65"/></g>
<g fill="#9B48A4"><circle cx="723.7" cy="1416.3" r="4.65"/><circle cx="769.4" cy="1443.6" r="4.65"/><circle cx="677.3" cy="1362.6" r="4.65"/></g>
<g fill="#45B049"><circle cx="726.4" cy="1366.6" r="4.65"/></g>
<g fill="#9B48A4"><circle cx="667.7" cy="1355.1" r="4.65"/></g>
<g fill="#45B049"><circle cx="788.8" cy="1375.4" r="4.65"/><circle cx="721" cy="1394.8" r="4.65"/></g>
<g fill="#9B48A4"><circle cx="717.1" cy="1398.7" r="4.65"/></g>
<g fill="#45B049"><circle cx="677.9" cy="1357" r="4.65"/><circle cx="680.2" cy="1339.9" r="4.65"/></g>
<g fill="#9B48A4"><circle cx="713.5" cy="1372.5" r="4.65"/><circle cx="722.8" cy="1386.2" r="4.65"/></g>
<g fill="#45B049"><circle cx="723" cy="1362" r="4.65"/></g>
<g fill="#9B48A4"><circle cx="707.6" cy="1366.8" r="4.65"/></g>
<g fill="#45B049"><circle cx="778.7" cy="1453.3" r="4.65"/></g>
<g fill="#9B48A4"><circle cx="716.1" cy="1373.4" r="4.65"/><circle cx="743.8" cy="1429.3" r="4.65"/></g>
<g fill="#45B049"><circle cx="794.9" cy="1430.6" r="4.65"/><circle cx="699.9" cy="1393.1" r="4.65"/><circle cx="688.8" cy="1355.8" r="4.65"/></g>
<g fill="#9B48A4"><circle cx="755.8" cy="1364.9" r="4.65"/><circle cx="683" cy="1342.1" r="4.65"/><circle cx="699.6" cy="1391.3" r="4.65"/></g>
<g fill="#45B049"><circle cx="695.5" cy="1384.5" r="4.65"/><circle cx="724.4" cy="1353.2" r="4.65"/><circle cx="732.7" cy="1393.5" r="4.65"/></g>
<g fill="#9B48A4"><circle cx="702.1" cy="1398.7" r="4.65"/><circle cx="757.3" cy="1442.9" r="4.65"/></g>
<g fill="#45B049"><circle cx="757.8" cy="1421.6" r="4.65"/></g>
<g fill="#9B48A4"><circle cx="749.5" cy="1423.6" r="4.65"/><circle cx="747" cy="1356.8" r="4.65"/><circle cx="760.3" cy="1443.8" r="4.65"/></g>
<g fill="#45B049"><circle cx="718.7" cy="1364.3" r="4.65"/><circle cx="685.5" cy="1357" r="4.65"/></g>
<g fill="#9B48A4"><circle cx="716.4" cy="1327.3" r="4.65"/></g>
<g fill="#45B049"><circle cx="755.8" cy="1450.6" r="4.65"/><circle cx="746.6" cy="1431.8" r="4.65"/></g>
<g fill="#9B48A4"><circle cx="685.4" cy="1363.3" r="4.65"/><circle cx="811.3" cy="1421.3" r="4.65"/></g>
<g fill="#45B049"><circle cx="745" cy="1422.7" r="4.65"/></g>
<g fill="#9B48A4"><circle cx="692.7" cy="1350.7" r="4.65"/></g>
<g fill="#45B049"><circle cx="689" cy="1399.3" r="4.65"/></g>
<g fill="#9B48A4"><circle cx="705.7" cy="1404.5" r="4.65"/></g>
<g fill="#45B049"><circle cx="702.3" cy="1347.1" r="4.65"/></g>
<g fill="#9B48A4"><circle cx="691.3" cy="1387.5" r="4.65"/><circle cx="679" cy="1352.2" r="4.65"/></g>
<g fill="#45B049"><circle cx="697.1" cy="1353.1" r="4.65"/></g>
<g fill="#9B48A4"><circle cx="721.5" cy="1341" r="4.65"/><circle cx="710.5" cy="1409.7" r="4.65"/><circle cx="717.3" cy="1327.1" r="4.65"/><circle cx="674.9" cy="1328.6" r="4.65"/></g>
<g fill="#45B049"><circle cx="718.4" cy="1403.3" r="4.65"/><circle cx="712.3" cy="1376" r="4.65"/><circle cx="800.3" cy="1490.4" r="4.65"/></g>
<g fill="#9B48A4"><circle cx="772.9" cy="1455.9" r="4.65"/><circle cx="733.2" cy="1355" r="4.65"/></g>
<g fill="#45B049"><circle cx="718.2" cy="1356.7" r="4.65"/></g>
<g fill="#9B48A4"><circle cx="682.2" cy="1327.8" r="4.65"/><circle cx="671.6" cy="1345.6" r="4.65"/></g>
<g fill="#45B049"><circle cx="729.1" cy="1470.2" r="4.65"/></g>
<g fill="#9B48A4"><circle cx="723.4" cy="1407.9" r="4.65"/></g>
<g fill="#45B049"><circle cx="750.5" cy="1439.3" r="4.65"/><circle cx="776" cy="1489.7" r="4.65"/></g>
<g fill="#EF82B7"><circle cx="802.8" cy="1500" r="4.65"/><circle cx="798.5" cy="1503.4" r="4.65"/><circle cx="800.9" cy="1503.1" r="4.65"/><circle cx="797.7" cy="1507.3" r="4.65"/><circle cx="801.2" cy="1511" r="4.65"/><circle cx="796.3" cy="1500.5" r="4.65"/><circle cx="800.3" cy="1498.3" r="4.65"/><circle cx="798.6" cy="1510.2" r="4.65"/><circle cx="795" cy="1502.4" r="4.65"/><circle cx="797.3" cy="1509.5" r="4.65"/><circle cx="799.2" cy="1499.4" r="4.65"/><circle cx="802.1" cy="1510.2" r="4.65"/><circle cx="797.8" cy="1511.8" r="4.65"/><circle cx="805.9" cy="1510.3" r="4.65"/><circle cx="798.3" cy="1499.1" r="4.65"/><circle cx="797.4" cy="1513.5" r="4.65"/><circle cx="796.9" cy="1511.5" r="4.65"/><circle cx="801.6" cy="1507.9" r="4.65"/><circle cx="796.1" cy="1508" r="4.65"/><circle cx="805.7" cy="1510.8" r="4.65"/><circle cx="796.3" cy="1500.4" r="4.65"/><circle cx="798.8" cy="1498.8" r="4.65"/><circle cx="799.1" cy="1498.7" r="4.65"/><circle cx="798.7" cy="1506.6" r="4.65"/><circle cx="805.9" cy="1510.1" r="4.65"/><circle cx="799.8" cy="1513" r="4.65"/><circle cx="795.9" cy="1509.9" r="4.65"/><circle cx="796.3" cy="1502.8" r="4.65"/><circle cx="795.4" cy="1501.1" r="4.65"/><circle cx="803.5" cy="1507.4" r="4.65"/><circle cx="796.7" cy="1507.3" r="4.65"/><circle cx="800" cy="1500.7" r="4.65"/><circle cx="795.9" cy="1507.1" r="4.65"/><circle cx="795.6" cy="1505.6" r="4.65"/><circle cx="801.9" cy="1502.1" r="4.65"/><circle cx="798.1" cy="1508.9" r="4.65"/><circle cx="802.9" cy="1510.4" r="4.65"/><circle cx="796.4" cy="1505" r="4.65"/><circle cx="797.1" cy="1509.4" r="4.65"/><circle cx="798.9" cy="1498.2" r="4.65"/><circle cx="798.8" cy="1498.8" r="4.65"/><circle cx="796.7" cy="1510.4" r="4.65"/><circle cx="801.8" cy="1507.7" r="4.65"/><circle cx="798.7" cy="1507.6" r="4.65"/><circle cx="796.9" cy="1500.3" r="4.65"/><circle cx="791.5" cy="1495.1" r="4.65"/><circle cx="790.9" cy="1495.5" r="4.65"/><circle cx="794" cy="1498" r="4.65"/><circle cx="815.2" cy="1503.6" r="4.65"/><circle cx="811" cy="1502" r="4.65"/><circle cx="828.7" cy="1489.4" r="4.65"/><circle cx="815.4" cy="1503.6" r="4.65"/></g>
<g fill="#45B049"><circle cx="800.1" cy="1491.5" r="4.65"/><circle cx="800.3" cy="1494" r="4.65"/><circle cx="812.5" cy="1492.8" r="4.65"/><circle cx="819.2" cy="1495.5" r="4.65"/></g>
<g fill="#B35A25"><circle cx="779.4" cy="1623.6" r="4.65"/><circle cx="777.1" cy="1640.5" r="4.65"/><circle cx="786.3" cy="1589.7" r="4.65"/><circle cx="782.1" cy="1612.1" r="4.65"/><circle cx="765.7" cy="1672.9" r="4.65"/><circle cx="764.7" cy="1682.5" r="4.65"/><circle cx="771.3" cy="1663.4" r="4.65"/><circle cx="782.4" cy="1614.5" r="4.65"/><circle cx="764.1" cy="1677" r="4.65"/><circle cx="761.7" cy="1696.6" r="4.65"/><circle cx="773.2" cy="1649.5" r="4.65"/><circle cx="767.4" cy="1681.5" r="4.65"/><circle cx="772" cy="1648.2" r="4.65"/><circle cx="773.3" cy="1647.3" r="4.65"/><circle cx="784.7" cy="1592.6" r="4.65"/><circle cx="792.6" cy="1571.8" r="4.65"/><circle cx="780.7" cy="1627.9" r="4.65"/><circle cx="769.6" cy="1667.2" r="4.65"/><circle cx="769.9" cy="1651.1" r="4.65"/><circle cx="765.2" cy="1688.6" r="4.65"/><circle cx="773.2" cy="1639.4" r="4.65"/><circle cx="761.5" cy="1694.4" r="4.65"/><circle cx="788.1" cy="1574.3" r="4.65"/><circle cx="758.5" cy="1693.6" r="4.65"/><circle cx="763.2" cy="1683.7" r="4.65"/><circle cx="786.5" cy="1602.5" r="4.65"/><circle cx="780.5" cy="1624.9" r="4.65"/><circle cx="778.7" cy="1616.6" r="4.65"/><circle cx="764.2" cy="1690.8" r="4.65"/><circle cx="783.8" cy="1614" r="4.65"/><circle cx="776.6" cy="1624.7" r="4.65"/><circle cx="781.9" cy="1606.8" r="4.65"/><circle cx="775.3" cy="1649.4" r="4.65"/><circle cx="774.2" cy="1657.1" r="4.65"/><circle cx="780.5" cy="1615.6" r="4.65"/><circle cx="760.9" cy="1685.5" r="4.65"/><circle cx="777.2" cy="1640.8" r="4.65"/><circle cx="787.5" cy="1581.3" r="4.65"/><circle cx="779.5" cy="1630.1" r="4.65"/><circle cx="782.5" cy="1598.3" r="4.65"/><circle cx="770" cy="1666.1" r="4.65"/><circle cx="771.7" cy="1649.2" r="4.65"/><circle cx="774.8" cy="1639.6" r="4.65"/><circle cx="764.3" cy="1677" r="4.65"/><circle cx="760.6" cy="1700" r="4.65"/><circle cx="765.8" cy="1665.2" r="4.65"/><circle cx="775.9" cy="1638.4" r="4.65"/><circle cx="764.8" cy="1674.3" r="4.65"/><circle cx="776.2" cy="1643.2" r="4.65"/><circle cx="772.7" cy="1659.8" r="4.65"/><circle cx="786.3" cy="1585.8" r="4.65"/><circle cx="771.4" cy="1667.2" r="4.65"/><circle cx="783.5" cy="1606.1" r="4.65"/><circle cx="761.1" cy="1686.6" r="4.65"/><circle cx="787.9" cy="1576.2" r="4.65"/><circle cx="772.6" cy="1644.7" r="4.65"/><circle cx="770.1" cy="1650.2" r="4.65"/><circle cx="782.9" cy="1618.1" r="4.65"/><circle cx="768.9" cy="1667.3" r="4.65"/><circle cx="765.9" cy="1666" r="4.65"/><circle cx="765.6" cy="1669.7" r="4.65"/><circle cx="789.4" cy="1578.3" r="4.65"/><circle cx="775.5" cy="1635.1" r="4.65"/><circle cx="770.5" cy="1656.4" r="4.65"/><circle cx="787.4" cy="1586.8" r="4.65"/><circle cx="768.8" cy="1665.2" r="4.65"/><circle cx="777.1" cy="1640.4" r="4.65"/><circle cx="774.2" cy="1637.7" r="4.65"/><circle cx="782.5" cy="1610.9" r="4.65"/><circle cx="773.9" cy="1645" r="4.65"/><circle cx="764.8" cy="1682.8" r="4.65"/><circle cx="769.2" cy="1670.3" r="4.65"/><circle cx="781" cy="1608.4" r="4.65"/><circle cx="774.2" cy="1640.5" r="4.65"/><circle cx="772.4" cy="1654.7" r="4.65"/><circle cx="768.6" cy="1676.2" r="4.65"/><circle cx="761.3" cy="1697" r="4.65"/><circle cx="786.3" cy="1589.3" r="4.65"/><circle cx="781.9" cy="1616.6" r="4.65"/><circle cx="770" cy="1653.9" r="4.65"/><circle cx="762.6" cy="1695.4" r="4.65"/><circle cx="783.1" cy="1601.6" r="4.65"/><circle cx="775.4" cy="1633.5" r="4.65"/><circle cx="772.7" cy="1653" r="4.65"/><circle cx="789.6" cy="1574.2" r="4.65"/><circle cx="781" cy="1628.2" r="4.65"/><circle cx="777.5" cy="1627.6" r="4.65"/><circle cx="768.2" cy="1674" r="4.65"/><circle cx="783.8" cy="1603.8" r="4.65"/><circle cx="788.1" cy="1581.6" r="4.65"/><circle cx="774.9" cy="1641" r="4.65"/><circle cx="769" cy="1661.4" r="4.65"/><circle cx="783.7" cy="1603.2" r="4.65"/><circle cx="786.8" cy="1592.4" r="4.65"/><circle cx="776.6" cy="1645.4" r="4.65"/><circle cx="781" cy="1619.4" r="4.65"/><circle cx="760.2" cy="1692.7" r="4.65"/><circle cx="788.8" cy="1580.9" r="4.65"/><circle cx="789.5" cy="1583.9" r="4.65"/><circle cx="782.7" cy="1604.8" r="4.65"/><circle cx="761.4" cy="1686.7" r="4.65"/><circle cx="773.4" cy="1648" r="4.65"/><circle cx="773.8" cy="1636.2" r="4.65"/><circle cx="773.8" cy="1647.5" r="4.65"/><circle cx="775.8" cy="1630.1" r="4.65"/><circle cx="782.5" cy="1622" r="4.65"/><circle cx="785.1" cy="1598.1" r="4.65"/><circle cx="784.4" cy="1590.9" r="4.65"/><circle cx="790.6" cy="1574.3" r="4.65"/><circle cx="783.4" cy="1596.9" r="4.65"/><circle cx="790.7" cy="1575.7" r="4.65"/><circle cx="772.4" cy="1642.1" r="4.65"/><circle cx="760.5" cy="1689.8" r="4.65"/><circle cx="774.3" cy="1637" r="4.65"/><circle cx="778.8" cy="1631.5" r="4.65"/><circle cx="762.8" cy="1689.5" r="4.65"/><circle cx="778" cy="1628.9" r="4.65"/><circle cx="766" cy="1670.5" r="4.65"/><circle cx="790.3" cy="1575.2" r="4.65"/><circle cx="778.2" cy="1623.1" r="4.65"/><circle cx="777.8" cy="1641.6" r="4.65"/><circle cx="778.9" cy="1636.1" r="4.65"/><circle cx="791.3" cy="1572.1" r="4.65"/><circle cx="776" cy="1633.1" r="4.65"/><circle cx="783.9" cy="1594.6" r="4.65"/><circle cx="782.1" cy="1614.6" r="4.65"/><circle cx="760.1" cy="1693" r="4.65"/><circle cx="767.3" cy="1682.4" r="4.65"/><circle cx="780.9" cy="1614.5" r="4.65"/><circle cx="778" cy="1620.4" r="4.65"/><circle cx="787.4" cy="1583.1" r="4.65"/><circle cx="780.7" cy="1616.8" r="4.65"/><circle cx="785.3" cy="1588.7" r="4.65"/><circle cx="773.7" cy="1657.7" r="4.65"/><circle cx="778.3" cy="1625.6" r="4.65"/><circle cx="778.1" cy="1621.6" r="4.65"/><circle cx="760.9" cy="1694.1" r="4.65"/><circle cx="788.6" cy="1579.6" r="4.65"/><circle cx="775.3" cy="1649.4" r="4.65"/><circle cx="763.9" cy="1679.3" r="4.65"/><circle cx="783.3" cy="1613.6" r="4.65"/><circle cx="764.8" cy="1682.3" r="4.65"/><circle cx="778.8" cy="1623.3" r="4.65"/><circle cx="773.5" cy="1654.6" r="4.65"/><circle cx="768.8" cy="1676.5" r="4.65"/><circle cx="757.6" cy="1698.7" r="4.65"/><circle cx="782" cy="1624.3" r="4.65"/><circle cx="760.9" cy="1685.3" r="4.65"/><circle cx="777.8" cy="1627" r="4.65"/><circle cx="764.4" cy="1686.6" r="4.65"/><circle cx="778.3" cy="1628.9" r="4.65"/><circle cx="784.2" cy="1611" r="4.65"/><circle cx="777.9" cy="1624.2" r="4.65"/><circle cx="780.1" cy="1627.3" r="4.65"/><circle cx="787.1" cy="1590.8" r="4.65"/><circle cx="783.5" cy="1609.8" r="4.65"/><circle cx="775.5" cy="1629.2" r="4.65"/><circle cx="779.9" cy="1620.6" r="4.65"/><circle cx="785.5" cy="1593.4" r="4.65"/><circle cx="778" cy="1638.6" r="4.65"/><circle cx="775.7" cy="1626.4" r="4.65"/><circle cx="785.3" cy="1599.7" r="4.65"/><circle cx="759.9" cy="1697.1" r="4.65"/><circle cx="776.3" cy="1645.2" r="4.65"/><circle cx="772.2" cy="1639.8" r="4.65"/><circle cx="787.8" cy="1575.3" r="4.65"/><circle cx="767.2" cy="1672.7" r="4.65"/><circle cx="771.7" cy="1653.7" r="4.65"/><circle cx="778.1" cy="1627.3" r="4.65"/><circle cx="781.5" cy="1619.1" r="4.65"/><circle cx="786.2" cy="1586.8" r="4.65"/><circle cx="791.8" cy="1573.7" r="4.65"/><circle cx="775.5" cy="1650.7" r="4.65"/><circle cx="771" cy="1667.3" r="4.65"/><circle cx="761.9" cy="1690.1" r="4.65"/><circle cx="779" cy="1615.5" r="4.65"/><circle cx="786.1" cy="1583.5" r="4.65"/><circle cx="766.1" cy="1674.3" r="4.65"/><circle cx="772.3" cy="1653.2" r="4.65"/><circle cx="768.6" cy="1657.1" r="4.65"/><circle cx="781.6" cy="1614.8" r="4.65"/><circle cx="788.6" cy="1577" r="4.65"/><circle cx="773.3" cy="1652.2" r="4.65"/><circle cx="771.2" cy="1651.6" r="4.65"/><circle cx="769" cy="1671" r="4.65"/><circle cx="783.4" cy="1595.4" r="4.65"/><circle cx="764.3" cy="1682.3" r="4.65"/><circle cx="767.8" cy="1671.9" r="4.65"/><circle cx="771.5" cy="1662.8" r="4.65"/><circle cx="765.2" cy="1670.1" r="4.65"/><circle cx="774.1" cy="1646.2" r="4.65"/><circle cx="766.8" cy="1677.4" r="4.65"/><circle cx="761.9" cy="1699" r="4.65"/><circle cx="774.9" cy="1648.9" r="4.65"/><circle cx="783.3" cy="1616.8" r="4.65"/><circle cx="785.6" cy="1590.7" r="4.65"/><circle cx="759.1" cy="1693.3" r="4.65"/><circle cx="778.6" cy="1617.9" r="4.65"/><circle cx="778.2" cy="1632.3" r="4.65"/><circle cx="769.8" cy="1658.2" r="4.65"/><circle cx="769.5" cy="1663.3" r="4.65"/><circle cx="781.4" cy="1624.4" r="4.65"/><circle cx="787.1" cy="1587.1" r="4.65"/><circle cx="790.8" cy="1573.6" r="4.65"/><circle cx="771.9" cy="1662.1" r="4.65"/><circle cx="784.2" cy="1611.5" r="4.65"/><circle cx="770.3" cy="1655.7" r="4.65"/><circle cx="784.3" cy="1610.4" r="4.65"/><circle cx="777.8" cy="1634.5" r="4.65"/><circle cx="773.2" cy="1641.3" r="4.65"/><circle cx="774.4" cy="1637.9" r="4.65"/><circle cx="762.1" cy="1687" r="4.65"/><circle cx="765.3" cy="1674.1" r="4.65"/><circle cx="763.9" cy="1689.2" r="4.65"/><circle cx="791.2" cy="1574.6" r="4.65"/><circle cx="757.7" cy="1697.6" r="4.65"/><circle cx="769.3" cy="1666.4" r="4.65"/><circle cx="790.6" cy="1578.6" r="4.65"/><circle cx="779.7" cy="1612.8" r="4.65"/><circle cx="777.1" cy="1631.4" r="4.65"/><circle cx="775.1" cy="1643.7" r="4.65"/><circle cx="777.9" cy="1620.5" r="4.65"/><circle cx="768.4" cy="1660.9" r="4.65"/><circle cx="776.4" cy="1644.9" r="4.65"/><circle cx="757.2" cy="1698.4" r="4.65"/><circle cx="789.2" cy="1572.7" r="4.65"/><circle cx="764.6" cy="1677.7" r="4.65"/><circle cx="776.8" cy="1626.6" r="4.65"/><circle cx="790.1" cy="1574.9" r="4.65"/><circle cx="768.1" cy="1655.6" r="4.65"/><circle cx="795.9" cy="1549.2" r="4.65"/><circle cx="794.3" cy="1567" r="4.65"/><circle cx="797.4" cy="1624.8" r="4.65"/><circle cx="783.8" cy="1652.7" r="4.65"/><circle cx="777.4" cy="1662.2" r="4.65"/><circle cx="770.7" cy="1681.8" r="4.65"/><circle cx="782.1" cy="1637.9" r="4.65"/><circle cx="757.5" cy="1703.5" r="4.65"/><circle cx="758.5" cy="1701" r="4.65"/></g>
<g fill="#E51F26"><circle cx="882.7" cy="1473.5" r="4.65"/><circle cx="883.3" cy="1467.5" r="4.65"/><circle cx="920.7" cy="1450.4" r="4.65"/><circle cx="901" cy="1455.2" r="4.65"/><circle cx="898.6" cy="1463.5" r="4.65"/><circle cx="951.7" cy="1434" r="4.65"/><circle cx="956.2" cy="1431.3" r="4.65"/><circle cx="962.5" cy="1423.2" r="4.65"/><circle cx="961" cy="1425.2" r="4.65"/><circle cx="877.4" cy="1471.5" r="4.65"/><circle cx="896" cy="1462.3" r="4.65"/><circle cx="891.3" cy="1467.2" r="4.65"/><circle cx="888.8" cy="1462.7" r="4.65"/><circle cx="901" cy="1454.6" r="4.65"/><circle cx="965.2" cy="1419.5" r="4.65"/><circle cx="926.9" cy="1445" r="4.65"/><circle cx="901.3" cy="1461.2" r="4.65"/><circle cx="909.7" cy="1454.6" r="4.65"/><circle cx="918.8" cy="1446.9" r="4.65"/><circle cx="873.5" cy="1472.1" r="4.65"/><circle cx="964.8" cy="1420.1" r="4.65"/><circle cx="925.1" cy="1450.9" r="4.65"/><circle cx="924.5" cy="1450.6" r="4.65"/><circle cx="959.8" cy="1429.1" r="4.65"/><circle cx="881.1" cy="1473.9" r="4.65"/><circle cx="886.1" cy="1468.7" r="4.65"/><circle cx="966.3" cy="1419.8" r="4.65"/><circle cx="915.4" cy="1446.6" r="4.65"/><circle cx="910.5" cy="1457.8" r="4.65"/><circle cx="931.5" cy="1436.3" r="4.65"/><circle cx="924.1" cy="1449.5" r="4.65"/><circle cx="907" cy="1455.5" r="4.65"/><circle cx="881.8" cy="1474.1" r="4.65"/><circle cx="901.4" cy="1455.7" r="4.65"/><circle cx="953.4" cy="1424.7" r="4.65"/><circle cx="929" cy="1442.9" r="4.65"/><circle cx="881.2" cy="1473" r="4.65"/><circle cx="939" cy="1432.5" r="4.65"/><circle cx="886.8" cy="1464.2" r="4.65"/><circle cx="871.6" cy="1475.3" r="4.65"/><circle cx="874.7" cy="1475.1" r="4.65"/><circle cx="950.6" cy="1430.7" r="4.65"/><circle cx="900.8" cy="1455.4" r="4.65"/><circle cx="953.1" cy="1425.9" r="4.65"/><circle cx="938.2" cy="1441" r="4.65"/><circle cx="896.3" cy="1459.4" r="4.65"/><circle cx="907.5" cy="1451.5" r="4.65"/><circle cx="889.4" cy="1467" r="4.65"/><circle cx="882.9" cy="1466.3" r="4.65"/><circle cx="916.5" cy="1455.4" r="4.65"/><circle cx="958.2" cy="1429.8" r="4.65"/><circle cx="887.4" cy="1470.7" r="4.65"/><circle cx="878.7" cy="1473.6" r="4.65"/><circle cx="902.7" cy="1460.2" r="4.65"/><circle cx="951.9" cy="1430.8" r="4.65"/><circle cx="901" cy="1454.5" r="4.65"/><circle cx="914.2" cy="1454.1" r="4.65"/><circle cx="901" cy="1455.3" r="4.65"/><circle cx="943.9" cy="1437.1" r="4.65"/><circle cx="906" cy="1460.1" r="4.65"/><circle cx="901.7" cy="1463.2" r="4.65"/><circle cx="952.1" cy="1426.5" r="4.65"/><circle cx="895.7" cy="1463.9" r="4.65"/><circle cx="916.7" cy="1452.1" r="4.65"/><circle cx="921.9" cy="1450.2" r="4.65"/><circle cx="913.9" cy="1451.8" r="4.65"/><circle cx="936.6" cy="1438.8" r="4.65"/><circle cx="895.8" cy="1458.8" r="4.65"/><circle cx="896.6" cy="1457.4" r="4.65"/><circle cx="927" cy="1443" r="4.65"/><circle cx="909" cy="1460" r="4.65"/><circle cx="905.4" cy="1457.2" r="4.65"/><circle cx="935.5" cy="1440.5" r="4.65"/><circle cx="931" cy="1441.8" r="4.65"/><circle cx="872.4" cy="1478.3" r="4.65"/><circle cx="885.6" cy="1408.1" r="4.65"/><circle cx="932.5" cy="1402.7" r="4.65"/><circle cx="977.3" cy="1420.2" r="4.65"/><circle cx="918" cy="1463.8" r="4.65"/><circle cx="923.1" cy="1470.5" r="4.65"/><circle cx="909.6" cy="1472.3" r="4.65"/><circle cx="898.4" cy="1480.4" r="4.65"/><circle cx="874.8" cy="1472.6" r="4.65"/><circle cx="878.8" cy="1473.2" r="4.65"/><circle cx="888.9" cy="1463.1" r="4.65"/><circle cx="962" cy="1421" r="4.65"/><circle cx="966" cy="1420.5" r="4.65"/></g>
<g fill="#F6821F"><circle cx="945.3" cy="1437.4" r="4.65"/><circle cx="903.7" cy="1457.8" r="4.65"/><circle cx="906.6" cy="1458.5" r="4.65"/><circle cx="901.9" cy="1458.8" r="4.65"/><circle cx="900.9" cy="1455" r="4.65"/><circle cx="944.7" cy="1436.9" r="4.65"/><circle cx="894.2" cy="1461.2" r="4.65"/></g>
<g fill="#E51F26"><circle cx="892.1" cy="1464.3" r="4.65"/><circle cx="907.6" cy="1451" r="4.65"/></g>
<g fill="#F6821F"><circle cx="914.1" cy="1451.5" r="4.65"/><circle cx="934.8" cy="1441.4" r="4.65"/></g>
<g fill="#E51F26"><circle cx="903.9" cy="1460.4" r="4.65"/></g>
<g fill="#F6821F"><circle cx="939.1" cy="1442.6" r="4.65"/><circle cx="866" cy="1476.2" r="4.65"/><circle cx="956.8" cy="1428.5" r="4.65"/><circle cx="922.2" cy="1450.1" r="4.65"/><circle cx="959.5" cy="1428.5" r="4.65"/><circle cx="968.4" cy="1423.3" r="4.65"/></g>
<g fill="#E51F26"><circle cx="931.6" cy="1443" r="4.65"/><circle cx="876.3" cy="1473.4" r="4.65"/></g>
<g fill="#F6821F"><circle cx="874.2" cy="1473.5" r="4.65"/><circle cx="883.2" cy="1464.6" r="4.65"/><circle cx="962.7" cy="1429.4" r="4.65"/><circle cx="938.8" cy="1441.2" r="4.65"/><circle cx="908.5" cy="1457.2" r="4.65"/><circle cx="925.1" cy="1445.8" r="4.65"/></g>
<g fill="#E51F26"><circle cx="893.9" cy="1463.7" r="4.65"/></g>
<g fill="#F6821F"><circle cx="915" cy="1447.1" r="4.65"/><circle cx="953.3" cy="1432.4" r="4.65"/><circle cx="880.1" cy="1466.6" r="4.65"/><circle cx="942.2" cy="1439.3" r="4.65"/><circle cx="921.9" cy="1449" r="4.65"/><circle cx="937.1" cy="1443.7" r="4.65"/><circle cx="950.6" cy="1431.7" r="4.65"/><circle cx="936.9" cy="1441.8" r="4.65"/><circle cx="899.6" cy="1455.8" r="4.65"/><circle cx="948.5" cy="1431.6" r="4.65"/></g>
<g fill="#E51F26"><circle cx="875" cy="1471.9" r="4.65"/></g>
<g fill="#F6821F"><circle cx="876.4" cy="1470.6" r="4.65"/><circle cx="876.5" cy="1470.9" r="4.65"/></g>
<g fill="#E51F26"><circle cx="927.3" cy="1444.2" r="4.65"/></g>
<g fill="#F6821F"><circle cx="951.2" cy="1435.9" r="4.65"/><circle cx="901" cy="1456.1" r="4.65"/><circle cx="905.1" cy="1453.5" r="4.65"/><circle cx="930.7" cy="1444.2" r="4.65"/><circle cx="953.6" cy="1430" r="4.65"/><circle cx="896.5" cy="1459.2" r="4.65"/><circle cx="891" cy="1460.1" r="4.65"/><circle cx="908.3" cy="1458.4" r="4.65"/><circle cx="927.6" cy="1446.1" r="4.65"/><circle cx="913.2" cy="1449.4" r="4.65"/><circle cx="889" cy="1465" r="4.65"/><circle cx="960.7" cy="1427.7" r="4.65"/><circle cx="934.3" cy="1444" r="4.65"/></g>
<g fill="#E51F26"><circle cx="874.9" cy="1475.5" r="4.65"/></g>
<g fill="#F6821F"><circle cx="961.3" cy="1428.9" r="4.65"/><circle cx="945.1" cy="1433.9" r="4.65"/></g>
<g fill="#E51F26"><circle cx="899.1" cy="1464.5" r="4.65"/></g>
<g fill="#F6821F"><circle cx="904" cy="1456.7" r="4.65"/><circle cx="917.5" cy="1447" r="4.65"/><circle cx="922.2" cy="1450.5" r="4.65"/><circle cx="944.8" cy="1432.3" r="4.65"/><circle cx="877.2" cy="1467.8" r="4.65"/><circle cx="913.7" cy="1454" r="4.65"/><circle cx="901.2" cy="1456.7" r="4.65"/><circle cx="935.7" cy="1440.4" r="4.65"/><circle cx="967.3" cy="1426.6" r="4.65"/><circle cx="887.2" cy="1466.5" r="4.65"/></g>
<g fill="#E51F26"><circle cx="928.8" cy="1445.4" r="4.65"/></g>
<g fill="#F6821F"><circle cx="951.6" cy="1431.4" r="4.65"/><circle cx="923.6" cy="1450.1" r="4.65"/><circle cx="915.4" cy="1453.5" r="4.65"/><circle cx="888.1" cy="1468.4" r="4.65"/><circle cx="939.3" cy="1440.3" r="4.65"/><circle cx="903.2" cy="1460.3" r="4.65"/><circle cx="969.2" cy="1424" r="4.65"/><circle cx="903.8" cy="1456.2" r="4.65"/><circle cx="942.4" cy="1437.2" r="4.65"/><circle cx="904.5" cy="1460.3" r="4.65"/><circle cx="912.3" cy="1456.4" r="4.65"/><circle cx="932.1" cy="1425.3" r="4.65"/></g>
<g fill="#E51F26"><circle cx="933" cy="1439.9" r="4.65"/><circle cx="946" cy="1428.3" r="4.65"/></g>
<g fill="#F6821F"><circle cx="960.1" cy="1426.4" r="4.65"/><circle cx="901.7" cy="1455.1" r="4.65"/></g>
<g fill="#E51F26"><circle cx="911.4" cy="1450.7" r="4.65"/><circle cx="899.8" cy="1463.7" r="4.65"/><circle cx="888.7" cy="1463" r="4.65"/></g>
<g fill="#F6821F"><circle cx="899.2" cy="1461.6" r="4.65"/><circle cx="950.3" cy="1432.2" r="4.65"/></g>
<g fill="#E51F26"><circle cx="879.1" cy="1471.6" r="4.65"/></g>
<g fill="#F6821F"><circle cx="886.4" cy="1468.4" r="4.65"/><circle cx="884.5" cy="1465.7" r="4.65"/><circle cx="966.4" cy="1425.5" r="4.65"/><circle cx="906.3" cy="1459.4" r="4.65"/><circle cx="884.3" cy="1466.2" r="4.65"/><circle cx="899.3" cy="1457" r="4.65"/><circle cx="876.6" cy="1473" r="4.65"/><circle cx="873.8" cy="1472.4" r="4.65"/><circle cx="939.8" cy="1438.9" r="4.65"/><circle cx="894.3" cy="1460.4" r="4.65"/><circle cx="882.2" cy="1466.8" r="4.65"/><circle cx="899.1" cy="1460.7" r="4.65"/></g>
<g fill="#E51F26"><circle cx="890.1" cy="1464.4" r="4.65"/><circle cx="952.1" cy="1429.8" r="4.65"/></g>
<g fill="#F6821F"><circle cx="879.9" cy="1471.5" r="4.65"/><circle cx="916.5" cy="1452.6" r="4.65"/><circle cx="947.7" cy="1437.9" r="4.65"/><circle cx="889.4" cy="1461.5" r="4.65"/><circle cx="887.9" cy="1463.5" r="4.65"/><circle cx="904.1" cy="1455" r="4.65"/><circle cx="967.2" cy="1423.5" r="4.65"/></g>
<g fill="#E51F26"><circle cx="892.5" cy="1462.5" r="4.65"/></g>
<g fill="#F6821F"><circle cx="908.8" cy="1452.8" r="4.65"/><circle cx="889.5" cy="1464.2" r="4.65"/><circle cx="958.2" cy="1430.7" r="4.65"/></g>
<g fill="#E51F26"><circle cx="947.7" cy="1433.3" r="4.65"/></g>
<g fill="#F6821F"><circle cx="907" cy="1459.1" r="4.65"/><circle cx="923.5" cy="1451" r="4.65"/><circle cx="888.8" cy="1460.8" r="4.65"/><circle cx="896.5" cy="1458.4" r="4.65"/><circle cx="948.4" cy="1433.6" r="4.65"/><circle cx="898.3" cy="1460.9" r="4.65"/><circle cx="925.4" cy="1445.5" r="4.65"/><circle cx="918.6" cy="1451.5" r="4.65"/><circle cx="927.9" cy="1443" r="4.65"/><circle cx="932.4" cy="1441.3" r="4.65"/><circle cx="950.2" cy="1431.1" r="4.65"/><circle cx="951.1" cy="1431.4" r="4.65"/><circle cx="944.7" cy="1438.7" r="4.65"/><circle cx="913.8" cy="1448.4" r="4.65"/><circle cx="876.6" cy="1472.5" r="4.65"/><circle cx="908.9" cy="1456.9" r="4.65"/></g>
<g fill="#E51F26"><circle cx="955.1" cy="1427.7" r="4.65"/></g>
<g fill="#F6821F"><circle cx="925.5" cy="1443.2" r="4.65"/></g>
<g fill="#E51F26"><circle cx="888.9" cy="1463.5" r="4.65"/><circle cx="878" cy="1473.5" r="4.65"/><circle cx="940" cy="1432" r="4.65"/></g>
<g fill="#F6821F"><circle cx="866" cy="1476.2" r="4.65"/><circle cx="932.1" cy="1425.3" r="4.65"/></g>
</g>
<rect x="636.8" y="1296.6" width="356.6" height="426.1" fill="none" stroke="#7a7a7a" stroke-width="1.4"/>
<g stroke="#000" stroke-width="1.9">
<line x1="720.4" y1="1722.7" x2="720.4" y2="1729.2"/>
<line x1="818.5" y1="1722.7" x2="818.5" y2="1729.2"/>
<line x1="916.6" y1="1722.7" x2="916.6" y2="1729.2"/>
<line x1="630.3" y1="1381.8" x2="636.8" y2="1381.8"/>
<line x1="630.3" y1="1475.2" x2="636.8" y2="1475.2"/>
<line x1="630.3" y1="1568.8" x2="636.8" y2="1568.8"/>
<line x1="630.3" y1="1662.2" x2="636.8" y2="1662.2"/>
</g>
<g class="tk" text-anchor="middle">
<text x="720.4" y="1756.1">−0.25</text>
<text x="818.5" y="1756.1">0.00</text>
<text x="916.6" y="1756.1">0.25</text>
</g>
<g class="tk" text-anchor="end">
<text x="625.6" y="1393.8">0.2</text>
<text x="625.6" y="1487.2">0.0</text>
<text x="625.6" y="1580.8">−0.2</text>
<text x="625.6" y="1674.2">−0.4</text>
</g>
<text class="ax" text-anchor="middle" x="815" y="1783.2" xml:space="preserve">Axis.1   [13.7%]</text>
<text class="ax" text-anchor="middle" transform="translate(554 1510) rotate(-90)" xml:space="preserve">Axis.2   [11.3%]</text>
<text class="ti" x="735.3" y="1279.3" style="letter-spacing:0px">Bray-Curtis</text>
</g>
<g class="legend">
<rect x="1053.5" y="618.6" width="316" height="619" fill="#fff" stroke="#000" stroke-width="4.2" stroke-linejoin="round"/>
<rect x="1070.3" y="652.6" width="41.3" height="43.5" fill="#3DA848"/>
<text class="lg" x="1132.3" y="666.3" style="letter-spacing:0.7px">Antecubital</text>
<text class="lg" x="1130.7" y="712.5" style="letter-spacing:0.1px">Fossa</text>
<rect x="1070.3" y="760.3" width="41.3" height="43.5" fill="#84368F"/>
<text class="lg" x="1132.3" y="775.6" style="letter-spacing:0.5px">Anterior</text>
<text class="lg" x="1130.7" y="821.5" style="letter-spacing:0.1px">Nares</text>
<rect x="1070.3" y="867.4" width="41.3" height="43.5" fill="#E56A25"/>
<text class="lg" x="1130.7" y="885" style="letter-spacing:0.35px">Keratiznized</text>
<text class="lg" x="1131.9" y="931" style="letter-spacing:0px">Gingiva</text>
<rect x="1070.3" y="971.5" width="41.3" height="43.5" fill="#DC1F26"/>
<text class="lg" x="1130.9" y="1006.5" style="letter-spacing:0px">Saliva</text>
<rect x="1070.3" y="1075.2" width="41.3" height="43.5" fill="#934423"/>
<text class="lg" x="1127.4" y="1110" style="letter-spacing:1.45px">Stool</text>
<rect x="1070.3" y="1163.2" width="41.3" height="43.5" fill="#E265A6"/>
<text class="lg" x="1130.7" y="1198" style="letter-spacing:0.39px">Mid Vagina</text>
</g>
</svg></body></html>
